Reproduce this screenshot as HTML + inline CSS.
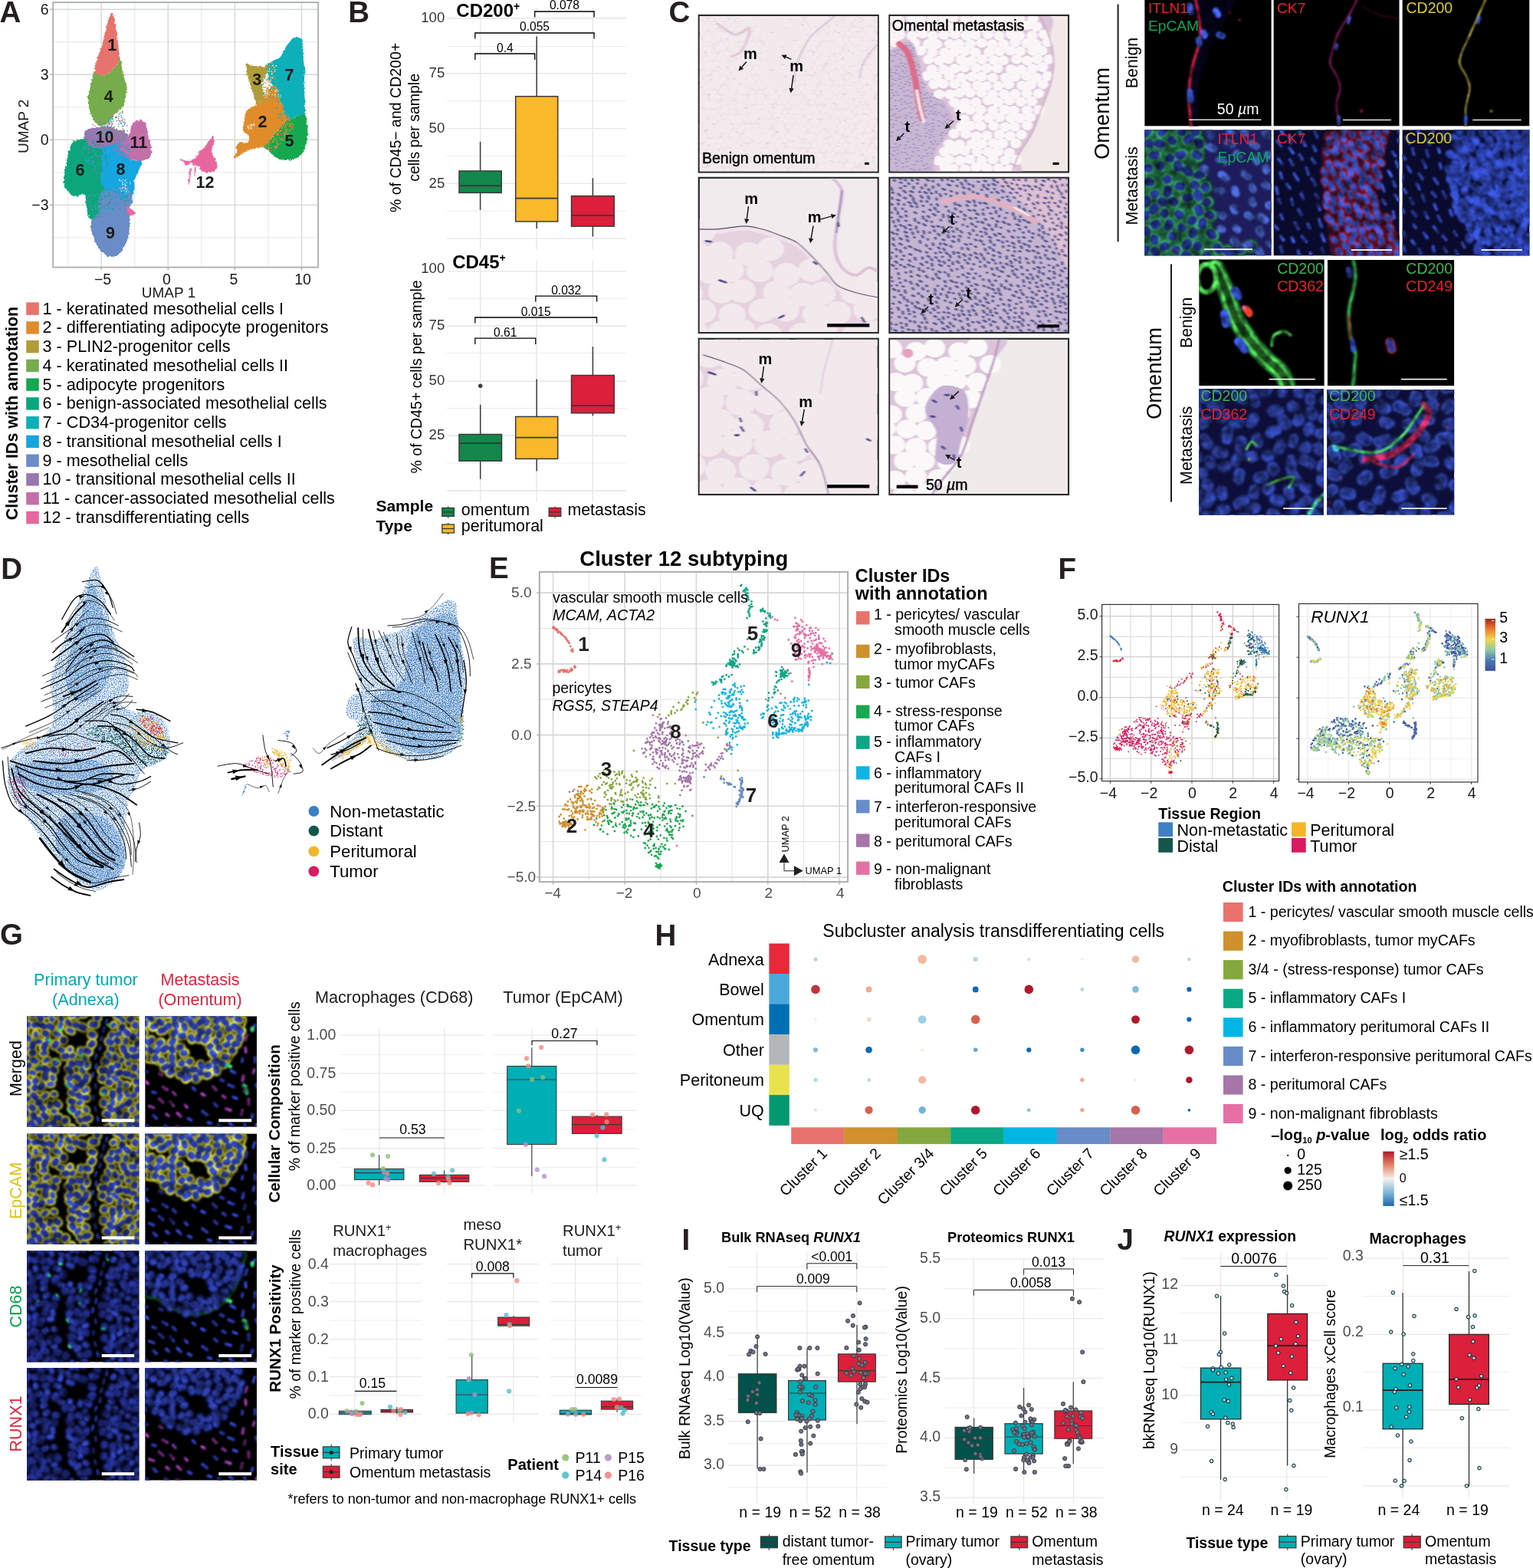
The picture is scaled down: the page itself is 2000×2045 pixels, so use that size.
<!DOCTYPE html>
<html lang="en"><head><meta charset="utf-8"><title>Figure</title>
<style>html,body{margin:0;padding:0;background:#fff}body{width:2000px;height:2045px;overflow:hidden}svg{display:block}text{font-family:'Liberation Sans', Arial, Helvetica, sans-serif;white-space:pre}</style></head>
<body><svg width="2000" height="2045" viewBox="0 0 2000 2045">
<defs>
<filter id="rough" x="-5%" y="-5%" width="110%" height="110%"><feTurbulence type="fractalNoise" baseFrequency="0.35" numOctaves="2" seed="4" result="n"/><feDisplacementMap in="SourceGraphic" in2="n" scale="4" xChannelSelector="R" yChannelSelector="G"/></filter>
<filter id="b3" filterUnits="userSpaceOnUse" x="0" y="0" width="100" height="100" color-interpolation-filters="sRGB"><feGaussianBlur stdDeviation="0.5" result="b"/><feTurbulence type="fractalNoise" baseFrequency="0.13" numOctaves="2" seed="8"/><feColorMatrix type="matrix" values="1.2 0 0 0 0.1 1.2 0 0 0 0.1 1.2 0 0 0 0.1 0 0 0 0 1" result="n"/><feComposite in="b" in2="n" operator="arithmetic" k1="1.2" k2="0.05"/></filter>
<filter id="b4" filterUnits="userSpaceOnUse" x="0" y="0" width="100" height="100"><feGaussianBlur stdDeviation="0.35"/></filter>
<filter id="spk" x="0" y="0" width="100%" height="100%"><feTurbulence type="fractalNoise" baseFrequency="0.75" numOctaves="1" seed="7" result="n"/><feColorMatrix in="n" type="matrix" values="0 0 0 0 0 0 0 0 0 0 0 0 0 0 0 0 0 0 7 -3.5" result="a"/><feComposite in="SourceGraphic" in2="a" operator="in"/></filter>
<filter id="spk2" x="0" y="0" width="100%" height="100%"><feTurbulence type="fractalNoise" baseFrequency="0.8" numOctaves="1" seed="19" result="n"/><feColorMatrix in="n" type="matrix" values="0 0 0 0 0 0 0 0 0 0 0 0 0 0 0 0 0 0 7 -3.45" result="a"/><feComposite in="SourceGraphic" in2="a" operator="in"/></filter>
<linearGradient id="spec" x1="0" y1="1" x2="0" y2="0"><stop offset="0" stop-color="#3f4da0"/><stop offset="0.2" stop-color="#4a7ab8"/><stop offset="0.4" stop-color="#8fc8a4"/><stop offset="0.6" stop-color="#f0d84a"/><stop offset="0.8" stop-color="#ee7a30"/><stop offset="1" stop-color="#a8241c"/></linearGradient>
<path id="g1a" d="M83 51l-1.9 0.5M-2.5 35.3l1.6 2.5M80.1 21.6l0.9 1.1M48.6 9.6l2.2 0.9M98.4 36.1l-2.8 0.5M13.6 82.4l1 1.2M10.6 93.4l0.7 2.2M44.2 54.7l1.8 1.4M0.9 7.4l-0.1 0.5M72.2 100.8l1.1 1M16.3 15.6l1 0.2M34.5 94.1l-0.6 0.7M4.2 82l1.3 1.3M69.2 67.9l-0.2 0.8M91.2 97.6l0.5 0.1M97.3 59.3l1.4 0.3M88.5 14.2l1.2 1.3M5.6 33.1l-0.8 0.1M75.7 46.5l-0.3 2.6M23.5 96.4l1.4 2.7M53.1 73.8l-1 0M0.5 19.7l0.9 0.7M85.7 28.6l1.2 2.8M-0.3 58.9l1.5 1.7M8.8 7.6l-1.9 0.4M1.6 44.4l-2 0.2M53 31.3l2 0.8M71.1 88.2l1.6 1.4M96.8 7.7l-0.4 1.1M53 55.1l-0.7 2.4M30.5 100.6l1.2 1.3M62.5 -1.1l0.3 2.4M37.3 47.4l1.7 2.5M96 45.8l-0.3 1.5M80.8 84.4l1.3 2.6M14 8.6l0.8 0.5M54.8 92l-2.6 1M79.9 -1.2l1.4 0.8M89.5 35.4l0.6 0.6M5.6 39.7l2 1M16.6 52.6l-0.2 3M10.9 -0.5l1.5 2.7M94.8 18.2l-0.5 0.9M69.8 40.7l1.3 0.7M73 59.7l0.7 0.2M20 9l2.1 1.3M39.3 76.8l1.6 0.6M91.3 77.2l-1.2 2M57.5 16.6l1.5 0.7M68.7 77.8l-0.1 1M99.4 65.7l-1.2 0.9M101.1 24.2l-2.6 1.2M26.2 78.9l1.6 1.2M93.3 29.9l2.5 0.3M72.8 23l2.1 0.8M5.9 71.5l1.8 1.7M3.8 96.7l1.4 0.5M32.4 21.3l-0.2 0.8M97.5 97.3l2.4 1.8M7.9 58.1l-0.4 0.9M23.7 48.2l0.8 0.6M88 51.6l1.6 0.4M49.6 60.1l-1.3 2.5M6.2 89.7l0 1.8M40.1 83.1l1.3 1.7M-0.7 86.8l-0.9 2.9M-2.4 -0.2l0.9 2.1M99.4 80.9l1.1 2.2M39.6 42.6l0.9 0.6M60.9 7.4l-2.8 0M26.3 91.3l2 0.4M89 89.1l-0.9 1.3M81 44.5l-0.8 0M85 9.8l-0.6 1.3M5.3 25l-0.7 2.6M26.1 24.6l-1.3 2M92.8 2.4l-0.8 0.4M8.2 100.9l2.1 2M44 8l-0.6 0M13.7 62.5l-1.3 1.8M76.4 69.3l0.1 2.3M14.8 89.2l2.4 1.9M45.5 42.3l2.6 0.5M58.4 24.3l-1 1.4M73.9 82.2l1.8 2.3M-1.9 12.9l-0.1 2M67.6 56l-0.3 0.5M11.4 77.6l-1.4 0.7M100.9 50.5l1.7 1.5M-1.8 49.7l0.3 1.5M69.6 48.9l-2.7 0.1M7.3 64.3l-0.3 0.7M38.8 55.5l-1.3 0.8M26.2 42l-1 0.2M46.3 71.5l1 1.3M82.4 66.6l0 0.9M16.8 -2.4l0.7 1M15.7 47.1l2.4 1.4M16.4 25.7l-1.2 2.9M44.4 63.4l-1.4 2.1M35.2 35.9l-1.6 0.2"/><path id="g1b" d="M20.8 79l-0.7 2.8M22 1.5l0.4 1.8M101.5 74.2l0.5 1.3M88.6 62l0.7 0.2M88.2 21.2l-0.2 2.5M100 90.4l-2.5 1.1M76.3 76l0.5 2.7M12 47.3l-2.6 0.4M41.1 35.4l-1 1.1M48.8 48.3l1.6 1.6M22.3 61.2l-2.4 0.3M30.4 7.3l-0.9 2.9M78.6 35.8l0.5 2.4M40.1 100.6l0.5 0.5M84.7 2.8l0.8 1.2M86.3 79.9l-2.3 1.6M17.2 71.2l-2 1.5M24 70.3l0.6 0.3M30.2 1.7l0.8 1.3M38.5 29.9l-0.1 0.5M51.9 38.2l-0.2 0.7M83.7 71.9l-1.4 2.7M37.1 61.1l2.2 1.7M83.8 97.7l-0.1 1M99.7 -2.1l2.4 1.6M29.3 29.9l2.5 1.1M37.3 12.5l2.8 1.2M23.8 85.9l1.2 0M25.7 15.6l2.9 1.2M18.9 97l-2.5 1.9M96.4 70.6l-2.3 1.4M18.5 39.2l-2.1 1.4M83 60.3l-0.4 1.6M4.1 51l1.9 0.4M93.4 54l2.8 0M39.4 69l2.2 1.6M81.3 91.9l1.2 0.6M0.5 66.7l0.4 1M11.6 22.9l-1.6 0.2M37.8 -2.4l2.3 1.7M18.4 20.8l0.2 1.6M53.3 66.5l-2.4 1.1M-0.5 29.2l-1.1 0.5M72.8 52.5l0.2 1.3M16.1 33.1l-2 0.7M101.2 31.1l0.9 1.9M82.9 15.7l-2.7 0.7M77.6 7.7l-0.9 0.8M48 77.9l-1.5 0.6M74.5 29.6l1.8 0.6M52 83.9l1.2 1.2M50.3 99.3l1.8 0.2M36.3 4.7l1.8 2.5M7.8 15.6l0.3 1.7M48.1 30.6l-0.5 2.3M4.3 -2.6l1.1 2M-1.5 80.1l0.2 2.6M1.5 74.5l-0.6 0.2M76.5 95.7l0.2 0.5M100.6 14.8l-0.8 2M46.9 93.3l0.8 0.7M52 -2.1l-1.7 0.8M93.9 83.8l-0.7 1.2M102.3 41.5l-0.9 0.8M88.5 68.7l1.1 2.6M72.3 34.3l1 2.2M75.8 16.5l-0.7 1.7M-0.2 98l-2.6 1.1M77.3 55.4l2.6 1.7M22.8 54.4l0.4 2.3M90.7 42.6l-0.8 0.1M84.6 39.4l-0.3 0.5M46.5 86.8l-2 2.1M53.6 43.4l-0.3 1.7M45.3 -0.4l-0.5 0.3"/><path id="g1c" d="M72.6 -3.7l-0.8 3.4M71.3 3.3l-0.4 3.5M68.9 10.5l-0.7 3.4M66.9 18.3l-1.1 3.3M65.7 26.6l-0.8 3.4M62 35l-1.1 3.3M62 43.3l-0.6 3.4M59 51.6l-0.6 3.4M61.1 61.6l0.3 3.5M59.4 72l0.1 3.5M60.4 82l1 3.4M62.9 91.1l0.7 3.4M62.3 100.3l0 3.5"/>
<path id="g1g" d="M30.9 11.9l-1.9 0.2M48.5 34.9l-1.1 2.1M35.5 62.2l1.1 1.6M37.5 85.3l1 1.4M19.5 21.4l1 1.1M47.3 46.8l-0.6 0.4M71.9 7.7l0.3 0.7M68.8 69.9l-1.6 0.1M26.7 39.2l0.7 1.7M10.2 44.9l-0.5 0.3"/>
<path id="g2a" d="M64.3 40.4l-2.1 0.7M84.4 18.6l-0.2 2.3M58.5 27.2l-0.5 0.6M66.7 15.8l-0.4 1.6M27.3 14.3l-1.8 1.8M78.4 31.1l-0.7 0.6M26.9 -0.5l-0.4 2.5M13 4.9l1.7 1.1M51.7 -1.2l0.5 3.2M79.5 9l2.8 1.7M40 40.8l-0.7 0.3M5.7 21.6l-2.2 2.4M0.2 6.1l0 1.1M31.8 28l-1.2 0.2M24.8 43.8l-0.4 0.8M-2.5 36.7l1.3 0.5M70 -0.2l-0.7 0.2M24.1 29.4l0.5 1.9M49.7 43.4l1.5 2.4M68.7 42.8l1.6 0.6M3.7 0l1.5 2.2M61.3 -0.9l-1.4 0.1M45.4 54.5l0.5 2.2M74 25.2l-1.8 0.9M9.4 37.2l-0.7 1.4M31.2 52.8l1.7 0.1M48.9 13.5l2.1 0.7M76.6 18.8l-1.5 0.9M36.5 47.6l0.4 1.8M82.4 2.6l2.1 0.4M44.2 -1.5l-0.9 1.2M34.2 17.4l-2.2 0.3M21.4 -1.9l-2.4 0.2M41 18.7l1.1 2.2M63.2 22.6l0.6 0.6M55.3 5.3l-0.4 0.9M56.9 52.6l-1.7 0.5M4.2 30l1 1.1M18.8 28.5l-2.4 1.9M14 23.5l-1.5 1.5M66.8 28.7l-0.9 0.2M71 36.7l1.5 0.3M63.7 46.4l0.2 3.4M35.5 33.3l-1.2 0.1M34.9 8.9l0.8 2.3M26.9 6.1l1.1 2.8M21.3 8.5l-1.6 1.4M44.8 48.2l-2.4 0.2M55.3 19.5l-1.7 2.8M13.9 -2l-3.2 0.6M64.7 10.2l-0.8 0.3M42 7.4l2.3 2.6M39 3.4l0.7 0.5M14.7 39.8l0.5 0.7M57.6 44.8l-1.2 0.7M56.9 13.4l-0.3 0.9M33.2 2.9l-0.6 0.6M74.6 11l0.6 0.8M60.1 33.2l1.8 1.8M76.3 -1.4l1 0.6M39.1 54.7l-2.9 1.7M-2.2 20.9l1.6 1.1M24.1 36.6l0.1 2.7M71 5l1.7 1.3M8.9 9l-1.7 0.7M25.4 22l-1.5 2M-1.3 29.6l-0.6 0.4M33.2 42l-0.9 1M19.5 45.2l-2.3 1.4M36.6 -2.6l0.1 1.3M-1.7 14.3l0.5 1M23.8 49.4l-1.4 1.8M11.7 30l-1.1 1.6M65.7 2.9l-1.8 1.6M16.5 12.6l-2.7 0.5M49.4 5.4l-0.9 0.8M82.4 24.8l-2.5 0.6M-2.4 -1.6l1.7 1.8M86.1 13.5l-0.8 0.5M47.9 18.8l-0.1 1.9M49.4 50.6l0.4 0.5"/><path id="g2b" d="M87 84.8l-1 4.3M89.8 28.3l0.3 4.5M50.8 70.1l2.6 1.6M96.2 89.1l-0.6 2.6M0.4 58.7l2.2 2.2M35.8 80.4l1.9 1.8M76.8 49.4l4 1.9M99.5 97.9l0.2 4.1M15.8 64.1l4 2.2M19.1 88.4l2.3 2M92.7 74.8l0.1 4.8M25.2 68.7l2 2.2M56.4 95.9l2.7 0.8M75.9 96.8l2.9 2.5M74.8 61.9l4.5 2M98.5 37.1l-0.2 4.3M98.4 8.2l-1.5 4.5M13 52.1l2.2 1.2M3.9 81.1l3.9 1.5M7.4 89.6l2.7 2.7M69.4 71.9l2.5 1.6M72.4 83.5l4.4 1.5M1.2 98.6l2.1 2.3M51.5 85.9l4 3M89.6 64.9l-0.8 2.8M28.8 87.5l3.1 3.1M38.5 92.3l2.9 1.6M99.6 61.6l0.4 2.6M79.1 72.9l2.8 1.2M61.9 78.8l2.5 2.4M89 97.5l1 2.7M88.1 53.8l-0.9 4.5M12.6 74.7l3.5 3.1M91.5 17.2l-1.5 4.5M42.9 64.7l1.8 2M87.3 38.3l-0.6 2.7M6.8 68.5l2.7 0.7M17.8 98.6l3.4 2.6M-1.1 48.8l2.6 1.6M60.7 63.5l2.9 3M22.5 77.4l3 3.5M28.3 99.4l2.8 1M67.6 57.3l2.6 1.1M97.7 48.1l-0.9 3.2M65.5 98.1l2.8 2.2"/><path id="g2r" d="M87 84.8l-1 4.3M89.8 28.3l0.3 4.5M50.8 70.1l2.6 1.6M0.4 58.7l2.2 2.2M35.8 80.4l1.9 1.8M99.5 97.9l0.2 4.1M15.8 64.1l4 2.2M19.1 88.4l2.3 2M92.7 74.8l0.1 4.8M25.2 68.7l2 2.2M13 52.1l2.2 1.2M3.9 81.1l3.9 1.5M69.4 71.9l2.5 1.6M72.4 83.5l4.4 1.5M89.6 64.9l-0.8 2.8M28.8 87.5l3.1 3.1M88.1 53.8l-0.9 4.5M12.6 74.7l3.5 3.1M91.5 17.2l-1.5 4.5M60.7 63.5l2.9 3M22.5 77.4l3 3.5M28.3 99.4l2.8 1M97.7 48.1l-0.9 3.2"/>
<path id="g2o" d="M-2.0 -2.0C12.2 -8.5 68.3 -4.8 83.0 -2.0C97.7 0.8 86.2 9.7 86.0 15.0C85.8 20.3 84.3 25.0 82.0 30.0C79.7 35.0 76.3 40.8 72.0 45.0C67.7 49.2 61.3 53.0 56.0 55.0C50.7 57.0 45.2 57.5 40.0 57.0C34.8 56.5 30.0 54.3 25.0 52.0C20.0 49.7 14.5 45.5 10.0 43.0C5.5 40.5 0.0 44.5 -2.0 37.0C-4.0 29.5 -16.2 4.5 -2.0 -2.0Z"/>
<path id="g2g" d="M73.6 44.5l2.8 1M90.7 66.5l0.5 3M96 11l0 2M88.1 62.5l1.7 1"/>
<filter id="b1" filterUnits="userSpaceOnUse" x="0" y="0" width="100" height="100" color-interpolation-filters="sRGB"><feGaussianBlur stdDeviation="0.6" result="b"/><feTurbulence type="fractalNoise" baseFrequency="0.11" numOctaves="2" seed="3"/><feColorMatrix type="matrix" values="1.2 0 0 0 0.1 1.2 0 0 0 0.1 1.2 0 0 0 0.1 0 0 0 0 1" result="n"/><feComposite in="b" in2="n" operator="arithmetic" k1="1.2" k2="0.05"/></filter>
<filter id="b2" x="0" y="0" width="100%" height="100%"><feGaussianBlur stdDeviation="0.8"/></filter>
<linearGradient id="rdbu" x1="0" y1="0" x2="0" y2="1"><stop offset="0" stop-color="#b2182b"/><stop offset="0.25" stop-color="#e58368"/><stop offset="0.5" stop-color="#f5f1ef"/><stop offset="0.75" stop-color="#7fb7d7"/><stop offset="1" stop-color="#1c68ad"/></linearGradient></defs>
<rect width="2000" height="2045" fill="#fff"/>
<line x1="88.7" y1="3.1" x2="88.7" y2="348.6" stroke="#e2e3e4" stroke-width="0.9"/>
<line x1="175.8" y1="3.1" x2="175.8" y2="348.6" stroke="#e2e3e4" stroke-width="0.9"/>
<line x1="262.9" y1="3.1" x2="262.9" y2="348.6" stroke="#e2e3e4" stroke-width="0.9"/>
<line x1="350.0" y1="3.1" x2="350.0" y2="348.6" stroke="#e2e3e4" stroke-width="0.9"/>
<line x1="69.2" y1="54.7" x2="415.0" y2="54.7" stroke="#e2e3e4" stroke-width="0.9"/>
<line x1="69.2" y1="139.8" x2="415.0" y2="139.8" stroke="#e2e3e4" stroke-width="0.9"/>
<line x1="69.2" y1="224.8" x2="415.0" y2="224.8" stroke="#e2e3e4" stroke-width="0.9"/>
<line x1="69.2" y1="309.9" x2="415.0" y2="309.9" stroke="#e2e3e4" stroke-width="0.9"/>
<line x1="132.2" y1="3.1" x2="132.2" y2="348.6" stroke="#d6d7d8" stroke-width="1.4"/>
<line x1="132.2" y1="348.6" x2="132.2" y2="352.1" stroke="#9a9ea2" stroke-width="1.2"/>
<text x="134.0" y="371.0" font-size="19.5" fill="#1a1a1a" text-anchor="middle">−5</text>
<line x1="219.3" y1="3.1" x2="219.3" y2="348.6" stroke="#d6d7d8" stroke-width="1.4"/>
<line x1="219.3" y1="348.6" x2="219.3" y2="352.1" stroke="#9a9ea2" stroke-width="1.2"/>
<text x="217.4" y="371.0" font-size="19.5" fill="#1a1a1a" text-anchor="middle">0</text>
<line x1="306.4" y1="3.1" x2="306.4" y2="348.6" stroke="#d6d7d8" stroke-width="1.4"/>
<line x1="306.4" y1="348.6" x2="306.4" y2="352.1" stroke="#9a9ea2" stroke-width="1.2"/>
<text x="305.0" y="371.0" font-size="19.5" fill="#1a1a1a" text-anchor="middle">5</text>
<line x1="393.5" y1="3.1" x2="393.5" y2="348.6" stroke="#d6d7d8" stroke-width="1.4"/>
<line x1="393.5" y1="348.6" x2="393.5" y2="352.1" stroke="#9a9ea2" stroke-width="1.2"/>
<text x="395.1" y="371.0" font-size="19.5" fill="#1a1a1a" text-anchor="middle">10</text>
<line x1="69.2" y1="12.2" x2="415.0" y2="12.2" stroke="#d6d7d8" stroke-width="1.4"/>
<line x1="65.2" y1="12.2" x2="69.2" y2="12.2" stroke="#9a9ea2" stroke-width="1.2"/>
<text x="63.5" y="19.2" font-size="19.5" fill="#1a1a1a" text-anchor="end">6</text>
<line x1="69.2" y1="97.2" x2="415.0" y2="97.2" stroke="#d6d7d8" stroke-width="1.4"/>
<line x1="65.2" y1="97.2" x2="69.2" y2="97.2" stroke="#9a9ea2" stroke-width="1.2"/>
<text x="63.5" y="104.2" font-size="19.5" fill="#1a1a1a" text-anchor="end">3</text>
<line x1="69.2" y1="182.3" x2="415.0" y2="182.3" stroke="#d6d7d8" stroke-width="1.4"/>
<line x1="65.2" y1="182.3" x2="69.2" y2="182.3" stroke="#9a9ea2" stroke-width="1.2"/>
<text x="63.5" y="189.3" font-size="19.5" fill="#1a1a1a" text-anchor="end">0</text>
<line x1="69.2" y1="267.4" x2="415.0" y2="267.4" stroke="#d6d7d8" stroke-width="1.4"/>
<line x1="65.2" y1="267.4" x2="69.2" y2="267.4" stroke="#9a9ea2" stroke-width="1.2"/>
<text x="63.5" y="274.4" font-size="19.5" fill="#1a1a1a" text-anchor="end">−3</text>
<g filter="url(#rough)">
<path d="M113.9 168.9C120.8 165.3 146.3 167.1 155.2 168.9C164.2 170.7 165.1 173.1 167.8 179.7C170.5 186.3 172.6 204.9 171.4 208.4C170.2 212.0 166.3 203.4 160.6 201.3C154.9 199.2 145.1 197.7 137.3 195.9C129.5 194.1 117.8 195.0 113.9 190.5C110.0 186.0 107.0 172.5 113.9 168.9Z" fill="#9678b0"/>
<path d="M128.3 190.5C133.7 184.5 152.8 190.5 160.6 197.7C168.4 204.9 173.8 222.8 175.0 233.6C176.2 244.4 175.0 256.4 167.8 262.4C160.6 268.3 138.5 274.3 131.9 269.5C125.3 264.7 128.9 246.8 128.3 233.6C127.7 220.4 122.9 196.5 128.3 190.5Z" fill="#12a6e0"/>
<path d="M112.1 248.0C114.8 240.5 131.0 240.5 135.5 242.6C140.0 244.7 139.7 253.7 139.1 260.6C138.5 267.4 135.2 279.4 131.9 283.9C128.6 288.4 122.6 293.5 119.3 287.5C116.0 281.5 109.4 255.5 112.1 248.0Z" fill="#08a67c"/>
<path d="M131.9 251.6C137.9 246.2 161.5 245.0 167.8 248.0C174.1 251.0 175.6 264.2 169.6 269.5C163.6 274.9 138.2 283.3 131.9 280.3C125.6 277.3 125.9 257.0 131.9 251.6Z" fill="#6a8cc8"/>
<path d="M95.9 185.1C100.3 181.3 101.9 182.0 106.7 181.5C111.5 181.0 110.1 181.9 113.9 183.3C117.7 184.7 116.3 184.0 121.1 186.9C125.9 189.8 127.6 188.8 131.9 194.1C136.2 199.3 136.3 198.5 137.3 206.6C138.2 214.8 136.9 216.5 135.5 224.6C134.0 232.8 133.3 230.0 131.9 237.2C130.4 244.4 131.0 243.9 130.1 251.6C129.1 259.2 129.5 258.3 128.3 265.9C127.1 273.6 127.5 274.6 125.6 280.3C123.7 286.1 123.7 287.0 121.1 287.5C118.5 288.0 117.9 286.9 115.7 282.1C113.5 277.3 114.0 275.8 113.0 269.5C112.1 263.3 113.3 263.1 112.1 258.8C110.9 254.4 112.4 254.1 108.5 253.4C104.7 252.7 103.0 257.0 97.7 256.1C92.5 255.1 92.6 254.3 88.8 249.8C84.9 245.2 84.6 245.7 83.4 239.0C82.2 232.3 83.3 232.3 84.3 224.6C85.2 217.0 85.3 217.9 87.0 210.2C88.6 202.6 88.2 202.6 90.5 195.9C92.9 189.2 91.6 188.9 95.9 185.1Z" fill="#08a67c"/>
<path d="M126.5 280.3C130.1 274.1 128.5 274.0 131.9 267.7C135.2 261.5 134.3 261.8 139.1 257.0C143.9 252.2 144.1 251.2 149.8 249.8C155.6 248.3 155.8 248.7 160.6 251.6C165.4 254.4 165.7 253.8 167.8 260.6C170.0 267.3 168.2 269.1 168.7 276.7C169.2 284.4 169.9 281.6 169.6 289.3C169.4 297.0 169.7 296.9 167.8 305.5C165.9 314.1 166.3 314.5 162.4 321.7C158.6 328.8 158.2 328.8 153.4 332.4C148.6 336.0 149.2 335.6 144.5 335.1C139.7 334.7 140.3 334.7 135.5 330.6C130.7 326.6 130.3 326.6 126.5 319.9C122.7 313.1 123.3 313.1 121.1 305.5C118.9 297.8 117.0 297.8 118.4 291.1C119.8 284.4 122.9 286.6 126.5 280.3Z" fill="#6a8cc8"/>
<path d="M133.7 195.9C136.8 188.2 139.2 188.3 144.5 186.9C149.7 185.4 149.1 187.1 153.4 190.5C157.8 193.8 155.8 194.7 160.6 199.5C165.4 204.3 165.2 205.6 171.4 208.4C177.6 211.3 181.1 207.4 184.0 210.2C186.9 213.1 184.1 213.5 182.2 219.2C180.3 225.0 180.2 225.6 176.8 231.8C173.4 238.0 172.5 236.4 169.6 242.6C166.7 248.8 168.4 250.9 166.0 255.2C163.6 259.5 164.9 259.7 160.6 258.8C156.3 257.8 155.6 254.4 149.8 251.6C144.1 248.7 143.9 252.3 139.1 248.0C134.3 243.7 133.6 244.0 131.9 235.4C130.2 226.8 132.3 226.2 132.8 215.6C133.3 205.1 130.6 203.5 133.7 195.9Z" fill="#12a6e0"/>
<path d="M121.1 170.7C125.9 166.9 125.2 166.5 131.9 165.3C138.6 164.1 140.5 164.3 146.3 166.2C152.0 168.1 151.3 168.4 153.4 172.5C155.6 176.6 155.8 177.4 154.3 181.5C152.9 185.6 152.6 185.1 148.1 187.8C143.5 190.4 143.5 189.9 137.3 191.4C131.0 192.8 130.7 194.1 124.7 193.2C118.7 192.2 117.7 191.4 114.8 187.8C111.9 184.2 112.2 184.2 113.9 179.7C115.6 175.1 116.3 174.5 121.1 170.7Z" fill="#9678b0"/>
<path d="M123.8 92.5C126.9 91.3 127.8 96.7 131.9 97.9C136.0 99.1 134.8 99.2 139.1 97.0C143.4 94.9 144.2 93.2 148.1 89.8C151.9 86.5 151.3 88.8 153.4 84.5C155.6 80.1 154.2 70.3 156.1 73.7C158.1 77.0 158.2 87.0 160.6 97.0C163.0 107.1 164.2 103.7 165.1 111.4C166.1 119.1 165.4 118.6 164.2 125.8C163.0 133.0 163.0 133.6 160.6 138.4C158.2 143.2 158.1 140.9 155.2 143.8C152.4 146.6 152.7 145.8 149.8 149.1C147.0 152.5 147.3 153.0 144.5 156.3C141.6 159.7 142.4 159.6 139.1 161.7C135.7 163.9 135.7 164.9 131.9 164.4C128.0 163.9 127.8 163.0 124.7 159.9C121.6 156.8 122.4 157.5 120.2 152.7C118.0 147.9 118.0 148.2 116.6 142.0C115.2 135.7 114.6 136.6 114.8 129.4C115.0 122.2 116.1 122.2 117.5 115.0C118.9 107.8 118.5 108.4 120.2 102.4C121.9 96.4 120.7 93.7 123.8 92.5Z" fill="#76ac4c"/>
<path d="M146.3 17.1C148.4 17.6 148.2 20.5 149.8 27.0C151.5 33.4 151.3 32.7 152.5 41.3C153.7 50.0 153.6 51.2 154.3 59.3C155.1 67.4 155.5 65.2 155.2 71.9C155.0 78.6 155.4 79.7 153.4 84.5C151.5 89.2 151.9 86.5 148.1 89.8C144.2 93.2 143.4 94.9 139.1 97.0C134.8 99.2 136.0 99.1 131.9 97.9C127.8 96.7 125.0 98.5 123.8 92.5C122.6 86.6 125.0 84.3 127.4 75.5C129.8 66.6 130.1 68.4 132.8 59.3C135.4 50.2 134.9 50.4 137.3 41.3C139.7 32.2 139.4 31.6 141.8 25.2C144.2 18.7 144.1 16.6 146.3 17.1Z" fill="#e8736c"/>
<path d="M175.0 159.0C178.8 156.9 181.5 155.6 185.8 157.2C190.1 158.9 189.2 159.8 191.2 165.3C193.2 170.8 191.9 171.7 193.3 177.9C194.8 184.1 195.7 182.0 196.6 188.7C197.4 195.4 198.5 197.8 196.6 203.1C194.7 208.3 194.7 206.8 189.4 208.4C184.1 210.1 182.6 210.3 176.8 209.3C171.1 208.4 172.1 208.0 167.8 204.9C163.5 201.7 163.5 201.5 160.6 197.7C157.8 193.8 156.6 194.3 157.0 190.5C157.5 186.6 159.6 187.1 162.4 183.3C165.3 179.5 165.4 180.9 167.8 176.1C170.2 171.3 169.5 169.9 171.4 165.3C173.3 160.8 171.2 161.2 175.0 159.0Z" fill="#c470a8"/>
<path d="M385.0 49.2C388.3 48.9 390.2 47.9 392.9 50.3C395.6 52.7 394.4 51.6 395.1 58.2C395.9 64.9 395.1 65.9 395.7 75.2C396.3 84.5 397.1 84.2 397.4 93.3C397.7 102.3 396.8 100.4 396.8 109.1C396.8 117.8 397.1 117.0 397.4 126.0C397.7 135.1 398.0 136.7 398.0 143.0C398.0 149.3 399.7 147.4 397.4 149.8C395.1 152.2 393.7 150.8 389.5 152.0C385.3 153.2 385.2 153.7 381.6 154.3C378.0 154.9 378.6 155.8 375.9 154.3C373.2 152.8 373.5 152.9 371.4 148.6C369.3 144.4 369.8 143.6 368.0 138.5C366.2 133.4 366.1 134.3 364.6 129.4C363.1 124.6 363.6 124.6 362.4 120.4C361.2 116.2 362.5 116.6 360.1 113.6C357.7 110.6 356.0 111.8 353.3 109.1C350.6 106.4 351.1 107.1 349.9 103.4C348.7 99.8 349.4 100.1 348.8 95.5C348.2 91.0 345.9 90.7 347.7 86.5C349.5 82.3 351.1 82.7 355.6 79.7C360.1 76.7 360.7 78.8 364.6 75.2C368.5 71.6 367.3 71.0 370.3 66.2C373.3 61.3 373.2 61.0 375.9 57.1C378.6 53.2 378.0 53.6 380.5 51.5C382.9 49.4 381.7 49.5 385.0 49.2Z" fill="#0cb0b8"/>
<path d="M321.1 83.1C322.9 81.9 324.7 84.5 328.5 85.4C332.2 86.3 331.0 86.2 335.3 86.5C339.5 86.8 341.0 86.8 344.3 86.5C347.6 86.2 346.6 83.6 347.7 85.4C348.7 87.2 348.9 88.8 348.2 93.3C347.6 97.8 347.1 98.1 345.4 102.3C343.8 106.5 342.6 104.9 342.0 109.1C341.4 113.3 342.6 113.3 343.2 118.1C343.8 123.0 345.2 123.6 344.3 127.2C343.4 130.8 342.2 129.3 339.8 131.7C337.4 134.1 337.1 136.8 335.3 136.2C333.4 135.6 334.5 133.7 333.0 129.4C331.5 125.2 331.4 125.8 329.6 120.4C327.8 115.0 328.2 115.1 326.2 109.1C324.3 103.1 323.5 102.9 322.3 97.8C321.1 92.7 322.0 93.8 321.7 89.9C321.4 86.0 319.3 84.3 321.1 83.1Z" fill="#b09c38"/>
<path d="M375.9 154.3C378.3 152.8 378.0 154.9 381.6 154.3C385.2 153.7 385.3 153.2 389.5 152.0C393.7 150.8 394.5 147.7 397.4 149.8C400.3 151.9 399.2 154.2 400.2 159.9C401.3 165.7 401.2 165.2 401.4 171.2C401.5 177.3 401.8 176.5 400.8 182.5C399.7 188.6 399.8 188.4 397.4 193.8C395.0 199.3 395.7 199.3 391.8 202.9C387.8 206.5 387.5 205.9 382.7 207.4C377.9 208.9 378.5 208.5 373.7 208.5C368.9 208.5 369.5 209.2 364.6 207.4C359.8 205.6 359.5 204.8 355.6 201.8C351.7 198.7 353.0 198.8 349.9 196.1C346.9 193.4 344.3 194.3 344.3 191.6C344.3 188.9 346.9 189.2 349.9 185.9C353.0 182.6 352.9 182.8 355.6 179.2C358.3 175.5 357.1 176.0 360.1 172.4C363.1 168.8 363.6 168.9 366.9 165.6C370.2 162.3 370.1 163.0 372.5 159.9C375.0 156.9 373.5 155.8 375.9 154.3Z" fill="#14a850"/>
<path d="M335.3 136.2C338.3 134.1 337.4 134.4 339.8 131.7C342.2 129.0 341.6 129.7 344.3 126.0C347.0 122.4 346.9 122.1 349.9 118.1C353.0 114.2 352.9 112.6 355.6 111.4C358.3 110.2 358.3 111.2 360.1 113.6C361.9 116.0 361.2 116.2 362.4 120.4C363.6 124.6 363.1 124.6 364.6 129.4C366.1 134.3 366.2 133.4 368.0 138.5C369.8 143.6 369.3 144.4 371.4 148.6C373.5 152.9 375.6 151.3 375.9 154.3C376.2 157.3 375.0 156.9 372.5 159.9C370.1 163.0 370.2 162.3 366.9 165.6C363.6 168.9 363.1 168.8 360.1 172.4C357.1 176.0 358.3 175.5 355.6 179.2C352.9 182.8 353.0 182.9 349.9 185.9C346.9 188.9 347.6 188.6 344.3 190.5C341.0 192.3 341.1 191.8 337.5 192.7C333.9 193.6 334.4 192.9 330.7 193.8C327.1 194.7 327.6 194.6 324.0 196.1C320.3 197.6 320.8 197.4 317.2 199.5C313.6 201.6 313.6 202.4 310.4 204.0C307.2 205.7 305.6 207.5 305.3 205.7C305.0 203.9 308.5 201.0 309.3 197.2C310.0 193.5 306.9 194.9 308.1 191.6C309.3 188.3 310.8 186.0 313.8 184.8C316.8 183.6 316.4 188.0 319.4 187.1C322.4 186.2 324.5 184.7 325.1 181.4C325.7 178.1 323.7 177.6 321.7 174.6C319.7 171.6 318.9 173.1 317.7 170.1C316.5 167.1 316.7 168.2 317.2 163.3C317.6 158.5 318.2 156.9 319.4 152.0C320.6 147.2 319.3 148.6 321.7 145.3C324.1 141.9 324.9 142.0 328.5 139.6C332.1 137.2 332.2 138.3 335.3 136.2Z" fill="#e08c2c"/>
<path d="M278.2 178.0C279.4 179.2 279.2 181.7 278.8 185.9C278.3 190.2 276.8 189.6 276.5 193.8C276.2 198.1 276.4 197.8 277.6 201.8C278.8 205.7 279.5 204.3 281.0 208.5C282.5 212.7 283.3 214.0 283.3 217.6C283.3 221.2 283.4 220.3 281.0 222.1C278.6 223.9 277.9 223.7 274.2 224.4C270.6 225.0 270.8 225.3 267.5 224.4C264.1 223.4 264.2 223.1 261.8 221.0C259.4 218.9 260.8 217.9 258.4 216.4C256.0 214.9 255.2 216.5 252.8 215.3C250.4 214.1 251.5 211.9 249.4 211.9C247.3 211.9 247.0 214.4 244.9 215.3C242.7 216.2 243.0 216.5 241.5 215.3C240.0 214.1 240.7 212.6 239.2 210.8C237.7 209.0 236.4 209.4 235.8 208.5C235.2 207.6 235.1 207.1 236.9 207.4C238.8 207.7 239.0 209.4 242.6 209.7C246.2 210.0 246.9 210.0 250.5 208.5C254.1 207.0 253.4 207.0 256.2 204.0C258.9 201.0 258.0 200.2 260.7 197.2C263.4 194.2 263.6 195.4 266.3 192.7C269.0 190.0 268.7 190.1 270.8 187.1C273.0 184.0 272.3 183.8 274.2 181.4C276.2 179.0 277.0 176.8 278.2 178.0Z" fill="#e8669e"/>
<line x1="248.8" y1="219.8" x2="246.2" y2="241.3" stroke="#e8669e" stroke-width="1.8"/>
<line x1="255.0" y1="216.4" x2="253.9" y2="228.9" stroke="#e8669e" stroke-width="1.5"/>
<path d="M166.0 269.5C167.4 268.9 174.7 274.9 175.9 276.7C177.1 278.5 174.6 279.7 173.2 280.3C171.9 280.9 169.0 282.1 167.8 280.3C166.6 278.5 164.7 270.1 166.0 269.5Z" fill="#e8669e"/>
</g>
<path d="M129.9 258.8h0m.6-5.1h0m1.4 5.1h0m.4 12h0m.4-8.9h0m5.7 4.7h0m.1-15h0m0 8.7h0m.6 2.6h0m0-12.6h0m.8 9.4h0m.2 5h0m.8-11.1h0m.1 14.8h0m0-3.3h0m.8-9.1h0m2.4 6.5h0m1.1 7.1h0m.2-21.9h0m.5-1.5h0m1.6 9.2h0m.6-5.8h0m.6-2.9h0m.1 22.2h0m.1-14.4h0m0 12.2h0m2.1-19.1h0m.4 26.6h0m1.1-3.6h0m1-16.8h0m.1-2.7h0m1 2h0m.4 .1h0m.2-1.6h0m.1 20.2h0m.4-25.6h0m.7 23.6h0m0-24.6h0m.4 14.5h0m1-8.1h0m.2 16.4h0m.3-23.5h0m.9 27.9h0m.9-5.2h0m.3-20.6h0m.4 8.6h0m.8-12.8h0m.2 24.5h0m.9-3.7h0m.4-20.8h0m.5 18.4h0m.7-2.9h0m1-1.4h0m1.6-2.1h0m1.1-.6h0m.8 .4h0m.6 .6h0m.7 .8h0" stroke="#9678b0" stroke-width="1.70" stroke-linecap="round" fill="none"/>
<path d="M129.1 262.9h0m4-12.4h0m0 22.2h0m.1-17.9h0m.3 16.3h0m.1-1.1h0m.5-21.4h0m1.1 10.1h0m1-7.9h0m.1-3.2h0m.1 18.5h0m.1-16h0m0 2.5h0m.4 9.2h0m.1-12h0m.3-2.9h0m0 14.9h0m2.2-12.6h0m.1 8.3h0m1.6-3.2h0m.2 3.2h0m0 5.1h0m.3-13.8h0m.1 26.4h0m.1-26.1h0m.3 19.5h0m0 3.5h0m.4-5.4h0m0-11.4h0m1.5-.3h0m.1 7.2h0m.2 .3h0m1.7 12h0m.1-12.9h0m.1 5.9h0m.1-1.8h0m.1-1.6h0m0-6.3h0m.6 .5h0m1.3-9.3h0m.1 21.8h0m.5-8.5h0m.6-8.9h0m1.2 14h0m.2-6.2h0m.3 8.9h0m.5-25h0m.3 16.6h0m.6-14.4h0m.1 19.9h0m.7 6.1h0m.5-24.5h0m0 11.9h0m1.7 11.3h0m.4-9.8h0m0 1.3h0m0-6.7h0m.1 .4h0m1-10.5h0m0-3.6h0m.1 27.7h0m.3-17.3h0m.6-7.9h0m.6 21.7h0m.3-22.7h0m.1 9.9h0m.1 10.7h0m0-12.5h0m0 1.3h0m.4-10.1h0m.2 17.2h0m.3-7.4h0m.2 17.2h0m.4-16h0m.6 4.3h0m.2 8.8h0m.4-13.5h0m.1-8.6h0m.4 17.3h0m0 1.6h0m.2-22.7h0m.7 21.3h0m.9-2.7h0m.8-11.2h0m.1-2.6h0m.2 11.3h0m.5-15.9h0m0 .1h0m.3 1.9h0m.2 12.7h0m.4-11.3h0m.2 .5h0m.1 1.8h0m.2 17.7h0m.2-21.4h0m.3 15.1h0m.5-10.6h0m.2-2.9h0m.2 8.3h0m.1 4.8h0m.6 2.6h0m.9-3.7h0" stroke="#6a8cc8" stroke-width="1.70" stroke-linecap="round" fill="none"/>
<path d="M130.6 264.3h0m.3-11.9h0m.5 3.7h0m4.3 13.1h0m.4 3.9h0m.3-16.7h0m2.3-9.1h0m.4 9.9h0m.1 14.6h0m.5-3.9h0m0-13.3h0m1.3 11.5h0m.8-19h0m.1 5h0m.3 .7h0m.5 12.4h0m.1-1h0m.4-8.4h0m.2 0h0m.9 4h0m1.8 11.7h0m.5 .9h0m3.1-6.3h0m.4-16.4h0m.8 7.6h0m.5-12.4h0m1 18.2h0m4.4-4.6h0m.5 .9h0m1.1 .7h0m1.3-9.4h0m1.3 11.3h0m1.3-4.5h0m.6-8.1h0m.2 14.5h0m.4 3.8h0m.6-6.3h0m.1-4.9h0m1.4 1.3h0m1.5 3.7h0m.2-.3h0m1.2-9.6h0" stroke="#08a67c" stroke-width="1.70" stroke-linecap="round" fill="none"/>
<path d="M131.2 266.5h0m.8-7.7h0m.1 10.8h0m.3-1.9h0m1.2-6.9h0m.3-9.5h0m1.6 7.1h0m.2-6.8h0m0 2.1h0m.3 19.1h0m.3-22.4h0m.3 9.4h0m.2-4.3h0m2.5 16.4h0m1.4-18.9h0m.2 18.3h0m2.5-9.5h0m0 2.2h0m.1-16.1h0m0 23.3h0m.5-19.2h0m1.7 3h0m0-8.2h0m.7 8.7h0m.5 11.2h0m0-12.5h0m.5 12.4h0m.1 7.8h0m.6-26.6h0m0 11.7h0m1 4.4h0m1.1-9.2h0m1.2 11.1h0m.2 2.7h0m1.7-3.4h0m.2-14.7h0m.3-4.3h0m0 6.2h0m.4 14.6h0m.4-20.5h0m.7 11.1h0m1.5 15.2h0m.1-13.3h0m2.2-11h0m1.1 4.7h0m.6 7.2h0m.1-2.1h0m.5-4.7h0m1.1-3h0m.6 2.7h0m2.1 2h0m.1 7.2h0m1-15.2h0m1.7-.8h0m.3 .7h0m.9 7.5h0m.7 1.9h0m.6 3h0" stroke="#12a6e0" stroke-width="1.70" stroke-linecap="round" fill="none"/>
<path d="M107.5 198.3h0m1.6-3.7h0m1.6-3h0m1.4 17.4h0m.4-21.9h0m.8 7.4h0m2.3 4.3h0m.1-4.9h0m.3 15.1h0m3.1-16.9h0m.2 13.4h0m.8 9.3h0m.6 8.3h0m.7-12.3h0m.3-25.9h0m.4 11.4h0m.5 20.2h0m0-6.4h0m.5 12.9h0m.8-19.9h0m.2 16.4h0m1.1-18.4h0m.5 24.5h0m.4-22.1h0m1.1 1.2h0m1.1 10.7h0m.8-12.1h0m.9-15.9h0m.4 15.8h0m1.3-5.2h0m.1-9.1h0m1 .1h0m.7 40.3h0m.5-22.4h0m2.3-16.3h0m.1 7h0m.4 22.4h0m3.2-8.9h0m.3-3.2h0m.6-2.1h0" stroke="#9678b0" stroke-width="1.70" stroke-linecap="round" fill="none"/>
<path d="M107.7 198.6h0m1.1 2.7h0m1.8-.6h0m.7-2h0m.1-11.2h0m.6 4h0m.3 5.2h0m.5 2.7h0m.4 1h0m.2 10.1h0m0-28.8h0m.6 14.1h0m0-7.6h0m.8 16.1h0m.3 .7h0m1.2-14.4h0m.5 27.3h0m1.1-27.8h0m.3 8.9h0m0-4.1h0m.3-3.1h0m.4 27.4h0m.6 1.9h0m.2-25.2h0m.9-10.3h0m.1 21.7h0m.1-22.8h0m1.2 40.9h0m.1-2.3h0m.2-9.5h0m.3-26h0m0 32.7h0m.1-4.6h0m1.2-6.9h0m0-.5h0m.2-17.7h0m.3 20.5h0m.3-5.5h0m.2-16.9h0m0 11.1h0m.1 0h0m.1-9.4h0m.1 37.6h0m.3-26.1h0m.1 19.1h0m.3 3.6h0m0-24.3h0m.2 11.6h0m.2 0h0m.2-5.9h0m.1-10h0m0 .9h0m.5-3.7h0m.4 1h0m.3 6.4h0m.8-11.4h0m.6 38.2h0m.1-23.9h0m.1 20.3h0m.5-28.9h0m.6 13.3h0m.3-8.5h0m.3 19.6h0m.7-9.3h0m.2-13.4h0m0 23.6h0m.9-20.4h0m.1-1.7h0m.2 26.3h0m0-33.7h0m.2 34.2h0m.2-3.1h0m.1-20.9h0m2.8-4.2h0m.2-1.5h0m.9 10.9h0m.1-2.3h0m.8-.9h0m.5 13.8h0m.8-8.2h0m.4 4.2h0m1 1.7h0" stroke="#08a67c" stroke-width="1.70" stroke-linecap="round" fill="none"/>
<path d="M107.7 198h0m3.4 8.7h0m.3-13.5h0m1.7-3.3h0m.7 20.5h0m.1 1.3h0m.5-2.4h0m.6-18.8h0m1.2 27h0m.1-11.8h0m0 3.4h0m1.8 1.5h0m2 2.2h0m.2-7.5h0m.4-16h0m.1 15h0m0-9.4h0m.1-4.6h0m.1 .8h0m.8 20h0m1.2 11.7h0m1.6-22.4h0m.1-15.3h0m.1 31.6h0m.1-15.5h0m.8 2.3h0m.1 9.6h0m2.5-16h0m1.4-6h0m1 3.1h0m.1 18h0m2.4-4.4h0m1.9 11.4h0m2.3-18.8h0m.1 8.4h0m.4 9.2h0m.1 1.8h0m.2-8.6h0" stroke="#12a6e0" stroke-width="1.70" stroke-linecap="round" fill="none"/>
<path d="M126.7 173.9h0m.5-15.1h0m1 2.2h0m1.5 12h0m1 1.8h0m.5-4h0m1.1-4.8h0m.8 1.5h0m0-9.6h0m.7 2.5h0m.2 16.3h0m0-1.3h0m.6-19.9h0m.1 12.7h0m.7-8.3h0m1.1 18.6h0m.5-1.9h0m2.7-8.6h0m0-6.4h0m.7 17.3h0m1.6-2.5h0m.1-9.7h0m0-5.5h0m1 21.8h0m2-10h0m.3-14.7h0m1.8 8.6h0m.2 15.3h0m.2-23.8h0m0 24.2h0m.3 1.1h0m1-17.3h0m0 12.5h0m0-7.7h0m0-6h0m.3 6.3h0m.3 .4h0m1.5-18.2h0m.5 16.1h0m.2-17.8h0m.6 1.2h0m1.4 17.9h0m.3 13.7h0m.6-19.9h0m.3 10.9h0m.3 4.2h0m.9 4.8h0m.5-5.7h0m0-6.2h0m2.1-16h0m0-4.2h0m.1 .3h0m.7-7.3h0m0 39h0m.2-37.5h0m.2-2h0m.5 36.8h0m.7-12.6h0m.5 1.8h0m.3 9.9h0m.8-6.4h0m0-18.5h0" stroke="#76ac4c" stroke-width="1.70" stroke-linecap="round" fill="none"/>
<path d="M117.9 171.4h0m3.1-1.7h0m.3-7.1h0m1 6.7h0m.9 3.7h0m.4-8.5h0m.8 5.9h0m7.5-13.1h0m.9 14.5h0m1.5-1.9h0m1.6 2h0m1.5 1.9h0m.1 5.8h0m.9-9.4h0m1 7h0m1.6-14.9h0m1.1-1.5h0m.7-.8h0m.6 13.1h0m1.5 9.2h0m.2-31.6h0m1.8 10.6h0m.4-11.7h0m0 30h0m.5-6.6h0m2.9-20.1h0m.2 17.9h0m.7 1.8h0m.3 5.9h0m.4-6.5h0m1.5 13.5h0m.6-31.1h0m.8-2.8h0m1.1 6.1h0m.2 .2h0m1.2 17.2h0m.5 2h0m0-2.8h0m1.6-3.4h0m.3 13h0m0-1h0m.1-14.9h0m.7-8.2h0m.1 4.6h0" stroke="#c470a8" stroke-width="1.70" stroke-linecap="round" fill="none"/>
<path d="M131.1 159.5h0m.2 3.3h0m2.8-2.2h0m4.8 14h0m1.2-10.2h0m0 15.7h0m1.7-9.2h0m.5 8h0m.6-25h0m.3 8.9h0m.5-2.1h0m1.7 6.2h0m.3-6.9h0m.1 2.3h0m.1 .4h0m1.7 5.4h0m4.6-10.4h0m1.8 23.2h0m.8 1.4h0m0-25.5h0m2.1-9.4h0m.1 36.5h0m1.2-22.7h0m1.5-3.3h0m.7-2.8h0m.9 23.2h0m1-8.2h0m0-7.6h0m.2-3.2h0m1.4 18.5h0m1.7-13.9h0" stroke="#9678b0" stroke-width="1.70" stroke-linecap="round" fill="none"/>
<path d="M124.2 168.8h0m.8 5.5h0m4.5 .3h0m1.1-.9h0m0-14.9h0m2.3 15.5h0m1.5-7.4h0m2.7 8.2h0m.4-13.1h0m.1 8h0m.4-.5h0m1.3 6.9h0m.1 2.6h0m.5-8.8h0m.7-5.3h0m.8 10.4h0m.4-18.2h0m.2 17.9h0m.2-19.2h0m1.1 10.3h0m.9-8.2h0m0 12.8h0m.6-15h0m.9 9h0m1.1-8.8h0m.2-1.5h0m2.3 16.4h0m2.5 2.3h0m.2-20.2h0m.2 31.3h0m2.1-2.4h0m.6-19.7h0m.2 17.2h0m.4-30.2h0m.9 38.1h0m.1-28.5h0m1.2-8.2h0m.1 9.9h0m.2 27.9h0m1.6-23.7h0m3.5-3.7h0m.9 15.4h0m2.2-5.6h0" stroke="#12a6e0" stroke-width="1.70" stroke-linecap="round" fill="none"/>
<path d="M149 193.8h0m.3 2.2h0m2.1-.7h0m.3-2.8h0m3.6 7.3h0m.3 2.4h0m.5-6.1h0m.5 5.5h0m.9-6.3h0m.5-8.4h0m.1 9.8h0m.2 4.5h0m.1-1.3h0m.2-9h0m1.4-8.5h0m.3 20.6h0m.9-1.4h0m.1-12.1h0m1.7 14.6h0m.8 .1h0m.3-1.1h0m.6-8.3h0m2-8.4h0m.3 17.4h0m1.4-11.7h0m.9 7.4h0m.7-1.7h0" stroke="#c470a8" stroke-width="1.70" stroke-linecap="round" fill="none"/>
<path d="M149.1 193.1h0m0 .4h0m2.4 6h0m2.9-10.1h0m1.1 7.2h0m0-.5h0m.2-9.5h0m.8-1.6h0m.3 4.4h0m0 .5h0m1.2-3.8h0m.6 .5h0m.3 14.4h0m1.5-15h0m.1 3.4h0m1.2 9.6h0m.4-9.7h0m.2 3.8h0m.5-9.8h0m.6 19.4h0m.7-21.6h0m.9 9.2h0m.3-.6h0m.6-.8h0m.5 1.5h0m1 3.5h0m.3 0h0m.6-1.4h0" stroke="#9678b0" stroke-width="1.70" stroke-linecap="round" fill="none"/>
<path d="M153.4 191.9h0m.6-3.5h0m.2-.9h0m.4 8.3h0m.7 5.7h0m.3-16.5h0m1.8 17h0m1.1 1.7h0m.1-.7h0m1.1-11.4h0m.5-1.8h0m.2-7.5h0m.9 1.1h0m1.9 8.5h0m.5 2.8h0m1 8.1h0m0-10.8h0m.8 1.9h0m.2-9.1h0m1.3-2.8h0m.3 14.1h0m0 6.8h0m.8-14.7h0m.6 6.9h0m1.1 2.9h0" stroke="#12a6e0" stroke-width="1.70" stroke-linecap="round" fill="none"/>
<path d="M117.1 262.5h0m.6 2.8h0m.1-5.3h0m.5 8.1h0m.3-5.4h0m.1-3.2h0m.3-.1h0m.6 15.8h0m.1-6.2h0m.1 4.7h0m.1 4.4h0m.1 3.5h0m0-26.8h0m.1 14.2h0m.4 .4h0m.5-4.6h0m.7 13.1h0m.2-19.6h0m.1 16.7h0m0 3.5h0m1-8.6h0m.2-18h0m.2 25.6h0m.2 .8h0m.1-12.4h0m.1 11h0m.9-.8h0m.1-26.5h0m.2 20.1h0m.8 .8h0m.2-.1h0m.2-10.1h0m.4 19.2h0m0-16.2h0m.1 7.1h0m.2-15.1h0m.2 .2h0m.3-2.3h0m.8 8.3h0m.1 11.8h0m.1-.2h0m.5-15.5h0m0 24.3h0m.1-21.4h0m.2 5.8h0m.2 11.4h0m.3-1.1h0m.5-5.1h0m0 9.9h0m.1-7.5h0m.3-11.8h0m.2-8.5h0m.1 6.4h0m.1 6.6h0m.6-7h0m.6 12.1h0m.2-14.7h0m.8 3.4h0" stroke="#08a67c" stroke-width="1.70" stroke-linecap="round" fill="none"/>
<path d="M116.2 255h0m1.3 7.9h0m1.2 6.3h0m.8-14.4h0m.3 17.9h0m.1-12.7h0m1.6 14.3h0m1-18.7h0m1.1 13.8h0m.5-13.6h0m.3 28.3h0m.4-12.5h0m.3 1.2h0m.3-7h0m2.5-4.6h0m.4-8.6h0m1.6 22.7h0m1.4-13.1h0m.2-.3h0m.5-.1h0m1.2 16.1h0m.3-11.3h0" stroke="#6a8cc8" stroke-width="1.70" stroke-linecap="round" fill="none"/>
<path d="M342.3 110.6h0m1.4-1.3h0m.4 12.6h0m.3-1h0m0 6.5h0m.1 3.5h0m1.3-29.2h0m1-.1h0m.1 26.7h0m.1-32.7h0m.2 25h0m.6-3.6h0m.1-26.4h0m1.6 12.4h0m0 .3h0m.1-9.5h0m.6 33.8h0m.2-39.2h0m.2 35h0m0-31.8h0m.3-8.4h0m.1 5.7h0m.1-3.3h0m0 39.8h0m1-41.9h0m0 33.8h0m1.3 5h0m.2-6.6h0m1-33.9h0m1.2 11.8h0m.4 13.9h0m.3 7.5h0m.1-18.6h0m.5 4.7h0m.1-1.8h0m.1 27.5h0m.1-28.6h0m.9 17.7h0m1.2-4.5h0" stroke="#0cb0b8" stroke-width="1.70" stroke-linecap="round" fill="none"/>
<path d="M342.2 123.6h0m.3-4.2h0m1.7-2h0m.8-23h0m.1 36.6h0m1.2-17.1h0m.4 15.5h0m.1-40.7h0m.2 5.8h0m0-4.6h0m.2 18.1h0m1.3-14.9h0m0 22h0m.1 14.2h0m0-25.1h0m.7 5.3h0m.3 5.4h0m1.1-14.7h0m.2 21.9h0m0 5.7h0m.5-42.7h0m.2 31.5h0m0 8.1h0m.4-18.2h0m1.1-2h0m.3 24.6h0m.4-16.6h0m.1 9.7h0m.4-39.7h0m0 10.1h0m.5 23h0m.2 15.2h0m.6-3.7h0m.9-40.3h0m0 7.1h0m.2-6.5h0m1.2 27.1h0m1-2.9h0m.1 4.7h0m1.1-9.6h0" stroke="#b09c38" stroke-width="1.70" stroke-linecap="round" fill="none"/>
<path d="M342.4 128.2h0m.2-2.1h0m0-5.8h0m1.6-6.2h0m.2-13.3h0m.1 24.9h0m.2-35.1h0m0 36.6h0m.4-19.7h0m.7-14.6h0m.5 29.7h0m.1-8.6h0m.4-19.3h0m.1 24.1h0m.5-33.9h0m.1 8.6h0m0 10.8h0m.1 14h0m.1 2h0m.9-2.3h0m.2-19.5h0m.2 4.6h0m.1-15.3h0m.2 26.6h0m.2-8.9h0m.1 11.1h0m.1-29.3h0m.1 12.4h0m.2 20h0m.5 5.1h0m0-18.5h0m.1 14.1h0m.1-.5h0m.2-2.5h0m.1-6.2h0m.1 12.4h0m0 .8h0m.1 6.7h0m.2-24.3h0m.3 4.6h0m.1-5.4h0m.5-19.3h0m.1 18.8h0m.4-12.1h0m.3-10.9h0m.3 18.6h0m.1-8.3h0m0-6.4h0m.5 27.4h0m1.2-24.1h0m.1-7.6h0m.2 18.7h0m.7 22.2h0m.3-37.1h0m.2 16.2h0m0 27.2h0m.3-35.2h0m.6-1.7h0m.6 6.5h0m.5 3.4h0m.5 22.5h0" stroke="#e08c2c" stroke-width="1.70" stroke-linecap="round" fill="none"/>
<path d="M357.5 118.9h0m2.3 7.4h0m1 3.6h0m.2 10.7h0m.1-17.8h0m.1 1.1h0m.1 17.5h0m.2-.6h0m1.2 .1h0m.5 8.7h0m.1-23.6h0m.3 23.7h0m.2-17h0m.3-4.9h0m.2 25.5h0m.4 .5h0m1.3-6h0m.4 5.9h0m.2-4.5h0m.1 2.9h0m.6 3.1h0m.7 1.6h0m.1-13.9h0m.2 19.7h0m.2-20.5h0m.1 7.6h0m0 6.1h0m.3-12.6h0m.8-.8h0m1.5 3.1h0m.7-3.3h0m1 12.8h0m.3-4.9h0m1.1 3.3h0m.4-2.6h0m.9 0h0" stroke="#0cb0b8" stroke-width="1.70" stroke-linecap="round" fill="none"/>
<path d="M358.2 123.9h0m.7-1.7h0m.1 5.5h0m.7 1.5h0m.4 1.8h0m0 2.6h0m.1-12h0m.1 11.4h0m.4 6.4h0m0-14.5h0m1 12.6h0m.4 3.6h0m.1-17.4h0m.1 7.5h0m.1 4h0m.2 10.1h0m.2-10.8h0m.1-4.6h0m.1 .1h0m.1 17.8h0m.1-7.1h0m.3-4h0m.1-8.4h0m.5 20.7h0m.2-21.7h0m.1 20h0m.1-1.6h0m.2-15h0m.1 10.4h0m0 3.3h0m0 1.7h0m.1-12.1h0m.4 3.3h0m.5 5.9h0m.3 10.3h0m.3-8.4h0m0-6.8h0m.1-1.8h0m0 8.6h0m.3 11.4h0m.1-6.2h0m.1 13.4h0m.1-.8h0m.1-17.7h0m0-9h0m.1 8.2h0m.1-2h0m.1 19.2h0m.1-26.5h0m.1 19.6h0m0-3.8h0m.1 .9h0m.2 3h0m0 .5h0m.6-16.6h0m.1-1.4h0m.3 5.5h0m.6-2.8h0m.4 21.4h0m.2-4.4h0m0 5.1h0m0-7.1h0m.3-10.5h0m.2 13.1h0m0-.2h0m.4 .8h0m.2-2.7h0m.1-7.3h0m0 5.6h0m.1 .2h0m.1-8.8h0m.2 2.6h0m.1 6.9h0m0 .7h0m.2-3.7h0m1.2-.8h0m.4 7.2h0m0-3.6h0m1.2 1h0m.9-5.3h0m.3 5.1h0m0-1.6h0m.2-.3h0m0-.2h0" stroke="#e08c2c" stroke-width="1.70" stroke-linecap="round" fill="none"/>
<path d="M347.8 192.8h0m.8-2.7h0m.6 .5h0m.6-.3h0m1.6-2h0m2.2 5.6h0m.5-3.5h0m.3 5.1h0m.1-10.2h0m.3 7.3h0m.4-12.3h0m0 0h0m.4 16.2h0m.1-15.8h0m.3 9.4h0m1.9-6.5h0m.2 2.5h0m.6 1.3h0m.2 6.3h0m1.2-12h0m.2-4.7h0m1.6 2.4h0m1-4.5h0m1.4-1.2h0m.8 4.6h0m.1 9.5h0m.4-3.3h0m2.5-12.6h0m.4-2h0m.5 0h0m.3 3.1h0m0-7.7h0m.5 9.3h0m0-3.3h0m1.2 .9h0m.4-3.9h0m.6-1.9h0m.2 .2h0m.4-1h0m.4 4.4h0m.2-5.9h0m.1 .6h0m.3 9.5h0m.7-4.1h0m.2 6.6h0m.2-10.7h0m1.1-4.5h0m.4-2.2h0m.1 4.7h0m.9 8.2h0m.1-1.6h0m1.1-9.1h0m.1-3.8h0m0 6.6h0m0 7.6h0m.5-10.6h0m.9 8.7h0m.2-6.7h0m1.9 3.1h0m.5-.5h0" stroke="#14a850" stroke-width="1.70" stroke-linecap="round" fill="none"/>
<path d="M346.4 190.8h0m1.1-.3h0m2.3 1.7h0m.1-3.6h0m.3 5.7h0m.5-1.2h0m.1-7.4h0m.3 7.8h0m.3-3.7h0m.6 3.4h0m.6-6.2h0m.2 9.6h0m1.5-3.5h0m1-8.2h0m1-.7h0m.6 .9h0m.3-3.6h0m.2-2.5h0m.1 .1h0m.1 12h0m.4-7.9h0m.4 12.2h0m.8-2.8h0m.4-1.5h0m.1 1.1h0m.2-11.8h0m0 10.7h0m0-.4h0m.6 2.3h0m.1-6.2h0m.1-4.9h0m0 8.4h0m.1-14.7h0m.4 8.8h0m.1-10.4h0m.2 17.6h0m.7-15.5h0m.2 11.4h0m.1-14h0m.5 15.4h0m0-13.9h0m.4 1h0m.4-5.7h0m.1 2.2h0m.2 7.1h0m1.2-8.9h0m.2 16.4h0m.1-5.4h0m.1 .4h0m.6-10.8h0m.6-1.3h0m.3 4.9h0m.1 6.8h0m.4-14.1h0m.5-1.7h0m.1 14.1h0m.6 3.1h0m.6-1h0m1.3-8.3h0m.1 1.6h0m.1-2h0m.1 3.4h0m.1 2.6h0m.3-4.5h0m0-8.7h0m.1 2.3h0m.4-2.6h0m.4 6.9h0m0-1.7h0m.2-6.5h0m.1-1.2h0m.7 5.7h0m.2-.6h0m.3 .2h0m0 2.5h0m.1 3h0m.4 1.4h0m.1-4.5h0m.2-10.2h0m0 1h0m1.2 12.8h0m1.2-17.7h0m.3 3.6h0m.1 2.2h0m.2-7.3h0m.1 15.4h0m0-6.3h0m.2-7.2h0m.3 11.7h0m0-6.7h0m.2-7h0m.6 13.6h0m.5-4.4h0m.3-3.8h0m.5 .8h0m.2 3.7h0m1.3-3.2h0m0 5.6h0m.2-.4h0m.7-2.4h0" stroke="#e08c2c" stroke-width="1.70" stroke-linecap="round" fill="none"/>
<path d="M344 101.9h0m.2 1.2h0m.6 1.2h0m1.5-4.3h0m.1-2.4h0m.1 7.6h0m.3-3.8h0m.2-3.6h0m.4 9.8h0m.2-1.5h0m0-5.4h0m0-2.2h0m.1-1.2h0m.3 13.2h0m.2-2.7h0m.6-9.5h0m0 10h0m0-8.5h0m.3-6.8h0m.1 8.6h0m.1-.2h0m.1 2.9h0m.1 5.4h0m.3-12h0m.1 11.2h0m.2-10.6h0m0 6.4h0m.1 .2h0m0-5.5h0m.1-6.7h0m.1 16.1h0m.8-.7h0m0 6.8h0m.1-25.2h0m.1 0h0m.3 16h0m.1-12.2h0m0-2.5h0m.4 15.8h0m1 1.2h0m.1-.1h0m0-4.6h0m.2-2.2h0m.2 4.1h0m.6-12.3h0m.1 3.5h0m.6-1.2h0m0 2h0m.3 3.6h0m.3-15.7h0m.1 16.4h0m0-16.1h0m.7 .1h0m1.6 5.2h0m.3-3h0m.1 5.6h0m.3-.2h0m1-2.1h0m.2-5.6h0m1.1 .8h0" stroke="#fff" stroke-width="1.20" stroke-linecap="round" fill="none"/>
<path d="M322.7 164.6h0m.5 .2h0m.4 2h0m0-1.1h0m.4 .8h0m.4 2h0m0-3.4h0m.1 3.4h0m.2-.5h0m.5-4.8h0m1.5 3.5h0m.4-2.9h0m.2-1.7h0m0 5.8h0m.4-2.2h0m.1-2.8h0m.6 1.1h0m.2-.2h0m.1 3.8h0m.4-4.8h0m1.4-.9h0m.7 2.4h0m0-1.9h0m.4-1.3h0m0 1.8h0" stroke="#fff" stroke-width="1.20" stroke-linecap="round" fill="none"/>
<path d="M345.2 127.8h0m.4-10.2h0m.5 1.3h0m.2 3.9h0m.2-4h0m.7 7.9h0m.7-5.6h0m.4 3.6h0m0-2.3h0m.5 5.2h0m.3-6.4h0m.4-1.1h0m.5 2.2h0m1.6 1.4h0m.3-3.2h0m2.8-3.5h0m.5 6.4h0m3.4 .2h0m.1-5.6h0m.2 1.8h0m.1 6.7h0m.2-7.1h0m.4 4.6h0m1-5.5h0m.2-.9h0m2.5 1.3h0m.3 6.6h0m.3-2.4h0m2.2 1.1h0m.2 2.3h0" stroke="#fff" stroke-width="1.20" stroke-linecap="round" fill="none"/>
<path d="M155.3 234.2h0m.4 .7h0m.5 10.7h0m.5-9.4h0m1 9.8h0m.4-10.9h0m0 13.8h0m.8 .7h0m.7-9.8h0m0 6h0m.1-8h0m0 7.9h0m.3-1.6h0m0-3.7h0m.3-5.9h0m.2 6.5h0m.2-3.6h0m.7 7.4h0m.5 4h0m.9-6.8h0m0-2.3h0m.1-4.1h0m.5 8.6h0m0 2h0m0-10.3h0m0 16.7h0m.1-11.7h0m.6 8.2h0m.1-7h0m0 4.9h0m.1-12.7h0m.6 15.5h0m.2 .7h0m0-4.9h0m.3-7.7h0m1.1 9.7h0m1.6 2.9h0m1.5-12.8h0m.3 2.2h0m.3-.3h0" stroke="#fff" stroke-width="1.20" stroke-linecap="round" fill="none"/>
<text x="146.3" y="65.5" font-size="21.5" fill="#1a1a1a" text-anchor="middle" font-weight="bold">1</text>
<text x="141.8" y="133.4" font-size="21.5" fill="#1a1a1a" text-anchor="middle" font-weight="bold">4</text>
<text x="136.4" y="185.5" font-size="21.5" fill="#1a1a1a" text-anchor="middle" font-weight="bold">10</text>
<text x="180.8" y="192.7" font-size="21.5" fill="#1a1a1a" text-anchor="middle" font-weight="bold">11</text>
<text x="104.6" y="229.0" font-size="21.5" fill="#1a1a1a" text-anchor="middle" font-weight="bold">6</text>
<text x="157.6" y="227.7" font-size="21.5" fill="#1a1a1a" text-anchor="middle" font-weight="bold">8</text>
<text x="144.1" y="311.3" font-size="21.5" fill="#1a1a1a" text-anchor="middle" font-weight="bold">9</text>
<text x="335.3" y="111.0" font-size="21.5" fill="#1a1a1a" text-anchor="middle" font-weight="bold">3</text>
<text x="377.6" y="105.4" font-size="21.5" fill="#1a1a1a" text-anchor="middle" font-weight="bold">7</text>
<text x="342.6" y="166.4" font-size="21.5" fill="#1a1a1a" text-anchor="middle" font-weight="bold">2</text>
<text x="377.6" y="191.3" font-size="21.5" fill="#1a1a1a" text-anchor="middle" font-weight="bold">5</text>
<text x="267.5" y="244.9" font-size="21.5" fill="#1a1a1a" text-anchor="middle" font-weight="bold">12</text>
<rect x="69.2" y="3.1" width="345.8" height="345.5" fill="none" stroke="#a9aeb2" stroke-width="1.8"/>
<text x="220.0" y="388.3" font-size="19" fill="#1a1a1a" text-anchor="middle">UMAP 1</text>
<text x="37.5" y="164.8" font-size="19" fill="#1a1a1a" text-anchor="middle" transform="rotate(-90 37.5 164.8)">UMAP 2</text>
<text x="-0.5" y="28.6" font-size="38.5" fill="#231f20" font-weight="bold">A</text>
<rect x="34.2" y="394.4" width="16.6" height="16.4" fill="#e8736c"/>
<text x="55.6" y="409.6" font-size="21.6" fill="#000">1 - keratinated mesothelial cells I</text>
<rect x="34.2" y="419.2" width="16.6" height="16.4" fill="#e08c2c"/>
<text x="55.6" y="434.4" font-size="21.6" fill="#000">2 - differentiating adipocyte progenitors</text>
<rect x="34.2" y="443.9" width="16.6" height="16.4" fill="#b09c38"/>
<text x="55.6" y="459.1" font-size="21.6" fill="#000">3 - PLIN2-progenitor cells</text>
<rect x="34.2" y="468.7" width="16.6" height="16.4" fill="#76ac4c"/>
<text x="55.6" y="483.9" font-size="21.6" fill="#000">4 - keratinated mesothelial cells II</text>
<rect x="34.2" y="493.4" width="16.6" height="16.4" fill="#14a850"/>
<text x="55.6" y="508.6" font-size="21.6" fill="#000">5 - adipocyte progenitors</text>
<rect x="34.2" y="518.2" width="16.6" height="16.4" fill="#08a67c"/>
<text x="55.6" y="533.4" font-size="21.6" fill="#000">6 - benign-associated mesothelial cells</text>
<rect x="34.2" y="543.0" width="16.6" height="16.4" fill="#0cb0b8"/>
<text x="55.6" y="558.2" font-size="21.6" fill="#000">7 - CD34-progenitor cells</text>
<rect x="34.2" y="567.7" width="16.6" height="16.4" fill="#12a6e0"/>
<text x="55.6" y="582.9" font-size="21.6" fill="#000">8 - transitional mesothelial cells I</text>
<rect x="34.2" y="592.5" width="16.6" height="16.4" fill="#6a8cc8"/>
<text x="55.6" y="607.7" font-size="21.6" fill="#000">9 - mesothelial cells</text>
<rect x="34.2" y="617.2" width="16.6" height="16.4" fill="#9678b0"/>
<text x="55.6" y="632.4" font-size="21.6" fill="#000">10 - transitional mesothelial cells II</text>
<rect x="34.2" y="642.0" width="16.6" height="16.4" fill="#c470a8"/>
<text x="55.6" y="657.2" font-size="21.6" fill="#000">11 - cancer-associated mesothelial cells</text>
<rect x="34.2" y="666.8" width="16.6" height="16.4" fill="#e8669e"/>
<text x="55.6" y="682.0" font-size="21.6" fill="#000">12 - transdifferentiating cells</text>
<text x="23.3" y="539.0" font-size="21.5" fill="#000" text-anchor="middle" font-weight="bold" transform="rotate(-90 23.3 539.0)">Cluster IDs with annotation</text>
<line x1="582.8" y1="23.8" x2="817.2" y2="23.8" stroke="#e6e6e6" stroke-width="1.4"/>
<line x1="582.8" y1="60.6" x2="817.2" y2="60.6" stroke="#e6e6e6" stroke-width="0.8"/>
<line x1="582.8" y1="95.7" x2="817.2" y2="95.7" stroke="#e6e6e6" stroke-width="1.4"/>
<line x1="582.8" y1="131.7" x2="817.2" y2="131.7" stroke="#e6e6e6" stroke-width="0.8"/>
<line x1="582.8" y1="167.6" x2="817.2" y2="167.6" stroke="#e6e6e6" stroke-width="1.4"/>
<line x1="582.8" y1="203.6" x2="817.2" y2="203.6" stroke="#e6e6e6" stroke-width="0.8"/>
<line x1="582.8" y1="239.4" x2="817.2" y2="239.4" stroke="#e6e6e6" stroke-width="1.4"/>
<line x1="582.8" y1="275.0" x2="817.2" y2="275.0" stroke="#e6e6e6" stroke-width="0.8"/>
<line x1="582.8" y1="311.1" x2="817.2" y2="311.1" stroke="#e6e6e6" stroke-width="1.4"/>
<line x1="626.7" y1="10.0" x2="626.7" y2="325.4" stroke="#e6e6e6" stroke-width="1.3"/>
<line x1="700.0" y1="10.0" x2="700.0" y2="325.4" stroke="#e6e6e6" stroke-width="1.3"/>
<line x1="773.3" y1="10.0" x2="773.3" y2="325.4" stroke="#e6e6e6" stroke-width="1.3"/>
<text x="580.3" y="29.0" font-size="18.6" fill="#333" text-anchor="end">100</text>
<text x="580.3" y="100.9" font-size="18.6" fill="#333" text-anchor="end">75</text>
<text x="580.3" y="172.8" font-size="18.6" fill="#333" text-anchor="end">50</text>
<text x="580.3" y="244.6" font-size="18.6" fill="#333" text-anchor="end">25</text>
<line x1="626.6" y1="184.9" x2="626.6" y2="223.0" stroke="#3a3a3a" stroke-width="1.5"/>
<line x1="626.6" y1="251.4" x2="626.6" y2="273.9" stroke="#3a3a3a" stroke-width="1.5"/>
<rect x="599.0" y="223.0" width="55.2" height="28.4" fill="#13874b" stroke="#3a3a3a" stroke-width="1.5"/>
<line x1="599.0" y1="242.2" x2="654.2" y2="242.2" stroke="#3a3a3a" stroke-width="1.9500000000000002"/>
<line x1="700.2" y1="47.4" x2="700.2" y2="125.7" stroke="#3a3a3a" stroke-width="1.5"/>
<line x1="700.2" y1="288.9" x2="700.2" y2="298.1" stroke="#3a3a3a" stroke-width="1.5"/>
<rect x="672.7" y="125.7" width="55.0" height="163.2" fill="#f9b92a" stroke="#3a3a3a" stroke-width="1.5"/>
<line x1="672.7" y1="258.6" x2="727.7" y2="258.6" stroke="#3a3a3a" stroke-width="1.9500000000000002"/>
<line x1="773.4" y1="232.3" x2="773.4" y2="255.6" stroke="#3a3a3a" stroke-width="1.5"/>
<line x1="773.4" y1="295.1" x2="773.4" y2="308.5" stroke="#3a3a3a" stroke-width="1.5"/>
<rect x="745.5" y="255.6" width="55.7" height="39.5" fill="#dc1f3a" stroke="#3a3a3a" stroke-width="1.5"/>
<line x1="745.5" y1="281.0" x2="801.2" y2="281.0" stroke="#3a3a3a" stroke-width="1.9500000000000002"/>
<path d="M697.7 22.6V15.0H775.1V22.6" fill="none" stroke="#000" stroke-width="1.3"/>
<text x="736.4" y="12.3" font-size="15.6" fill="#000" text-anchor="middle">0.078</text>
<path d="M619.8 50.4V43.0H775.1V50.4" fill="none" stroke="#000" stroke-width="1.3"/>
<text x="697.5" y="40.3" font-size="15.6" fill="#000" text-anchor="middle">0.055</text>
<path d="M619.8 78.0V70.0H697.7V78.0" fill="none" stroke="#000" stroke-width="1.3"/>
<text x="658.8" y="67.5" font-size="15.6" fill="#000" text-anchor="middle">0.4</text>
<text x="595.3" y="22.0" font-size="24" fill="#000" font-weight="bold">CD200<tspan font-size="14" dy="-9">+</tspan></text>
<text x="523.5" y="166.4" font-size="19.5" fill="#000" text-anchor="middle" transform="rotate(-90 523.5 166.4)">% of CD45− and CD200+</text>
<text x="547.5" y="166.4" font-size="19.5" fill="#000" text-anchor="middle" transform="rotate(-90 547.5 166.4)">cells per sample</text>
<text x="454.3" y="28.6" font-size="38.5" fill="#231f20" font-weight="bold">B</text>
<line x1="582.8" y1="353.9" x2="817.2" y2="353.9" stroke="#e6e6e6" stroke-width="1.4"/>
<line x1="582.8" y1="389.2" x2="817.2" y2="389.2" stroke="#e6e6e6" stroke-width="0.8"/>
<line x1="582.8" y1="425.0" x2="817.2" y2="425.0" stroke="#e6e6e6" stroke-width="1.4"/>
<line x1="582.8" y1="460.6" x2="817.2" y2="460.6" stroke="#e6e6e6" stroke-width="0.8"/>
<line x1="582.8" y1="497.2" x2="817.2" y2="497.2" stroke="#e6e6e6" stroke-width="1.4"/>
<line x1="582.8" y1="532.5" x2="817.2" y2="532.5" stroke="#e6e6e6" stroke-width="0.8"/>
<line x1="582.8" y1="568.3" x2="817.2" y2="568.3" stroke="#e6e6e6" stroke-width="1.4"/>
<line x1="582.8" y1="603.9" x2="817.2" y2="603.9" stroke="#e6e6e6" stroke-width="0.8"/>
<line x1="582.8" y1="640.0" x2="817.2" y2="640.0" stroke="#e6e6e6" stroke-width="1.4"/>
<line x1="626.7" y1="340.0" x2="626.7" y2="654.3" stroke="#e6e6e6" stroke-width="1.3"/>
<line x1="700.0" y1="340.0" x2="700.0" y2="654.3" stroke="#e6e6e6" stroke-width="1.3"/>
<line x1="773.3" y1="340.0" x2="773.3" y2="654.3" stroke="#e6e6e6" stroke-width="1.3"/>
<text x="580.3" y="356.3" font-size="18.6" fill="#333" text-anchor="end">100</text>
<text x="580.3" y="429.8" font-size="18.6" fill="#333" text-anchor="end">75</text>
<text x="580.3" y="501.9" font-size="18.6" fill="#333" text-anchor="end">50</text>
<text x="580.3" y="573.1" font-size="18.6" fill="#333" text-anchor="end">25</text>
<line x1="626.7" y1="527.7" x2="626.7" y2="566.5" stroke="#3a3a3a" stroke-width="1.5"/>
<line x1="626.7" y1="601.2" x2="626.7" y2="624.7" stroke="#3a3a3a" stroke-width="1.5"/>
<rect x="599.0" y="566.5" width="55.5" height="34.7" fill="#13874b" stroke="#3a3a3a" stroke-width="1.5"/>
<line x1="599.0" y1="578.0" x2="654.5" y2="578.0" stroke="#3a3a3a" stroke-width="1.9500000000000002"/>
<line x1="700.2" y1="494.4" x2="700.2" y2="543.4" stroke="#3a3a3a" stroke-width="1.5"/>
<line x1="700.2" y1="598.4" x2="700.2" y2="614.6" stroke="#3a3a3a" stroke-width="1.5"/>
<rect x="672.7" y="543.4" width="55.0" height="55.0" fill="#f9b92a" stroke="#3a3a3a" stroke-width="1.5"/>
<line x1="672.7" y1="570.6" x2="727.7" y2="570.6" stroke="#3a3a3a" stroke-width="1.9500000000000002"/>
<line x1="773.4" y1="452.1" x2="773.4" y2="489.5" stroke="#3a3a3a" stroke-width="1.5"/>
<line x1="773.4" y1="538.8" x2="773.4" y2="542.4" stroke="#3a3a3a" stroke-width="1.5"/>
<rect x="745.5" y="489.5" width="55.7" height="49.2" fill="#dc1f3a" stroke="#3a3a3a" stroke-width="1.5"/>
<line x1="745.5" y1="529.0" x2="801.2" y2="529.0" stroke="#3a3a3a" stroke-width="1.9500000000000002"/>
<circle cx="626.7" cy="503.2" r="2.7" fill="#3a3a3a"/>
<path d="M698.8 393.6V386.2H778.6V393.6" fill="none" stroke="#000" stroke-width="1.3"/>
<text x="738.7" y="383.5" font-size="15.6" fill="#000" text-anchor="middle">0.032</text>
<path d="M619.8 421.4V414.0H778.6V421.4" fill="none" stroke="#000" stroke-width="1.3"/>
<text x="699.2" y="411.5" font-size="15.6" fill="#000" text-anchor="middle">0.015</text>
<path d="M619.8 449.0V441.2H698.8V449.0" fill="none" stroke="#000" stroke-width="1.3"/>
<text x="659.3" y="439.0" font-size="15.6" fill="#000" text-anchor="middle">0.61</text>
<text x="590.2" y="350.4" font-size="24" fill="#000" font-weight="bold">CD45<tspan font-size="14" dy="-9">+</tspan></text>
<text x="550.0" y="491.4" font-size="19.5" fill="#000" text-anchor="middle" transform="rotate(-90 550.0 491.4)">% of CD45+ cells per sample</text>
<text x="490.4" y="667.0" font-size="21" fill="#000" font-weight="bold">Sample</text>
<text x="490.4" y="693.3" font-size="21" fill="#000" font-weight="bold">Type</text>
<line x1="584.6" y1="660.4" x2="584.6" y2="675.4" stroke="#3a3a3a" stroke-width="1.2"/>
<rect x="576.8" y="662.4" width="15.6" height="11.0" fill="#13874b" stroke="#3a3a3a" stroke-width="1.3"/>
<line x1="576.8" y1="667.9" x2="592.4" y2="667.9" stroke="#3a3a3a" stroke-width="1.3"/>
<text x="601.8" y="671.8" font-size="21.4" fill="#000">omentum</text>
<line x1="724.0" y1="660.4" x2="724.0" y2="675.4" stroke="#3a3a3a" stroke-width="1.2"/>
<rect x="716.2" y="662.4" width="15.6" height="11.0" fill="#dc1f3a" stroke="#3a3a3a" stroke-width="1.3"/>
<line x1="716.2" y1="667.9" x2="731.8" y2="667.9" stroke="#3a3a3a" stroke-width="1.3"/>
<text x="740.4" y="671.8" font-size="21.4" fill="#000">metastasis</text>
<line x1="584.6" y1="682.0" x2="584.6" y2="697.0" stroke="#3a3a3a" stroke-width="1.2"/>
<rect x="576.8" y="684.0" width="15.6" height="11.0" fill="#f9b92a" stroke="#3a3a3a" stroke-width="1.3"/>
<line x1="576.8" y1="689.5" x2="592.4" y2="689.5" stroke="#3a3a3a" stroke-width="1.3"/>
<text x="601.8" y="692.6" font-size="21.4" fill="#000">peritumoral</text>
<text x="872.5" y="28.6" font-size="38.5" fill="#231f20" font-weight="bold">C</text>
<rect x="910.7" y="18.9" width="236.1" height="206.7" fill="#2a2a2c"/>
<svg x="912.7" y="20.9" width="232.1" height="202.7" viewBox="0 0 100 100" preserveAspectRatio="none" overflow="hidden"><rect width="100" height="100" fill="#f0e7e9"/><g filter="url(#b4)">
<rect width="100" height="100" fill="#ebdde4"/>
<path d="M-4 -3.6h0M-0.9 -4.2h0M3.7 -3.8h0M6.4 -4.2h0M10.8 -4.1h0M13.5 -3.6h0M17.2 -3.8h0M21.3 -4h0M25.3 -4.3h0M28.5 -4.4h0M32.5 -4.4h0M35.6 -3.6h0M39.6 -4.4h0M43.2 -3.6h0M46.2 -3.7h0M49.7 -4.4h0M53.2 -4.2h0M57.6 -4h0M61.3 -3.6h0M64.1 -4.1h0M67.5 -3.9h0M71.7 -3.9h0M74.8 -3.9h0M78.4 -3.6h0M82.4 -4.4h0M86.5 -3.5h0M89.4 -3.5h0M93 -4h0M96.9 -3.7h0M99.9 -4.5h0M103.6 -4.1h0M-1.9 -0.6h0M1 -0.6h0M4.7 -1.4h0M8.6 -0.4h0M12.6 -0.9h0M16.1 -1.2h0M19 -0.4h0M23.2 -1.2h0M26.4 -0.6h0M29.7 -1.2h0M34.1 -1.2h0M37.3 -1h0M41 -1.1h0M44.3 -0.6h0M48.5 -0.4h0M51.3 -1.3h0M55.8 -1.1h0M59.3 -1.1h0M62.5 -0.7h0M66.1 -0.9h0M69.3 -0.5h0M73.5 -1.1h0M77 -0.7h0M81.1 -1.4h0M84.7 -0.8h0M87.3 -1h0M91.6 -1.3h0M95.1 -0.8h0M98.7 -1.4h0M101.7 -0.4h0M-4.4 1.9h0M-0.3 1.7h0M3.5 2.5h0M6.6 2.3h0M10.4 2.4h0M13.6 1.7h0M17.2 2.7h0M21.7 2h0M25 1.9h0M28.5 2.1h0M32.1 2.7h0M36 2.7h0M39.6 2.2h0M42.5 2.6h0M46.6 1.9h0M49.9 1.8h0M53.9 2.7h0M56.7 2.4h0M61.2 2.7h0M64.6 1.8h0M68.1 2.1h0M71.7 2.1h0M74.9 2.3h0M78.4 1.8h0M82.5 2.5h0M85.6 1.8h0M89.5 1.8h0M93.7 2h0M96.3 2.2h0M100.4 2.2h0M104.1 1.8h0M-2.6 5.5h0M0.9 5.3h0M4.7 5.6h0M8.6 5.5h0M12 5.3h0M15.8 5.3h0M19.5 5.3h0M23.3 5.3h0M26.3 4.9h0M29.7 4.8h0M33.4 5.6h0M37.6 5.1h0M41.4 5.1h0M44.5 5.6h0M47.9 5.3h0M51.6 5.6h0M55 5.3h0M59.2 5.6h0M63.1 5.3h0M66.3 5h0M69.6 5.6h0M73.9 5.2h0M76.6 5.5h0M80.2 5.1h0M83.7 5.5h0M88.1 4.9h0M91.6 5.2h0M94.9 5.4h0M98.6 5.4h0M102 5.3h0M-3.6 8.2h0M-0.4 8.2h0M3 8.1h0M7.1 8.4h0M9.9 8.8h0M13.9 8.1h0M17.7 8.1h0M21.2 8.7h0M24.7 8.3h0M28.3 8.1h0M32.2 8.3h0M35.3 8.9h0M39.6 8.1h0M43 8.1h0M46.2 8.4h0M49.5 7.9h0M53.9 8.3h0M57 8.1h0M61.2 8.8h0M64 8.9h0M67.7 8h0M71.5 8.6h0M74.7 8.2h0M78.5 8.4h0M82.1 8.7h0M86.3 8.8h0M89.1 8.5h0M93.6 8.5h0M96.8 8.8h0M100.7 8.1h0M103.6 8.9h0M-2.4 11.6h0M1.6 11.4h0M5.1 12h0M8.7 11.5h0M11.9 11.8h0M15.5 12h0M19.7 12h0M23.1 12h0M26.3 12.1h0M30.6 11.8h0M33.3 11.3h0M37.1 11.7h0M41 11.9h0M44.7 11.5h0M47.9 11.8h0M51.8 11.6h0M55.4 11.1h0M58.6 11.3h0M63.1 11.7h0M66 11.5h0M69.6 11.2h0M73.9 11.7h0M77.5 11.8h0M80.1 11.5h0M84.1 11.7h0M88.2 11.5h0M91.3 12h0M95.1 11.5h0M98.1 12.1h0M102.2 11.8h0M-3.7 14.3h0M-0.8 14.8h0M3.6 14.7h0M6.4 14.5h0M10 14.4h0M13.9 14.6h0M17.5 15h0M21.2 14.6h0M24.5 14.3h0M28.2 14.8h0M31.9 14.7h0M36 14.3h0M39.4 15.1h0M42.5 14.7h0M46.3 14.6h0M50.3 14.8h0M53.3 14.3h0M57.3 14.5h0M61 14.5h0M64.5 14.7h0M68 14.4h0M71.7 14.4h0M75.4 14.6h0M78.5 14.8h0M82.2 15h0M86 15.1h0M89.4 15.1h0M93.5 14.6h0M96.7 14.9h0M100.6 14.3h0M103.9 14.3h0M-1.8 18h0M1.5 17.7h0M4.8 18.1h0M8.1 17.5h0M12.1 18.3h0M15.4 18.2h0M18.9 17.9h0M22.6 18.2h0M26.1 18h0M29.8 18.2h0M33.3 18.2h0M37.7 18.2h0M41.1 17.6h0M44.7 17.4h0M48.5 17.7h0M51.8 18.2h0M55.7 17.9h0M58.5 17.4h0M62.2 17.6h0M65.8 17.4h0M70.1 18.4h0M73.3 18.1h0M77.1 17.7h0M80.2 18h0M84.2 18.2h0M88 17.5h0M91.7 17.8h0M94.9 18h0M98.3 18h0M101.8 17.3h0M-4.4 21h0M-0.2 21h0M3.3 20.6h0M6.3 21.4h0M10.3 21h0M13.5 20.7h0M18.1 21.1h0M20.7 21.5h0M25.3 20.5h0M28.6 20.6h0M32 21.4h0M35.8 20.9h0M39.2 20.5h0M43.3 20.7h0M46.6 21.2h0M49.6 21.2h0M53.7 20.5h0M57.7 20.8h0M60.4 20.5h0M64.2 20.8h0M68.1 21.4h0M71.3 21.1h0M75.1 20.9h0M78.4 21.2h0M82.8 21.1h0M86.3 21.1h0M89.6 21h0M92.8 20.7h0M96.9 21.5h0M100.9 21.2h0M103.9 21.5h0M-2.1 24.3h0M1.6 24.3h0M5 23.5h0M8.7 24.2h0M12.4 24.4h0M15.8 24.2h0M19.3 24.6h0M22.6 24.5h0M26.6 24h0M30.7 24.4h0M34.1 24.2h0M37.7 24.4h0M41.1 23.6h0M44.1 24.4h0M48.7 23.7h0M51.7 24.1h0M55.4 24.4h0M59.1 24.3h0M62.1 24.5h0M66.4 24.2h0M70.2 24h0M73.2 23.9h0M76.8 23.6h0M80.9 24.2h0M84 23.9h0M88.2 24h0M91.7 24.5h0M94.8 24.4h0M99 24.5h0M101.8 23.8h0M-3.8 26.7h0M-0.8 27.3h0M3.1 27.6h0M6.4 26.8h0M10.5 27.6h0M13.7 27.4h0M17.5 26.7h0M20.8 27.4h0M24.6 27.7h0M28.7 27.7h0M31.6 27.3h0M35.9 27.2h0M39.7 27.5h0M43.2 26.9h0M46.6 26.8h0M49.7 27.3h0M54 27.2h0M57.2 27.3h0M61.1 27.2h0M64.3 27.3h0M68.2 27.5h0M71.1 27.1h0M75 27.4h0M78.4 26.8h0M82.6 27.2h0M86 26.9h0M89.3 27.2h0M92.7 27.1h0M97.3 27.3h0M100.5 27.3h0M104.1 26.8h0M-2.1 30.6h0M1.7 30.1h0M5.3 30.4h0M8.7 30.8h0M12.4 30.6h0M15.8 30.6h0M19.4 30.6h0M22.5 30.3h0M27 29.8h0M30.3 30h0M33.3 30.2h0M36.9 30.5h0M41.5 30.5h0M44.6 29.9h0M48 30.5h0M51.6 30.7h0M55.6 30h0M59.4 29.9h0M62.3 30.7h0M66.4 29.9h0M69.3 29.8h0M73.7 30.4h0M77.4 30.7h0M80.4 30h0M84.1 30.4h0M87.3 29.9h0M91 30.3h0M95.4 29.8h0M98.8 30.4h0M102.7 29.8h0M-4.4 33.5h0M0.1 32.9h0M3.5 32.9h0M6.7 33.1h0M10.1 33.3h0M13.9 33.2h0M17.9 33.5h0M21.3 33.2h0M24.3 33.3h0M27.9 33.2h0M32 33.8h0M35.2 33.1h0M38.7 33.7h0M43.1 33.3h0M46.9 33.1h0M50 33.5h0M53.4 33.4h0M57.5 33.2h0M60.3 33.4h0M64.9 33.3h0M67.5 33.5h0M72 33.7h0M74.8 33.1h0M78.7 33h0M82.6 33h0M86.5 33.9h0M89.3 33.2h0M93.6 33.3h0M97 33.3h0M100.7 33.5h0M104.3 33.5h0M-2.5 36.8h0M1.4 36.8h0M4.6 36h0M8.8 37h0M12.3 36.6h0M15.4 36.4h0M19.6 36.3h0M23.2 36.7h0M26.4 36.3h0M30.1 36.7h0M34 36.5h0M37.2 36.2h0M40.6 36.6h0M44.9 36.5h0M48.4 36.4h0M51.8 37h0M55.1 36.1h0M58.5 36.4h0M62.4 36.1h0M66 36.5h0M69.9 37h0M73.2 36.9h0M76.7 36.6h0M80.1 36h0M84.2 36h0M87.8 37h0M91.4 36.8h0M94.6 36.5h0M98.5 36h0M102.7 36.1h0M-4.1 39.2h0M-0.5 39.9h0M3.7 40.1h0M7.2 40.1h0M10.3 39.7h0M13.5 40.2h0M17.8 39.2h0M21.5 39.4h0M24.6 39.2h0M28.6 39.4h0M32 40h0M35.7 39.5h0M39.2 39.4h0M42.3 39.9h0M45.9 39.9h0M50.5 39.5h0M54.1 39.6h0M57.5 39.6h0M60.9 39.9h0M64.2 40.1h0M68.1 39.5h0M71.2 39.8h0M75.3 39.3h0M78.4 39.6h0M82.7 39.2h0M86.5 40.1h0M89.6 39.9h0M93.4 40h0M96.3 39.3h0M100.7 39.9h0M104 39.3h0M-2.3 42.5h0M1.8 42.5h0M5.5 43.2h0M9.1 43h0M12 42.4h0M15.9 42.5h0M19.3 42.4h0M22.9 42.6h0M26.2 42.5h0M29.7 42.4h0M33.8 43.1h0M37.7 42.6h0M41.2 42.6h0M44.8 42.2h0M48.2 42.4h0M51.6 42.6h0M55.7 42.4h0M59.3 43.2h0M62.8 42.8h0M65.7 42.4h0M70.1 42.6h0M73.1 43.1h0M77.1 42.6h0M80.2 42.8h0M84.1 42.7h0M87.3 42.7h0M91.5 42.7h0M95.2 42.6h0M98.6 42.9h0M102.6 42.8h0M-4.1 45.5h0M0 45.7h0M2.8 45.9h0M6.5 45.4h0M10.1 45.4h0M14.1 46.3h0M17.8 45.8h0M20.7 45.5h0M24.5 45.8h0M28.3 45.5h0M31.8 45.6h0M35.5 45.4h0M39.3 45.8h0M43.1 45.4h0M46 46h0M49.7 45.4h0M53.7 45.4h0M57.4 46.2h0M61.2 46.2h0M64.2 45.7h0M68.5 45.8h0M72 46.1h0M75.5 46.1h0M79.2 46.3h0M82.9 45.7h0M85.9 46.2h0M89.6 45.4h0M93.7 46.4h0M97 45.5h0M100.3 46.1h0M104.4 45.9h0M-2.7 48.6h0M0.9 48.7h0M4.8 48.7h0M8.1 49.1h0M12.7 48.5h0M16.2 49.3h0M19.1 49h0M23.1 48.5h0M26.1 48.5h0M29.7 49.1h0M33.9 48.7h0M37.9 49h0M40.7 48.6h0M45.1 49.1h0M48.6 49.5h0M51.4 48.6h0M55.1 48.9h0M59.1 49.2h0M62.4 49.4h0M66.7 48.8h0M70.3 49.1h0M73.7 49.4h0M76.8 48.6h0M80.6 48.6h0M84.2 49.4h0M87.5 48.7h0M90.9 48.9h0M95 49.3h0M98.6 48.9h0M102.4 49.5h0M-3.7 52.4h0M-0.1 51.8h0M3 52.4h0M7.3 52.1h0M10.3 52.2h0M14.1 52.3h0M17.6 51.9h0M21.6 51.9h0M24.7 52.6h0M28.9 52.5h0M32.4 52.1h0M35.1 52.2h0M39.7 52.2h0M42.6 51.8h0M46.8 52.1h0M49.6 52.2h0M53.3 52.5h0M57 52.4h0M61.2 52.2h0M64.1 52.3h0M68.4 52.6h0M71.8 51.8h0M75.3 52.4h0M78.7 51.8h0M82.4 52.6h0M85.6 51.6h0M89.2 51.8h0M93.4 52.1h0M96.7 51.8h0M100.7 52.5h0M103.8 51.9h0M-2.7 55.2h0M1.2 55.1h0M4.5 55.6h0M8.2 55.2h0M12.7 55.7h0M15.6 55.1h0M19.2 55.2h0M23 55.1h0M27.1 55.7h0M29.9 55.1h0M33.5 55h0M37.4 55.2h0M40.9 54.7h0M45 55h0M47.9 55h0M51.9 55.3h0M54.9 55.2h0M58.8 55.5h0M62.9 54.9h0M66.7 54.9h0M70.1 55.3h0M73.3 55.6h0M76.8 54.9h0M80.2 55.2h0M84.4 55h0M88.3 55.4h0M91.2 55.1h0M95.5 54.8h0M98.6 55.6h0M102.5 55.4h0M-3.6 58.5h0M-0.3 58.1h0M3.4 58h0M6.6 57.9h0M10 57.9h0M14.4 58.4h0M18 58.2h0M21.6 58.2h0M24.4 58.5h0M28.6 58.9h0M32.3 58.7h0M35.8 58h0M38.8 58.5h0M42.8 58.6h0M46.1 58.7h0M49.7 57.9h0M53.6 58.8h0M57.4 58h0M60.3 58.8h0M64.3 58.5h0M67.9 58.9h0M71.8 58.7h0M75.1 58.4h0M79.1 58.2h0M82.2 58.1h0M85.9 58.3h0M90.1 58.7h0M93.1 58.5h0M97 58.3h0M100.7 58.6h0M103.8 57.9h0M-2.3 61.6h0M1.1 61.3h0M4.6 61.6h0M8.2 62h0M11.9 61.2h0M15.4 61h0M18.9 61.6h0M23.1 61.3h0M26.2 61.2h0M30.2 62h0M33.8 62h0M37 61.5h0M40.9 61.1h0M44.6 61.3h0M48.6 62h0M52 61.4h0M55.6 61.5h0M58.8 61.6h0M62.2 61.3h0M65.8 61.5h0M70.1 61h0M73.5 61.7h0M77.2 61.9h0M80.5 61.9h0M84 61.5h0M88.2 61.1h0M91.5 61.9h0M94.5 61.3h0M98.4 61.7h0M101.9 61.3h0M-4.3 64.1h0M0 64.6h0M2.8 64.4h0M6.5 64.7h0M10.5 64.9h0M13.8 64.6h0M17.3 65h0M21.3 65h0M24.5 64.7h0M28.3 64.6h0M31.5 64.6h0M35.7 64.6h0M38.7 64.4h0M43 64.5h0M46.1 64.9h0M50.5 64.4h0M54.1 65h0M56.7 64.7h0M61 64.9h0M64.7 64.7h0M67.9 64.1h0M71.1 64.7h0M75.5 64.8h0M79.2 64.7h0M82.8 64.3h0M85.6 64.3h0M89.8 65.1h0M92.9 65.1h0M96.4 64.5h0M99.9 64.1h0M103.8 64.5h0M-2.4 67.4h0M1.8 67.3h0M5.4 67.9h0M8.2 67.5h0M12.1 68.2h0M15.5 68.2h0M19.3 67.2h0M22.7 67.5h0M26.7 67.2h0M30.5 67.3h0M34.2 67.3h0M37.7 68.1h0M40.9 68.1h0M44.7 67.7h0M48.4 67.4h0M51.9 67.9h0M55.8 67.4h0M58.8 67.6h0M63 67.5h0M65.9 68.2h0M70 68.2h0M73.2 67.9h0M76.6 67.8h0M81 67.8h0M84.5 68h0M87.7 67.3h0M91.8 68.1h0M95.2 67.3h0M98.4 68h0M102.1 68.1h0M-4.4 70.7h0M-0.2 70.8h0M3.5 70.8h0M6.5 71.3h0M10.5 71.1h0M13.6 70.8h0M17.1 71.3h0M20.9 70.5h0M24.6 71.1h0M28.1 71.2h0M31.6 71.1h0M35.4 70.5h0M38.8 70.4h0M43.2 71.2h0M45.9 70.7h0M50.3 70.9h0M54.1 71h0M56.9 70.9h0M60.9 70.8h0M64.6 70.6h0M68.4 71.2h0M71.5 70.9h0M75.2 70.8h0M79.2 70.8h0M82.3 70.4h0M85.6 70.9h0M89.7 71.1h0M92.8 70.5h0M96.5 70.7h0M99.9 71h0M103.8 70.9h0M-1.7 74.2h0M1 74.2h0M5.5 74.3h0M9.1 73.7h0M12 73.5h0M15.6 74h0M19.8 74.2h0M23 73.6h0M26.9 74.4h0M30.1 74.2h0M33.6 74.2h0M37.3 73.7h0M40.6 74.4h0M45.1 73.4h0M47.9 73.5h0M52.3 74.1h0M55.1 74.5h0M58.5 73.5h0M63.1 73.7h0M65.9 74h0M69.6 74.4h0M73.9 73.8h0M77.1 73.9h0M80.5 74h0M83.8 73.7h0M88.3 74.2h0M91 73.4h0M94.8 73.6h0M99 73.5h0M102.1 73.6h0M-4 76.6h0M-0.5 77.4h0M3 77.5h0M6.7 76.6h0M10.1 76.9h0M14.1 77.3h0M18.1 76.5h0M21.2 77.4h0M25.3 77.5h0M28.4 77.2h0M31.9 77h0M35.8 77.5h0M38.8 76.9h0M43.3 77.5h0M46.2 76.6h0M50.2 77h0M53.4 77.2h0M57.3 76.8h0M61.1 77.2h0M64 77.4h0M67.9 77.5h0M71.1 76.6h0M75.4 77.2h0M78.4 77.4h0M82.9 76.9h0M86.2 77.1h0M89.7 76.9h0M93.5 77.2h0M96.9 76.6h0M100.7 77h0M103.9 77.6h0M-1.8 80.6h0M1 79.7h0M5.2 80.7h0M8.3 80.3h0M11.8 80.1h0M15.7 80.1h0M19.4 80.1h0M23 80.3h0M26.8 79.8h0M30.6 80.5h0M33.6 79.8h0M37.3 80.2h0M41 79.8h0M44.6 80.4h0M48 79.7h0M52.3 80.1h0M55.2 80.2h0M59.3 79.7h0M62.5 79.7h0M66.4 80.2h0M69.4 80.5h0M73.1 80.2h0M76.7 80.4h0M80.4 80.3h0M84.6 79.7h0M87.7 80.6h0M91.4 79.8h0M94.7 80h0M98.9 80.4h0M102 80.5h0M-3.7 83.8h0M-0.8 83.5h0M2.8 83.5h0M7.2 83.8h0M10.5 83.2h0M13.9 83.3h0M17.6 82.9h0M21.4 83.4h0M24.7 83.6h0M28.7 83.7h0M32.1 83.6h0M35.3 83.2h0M39.6 83.4h0M42.9 83h0M46 83.8h0M50.5 82.8h0M53.4 83.1h0M56.7 83.3h0M60.4 83.2h0M64.4 82.8h0M68 82.9h0M71.1 83.8h0M75.2 82.8h0M78.7 83.8h0M82.4 83.4h0M85.9 83.4h0M90.1 83.2h0M93.3 83h0M97.3 83.7h0M100.9 83h0M104 83.3h0M-2.4 86.2h0M1.6 86.3h0M5.4 86.3h0M9.1 86.6h0M12.1 86.8h0M16 86.6h0M19.3 86.2h0M23 86.7h0M26.9 86.4h0M30.5 85.9h0M34.2 86.5h0M37.4 86.8h0M40.8 86.2h0M44.8 86.4h0M48.7 86.6h0M51.8 86.5h0M54.9 86.9h0M58.8 86.9h0M62.9 86.8h0M65.8 86h0M69.6 86.1h0M73.2 85.9h0M77.3 86h0M80.2 86.1h0M84.6 86.3h0M88 86.3h0M91.8 86.2h0M95.5 86.4h0M98.5 86.9h0M102.7 86.3h0M-3.7 89.7h0M0.1 89.3h0M2.8 89.8h0M6.5 89.5h0M10.4 89.1h0M14.2 89.8h0M17.2 89.6h0M21.1 89.8h0M25.2 89.1h0M28.6 89.1h0M32 89.2h0M35.8 89.1h0M38.9 89.2h0M42.4 89.5h0M46.3 89.5h0M50.4 89.8h0M53.1 89.8h0M57.4 89.4h0M60.5 89.4h0M64.9 89.3h0M67.8 90h0M72 89.5h0M74.9 89.1h0M78.7 90h0M82.4 90h0M86.2 90h0M89.4 89.1h0M93.3 89.1h0M96.8 89.9h0M100.2 89.8h0M104.5 89.7h0M-2.4 92.8h0M1.4 92.4h0M4.6 92.5h0M9 92.4h0M12 92.8h0M15.4 92.8h0M19.4 92.3h0M22.5 92.2h0M27.1 93.1h0M30.7 92.6h0M34.1 92.4h0M37.2 92.4h0M41.3 92.4h0M44.6 92.6h0M48.3 93.1h0M51.4 93.1h0M55.9 92.5h0M59.2 92.4h0M62.8 92.8h0M66.5 92.9h0M69.6 92.6h0M73.3 92.6h0M76.7 92.4h0M80.4 92.6h0M84.7 92.6h0M88.3 92.5h0M91.2 92.3h0M95.4 92.3h0M99.1 93.1h0M102.5 92.8h0M-3.9 95.9h0M0 95.8h0M3.1 95.2h0M7.3 96.1h0M10.7 95.5h0M14.5 95.4h0M18 95.3h0M21.5 96.2h0M25 95.3h0M28.7 95.6h0M32.4 95.9h0M36.1 96h0M38.8 95.5h0M43.2 95.3h0M46.9 95.9h0M50.3 95.6h0M53.6 96.1h0M56.8 95.8h0M61.1 95.5h0M64 96.1h0M68.4 96.2h0M72.1 96h0M75.6 96h0M78.7 96.1h0M82.8 96.1h0M85.6 95.8h0M89.5 95.3h0M93.7 96h0M96.9 96.2h0M100.4 95.3h0M104.4 95.9h0M-1.8 99.1h0M1.9 99.2h0M5.5 99h0M8.5 98.8h0M12 99h0M15.8 99h0M19.8 98.7h0M23.2 98.4h0M27 98.6h0M30.5 98.5h0M33.6 98.5h0M37.7 99.2h0M40.6 98.6h0M44.7 98.8h0M47.7 99.4h0M51.9 99.3h0M55.1 98.5h0M59.1 98.7h0M62.6 98.8h0M66.5 99.1h0M70.2 98.7h0M73.6 98.8h0M77.1 98.7h0M80.7 99h0M83.7 98.7h0M87.7 99.4h0M91.4 99.3h0M94.8 98.9h0M99 99.2h0M102 98.4h0M-4.4 102.5h0M-0.6 101.9h0M3.5 102.2h0M6.3 101.9h0M10.2 101.7h0M13.7 101.9h0M17.8 101.8h0M21.2 101.8h0M25.3 101.5h0M28.6 101.6h0M32.2 101.5h0M35.7 102.5h0M39.6 102.4h0M42.5 101.8h0M46.9 102.2h0M50.1 102.1h0M53.6 102.3h0M57.5 101.5h0M60.9 101.8h0M64.1 102.5h0M68.1 101.7h0M71.3 102.2h0M75.5 102.1h0M78.5 102.5h0M82.6 102.1h0M85.5 102.4h0M89.2 101.5h0M93.7 102.2h0M96.4 101.7h0M100.3 102.2h0M104.1 101.6h0" stroke="#f2eaec" stroke-width="3.6" stroke-linecap="round" stroke-linejoin="round" fill="none"/>
<path d="M30.0 -3.0C32.8 -6.8 50.0 -6.8 55.0 -3.0C60.0 0.8 60.8 12.0 60.0 20.0C59.2 28.0 53.3 41.7 50.0 45.0C46.7 48.3 42.0 44.2 40.0 40.0C38.0 35.8 39.7 27.2 38.0 20.0C36.3 12.8 27.2 0.8 30.0 -3.0Z" fill="#f1e8eb" opacity="0.8"/>
<path d="M10.0 5.0C11.7 6.2 17.0 11.5 20.0 12.0C23.0 12.5 27.3 6.3 28.0 8.0C28.7 9.7 25.7 19.0 24.0 22.0C22.3 25.0 19.0 25.3 18.0 26.0" stroke="#dcbcd0" stroke-width="1.6" stroke-linecap="round" stroke-linejoin="round" fill="none" opacity="0.7"/>
<path d="M76.0 0.0C73.7 2.3 65.5 9.0 62.0 14.0C58.5 19.0 56.5 25.3 55.0 30.0C53.5 34.7 53.3 40.0 53.0 42.0" stroke="#d4b0cc" stroke-width="0.7" stroke-linecap="round" stroke-linejoin="round" fill="none"/>
<path d="M100.0 18.0C98.7 20.0 93.7 26.3 92.0 30.0C90.3 33.7 90.3 38.3 90.0 40.0" stroke="#d4b0cc" stroke-width="0.6" stroke-linecap="round" stroke-linejoin="round" fill="none"/>
<path d="M78.4 10.6h0M34 47.6h0M53.4 15.6h0M34 87.6h0M77.5 83.7h0M44.2 65.6h0M97.5 15.6h0M3.6 73.7h0M92 31.5h0M29.3 38.3h0M90 1.2h0M73.7 93.2h0M77.2 74.1h0M50.4 2.2h0M7.5 69.1h0M5.4 50.7h0M19.2 40.1h0M71 30.6h0M86.7 42.8h0M40.2 34.8h0M47.1 20.3h0M41.7 58.6h0M72.4 36.7h0M24 92.6h0M58 5.7h0M64.3 91.9h0M15.3 14.7h0M4.6 96.1h0M20.6 74.5h0M59.4 43.9h0M92 81.9h0M83.1 77.4h0M44 86.6h0M59.2 79.3h0M74.5 45.2h0M47.8 94.8h0M90.4 55.3h0M68.3 48.5h0M8.2 17.9h0M0.9 45.8h0M97.8 73.7h0M25.9 59.2h0M77.1 5.6h0M51.8 47.7h0M80.2 27.7h0M6.3 41h0M89.3 48.6h0M3.5 23.6h0M21.5 1.4h0M48.3 38.9h0M75.7 56h0M70.2 57.6h0M33.5 66.4h0M4.8 1.5h0M60.2 87.4h0M41 10.5h0M12.5 64.4h0M52.1 80.6h0M92.3 62.8h0M49.8 62.8h0M48.7 72.7h0M62 66.7h0M59.7 35.3h0M66.7 11.7h0M10.2 7.9h0M81.1 50.1h0M65 36.3h0M23.8 83.3h0M94.7 24.1h0M70.1 72.8h0M30.3 80.5h0M24.1 10.6h0M52.8 32h0M64 23.1h0M97.6 90.7h0M48.5 7.9h0M10.8 86.3h0M16.4 2h0M20.7 27.1h0M47.2 31.1h0M43.7 74.4h0M19.1 54.5h0M38.2 81.9h0M1 82.3h0M1.7 58.7h0M88.9 10.2h0M95.2 6.7h0M73.6 0.8h0M23.3 43.5h0M94.3 44.1h0M53.3 89.7h0M33.9 23.9h0M59.8 98.3h0M91.5 89.5h0M76.3 24.4h0M81.6 67.3h0M61.7 54h0M11.5 77.9h0M83.9 36.4h0M20.2 98.8h0M89.5 95.7h0M15.7 33.1h0M83.9 22.6h0M10.4 32.7h0M45 26.4h0M28.7 46.4h0M0.9 88.2h0M98.7 52.3h0M9.9 23.7h0M12.3 91.7h0" stroke="#7a7098" stroke-width="0.5" stroke-linecap="round" stroke-linejoin="round" fill="none"/>
</g></svg>
<rect x="1159.3" y="18.9" width="235.8" height="206.7" fill="#2a2a2c"/>
<svg x="1161.3" y="20.9" width="231.8" height="202.7" viewBox="0 0 100 100" preserveAspectRatio="none" overflow="hidden"><rect width="100" height="100" fill="#f1e9e8"/><g filter="url(#b4)">
<path d="M-3.0 -3.0C11.3 -20.7 67.5 -6.0 83.0 -3.0C98.5 0.0 88.5 9.5 90.0 15.0C91.5 20.5 92.0 25.0 92.0 30.0C92.0 35.0 91.2 40.0 90.0 45.0C88.8 50.0 86.7 55.0 85.0 60.0C83.3 65.0 82.2 70.0 80.0 75.0C77.8 80.0 74.0 85.3 72.0 90.0C70.0 94.7 80.5 100.8 68.0 103.0C55.5 105.2 8.8 120.7 -3.0 103.0C-14.8 85.3 -17.3 14.7 -3.0 -3.0Z" fill="#dcc4d8"/>
<path d="M-0.7 1.5h0M4.8 2h0M12.1 1h0M17.1 1.6h0M23.8 1.6h0M30.1 1.2h0M35.5 0.8h0M42.4 1.7h0M48.6 1.8h0M55 2h0M61.4 1.1h0M66.7 0.7h0M72.8 2h0M80.3 1.8h0M2.8 7.5h0M8 6.6h0M15 7h0M20.7 6.7h0M27.8 6.4h0M32.7 7h0M39 7.4h0M45.3 7.4h0M51.6 7.4h0M58.4 7.1h0M63.7 6.2h0M69.6 6.2h0M76.9 6h0M82.4 6.8h0M-0.7 12.5h0M5.4 12.1h0M12.3 12.7h0M18.2 11.3h0M24 12.8h0M30.3 12.1h0M36.5 11.6h0M42.9 12.6h0M48 12.1h0M55.1 11.9h0M61.4 12.8h0M68 11.8h0M72.9 12.7h0M79.9 12.6h0M86.5 11.8h0M2.4 17h0M13.9 17.5h0M21.5 18h0M26.3 18h0M33.5 17.8h0M38.6 17.9h0M45.1 18h0M51.5 17.3h0M57.5 18.1h0M63.8 18.1h0M70.4 16.9h0M76.9 17.5h0M82 18h0M88.6 16.7h0M-0.9 23h0M17.2 22.3h0M23.9 23.3h0M30.6 23.4h0M36.2 23.2h0M41.9 22.7h0M48 23.4h0M55.7 23.1h0M61.5 22.6h0M67.8 22.2h0M73.3 22.6h0M80.3 22.3h0M85.4 22.2h0M21.5 27.9h0M27.6 28.7h0M33 27.7h0M40 28.2h0M45.6 28.8h0M51.8 27.8h0M58.3 28.3h0M63.8 28.5h0M71.1 27.8h0M77.1 28.6h0M82.8 27.7h0M89.3 27.9h0M23.5 34.3h0M30 34.3h0M36.2 33.8h0M41.8 33.1h0M48.4 33.4h0M54.4 33.5h0M60.4 33.7h0M68 34.2h0M73.7 34.4h0M80.1 33.8h0M85.8 32.9h0M20.7 38.6h0M26.2 39.1h0M33.4 38.3h0M40.1 39.6h0M46.2 39h0M51.6 38.9h0M57.8 39.7h0M64.9 39.6h0M70.4 39h0M76.9 38.6h0M82.3 39.7h0M88.6 38.6h0M24.7 43.8h0M29.9 43.5h0M36.3 43.6h0M42.6 45h0M49.2 44.6h0M54.2 45.1h0M60.9 45h0M66.7 44h0M74.2 44.7h0M79.2 44.3h0M86 43.9h0M27.6 50.4h0M33.7 50.4h0M39 49.4h0M45 49.4h0M51.4 49.3h0M57.7 50.4h0M64.2 50.3h0M70.4 50.1h0M76.9 49.8h0M83.5 49.8h0M36.2 55.6h0M42.2 55.7h0M48.2 55.4h0M55.1 54.3h0M60.8 55.6h0M67.1 54.3h0M73.5 55.1h0M79.7 54.9h0M39.2 60h0M44.9 60.5h0M51 60.3h0M57.8 60.9h0M64.5 60.4h0M69.6 60.8h0M77 60.7h0M83.6 60.4h0M41.8 66.5h0M49.4 65.4h0M55.5 65.6h0M61.6 65.2h0M68 65.7h0M73.1 65.7h0M78.9 65.1h0M40.1 71.2h0M45.6 70.5h0M51.1 70.8h0M58.3 70.7h0M64.6 71.4h0M70.1 71.2h0M77.1 70.4h0M35.9 75.7h0M42.6 75.8h0M48.5 77.3h0M54.5 76.8h0M61.5 76.3h0M67.5 77.2h0M73.9 76.3h0M33.2 82.4h0M39 82.6h0M46 82.4h0M51.8 82.2h0M58.2 81.8h0M63.4 82h0M70.7 82h0M30.7 87.3h0M36.4 86.7h0M41.9 86.6h0M49 87.4h0M55.3 87.4h0M60.7 87.1h0M67.1 88h0M27.3 93h0M33.1 92.3h0M39.3 93h0M44.8 92.2h0M51.6 93h0M58 92.2h0M64.8 92.8h0M71 92.5h0M30.9 97.4h0M35.5 98.1h0M42.1 98.6h0M48.4 97.2h0M54.6 97.9h0M61 97.9h0M67 98.8h0M27.4 102.6h0M45.1 102.8h0" stroke="#faf6f7" stroke-width="6.25" stroke-linecap="round" stroke-linejoin="round" fill="none"/>
<path d="M-5.0 32.0C-3.5 17.8 1.0 22.3 4.0 20.0C7.0 17.7 10.2 13.3 13.0 18.0C15.8 22.7 18.0 41.7 21.0 48.0C24.0 54.3 28.7 52.3 31.0 56.0C33.3 59.7 35.8 65.0 35.0 70.0C34.2 75.0 28.3 80.2 26.0 86.0C23.7 91.8 26.2 101.8 21.0 105.0C15.8 108.2 -0.7 117.2 -5.0 105.0C-9.3 92.8 -6.5 46.2 -5.0 32.0Z" fill="#c8b6d4"/>
<path d="M12.1 90.1h0M18 63.8h0M10.3 78.6h0M6.5 87.6h0M8.7 65.8h0M5.3 54.5h0M22.9 80.9h0M2.1 51.2h0M29.4 69.2h0M20.4 68.8h0M11.6 55.9h0M9.7 38.9h0M23 61.2h0M6.2 42.9h0M17.7 93.3h0M21.9 63h0M4.7 77.6h0M7.4 75.4h0M26.6 56.8h0M22.8 76.3h0M7 94.6h0M10.9 44.5h0M7.9 26.1h0M15.5 35h0M6.9 72.6h0M0.5 25.3h0M29.5 75h0M4.5 50.9h0M12.1 51.9h0M0.3 53h0M20.6 95.2h0M17 77.3h0M0.5 38.6h0M8.4 51.4h0M15.1 65.4h0M18.4 45.9h0M3 92h0M12.7 34.1h0M14.8 48.5h0M12.1 22.2h0M30.6 64.6h0M19.6 98.3h0M2.5 25.5h0M27.1 82.4h0M23.9 69h0M18.9 96.2h0M14.8 42.3h0M3 54.4h0M32.4 66.7h0M8.3 85.2h0M2.2 86.8h0M24.1 62.9h0M16.4 32.9h0M11.4 37.4h0M24.7 85.5h0M9.7 89h0M21.4 97.7h0M21.7 58.2h0M1.6 71.5h0M11 29.9h0M2.9 41.4h0M8.1 36.8h0M6.2 30.2h0M23.3 58.1h0M10.9 91.6h0M6.4 25.1h0M1.2 49.4h0M28.5 76.7h0M11 28.3h0M9.6 96.8h0M31.8 63.3h0M24.2 82.4h0M16.6 98.7h0M12.1 32.5h0M15.7 70.3h0M13 87.4h0M9.4 93.7h0M12.8 69.1h0M22.8 54.9h0M20.1 86.3h0M27.3 67.6h0M0.1 69.6h0M34.1 67.4h0M10.6 72.2h0M7.6 45.7h0M13 41.7h0M14.8 45.8h0M6 68.4h0M28.9 80.6h0M5.1 32.5h0M24.4 66.7h0M0.8 88.9h0M22.9 52.5h0M12.1 98.4h0M2.4 22.7h0M4.3 73.6h0M11.6 75.2h0M30 58.4h0M24.2 71.1h0M13.7 84.8h0M11.2 62.4h0M1.5 40.4h0M3.7 59.7h0M0.6 36.3h0M7.2 35.4h0M7.3 97.1h0M9.9 47.7h0M5.6 38.7h0M5.2 61.1h0M6.3 56.8h0M16.4 90h0M0.5 45h0M19.2 81.9h0M7.5 69.6h0M12.2 48.9h0M22.2 84.8h0M12 65.3h0M5.6 27.9h0M14.5 78.3h0M4.3 86h0M15.9 86.6h0M14.9 53h0M31.3 71.4h0M3.5 94.6h0M32.5 72.6h0M0.7 60.2h0M6.5 53.3h0M18.3 55.1h0M13.6 95.7h0M15 73.3h0M24.6 77.5h0M7.7 19.7h0M11.1 40.5h0M3.7 99.7h0M27.7 62.1h0M8 55.1h0M20.6 75.3h0M12.7 79.4h0M13.6 99.2h0M24.7 59.1h0M7.3 32.2h0M19.8 72.3h0M16.7 51.7h0M6.1 46.8h0M9.1 64h0M11.3 25.3h0M4.8 92.8h0M1.5 28.9h0M18 66.3h0M3.6 49.1h0M26.6 53.4h0M13.1 20.7h0M22.1 73.5h0M8.7 73h0M18.9 90.2h0M25.1 52.5h0M15 40.6h0M19.9 44h0M16.5 55.7h0M0.6 66.8h0M15.2 93.5h0M18.1 83.3h0M0.3 34.5h0M5.4 79.3h0M31.8 75.5h0M20 77.4h0M7.3 77.7h0M6.2 21.2h0M27.6 70.8h0M3.5 65.3h0M2.6 36.5h0M1.1 74.8h0M7.9 48.6h0M3 57.8h0M18.9 52.9h0M5.3 40.5h0M21.1 88.4h0M14 30h0M16.4 79.7h0M15 62.7h0M8.6 43.9h0M2.9 82.3h0M1.9 43.7h0M25 57.1h0M19.9 60.8h0M2.2 84.7h0M13.2 82.5h0M32.4 69.3h0M13.7 59h0M11.1 84.4h0M0.5 77.2h0M1.6 64.1h0M21.4 56.5h0M14.3 54.8h0M11 58.4h0M22 69.6h0M23.6 74.4h0M5.4 65h0M10.9 42.9h0M2.1 69.8h0M29.2 63.8h0M3.5 34.8h0M4.1 88.6h0M20.2 70.5h0M23.5 50.2h0M4.2 84.2h0M4.9 44.8h0M4.5 22h0M12.6 28.2h0M0.4 84.4h0M4.4 37.2h0M3.2 32.5h0M13.1 40h0M8.4 30.9h0M5.7 82.9h0M9.3 35.3h0M6.9 60h0M12.2 70.9h0M29.1 79h0M8.6 87.8h0M20.7 90.1h0M23.7 88.5h0M8.8 33.3h0M25.9 63.4h0M17.5 49.4h0M20.3 65.2h0M25.5 80.5h0M17.9 42.8h0M20.7 52.8h0M9.5 19.2h0M20.9 49.6h0M22.5 78.3h0M17.7 91.5h0M9.5 22.4h0M9.1 91.9h0M19.7 58.4h0M3 63h0M14.3 38.5h0M1.1 47.5h0M12.5 60h0M16.4 38h0M3.9 96.6h0M2.1 89.8h0M15.5 84.8h0M10.1 51.4h0M8.6 59.4h0M11.5 18.9h0M3.4 67.1h0M25.5 61.7h0M19.4 50.7h0M9.6 56.4h0M12.8 24.4h0M24.1 91.6h0M15.1 76.2h0M28.6 57.4h0M9.1 42.2h0M13.6 25.9h0M0.2 92.1h0M14.2 68.1h0M0.8 99.8h0M8.8 83.1h0M14.2 32h0M30.9 67.9h0M7.5 39.3h0M24.2 72.8h0M4.2 24.2h0M15.9 31.3h0M10.1 80.8h0" stroke="#6a5c98" stroke-width="0.8" stroke-linecap="round" stroke-linejoin="round" fill="none"/>
<path d="M5.0 18.0C5.8 19.0 8.5 20.3 10.0 24.0C11.5 27.7 13.0 34.8 14.0 40.0C15.0 45.2 15.3 50.7 16.0 55.0C16.7 59.3 17.7 64.2 18.0 66.0" stroke="#dc6c88" stroke-width="3.6" stroke-linecap="round" stroke-linejoin="round" fill="none"/>
<path d="M15.0 48.0C15.3 50.0 16.3 56.7 17.0 60.0C17.7 63.3 18.7 66.7 19.0 68.0" stroke="#f6eef0" stroke-width="1.6" stroke-linecap="round" stroke-linejoin="round" fill="none"/>
<path d="M83.0 -3.0C84.2 0.0 88.5 9.5 90.0 15.0C91.5 20.5 92.0 25.0 92.0 30.0C92.0 35.0 91.2 40.0 90.0 45.0C88.8 50.0 86.7 55.0 85.0 60.0C83.3 65.0 82.2 70.0 80.0 75.0C77.8 80.0 74.0 85.3 72.0 90.0C70.0 94.7 68.7 100.8 68.0 103.0" stroke="#cfa8c6" stroke-width="0.8" stroke-linecap="round" stroke-linejoin="round" fill="none"/>
</g></svg>
<rect x="910.7" y="230.7" width="236.1" height="204.4" fill="#2a2a2c"/>
<svg x="912.7" y="232.7" width="232.1" height="200.4" viewBox="0 0 100 100" preserveAspectRatio="none" overflow="hidden"><rect width="100" height="100" fill="#f2ebed"/><g filter="url(#b4)">
<path d="M-3.0 33.0C-0.8 21.3 5.3 33.3 10.0 33.0C14.7 32.7 20.8 31.0 25.0 31.0C29.2 31.0 31.7 32.0 35.0 33.0C38.3 34.0 41.7 35.5 45.0 37.0C48.3 38.5 51.7 39.3 55.0 42.0C58.3 44.7 62.2 49.7 65.0 53.0C67.8 56.3 69.8 59.2 72.0 62.0C74.2 64.8 75.0 67.8 78.0 70.0C81.0 72.2 85.8 73.7 90.0 75.0C94.2 76.3 100.8 73.3 103.0 78.0C105.2 82.7 120.7 98.8 103.0 103.0C85.3 107.2 14.7 114.7 -3.0 103.0C-20.7 91.3 -5.2 44.7 -3.0 33.0Z" fill="#f0e3e9"/>
<path d="M-3.0 36.0C-0.8 24.8 5.3 36.3 10.0 36.0C14.7 35.7 20.8 34.0 25.0 34.0C29.2 34.0 31.7 35.0 35.0 36.0C38.3 37.0 41.7 38.5 45.0 40.0C48.3 41.5 51.7 42.3 55.0 45.0C58.3 47.7 62.2 52.7 65.0 56.0C67.8 59.3 69.8 62.2 72.0 65.0C74.2 67.8 75.0 70.8 78.0 73.0C81.0 75.2 85.8 76.7 90.0 78.0C94.2 79.3 100.8 76.8 103.0 81.0C105.2 85.2 120.7 99.3 103.0 103.0C85.3 106.7 14.7 114.2 -3.0 103.0C-20.7 91.8 -5.2 47.2 -3.0 36.0Z" fill="#e6d2de"/>
<path d="M1.7 34h0M-1.8 48.6h0M11.3 48.8h0M27.5 49.2h0M39.8 45.9h0M5.4 60.8h0M17.4 59.8h0M33.8 59.9h0M48.9 62.7h0M63 59.7h0M80.7 61h0M-5.8 74.5h0M12.3 73.6h0M24 73.4h0M43.2 74.1h0M58.1 75.6h0M68.8 74.9h0M86.8 74.1h0M100 74.6h0M1.8 86.6h0M18.3 89h0M35.2 85.9h0M48.5 85.5h0M65.4 88.6h0M77.6 87.6h0M94 85.4h0M-2.8 100.1h0M12.3 100.1h0M23.8 99.1h0M38.8 101.9h0M57.7 101.4h0M70.1 97.9h0M87.7 101.9h0M99.1 99.9h0" stroke="#f2e9ed" stroke-width="15.2" stroke-linecap="round" stroke-linejoin="round" fill="none"/>
<path d="M73.0 -2.0C74.2 -0.3 79.2 3.5 80.0 8.0C80.8 12.5 78.7 18.8 78.0 25.0C77.3 31.2 75.7 39.5 76.0 45.0C76.3 50.5 78.0 55.0 80.0 58.0C82.0 61.0 85.5 63.0 88.0 63.0C90.5 63.0 92.7 58.2 95.0 58.0C97.3 57.8 100.8 61.3 102.0 62.0" stroke="#dcc0d8" stroke-width="1.8" stroke-linecap="round" stroke-linejoin="round" fill="none"/>
<path d="M80.0 8.0C79.7 10.8 78.5 20.5 78.0 25.0C77.5 29.5 77.2 33.3 77.0 35.0" stroke="#9a80b8" stroke-width="1.0" stroke-linecap="round" stroke-linejoin="round" fill="none"/>
<path d="M-3.0 33.0C-0.8 33.0 5.3 33.3 10.0 33.0C14.7 32.7 20.8 31.0 25.0 31.0C29.2 31.0 31.7 32.0 35.0 33.0C38.3 34.0 41.7 35.5 45.0 37.0C48.3 38.5 51.7 39.3 55.0 42.0C58.3 44.7 62.2 49.7 65.0 53.0C67.8 56.3 69.8 59.2 72.0 62.0C74.2 64.8 75.0 67.8 78.0 70.0C81.0 72.2 85.8 73.7 90.0 75.0C94.2 76.3 100.8 77.5 103.0 78.0" stroke="#55486c" stroke-width="0.55" stroke-linecap="round" stroke-linejoin="round" fill="none"/>
<path d="M11.1 66.3l3.8 1.4M44.7 90.8l2.6 -1.5M64.2 54.4l1.5 1.3M91.2 90.7l1.5 2.6M3.5 40.7l3 0.5M77.8 29l0.3 2" stroke="#4a4488" stroke-width="1.3" stroke-linecap="round" stroke-linejoin="round" fill="none"/>
</g></svg>
<rect x="1159.3" y="230.7" width="235.8" height="204.4" fill="#2a2a2c"/>
<svg x="1161.3" y="232.7" width="231.8" height="200.4" viewBox="0 0 100 100" preserveAspectRatio="none" overflow="hidden"><rect width="100" height="100" fill="#c6b6d2"/><g filter="url(#b4)">
<path d="M60.0 -3.0C63.8 -7.2 95.8 -13.5 103.0 -3.0C110.2 7.5 104.8 52.8 103.0 60.0C101.2 67.2 95.8 46.3 92.0 40.0C88.2 33.7 85.3 29.2 80.0 22.0C74.7 14.8 56.2 1.2 60.0 -3.0Z" fill="#dcc0d4"/>
<path d="M30.0 15.0C33.3 14.5 43.3 11.2 50.0 12.0C56.7 12.8 64.7 17.3 70.0 20.0C75.3 22.7 80.0 26.7 82.0 28.0" stroke="#e4b0c0" stroke-width="3.2" stroke-linecap="round" stroke-linejoin="round" fill="none"/>
<path d="M70.0 19.0 L78.0 24.0" stroke="#f4ecee" stroke-width="1.2" stroke-linecap="round" stroke-linejoin="round" fill="none"/>
<path d="M3.7 69.5l0.2 0.2M13.8 45.8l1.2 0.9M66.7 79l1 0.6M45 49.6l0.6 0.5M1.5 42.6l0.9 1.2M36.8 85l0.8 0.5M54.5 74.9l0.5 1.2M43 17.2l0.7 0.8M84.7 81.7l0.7 0.6M37.5 9.2l0.1 0.7M50.9 49l0.7 1.2M77.1 59.5l0.2 0.5M50.6 57.4l0.2 0.2M37.6 4.6l0.2 0.5M6 94l0.3 0.3M83.8 29.5l0.1 0.3M88.4 51.9l1 0.7M10 84.9l0.5 1.4M57.8 93l1.4 0.6M67.6 9.1l0.6 0.6M62.1 78.2l0.3 0.9M89.8 32.6l0.1 1.1M52.6 69.9l0.6 0.3M16 84.4l1.3 0.8M77.5 4.6l1.2 0.8M58.6 36.2l1 1.2M18.3 60.1l0.7 0.7M96.8 54.6l0.1 1.2M10.9 49.2l0.9 0.5M77.8 95.3l0.3 0.4M71.3 4l0.4 0.3M96.1 59.7l1.1 1M7.9 12.4l0.9 0.6M8.4 66.2l0.4 0.6M15 80.3l0.9 0.9M10.7 53.1l0.5 0.8M43.9 3.5l0.8 0.5M0.2 90.2l0.1 0.4M97 12.1l1.3 0.7M73 98.5l0.9 0.9M90.2 88.4l0.3 0.2M33.7 71.3l0.1 0.9M49.3 93.3l1 0.8M70.1 84.3l0.3 0.2M85.6 37.9l0.2 1.2M70.9 9.1l0.7 0.4M20.5 93.3l0.3 0.7M40.3 68.2l0.3 0.7M57.3 25.8l0.5 0.4M32.5 34l0.4 1.3M18.4 17.6l0.3 0.4M82.3 70.3l0.9 0.5M96.5 66.6l0.1 0.7M95.8 22.1l0.1 0.3M18.5 21.4l0.5 0.5M38.3 98.7l0.1 0.4M22.3 45.6l0.5 0.5M5.8 2.6l0.6 0.3M54.5 61.2l0.2 0.2M85.9 94.7l0.4 0.8M12.5 76.1l1 0.6M15 0.1l0.8 1M69.7 12.2l0.5 0.5M62 19.6l0.4 0.9M42.3 0.8l0.4 1.3M37.4 32.4l0.5 1M26 12.9l0.2 0.9M57.2 68.9l0.7 0.8M19.9 3.9l0.1 0.9M26.7 69.8l0.2 0.2M26.8 64.4l1.1 0.8M7.1 70.2l0.4 0.2M13.8 22l0.8 0.7M72.7 47.3l0.6 0.3M63.4 28.1l1.2 1M66.4 29.6l0.9 0.6M47.9 44.2l0.5 0.4M91.1 74.8l0.3 0.8M54.8 84.4l0.1 0.3M60.8 71.7l0.5 1.4M63.6 81.6l0.6 0.7M60.4 2.3l0.4 0.4M10.7 88.1l0.3 0.2M69.9 90.3l0.2 0.3M89.2 22.6l0.4 1.1M72.9 51.3l0.2 0.7M25.4 48.5l0.4 0.2M45.7 29.3l0.9 0.8M34 43.9l0.5 0.7M80.2 35.7l0.5 0.3M36.3 78.2l0.4 0.3M69.5 44.4l0.6 0.7M30.8 79.4l0.3 0.3M24 59.1l0.1 0.4M52.5 4.2l0.3 1.3M17.6 88.2l1.1 0.7M78.6 21.2l0.4 0.3M17.7 93.7l0.3 0.3M90.6 25.9l0.2 0.4M18.4 24.8l0.4 1.4M88 84l0.4 0.4M15 68.7l0.8 1.2M39.1 37.3l0.5 0.6M43.6 45.4l0.6 1M46.9 64.5l0.3 0.7M48.1 81.4l1.2 0.9M20.3 69.7l0.5 0.4M67.7 53.8l0.7 1.3M32.4 3.9l1.4 0.7M20.1 84.9l0.9 1.2M41 5.5l0.8 0.9M63 7.8l0.9 1M89.2 92.5l0.4 0.6M61.3 24.1l0.1 0.8M10.7 30.2l0.8 0.4M7.1 86.7l0.2 1.4M65.6 22.4l0.3 0.1M27.3 60.4l0.9 0.8M78.9 62.2l0.4 0.6M40.8 62.4l0.6 0.7M84.8 66.1l0.3 0.6M45.7 58.8l0.5 0.6M20.2 43.3l0.4 0.8M83 48.2l0.6 0.7M1.5 81.3l0.4 0.3M15.3 3.1l0.2 0.3M57.6 76.7l0.5 0.3M10.6 44l1.2 0.8M68.8 50l0.7 0.5M52.2 22.7l0.4 0.9M76.3 0.6l0.1 0.9M31.2 10.1l0.2 0.2M8.4 0.9l0.4 0.4M65.2 55.4l0.9 0.8M92.2 80.4l0.4 1.2M98.8 35.1l0.7 1.2M28.2 42.1l0.1 0.9M1.7 71.9l1.1 0.8M8.7 61.1l0.3 0.2M5.2 42.3l1.3 0.8M24.7 94.2l1.2 0.7M29.7 35.5l0.4 0.2M26.6 31l1 0.5M21.4 11.7l0.5 1.5M32.9 56.9l0.3 0.2M28 10.3l0.5 1.2M35.5 95.8l0.4 0.6M89.4 44.1l0.4 0.8M66.7 71.9l0.8 0.5M25.7 62l0.3 1.1M61.8 50.8l0.1 0.6M43.4 54.8l0.6 0.7M48 25.7l0.4 0.2M83 79.5l0.2 0.4M38.5 39.6l0.3 1.3M92.1 1.5l1 1.1M76.4 16.8l0.3 0.2M18.8 34.2l0.4 1.5M62.2 31.9l0.3 0.2M91.9 57.5l0.2 1M55.2 29.9l0.8 0.9M72.2 0.8l0.5 0.3M98.5 87.3l0.3 0.2M12.8 98.7l0.5 0.7M44.7 74.2l1.1 0.8M26.4 16.7l0.4 1M4.5 16.2l0.2 0.9M37.7 53.9l1 1.1M44.4 35.4l0.7 1.1M28.4 26.9l0.2 0.5M45.6 69.7l0.3 0.3M82.3 44.2l1 0.6M63.5 38l0.6 0.3M91.5 52l1.3 0.9M24 42.2l0.3 1.2M32.7 62.2l0.3 1.5M31.4 48.3l1 0.9M8 31.2l0.8 1.3M32.5 37l0.5 1.5M2.5 98.6l1 0.7M20.5 0.5l1.2 1M5.6 46.8l0.5 1.3M83.3 23.6l0.4 0.3M13 5.3l0.3 1.1M69 75.9l1.1 0.8M98 24.4l0.7 0.9M79.6 80.2l0.8 1.3M44.9 78.3l0.8 0.4M32.6 90l0.1 0.4M74.3 62.1l0.6 0.5M86.4 34.8l0.4 1M43.5 31l0.1 0.4M42.5 79.9l1 0.5M79.8 73.7l0.5 0.7M8.2 34.7l1.1 0.6M24 1.5l0.2 0.4M47.6 17.3l0.5 0.6M78.8 83.3l0.2 0.4M40.8 88.2l1 0.7M63.6 44.1l0.1 0.7M13.8 89.7l0.1 0.4M22.7 87.2l0.1 0.4M61.1 35.8l1.1 0.5M99.1 84.5l0.1 0.5M53.4 45.8l0.3 1M0.7 56.2l1.4 0.7M91.6 67.7l0.3 1.4M51.5 37.5l0.2 0.4M95.6 14.6l0.6 1M8.8 24l0.5 0.7M25.8 8.4l0.2 1M9.1 82.6l0.5 0.3M30.6 66.7l0.6 0.9M48.3 51.1l1 1M60.4 96.7l0.5 1.1M33.3 27.4l0.6 1.1M49.4 2l0.4 0.3M80.5 99.3l0.5 1M21.2 39.4l0.1 0.5M37.1 70.1l0.9 0.8M94.7 26l0.2 0.7M11.6 60.3l0.2 0.8M19.4 82.4l0.3 0.5M40.2 83l0.5 0.9M59 74.4l0.4 0.3M73.4 80.4l0.2 0.3M38.3 17.1l1.3 0.9M22.8 81.4l0.8 0.4M73.3 72.6l0.2 0.4M5.7 30.2l0.7 0.7M96.9 77.5l0.5 0.6M4.4 26.7l0.5 1.2M11.3 33l0.4 0.3M85.7 30.8l0.1 1.5M58 50l0.7 0.4M1.8 27.7l0.2 1M71.1 29.9l1.3 0.6M97.9 91.6l0.7 0.4M22.2 35l0.1 0.5M0.9 12.5l0.3 0.8M74.1 74.6l1 1.2M38.2 64l0.3 0.2M29.3 51l0.3 0.1M83.8 73l0.1 0.5M57.3 89l0.5 0.4M5.1 -0.3l1 0.8M29.5 97.5l1.3 0.7M21.1 50.5l0.9 0.6M76.2 31.4l0.3 0.6M15.6 34.4l0.1 0.7M15.9 95.8l0.9 1.1M2.1 1l0.5 0.6M92.9 83.7l0.2 0.4M95.3 93.5l0.9 1.2M62.5 68.9l0.2 1.3M83.7 86.4l0.2 0.6M53.2 56.4l0.5 1.1M96.3 28.5l0.4 1.1M33.9 99.2l0.3 0.7M37.9 0.2l0.1 0.9M57.7 79.4l0.2 0.7M8.1 4.8l0.5 0.3M85.8 61.6l0.7 0.9M15.8 28.6l0.5 0.5M18.1 51.3l0.2 1.1M54.6 88.4l0.2 0.5M52.8 15.9l1.4 0.7M80.5 53.9l0.5 1.2M69.8 92.8l0.3 0.4M55.9 44.6l0.4 0.7M2.9 54l1.1 0.9M33.7 80.6l0.7 0.4M52.9 32.2l1.2 1M68.5 96.4l0.4 1M2.8 19.2l0.3 1.2M12.7 57.3l0.6 0.3M83.8 33.1l0.3 0.9M81.9 0.8l0.3 1.4M8.8 21.2l0.2 0.5M83.8 60.1l0.1 1.3M48.3 87.8l0.3 1.1M76.1 7.5l0.1 0.5M51.5 28.2l0.9 0.9M7.6 8l1.1 1.1M72.7 89.7l0.4 1M30.4 42.5l1.3 0.9M23.5 55.5l0.2 1.4M9.6 79.1l0.5 1.1M4.6 10l0.9 1.1M73.5 44.1l0.7 1.2M80.6 24.4l0.2 0.3M21.4 78.1l0.3 1.4M60.9 47.9l1 0.9M7.6 50.1l0.3 0.4M53.1 1.5l0.8 0.4M0.1 97.1l0.3 1M49.2 74.3l0.6 0.5M88.9 36.3l0.4 0.3M59.6 29.9l0.1 1.5M35 22.4l1.1 0.7M0.5 6l0.6 1.5M7 99.5l0.1 0.5M52.6 92.4l1.2 0.9M59.9 8.6l1 0.9M88.2 76.1l0.1 0.5M19.8 96.6l0.3 1.3M5 64.9l0.1 0.3M19.4 8.8l1.1 0.9M30.7 60.9l0.3 0.4M46.9 55.7l0.3 0.3M67.7 68.9l0.7 1M74.7 91.7l0.4 1M42 53l0.2 0.3M94.7 72.1l0.1 0.7M85 3.9l1.2 0.8M17.7 76.4l0.8 0.9M27.7 56.1l1.3 0.8M25.4 38.6l0.2 0.6M99 7.9l0.3 0.9M33.6 50.1l0.4 1.2M39.5 21.4l0.6 0.5M38.8 74.8l0.4 1.2M73.7 57.3l0.5 1M25.7 80.1l0.6 0.9M36.8 28.3l0.3 0.3M37.6 58.9l0.2 0.3M32.9 20.9l0.2 0.8M63.3 57.3l0.8 0.9M72.5 17.9l0.3 0.9M28.5 74.9l0.1 0.8M58.1 18.7l0.5 0.6M5.6 24.7l0.9 0.6M41.3 9l0.5 1M68.5 37.7l0.8 0.9M80.8 58.6l0.4 0.4M88.9 18l0.4 0.9M45.2 42.5l0.4 0.4M52.4 65.6l0.1 0.5M65.2 66.4l0.3 0.8M86.9 12.5l1 0.5M55.6 37.9l1.1 0.7M16.4 98.5l0.4 1M71.5 64.3l0.3 0.2M41.7 26.3l0.2 0.5M70.8 58.9l0.7 0.6M68.8 59.8l0.1 0.7M66.7 90l0.4 1.2M63.1 41.2l0.3 0.6M96.6 46.6l0.5 1.1M58.3 42.9l0.4 0.7M59.3 55.1l0.1 0.4M76.9 87.5l0.9 1.1M94.5 39.6l0.5 0.3M18.8 29.7l1.1 0.9M60.6 82.7l0.3 0.2M15.4 62.8l1.2 0.8M77.7 12.8l0.3 1.1M27 44.8l0.7 0.8M20.3 54.2l0.6 0.6M83.1 10.9l0.1 1.3M76.4 51.9l0.7 0.8M54.3 80.4l1.2 0.7M86.8 27.1l0.8 1M86.4 15.8l0.8 0.4M14.6 31.4l0.1 1.3M46.5 85.4l1 0.9M35.5 37.7l0.7 0.4M19.3 90.3l0.5 1.3M12.2 80.8l0.3 0.8M11.6 63.6l0.5 0.3M39.2 92.5l0.7 0.6M29.5 6.7l1.3 0.7M97.6 74.9l0.3 0.4M44.2 20.4l0.9 0.5M63.1 12.2l0.3 0.2M91.4 99l0.1 0.3M54 99.5l0.6 0.7M94.1 56.3l0.4 0.7M79.5 92.4l1.1 0.6M27.3 91.6l0.3 0.3M32.6 87.4l0.7 0.3M36.1 91.3l0.8 0.6M50.4 79.3l0.4 1M66.2 63.3l0.9 0.5M91.6 39.9l0.1 0.5M13.7 15.5l1.1 1.1M64.5 2.1l1.2 0.9M47.9 72l0.3 0.6M21.2 24.5l0.7 0.7M97.9 49.8l1.2 0.7M84.8 54.7l0.2 0.4M46.1 82.7l0.3 0.8M87 40.4l1.2 0.7M24.2 23.1l1.2 0.9M32.6 74l0.8 0.4M57.3 52.5l1.1 1M16.6 66.6l1.1 0.7M50.5 40.3l1.1 0.8M79.8 6.9l0.2 0.4M58.1 0.5l0.7 1.2M16.1 58.3l0.4 1.4M17.2 55.4l1.1 1M7.7 77.2l0.3 1.4M74.8 66.2l0.5 1.3M90 20.4l1.2 0.8M57.1 58.4l0.4 0.9M7.9 57.4l0.6 0.5M60.5 40.1l0.8 0.4M50.6 53.9l0.2 0.6M46.6 8.6l0.2 0.4M84.4 92.9l0.1 0.4M56.5 94.8l0.3 1M41.5 75.7l1.2 0.7M23 16.9l0.1 0.3M57.9 3.5l1.2 0.9M25.9 99.2l0.4 0.5M81 83.1l1.1 0.7M74 84.1l0.2 0.7M97.9 43.5l0.3 0.7M17.3 11.4l0.9 1.2M5.9 75.7l0.5 0.3M77.2 28.3l1.2 0.6M34.2 31.7l0.4 0.2M66.3 13.8l1.1 1M12.6 71.3l0.6 0.8M48 68.7l1.1 0.7M66.4 33.9l0.6 0.8M84.3 20.5l0.2 0.4M5 80.2l0.7 0.8M95.3 36.4l1.3 0.8M16.5 46.8l0.6 0.9M36.4 15.9l0.2 1.3M25.1 74.8l0.3 0.8M32.2 83.9l0.6 1M7.8 16.8l0.1 0.4M90.8 4.7l0.3 1.1M40.5 73l0.4 0.5M18.2 71.3l0.5 1M69.1 22.5l0.3 1.4M94.4 69.1l0.5 0.6M51.4 7.2l0.3 0.3M92.2 64.3l0.1 0.5M70 47.2l0.1 0.6M54.1 10.6l0.5 1.3M4.3 84.1l0.6 1.4M80.3 16.1l0.6 0.8M8.6 90.6l0.5 0.5M93.1 86.3l0.7 0.5M13 12.8l0.2 1.5M65.2 96.9l0.2 0.7M74.2 87.1l0.2 1.1M1 66.8l0.3 0.2M90.4 95.8l0.5 1.4M41.7 23.5l0.8 0.9M5 89.9l0.4 0.5M93 95.4l0.4 0.2M64.3 99.5l0.3 0.5M57.8 62.2l1.1 1M29.8 23.5l0.2 1.6M43.7 94.7l0.8 1.2M34.4 59.3l0.5 0.9M92.1 60.7l0.6 1.4M20.2 63.3l0.8 1.3M5.6 67.7l0.2 0.3M99.6 94.2l0.1 0.5M0.8 48.2l0.4 0.2M16.7 40.6l0.4 1.4M33.6 93.8l0.4 0.9M38.7 50.6l0.4 0.9M40.4 45.1l0.1 0.8M20.2 27.1l0.6 0.7M78 98.4l0.5 0.3M81.8 50.8l0.2 1M40.6 96.7l0.5 1.4M13.9 82.9l0.7 1.3M43.4 91l0.3 1M3.2 95l0.3 0.2M24.9 19.1l0.7 1.1M36.5 19.4l0.6 0.9M51.8 96.2l1 1M9.5 40l0.7 0.9M95.9 79.4l0.1 1.3M63.8 92.5l0.8 1M9 94.6l0.2 1.3M93.9 4.7l0.3 1.1M82.7 15.5l0.7 0.8M88.9 64.7l1.1 0.9M94.5 7.2l0.7 1.1M4.6 61.6l0.2 0.9M54.9 48.5l0.4 0.4M81.9 94.2l0.2 0.5M93.6 45.4l0.1 0.3M70.2 25.3l0.1 1.1M30.2 86.9l0.3 0.4M86.5 57.7l0.1 0.4M76.9 64.2l0.8 1M57.2 32.7l0.5 0.9M85.5 69.4l0.5 0.9M34.1 8.1l0.5 0.4M13.9 51.6l0.4 1.3M87.4 88.4l0.4 1.2M23.2 97.9l0.6 1M66.1 4.6l0.9 0.8M66.2 46.7l0.4 0.3M57 9l0.3 0.3M98.4 19.2l0.2 0.6M61.4 74.6l1 1.2M29.6 39.7l0.8 0.5M69.5 0.6l0.3 0.5M46.3 93.4l0.5 0.3M0.5 22l0.4 0.4M5.8 6.1l0.3 0.3M11.4 8.3l1.3 0.6M52.3 20.2l0 0.4M77.4 54.7l0.6 0.5M13.7 93.1l0.3 0.7M78.1 10.2l1 1M8.3 72.9l0.4 1.5M44.6 52l0.2 0.8M96.9 70.8l0.3 0.2M69.8 33.8l0.2 0.4M13.8 26.3l0.3 1.4M71.7 69.6l0.7 0.9M44.9 25.6l0.9 0.8M23.6 31l1 0.6M27.3 53.2l0.7 1M13.6 38.2l0.1 0.3M95.2 -0.3l0.6 1M90.7 12.2l0.5 0.9M43.2 64.2l0.2 0.3M95.5 62.7l0.2 0.7M28.8 93.2l0.9 1.2M66 87.7l0.1 0.3M52.4 90l0.2 0.3M78.5 67.4l0.3 0.8M53.5 35l0.7 1.4M42.2 42.6l0.9 0.6M61.9 90.3l0.6 0.9M3.8 36.1l0.2 0.4M11.3 67.2l0.7 1.3M47.6 48.3l1 0.9M58.6 6.7l0.1 0.3M90.4 71.1l0.3 0.2M91.5 9.3l0.1 0.5M47 20.6l0.8 0.5M23.7 64.9l0.7 1M97.9 80.7l0.9 1.3M53 77.5l0.9 1.2M26.6 83.2l0.5 1.1M87.8 46.7l0.4 0.5M93.4 90.3l0.6 0.8M21.2 73.2l0.1 0.4M88.1 8.2l1 0.7M4.1 33.1l0.3 0.8M94.5 76.3l0.4 0.9M62.1 60.2l1.4 0.7M48.1 31.2l0.3 0.3M27.1 87.3l0.2 0.2M35.6 47.8l0.3 1.4M43.4 14.8l1.3 0.7M44.2 38.5l0.2 0.2M61.2 63.7l0.3 0.3M65.5 50.7l0.2 1.5M78.3 71.2l0.2 0.6M82.1 75.2l0.3 0.8M56.4 22.6l0.4 0.4M73.3 11.2l0.2 0.2M74.1 94.7l0.7 1.3M29.6 31.7l0.3 0.6M66.1 94.4l0.3 0.8M-0.4 63.8l1.2 0.7M35.3 34.2l0.4 0.6M85.5 77.6l0.7 0.3M5.5 38.8l0.9 0.9M67.6 85.5l0.3 0.4M10.3 3.1l0.4 0.6M37.8 48.2l0.9 0.4M59.9 27.5l0.9 0.8M71.8 96.4l0.2 0.7M31.3 18.3l0.3 0.2M76.9 77.1l0.1 0.4M11.6 17.7l0.8 0.7M72 38.2l0.2 0.3M78 43.5l0.4 1M41.2 49.3l1.1 1.2M26.9 36l0.9 1.1M44.1 86l0.4 0.9M28 47.9l0.6 0.3M42.8 70.7l0.4 0.8M75.2 4.5l0.5 0.4M70.3 87.3l0.5 0.5M48 98.2l0.2 0.6M64 85.3l0.7 1.2M60.7 13.8l0.6 0.6M10.2 56l0.9 0.7M68.1 56.7l0.9 0.7M63.1 4.8l0.7 0.6M80.2 64.3l0.2 1.4M74.9 38.1l0.8 0.5M78.4 40.5l0.7 0.6M80.3 46.8l0.8 0.7M86.4 97.6l0.2 1.3M55.7 91.5l0.1 0.6M66.7 43.8l0.4 0.2M94.3 17.8l0.8 0.8M32.9 53.1l0.5 0.2M13.3 86.7l0.4 0.6M25.5 51.2l0.6 0.5M8.6 27.4l0.5 0.3M88.8 0.2l0.6 0.7M53.4 26.3l0.6 0.7M5.6 56.2l0.5 0.3M91.5 48l1 0.8M34 66.3l1.3 1M39.8 77.5l0.4 0.9M64.7 25.6l0.1 0.3M50.8 34.6l0.5 0.2M93.8 30.6l0.4 0.2M59.1 66.3l0.5 0.4M84.2 6.3l0.4 1.2M0.2 16.4l1 0.7M51.8 82.5l1.3 0.6M85.8 1.3l1.1 0.6M99.3 64.6l0.9 0.9M39.9 2.8l0.7 1.3M62 54.8l0.2 0.5M47.1 14.3l0.4 1.3M16.6 8.5l0.2 0.5M56.4 85.8l0.2 1.6M0.5 25.3l0.3 0.3M98.4 98.9l0.8 0.5M27 3.8l0.4 0.9M25 89.6l0.8 0.5M99 31.5l0.7 0.8M82.7 63.3l0.7 1.1M3.3 58.7l0.3 0.1M30.1 54.1l0.6 1.1M8.9 37.3l0.9 0.9M57.8 46.2l0.6 1M0.5 87.2l0.7 0.5M99 16.5l0.4 0.4M75.3 69.8l0.3 0.3M29.7 90.2l0.4 1.3M50.4 15.7l0.5 0.6M82.9 96.7l0.6 1M47.7 76.8l0.5 1.5M48 61.7l0.3 0.3M6.3 52.6l0.6 0.3M92.5 15.9l0.5 0.3M26.5 77.3l0.9 0.8M91.6 28.6l0.1 0.6M3.5 50.3l0.1 0.7M24.1 5.2l0.1 1M66.9 82.1l0.2 1.1M20.3 47.9l0.4 0.5M24.8 33.6l0.3 0.9M15.1 18.2l0.1 0.5M11.2 10.9l0.8 0.8M63.2 -0.5l0.7 1.2M65.9 11.6l0.1 0.4M77.4 79.6l0.2 0.8M0.2 84.7l0.3 0.2M72.6 32.7l0.5 0.5M56.9 99.2l0.2 0.3M70.9 81.6l0.3 0.2M73.3 24.5l0.1 0.6M72.3 77.5l0.7 0.5M43.7 61.5l1 0.8M35 40.7l1 0.6M15.8 74.7l0.4 0.5M54.6 18.9l0.6 0.5M84.2 51.2l0.6 0.8M22.1 20.2l0.7 0.6M75.1 19.7l0.8 1.2M88 68.6l0.9 0.8M74.8 35l0.3 0.4M72.4 40.5l0.5 1.2M52.2 86l0.9 1.3M72.5 26.9l0.5 1.2M29 0.7l0.4 0.6M12.5 35.1l0.4 1.1M72.3 15.1l0.5 0.3M0 51l0.4 1.1M96.9 4l0.1 0.7M35.2 54.6l0.2 1.3M79.5 77.5l1.3 0.9M4.2 21.8l0.3 1.4M56.2 40.3l0.5 1.4M99.4 0l0 0.3M35.5 74.5l0.2 0.3M98.8 39.7l0.4 0.5M48.8 36.7l0.1 0.3M17.3 14.6l0.3 0.5M98.3 58.2l0.6 0.4M34.6 1.4l0.7 0.6M55.1 70.8l0.6 0.5M23 9.3l0.4 0.6M38.5 88.4l0.4 1.2M75 27l0.8 0.4M68.6 41.8l1.3 0.8M70.6 73.5l0.6 0.6M32.2 -0.6l0.2 1.4M40.9 30l0.1 0.4M82.9 57.6l1.4 0.8M10.3 15.4l1.1 0.7M86.1 24.3l0.6 0.5M2.2 76.9l0.4 0.5M93.3 23.2l0.4 0.7M94.7 98.1l0.2 0.6M58.9 84.6l0.2 0.3M55.5 66l0.6 1.3M25.1 71.9l0.5 1.3M17.6 5.7l0.5 0.8M68.4 3.1l0.2 0.3M2.9 30.8l0.1 0.6M57.3 71.9l1.1 0.7M3.9 13.8l1.2 0.6M21.5 6.9l0.5 0.9M48.6 22.8l1.1 0.8M92.1 32.8l1 0.7M86.8 73.1l0.8 1M31.6 75.9l0.6 1.4M44.6 88.7l0.6 0.5M81.5 5.1l0.9 0.6M50.4 63.5l0.3 0.1M24.1 84.7l0.9 1.1M0.5 69.7l0.1 0.4M31.1 69.9l0.4 0.3M11 92.5l0.5 0.6M47.8 39.7l0.7 0.6M99 69.1l0.7 1.2M72.9 53.9l0.2 1.1M49.2 28l0.3 0.4M92.7 37.4l0.3 0.7M59.3 87.2l0.9 0.7M34.1 11.2l0.1 0.4M30 45.6l0.6 1.1M32 96.1l1 1M44.2 6.6l0.5 0.8M76.9 46.7l1.4 0.8M40.2 85.8l0.3 0.7M95 48.8l0.2 0.7M96.3 9.3l0.2 1.1M99.2 21.7l1.3 0.7M85.7 43.9l1.1 0.7M92.8 42.3l0.3 1M26.8 21.4l0.3 0.4M40.2 57l0.7 1.4M23.1 52.4l0.6 0.9M89.6 60.1l0.2 0.4M82.9 89.3l1 0.6M89.3 15.4l0.2 0.5M64.4 70.7l0.5 1.1M10.1 98.2l0.6 0.3M0.3 93.9l0.4 1.1M6.9 19.5l0.1 0.4M81.3 19.1l0.3 0.4M49.2 9.6l0.3 0.5M96.2 31.1l0.4 1.3M35.4 88.8l0.6 0.4M68.3 6.6l1.1 0.6M43.8 98.6l0.6 0.8M39.6 34.2l0.8 1M3.4 45.8l0.2 0.7M32.7 24.3l0.6 1.3M72.2 93.2l0.8 0.4M29.4 71.7l0.2 0.7M54.9 54.4l0.9 0.6M8.3 44.9l0.4 0.6M43.7 66.6l0.8 0.9M60 58.1l0.5 1.2M82.2 67.7l0.2 0.5M79.9 38.1l0.4 0.6M52.4 42.7l0.4 0.4M0.8 34.9l1.2 1M65.9 40.7l0.1 0.4M37 67.6l0.4 0.2M4.8 72.8l0.1 0.7M91 78l0.8 1.1M52.5 51.5l0.7 1.4M89.3 56.4l0.2 0.3M78 34.1l0.3 0.8M23.3 28l0.1 0.4M54.3 6.3l0.8 0.9M20.6 14.7l0.3 0.6M87.4 79.4l0.9 0.7M87.2 49.6l0.2 0.8M69.5 61.9l1 1.1M83.6 36.5l0.2 0.7M18 37.3l0.6 1.2M1.1 9.1l0.6 0.3M72.6 6.4l1.1 0.7M70.2 52.6l0.6 0.7M95.6 82.9l0.3 0.3M86.1 86.2l0.7 0.4M75.1 42.4l1.2 0.8M21.2 58.3l0.3 0.2M37.9 24.8l0.3 0.2M59.5 21.2l0.2 1.4M95.4 86.7l1.1 0.8M6.5 96.7l0.6 0.7M99.7 3.9l0.2 0.9M46.5 33.4l0.5 0.9M1.6 38.9l0.5 1.1M99.5 76.7l0.6 0.4M55.4 3.9l0.1 0.7M12.2 0.6l0.3 0.9M46.6 4.4l0.3 1" stroke="#54568f" stroke-width="1.35" stroke-linecap="round" stroke-linejoin="round" fill="none"/>
</g></svg>
<rect x="910.7" y="440.7" width="236.1" height="205.4" fill="#2a2a2c"/>
<svg x="912.7" y="442.7" width="232.1" height="201.4" viewBox="0 0 100 100" preserveAspectRatio="none" overflow="hidden"><rect width="100" height="100" fill="#f1e9ec"/><g filter="url(#b4)">
<path d="M-3.0 8.0C0.0 -6.7 10.3 13.0 15.0 15.0C19.7 17.0 21.7 17.5 25.0 20.0C28.3 22.5 31.7 26.7 35.0 30.0C38.3 33.3 42.0 36.3 45.0 40.0C48.0 43.7 50.5 47.3 53.0 52.0C55.5 56.7 57.5 63.0 60.0 68.0C62.5 73.0 65.8 76.2 68.0 82.0C70.2 87.8 84.8 99.5 73.0 103.0C61.2 106.5 9.7 118.8 -3.0 103.0C-15.7 87.2 -6.0 22.7 -3.0 8.0Z" fill="#eddfe8"/>
<path d="M-3.0 12.0C0.0 -2.0 10.3 17.0 15.0 19.0C19.7 21.0 21.7 21.5 25.0 24.0C28.3 26.5 31.7 30.7 35.0 34.0C38.3 37.3 42.0 40.3 45.0 44.0C48.0 47.7 50.5 51.3 53.0 56.0C55.5 60.7 57.8 67.0 60.0 72.0C62.2 77.0 64.3 80.8 66.0 86.0C67.7 91.2 81.5 100.2 70.0 103.0C58.5 105.8 9.2 118.2 -3.0 103.0C-15.2 87.8 -6.0 26.0 -3.0 12.0Z" fill="#e6d2de"/>
<path d="M-4.5 -3.8h0M14.8 -5.6h0M28.6 -6.4h0M45 -6.5h0M62.2 -3.9h0M83.5 -3h0M97.4 -4.5h0M5.5 9.8h0M19.3 12.5h0M39.1 8.7h0M53.3 8.7h0M74.8 8.7h0M90.1 13.1h0M-6.4 24.9h0M12.9 27.6h0M28.4 24.2h0M45.7 23.1h0M64.9 27.1h0M80.7 23.1h0M99.1 26.7h0M5.3 39.3h0M23.2 40.8h0M39 40.4h0M54.1 39.9h0M74 41.1h0M88.7 41.8h0M-2.3 52.6h0M11.3 53.5h0M27.5 56.2h0M47.7 55.1h0M66.5 54.2h0M79.5 52.9h0M97.2 56.6h0M5 67.4h0M21.2 67.3h0M39.1 67.7h0M53.9 70.3h0M74.2 70.2h0M88.4 70.4h0M-5.2 81.8h0M11.8 85.3h0M30.6 82.8h0M48.7 86h0M62.9 86.7h0M79.8 82.1h0M98.1 86.2h0M5 99.3h0M21.4 98h0M37.5 98.6h0M55.7 101.3h0M70.3 97.8h0M91.8 99.9h0" stroke="#f2e9ed" stroke-width="17.2" stroke-linecap="round" stroke-linejoin="round" fill="none"/>
<path d="M2.0 10.0C4.2 10.8 11.2 13.3 15.0 15.0C18.8 16.7 21.7 17.5 25.0 20.0C28.3 22.5 31.7 26.7 35.0 30.0C38.3 33.3 42.0 36.3 45.0 40.0C48.0 43.7 50.5 47.3 53.0 52.0C55.5 56.7 57.5 63.0 60.0 68.0C62.5 73.0 65.8 76.2 68.0 82.0C70.2 87.8 72.2 99.5 73.0 103.0" stroke="#5a4c70" stroke-width="0.55" stroke-linecap="round" stroke-linejoin="round" fill="none"/>
<path d="M75.0 0.0C74.2 3.3 71.2 14.2 70.0 20.0C68.8 25.8 68.3 32.5 68.0 35.0" stroke="#e0c8dc" stroke-width="0.8" stroke-linecap="round" stroke-linejoin="round" fill="none"/>
<path d="M5.1 21.3l3.8 1.4M31.8 34l0.3 2M22.7 51.1l0.7 1.9M23.2 56.7l1.5 2.6M20 62l2 0M59.5 71.1l1 1.7M57 88.1l1.9 -2.3M28.9 96l2.3 1.9M94.1 64.5l1.7 1" stroke="#4a4488" stroke-width="1.3" stroke-linecap="round" stroke-linejoin="round" fill="none"/>
</g></svg>
<rect x="1159.3" y="440.7" width="235.8" height="205.4" fill="#2a2a2c"/>
<svg x="1161.3" y="442.7" width="231.8" height="201.4" viewBox="0 0 100 100" preserveAspectRatio="none" overflow="hidden"><rect width="100" height="100" fill="#f1eaea"/><g filter="url(#b4)">
<path d="M-3.0 -3.0C7.8 -20.7 51.8 -6.0 62.0 -3.0C72.2 0.0 59.7 8.7 58.0 15.0C56.3 21.3 54.0 28.3 52.0 35.0C50.0 41.7 48.0 48.3 46.0 55.0C44.0 61.7 42.7 69.2 40.0 75.0C37.3 80.8 33.0 85.3 30.0 90.0C27.0 94.7 27.5 100.8 22.0 103.0C16.5 105.2 1.2 120.7 -3.0 103.0C-7.2 85.3 -13.8 14.7 -3.0 -3.0Z" fill="#dcc4d8"/>
<path d="M0.7 6.1h0M14.6 7.7h0M25 5.6h0M38.9 7.8h0M48.7 5.1h0M8.3 15.4h0M21.3 18.1h0M31.5 17.2h0M42.5 16.8h0M56.4 16.1h0M3.2 27.5h0M12.5 28.3h0M26.5 27.2h0M37.3 26.6h0M49 27.6h0M8.5 37.6h0M20.5 37.5h0M30.9 36.1h0M45.5 38.6h0M0.7 48.6h0M14.8 47.8h0M27.1 47.6h0M39 47.6h0M-2.8 57.5h0M9.4 58h0M20.1 59h0M32.6 58.6h0M2.4 68.3h0M14.5 69.7h0M27.4 69.7h0M39.1 68.4h0M8.2 78.8h0M19.1 78.8h0M32.8 79.7h0M2.7 91h0M14.5 88.8h0M27.1 90.1h0M7.8 100.3h0M20 99.2h0" stroke="#fbf8f9" stroke-width="12.1" stroke-linecap="round" stroke-linejoin="round" fill="none"/>
<path d="M22.0 38.0C23.7 35.0 26.7 30.7 30.0 30.0C33.3 29.3 39.7 30.7 42.0 34.0C44.3 37.3 44.3 44.7 44.0 50.0C43.7 55.3 41.3 61.0 40.0 66.0C38.7 71.0 38.3 78.0 36.0 80.0C33.7 82.0 27.7 81.3 26.0 78.0C24.3 74.7 27.0 65.0 26.0 60.0C25.0 55.0 20.7 51.7 20.0 48.0C19.3 44.3 20.3 41.0 22.0 38.0Z" fill="#c4b0d2"/>
<path d="M24.1 39.5l1.7 1M31 36l2 0M37.5 43.1l1 1.7M29.2 69.4l1.5 1.3M35.8 75l0.3 2M23 49.8l2 0.3M39.7 57.1l0.7 1.9" stroke="#4a4890" stroke-width="1.4" stroke-linecap="round" stroke-linejoin="round" fill="none"/>
<path d="M62.0 -3.0C61.3 0.0 59.7 8.7 58.0 15.0C56.3 21.3 54.0 28.3 52.0 35.0C50.0 41.7 48.0 48.3 46.0 55.0C44.0 61.7 42.7 69.2 40.0 75.0C37.3 80.8 33.0 85.3 30.0 90.0C27.0 94.7 23.3 100.8 22.0 103.0" stroke="#b894c0" stroke-width="1.2" stroke-linecap="round" stroke-linejoin="round" fill="none"/>
<circle cx="10" cy="9" r="3" fill="#e8a0c0"/>
</g></svg>
<text x="915.9" y="213.1" font-size="19.55" fill="#000" stroke="#000" stroke-width="0.45">Benign omentum</text>
<text x="1163.7" y="39.7" font-size="19.55" fill="#000" stroke="#000" stroke-width="0.45">Omental metastasis</text>
<text x="970.0" y="77.4" font-size="20" fill="#000" font-weight="bold">m</text>
<text x="1030.3" y="92.5" font-size="20" fill="#000" font-weight="bold">m</text>
<text x="1180.6" y="172.3" font-size="20" fill="#000" font-weight="bold">t</text>
<text x="1246.9" y="156.7" font-size="20" fill="#000" font-weight="bold">t</text>
<line x1="973.9" y1="80.5" x2="967.8" y2="87.6" stroke="#1a1a1a" stroke-width="1.5"/>
<polygon points="963.5,92.5 965.4,85.5 970.2,89.7" fill="#1a1a1a"/>
<line x1="1032.4" y1="77.4" x2="1025.4" y2="74.3" stroke="#1a1a1a" stroke-width="1.5"/>
<polygon points="1019.4,71.7 1026.6,71.4 1024.1,77.2" fill="#1a1a1a"/>
<line x1="1035.0" y1="98.2" x2="1032.6" y2="115.2" stroke="#1a1a1a" stroke-width="1.5"/>
<polygon points="1031.6,121.6 1029.4,114.7 1035.7,115.6" fill="#1a1a1a"/>
<line x1="1179.3" y1="174.1" x2="1173.6" y2="179.5" stroke="#1a1a1a" stroke-width="1.5"/>
<polygon points="1168.9,184.0 1171.4,177.2 1175.8,181.8" fill="#1a1a1a"/>
<line x1="1244.3" y1="157.5" x2="1237.5" y2="163.6" stroke="#1a1a1a" stroke-width="1.5"/>
<polygon points="1232.6,167.9 1235.3,161.2 1239.6,166.0" fill="#1a1a1a"/>
<rect x="1128.1" y="211.8" width="5.7" height="3.0" fill="#000"/>
<rect x="1373.5" y="211.8" width="8.1" height="3.1" fill="#000"/>
<text x="971.3" y="266.1" font-size="20" fill="#000" font-weight="bold">m</text>
<text x="1053.7" y="289.5" font-size="20" fill="#000" font-weight="bold">m</text>
<text x="1239.1" y="293.1" font-size="20" fill="#000" font-weight="bold">t</text>
<text x="1211.3" y="397.1" font-size="20" fill="#000" font-weight="bold">t</text>
<text x="1260.2" y="389.3" font-size="20" fill="#000" font-weight="bold">t</text>
<line x1="976.5" y1="269.2" x2="974.3" y2="285.6" stroke="#1a1a1a" stroke-width="1.5"/>
<polygon points="973.4,292.1 971.1,285.2 977.4,286.1" fill="#1a1a1a"/>
<line x1="1070.1" y1="286.1" x2="1084.6" y2="282.1" stroke="#1a1a1a" stroke-width="1.5"/>
<polygon points="1090.9,280.4 1085.5,285.2 1083.8,279.0" fill="#1a1a1a"/>
<line x1="1061.0" y1="294.7" x2="1058.2" y2="310.9" stroke="#1a1a1a" stroke-width="1.5"/>
<polygon points="1057.1,317.3 1055.1,310.4 1061.4,311.4" fill="#1a1a1a"/>
<line x1="1238.6" y1="295.2" x2="1233.5" y2="299.9" stroke="#1a1a1a" stroke-width="1.5"/>
<polygon points="1228.7,304.3 1231.3,297.5 1235.7,302.3" fill="#1a1a1a"/>
<line x1="1211.3" y1="399.7" x2="1206.1" y2="404.6" stroke="#1a1a1a" stroke-width="1.5"/>
<polygon points="1201.4,409.1 1203.9,402.3 1208.3,406.9" fill="#1a1a1a"/>
<line x1="1256.0" y1="390.6" x2="1250.3" y2="396.0" stroke="#1a1a1a" stroke-width="1.5"/>
<polygon points="1245.6,400.5 1248.1,393.7 1252.5,398.4" fill="#1a1a1a"/>
<rect x="1079.2" y="422.1" width="55.1" height="4.4" fill="#000"/>
<rect x="1353.5" y="423.4" width="28.6" height="3.9" fill="#000"/>
<text x="989.5" y="475.3" font-size="20" fill="#000" font-weight="bold">m</text>
<text x="1042.3" y="530.7" font-size="20" fill="#000" font-weight="bold">m</text>
<text x="1247.7" y="609.7" font-size="20" fill="#000" font-weight="bold">t</text>
<line x1="996.5" y1="477.9" x2="994.3" y2="493.6" stroke="#1a1a1a" stroke-width="1.5"/>
<polygon points="993.4,500.0 991.1,493.1 997.5,494.0" fill="#1a1a1a"/>
<line x1="1049.3" y1="533.8" x2="1046.5" y2="549.5" stroke="#1a1a1a" stroke-width="1.5"/>
<polygon points="1045.4,555.9 1043.4,548.9 1049.7,550.1" fill="#1a1a1a"/>
<line x1="1250.8" y1="510.4" x2="1243.9" y2="516.9" stroke="#1a1a1a" stroke-width="1.5"/>
<polygon points="1239.1,521.3 1241.7,514.5 1246.0,519.2" fill="#1a1a1a"/>
<line x1="1245.6" y1="600.1" x2="1238.7" y2="596.1" stroke="#1a1a1a" stroke-width="1.5"/>
<polygon points="1233.1,592.8 1240.4,593.3 1237.1,598.9" fill="#1a1a1a"/>
<rect x="1079.2" y="632.1" width="55.1" height="4.4" fill="#000"/>
<rect x="1169.7" y="632.6" width="27.8" height="4.4" fill="#000"/>
<text x="1207.9" y="639.1" font-size="19.5" fill="#000" stroke="#000" stroke-width="0.45">50 <tspan font-style="italic">µ</tspan>m</text>
<svg x="1493.2" y="0.0" width="165.6" height="164.6" viewBox="0 0 100 100" preserveAspectRatio="none" overflow="hidden"><rect width="100" height="100" fill="#000"/><g filter="url(#b3)">
<path d="M38.0 -3.0C42.8 -8.5 67.7 -6.0 72.0 -3.0C76.3 0.0 66.8 9.5 64.0 15.0C61.2 20.5 57.8 24.2 55.0 30.0C52.2 35.8 49.2 43.3 47.0 50.0C44.8 56.7 42.8 61.2 42.0 70.0C41.2 78.8 43.0 97.5 42.0 103.0C41.0 108.5 37.2 107.7 36.0 103.0C34.8 98.3 34.8 83.0 35.0 75.0C35.2 67.0 35.7 62.5 37.0 55.0C38.3 47.5 42.8 39.7 43.0 30.0C43.2 20.3 33.2 2.5 38.0 -3.0Z" fill="#040418"/>
<path d="M40.0 -2.0C40.7 3.0 44.5 18.5 44.0 28.0C43.5 37.5 38.5 46.7 37.0 55.0C35.5 63.3 35.0 70.2 35.0 78.0C35.0 85.8 36.7 98.0 37.0 102.0" stroke="#5c1028" stroke-width="3.2" stroke-linecap="round" stroke-linejoin="round" fill="none"/><path d="M40.0 -2.0C40.7 3.0 44.5 18.5 44.0 28.0C43.5 37.5 38.5 46.7 37.0 55.0C35.5 63.3 35.0 70.2 35.0 78.0C35.0 85.8 36.7 98.0 37.0 102.0" stroke="#e01c48" stroke-width="1.3" stroke-linecap="round" stroke-linejoin="round" fill="none"/>
<path d="M35.6 4.5l0.9 4.9M56 8.3l2 3.5M46.5 25.6l1 2.8M58.6 27.5l2.8 1M42.7 31.5l0.5 3M35.7 72.5l0.6 7" stroke="#3a58d8" stroke-width="5" stroke-linecap="round" stroke-linejoin="round" fill="none"/>
<path d="M67 10h0M75 16h0" stroke="#c01830" stroke-width="2" stroke-linecap="round" stroke-linejoin="round" fill="none"/>
</g></svg>
<svg x="1661.4" y="0.0" width="164.3" height="164.6" viewBox="0 0 100 100" preserveAspectRatio="none" overflow="hidden"><rect width="100" height="100" fill="#000"/><g filter="url(#b3)">
<path d="M67.0 -2.0C65.8 0.3 62.5 7.5 60.0 12.0C57.5 16.5 54.2 20.3 52.0 25.0C49.8 29.7 48.2 35.8 47.0 40.0C45.8 44.2 44.5 46.7 45.0 50.0C45.5 53.3 48.7 56.7 50.0 60.0C51.3 63.3 53.0 66.3 53.0 70.0C53.0 73.7 50.2 76.7 50.0 82.0C49.8 87.3 51.7 98.7 52.0 102.0" stroke="#08082a" stroke-width="3" stroke-linecap="round" stroke-linejoin="round" fill="none"/>
<path d="M67.0 -2.0C65.8 0.3 62.5 7.5 60.0 12.0C57.5 16.5 54.2 20.3 52.0 25.0C49.8 29.7 48.2 35.8 47.0 40.0C45.8 44.2 44.5 46.7 45.0 50.0C45.5 53.3 48.7 56.7 50.0 60.0C51.3 63.3 53.0 66.3 53.0 70.0C53.0 73.7 50.2 76.7 50.0 82.0C49.8 87.3 51.7 98.7 52.0 102.0" stroke="#d81c48" stroke-width="0.9" stroke-linecap="round" stroke-linejoin="round" fill="none"/>
<path d="M70.0 5.0C72.5 6.2 80.0 10.3 85.0 12.0C90.0 13.7 97.5 14.5 100.0 15.0" stroke="#80102c" stroke-width="0.5" stroke-linecap="round" stroke-linejoin="round" fill="none"/>
<path d="M60.7 14.1l-1.4 3.8M50.3 35.5l-0.5 3M52 92.5l0 5" stroke="#3a58d8" stroke-width="2.6" stroke-linecap="round" stroke-linejoin="round" fill="none"/>
<path d="M70 88h0" stroke="#e02030" stroke-width="2.4" stroke-linecap="round" stroke-linejoin="round" fill="none"/>
</g></svg>
<svg x="1829.4" y="0.0" width="166.1" height="164.6" viewBox="0 0 100 100" preserveAspectRatio="none" overflow="hidden"><rect width="100" height="100" fill="#000"/><g filter="url(#b3)">
<path d="M66.0 -2.0C65.0 0.3 62.3 6.7 60.0 12.0C57.7 17.3 54.5 24.0 52.0 30.0C49.5 36.0 45.3 43.0 45.0 48.0C44.7 53.0 48.7 56.3 50.0 60.0C51.3 63.7 53.0 65.8 53.0 70.0C53.0 74.2 50.5 79.7 50.0 85.0C49.5 90.3 50.0 99.2 50.0 102.0" stroke="#08082a" stroke-width="3" stroke-linecap="round" stroke-linejoin="round" fill="none"/>
<path d="M66.0 -2.0C65.0 0.3 62.3 6.7 60.0 12.0C57.7 17.3 54.5 24.0 52.0 30.0C49.5 36.0 45.3 43.0 45.0 48.0C44.7 53.0 48.7 56.3 50.0 60.0C51.3 63.7 53.0 65.8 53.0 70.0C53.0 74.2 50.5 79.7 50.0 85.0C49.5 90.3 50.0 99.2 50.0 102.0" stroke="#f0e820" stroke-width="1.0" stroke-linecap="round" stroke-linejoin="round" fill="none"/>
<path d="M60.7 14.1l-1.4 3.8M50 92.5l0 5" stroke="#3a58d8" stroke-width="2.6" stroke-linecap="round" stroke-linejoin="round" fill="none"/>
<path d="M70 88h0" stroke="#e6e020" stroke-width="2" stroke-linecap="round" stroke-linejoin="round" fill="none"/>
</g></svg>
<svg x="1493.2" y="169.2" width="165.6" height="164.4" viewBox="0 0 100 100" preserveAspectRatio="none" overflow="hidden"><rect width="100" height="100" fill="#1e1c5c"/><g filter="url(#b3)">
<path d="M-3.0 -3.0C4.2 -20.7 32.0 -6.8 40.0 -3.0C48.0 0.8 44.7 14.5 45.0 20.0C45.3 25.5 41.5 25.8 42.0 30.0C42.5 34.2 46.7 40.0 48.0 45.0C49.3 50.0 48.8 54.2 50.0 60.0C51.2 65.8 53.0 74.7 55.0 80.0C57.0 85.3 57.0 90.0 62.0 92.0C67.0 94.0 85.3 90.2 85.0 92.0C84.7 93.8 74.7 101.2 60.0 103.0C45.3 104.8 7.5 120.7 -3.0 103.0C-13.5 85.3 -10.2 14.7 -3.0 -3.0Z" fill="#1c5c3c"/>
<path d="M9.5 74.6l-1.6 0.8M8.7 20.1l-2.2 0.3M8 61.8l-1.3 2.1M22.3 84.1l-0.1 0.8M26.8 66.9l1.2 0.9M42.3 62.6l1 2.5M33 32l2.2 1.9M57 93.3l1.6 2M38.9 43.7l1.1 0.1M35.6 6.6l-1.7 1.6M20 22.3l0.1 0.5M45.8 73.3l-0.5 2M35.1 53.8l-2 0.3M2.9 41l1.5 0.8M18.2 39.5l-0.7 0.1M29.1 77.7l0.4 0.3M8.1 96.4l1 1.5M15.8 66.1l-0.2 0.6M41.7 91.8l0.2 1.3M14.8 0.4l-1.4 1.9M27.4 44.7l1.5 0.2M21.2 8.2l0.7 0.7M40.4 19.6l2 1M51.7 81.8l1.9 2M75.6 94.8l-2.5 0.6M29.5 19.6l-2.2 0.7M3 11l1.3 0.3M8.3 50.9l-0.5 0.3M26.2 28l0.4 2.1M16.6 92.3l-1.5 0.5M34.1 89.8l-1.6 2.2M44.8 34.9l-2.6 1.3M13.6 56.8l1.3 0.8M12.7 28.3l-0.3 0.7M38.6 80.8l-0.7 1.9M22.1 56.7l1.4 0.7M7.8 86.6l-0.1 1.1M48.7 99.5l-0.3 0.4M1.6 30.5l1.7 0M1.5 55.6l-0.7 2.6M24.5 95.4l0.6 0.1M41.9 50.8l0.9 2.6M65.1 96.5l2.2 1.6M11.2 10.9l1.8 0.8M33.9 99.8l-2.1 0M30.1 -0.4l-1 2.2M39.5 -0.9l0.5 2.8M19.5 74.4l-0.9 2.4M50.5 67.5l1.4 0.6M0.8 94.7l-1.1 2.2M47.8 45.2l0.4 1M2.3 1l-2 1.6M1 79.5l0.6 1.5M0.5 67.4l0.3 1.6M37.9 71.8l-0.9 0.5M42.4 9.7l1 2.1M18.5 47.5l-0.6 2.7M84 92l-0.6 0.3M49.2 57.3l-0.3 0.4" stroke="#1e6c3c" stroke-width="11.5" stroke-linecap="round" stroke-linejoin="round" fill="none"/><path d="M9.5 74.6l-1.6 0.8M8.7 20.1l-2.2 0.3M8 61.8l-1.3 2.1M22.3 84.1l-0.1 0.8M26.8 66.9l1.2 0.9M42.3 62.6l1 2.5M33 32l2.2 1.9M57 93.3l1.6 2M38.9 43.7l1.1 0.1M35.6 6.6l-1.7 1.6M20 22.3l0.1 0.5M45.8 73.3l-0.5 2M35.1 53.8l-2 0.3M2.9 41l1.5 0.8M18.2 39.5l-0.7 0.1M29.1 77.7l0.4 0.3M8.1 96.4l1 1.5M15.8 66.1l-0.2 0.6M41.7 91.8l0.2 1.3M14.8 0.4l-1.4 1.9M27.4 44.7l1.5 0.2M21.2 8.2l0.7 0.7M40.4 19.6l2 1M51.7 81.8l1.9 2M75.6 94.8l-2.5 0.6M29.5 19.6l-2.2 0.7M3 11l1.3 0.3M8.3 50.9l-0.5 0.3M26.2 28l0.4 2.1M16.6 92.3l-1.5 0.5M34.1 89.8l-1.6 2.2M44.8 34.9l-2.6 1.3M13.6 56.8l1.3 0.8M12.7 28.3l-0.3 0.7M38.6 80.8l-0.7 1.9M22.1 56.7l1.4 0.7M7.8 86.6l-0.1 1.1M48.7 99.5l-0.3 0.4M1.6 30.5l1.7 0M1.5 55.6l-0.7 2.6M24.5 95.4l0.6 0.1M41.9 50.8l0.9 2.6M65.1 96.5l2.2 1.6M11.2 10.9l1.8 0.8M33.9 99.8l-2.1 0M30.1 -0.4l-1 2.2M39.5 -0.9l0.5 2.8M19.5 74.4l-0.9 2.4M50.5 67.5l1.4 0.6M0.8 94.7l-1.1 2.2M47.8 45.2l0.4 1M2.3 1l-2 1.6M1 79.5l0.6 1.5M0.5 67.4l0.3 1.6M37.9 71.8l-0.9 0.5M42.4 9.7l1 2.1M18.5 47.5l-0.6 2.7M84 92l-0.6 0.3M49.2 57.3l-0.3 0.4" stroke="#44cc5c" stroke-width="8.3" stroke-linecap="round" stroke-linejoin="round" fill="none"/><path d="M9.5 74.6l-1.6 0.8M8.7 20.1l-2.2 0.3M8 61.8l-1.3 2.1M22.3 84.1l-0.1 0.8M26.8 66.9l1.2 0.9M42.3 62.6l1 2.5M33 32l2.2 1.9M57 93.3l1.6 2M38.9 43.7l1.1 0.1M35.6 6.6l-1.7 1.6M20 22.3l0.1 0.5M45.8 73.3l-0.5 2M35.1 53.8l-2 0.3M2.9 41l1.5 0.8M18.2 39.5l-0.7 0.1M29.1 77.7l0.4 0.3M8.1 96.4l1 1.5M15.8 66.1l-0.2 0.6M41.7 91.8l0.2 1.3M14.8 0.4l-1.4 1.9M27.4 44.7l1.5 0.2M21.2 8.2l0.7 0.7M40.4 19.6l2 1M51.7 81.8l1.9 2M75.6 94.8l-2.5 0.6M29.5 19.6l-2.2 0.7M3 11l1.3 0.3M8.3 50.9l-0.5 0.3M26.2 28l0.4 2.1M16.6 92.3l-1.5 0.5M34.1 89.8l-1.6 2.2M44.8 34.9l-2.6 1.3M13.6 56.8l1.3 0.8M12.7 28.3l-0.3 0.7M38.6 80.8l-0.7 1.9M22.1 56.7l1.4 0.7M7.8 86.6l-0.1 1.1M48.7 99.5l-0.3 0.4M1.6 30.5l1.7 0M1.5 55.6l-0.7 2.6M24.5 95.4l0.6 0.1M41.9 50.8l0.9 2.6M65.1 96.5l2.2 1.6M11.2 10.9l1.8 0.8M33.9 99.8l-2.1 0M30.1 -0.4l-1 2.2M39.5 -0.9l0.5 2.8M19.5 74.4l-0.9 2.4M50.5 67.5l1.4 0.6M0.8 94.7l-1.1 2.2M47.8 45.2l0.4 1M2.3 1l-2 1.6M1 79.5l0.6 1.5M0.5 67.4l0.3 1.6M37.9 71.8l-0.9 0.5M42.4 9.7l1 2.1M18.5 47.5l-0.6 2.7M84 92l-0.6 0.3M49.2 57.3l-0.3 0.4" stroke="#22348c" stroke-width="7.2" stroke-linecap="round" stroke-linejoin="round" fill="none"/>
<path d="M78.1 34.4l3.4 2.9M72.1 77.7l1.4 1.9M94.8 43.5l2.6 1.4M46.4 30.7l2.2 1M84.8 10.9l3.3 2.3M96.5 19.5l3.7 1.9M97.5 59.6l2.7 2.5M70.6 47.1l1.6 3.5M65.7 10.2l3.1 1.4M58.8 23.7l3.7 2.2M50.6 1.5l1.6 3M95.2 30.1l1.1 2.4M72.8 18.8l1.6 1.9M81.1 67.6l3.4 3M77.3 -1.1l2.1 4M89.8 95.3l1.9 3.7M90.3 79l1.5 3.5M60.6 35.5l3.8 3.3M57.9 47.5l3 1.5M59.9 66.5l2.3 2.2M59.5 78.4l1.8 0.9M70 87.8l2 2.4M84.5 56.4l1.3 2.4M86.6 21.2l2.2 4M84.3 45.4l1.3 1.9M94.9 2.3l1.4 2.5M70 61.5l1.2 3.1M51.3 13.5l2.9 1.8M98.6 89.6l1.9 1.3M91.6 69.1l3.6 2.4M80.3 90.5l2.7 1.1M65.5 -0.4l3.8 1.6" stroke="#4058b8" stroke-width="6.5" stroke-linecap="round" stroke-linejoin="round" fill="none"/>
<path d="M28 54h0M50 70h0M26 96h0" stroke="#e02848" stroke-width="1.6" stroke-linecap="round" stroke-linejoin="round" fill="none"/>
</g></svg>
<svg x="1661.4" y="169.2" width="164.3" height="164.4" viewBox="0 0 100 100" preserveAspectRatio="none" overflow="hidden"><rect width="100" height="100" fill="#0a0a2c"/><g filter="url(#b3)">
<path d="M45.0 -3.0C53.7 -8.5 83.3 -8.5 90.0 -3.0C96.7 2.5 86.7 20.3 85.0 30.0C83.3 39.7 78.3 47.5 80.0 55.0C81.7 62.5 91.2 67.0 95.0 75.0C98.8 83.0 110.5 98.3 103.0 103.0C95.5 107.7 60.2 110.2 50.0 103.0C39.8 95.8 44.0 72.2 42.0 60.0C40.0 47.8 37.5 40.5 38.0 30.0C38.5 19.5 36.3 2.5 45.0 -3.0Z" fill="#3c1030"/>
<path d="M47.3 62l0.7 2.1M70.2 79.2l0.3 2.4M80.2 19.2l0.1 2M81.5 63.6l0.9 3.3M57.6 20.7l2.5 2.4M76.1 38.9l1.6 1.7M54.5 34.4l0.9 3M47.6 16.9l2.1 2M82.7 2l0.4 2M80.5 29.4l0.2 1.8M85.5 87.4l0.3 2.6M82.5 96.3l1.6 1.5M53.3 65.4l0.4 3.5M84.2 81l0.2 2.5M61.5 11.1l1.6 3.5M67.2 91.9l1.4 2.2M65.7 59.8l0.6 3.2M75.7 68.3l2 1.8M47.6 54.5l0.1 3.8M74.7 45.3l1.3 3.5M97.7 97.3l0.4 1.7M48.2 3.7l1.2 1.8M60.4 96.9l0.2 1.6M59.7 39.7l0.3 2.2M50.2 26.2l2.4 2.9M65.8 74l-0.4 2.7M97.6 89.4l1.3 2.2M46.1 42.8l0.6 3.6M91.6 76.8l1.6 2M89.6 69.3l2.1 1.8M62.5 86.5l0 2.9M59.2 71.3l2 2M48.5 75.8l1.2 2.1M42.3 16.5l0.4 1.6M64.1 24.1l0.3 4M51.8 95.9l0.7 2M93 84l0.9 1.9M44.2 7.7l-0.4 2.6M81.7 10.1l0.1 3.7M72.4 53.6l2.2 3.1M47.6 86.9l1.7 1.5M72.9 62.7l1 1.9M40 32.4l1.3 2.8M64.5 17.5l1.1 1.8M50.6 39.6l1.3 2.3M69.2 98l-0.1 2.2M71.4 35.7l-0.2 3.9M62 2.8l0.7 1.7M43.1 69.6l2.6 2.4M72 13.5l2 2.3M60.8 50.2l1.2 1.9M80.8 57.5l0.2 2.9M53.3 51.8l1 2M58.8 60.5l1.2 3.6M75.7 91.6l1.1 3.1M71 3.3l1.5 3.5M70.7 20.5l2 1.7M54.1 84.1l1.6 1.9M73.6 74.4l2.2 2.8M77.7 84.3l1.3 1.6M68.3 65.6l-0.2 3M45.8 32l2.1 2.5M83.6 70.3l1.4 1.6M56.1 13.3l-0.1 2.2M40.6 40.1l0.8 2.2M78.6 51.3l1.1 2.6M43.6 26.7l1.3 1.8M73.7 27.8l0 2.8M91.6 93.9l0.2 2.3M61.4 32.4l0 3.1M69.8 41.8l0.2 3.3M66.8 52.3l1.4 2M42.8 51.7l-0.3 2.5M59.1 77.7l0.6 1.7M85.6 14.9l0 3.7M81.4 42.1l1.9 2.3M50 10.2l0.3 3.5M53.9 44.4l2.1 3.4M86.5 7.5l0.6 1.9M64.2 80.5l0.3 2.9M55.9 0l0.2 1.5M84.2 24.8l1.6 1.9M55 6.4l0.8 1.4M65.9 30.6l2.5 2.7M57.3 27l0.3 1.6M83 34.9l0.6 2.2M88.7 -0.8l0.7 1.9M77.3 98.6l1.2 2.2M53.4 58.2l1 1.4M75 -1l0.9 2.1M80.2 75.9l2.1 2.1M70.6 86.4l2.2 2.4M62.7 44.1l1.7 2.7M41.3 58.2l1.5 2.5M56.2 91l2.1 2M67.7 9.5l1.1 2.8M53.5 72.5l1.5 1.6M76.9 6.2l1.7 1.8" stroke="#601428" stroke-width="7.4" stroke-linecap="round" stroke-linejoin="round" fill="none"/><path d="M47.3 62l0.7 2.1M70.2 79.2l0.3 2.4M80.2 19.2l0.1 2M81.5 63.6l0.9 3.3M57.6 20.7l2.5 2.4M76.1 38.9l1.6 1.7M54.5 34.4l0.9 3M47.6 16.9l2.1 2M82.7 2l0.4 2M80.5 29.4l0.2 1.8M85.5 87.4l0.3 2.6M82.5 96.3l1.6 1.5M53.3 65.4l0.4 3.5M84.2 81l0.2 2.5M61.5 11.1l1.6 3.5M67.2 91.9l1.4 2.2M65.7 59.8l0.6 3.2M75.7 68.3l2 1.8M47.6 54.5l0.1 3.8M74.7 45.3l1.3 3.5M97.7 97.3l0.4 1.7M48.2 3.7l1.2 1.8M60.4 96.9l0.2 1.6M59.7 39.7l0.3 2.2M50.2 26.2l2.4 2.9M65.8 74l-0.4 2.7M97.6 89.4l1.3 2.2M46.1 42.8l0.6 3.6M91.6 76.8l1.6 2M89.6 69.3l2.1 1.8M62.5 86.5l0 2.9M59.2 71.3l2 2M48.5 75.8l1.2 2.1M42.3 16.5l0.4 1.6M64.1 24.1l0.3 4M51.8 95.9l0.7 2M93 84l0.9 1.9M44.2 7.7l-0.4 2.6M81.7 10.1l0.1 3.7M72.4 53.6l2.2 3.1M47.6 86.9l1.7 1.5M72.9 62.7l1 1.9M40 32.4l1.3 2.8M64.5 17.5l1.1 1.8M50.6 39.6l1.3 2.3M69.2 98l-0.1 2.2M71.4 35.7l-0.2 3.9M62 2.8l0.7 1.7M43.1 69.6l2.6 2.4M72 13.5l2 2.3M60.8 50.2l1.2 1.9M80.8 57.5l0.2 2.9M53.3 51.8l1 2M58.8 60.5l1.2 3.6M75.7 91.6l1.1 3.1M71 3.3l1.5 3.5M70.7 20.5l2 1.7M54.1 84.1l1.6 1.9M73.6 74.4l2.2 2.8M77.7 84.3l1.3 1.6M68.3 65.6l-0.2 3M45.8 32l2.1 2.5M83.6 70.3l1.4 1.6M56.1 13.3l-0.1 2.2M40.6 40.1l0.8 2.2M78.6 51.3l1.1 2.6M43.6 26.7l1.3 1.8M73.7 27.8l0 2.8M91.6 93.9l0.2 2.3M61.4 32.4l0 3.1M69.8 41.8l0.2 3.3M66.8 52.3l1.4 2M42.8 51.7l-0.3 2.5M59.1 77.7l0.6 1.7M85.6 14.9l0 3.7M81.4 42.1l1.9 2.3M50 10.2l0.3 3.5M53.9 44.4l2.1 3.4M86.5 7.5l0.6 1.9M64.2 80.5l0.3 2.9M55.9 0l0.2 1.5M84.2 24.8l1.6 1.9M55 6.4l0.8 1.4M65.9 30.6l2.5 2.7M57.3 27l0.3 1.6M83 34.9l0.6 2.2M88.7 -0.8l0.7 1.9M77.3 98.6l1.2 2.2M53.4 58.2l1 1.4M75 -1l0.9 2.1M80.2 75.9l2.1 2.1M70.6 86.4l2.2 2.4M62.7 44.1l1.7 2.7M41.3 58.2l1.5 2.5M56.2 91l2.1 2M67.7 9.5l1.1 2.8M53.5 72.5l1.5 1.6M76.9 6.2l1.7 1.8" stroke="#d82040" stroke-width="5.3" stroke-linecap="round" stroke-linejoin="round" fill="none"/><path d="M47.3 62l0.7 2.1M70.2 79.2l0.3 2.4M80.2 19.2l0.1 2M81.5 63.6l0.9 3.3M57.6 20.7l2.5 2.4M76.1 38.9l1.6 1.7M54.5 34.4l0.9 3M47.6 16.9l2.1 2M82.7 2l0.4 2M80.5 29.4l0.2 1.8M85.5 87.4l0.3 2.6M82.5 96.3l1.6 1.5M53.3 65.4l0.4 3.5M84.2 81l0.2 2.5M61.5 11.1l1.6 3.5M67.2 91.9l1.4 2.2M65.7 59.8l0.6 3.2M75.7 68.3l2 1.8M47.6 54.5l0.1 3.8M74.7 45.3l1.3 3.5M97.7 97.3l0.4 1.7M48.2 3.7l1.2 1.8M60.4 96.9l0.2 1.6M59.7 39.7l0.3 2.2M50.2 26.2l2.4 2.9M65.8 74l-0.4 2.7M97.6 89.4l1.3 2.2M46.1 42.8l0.6 3.6M91.6 76.8l1.6 2M89.6 69.3l2.1 1.8M62.5 86.5l0 2.9M59.2 71.3l2 2M48.5 75.8l1.2 2.1M42.3 16.5l0.4 1.6M64.1 24.1l0.3 4M51.8 95.9l0.7 2M93 84l0.9 1.9M44.2 7.7l-0.4 2.6M81.7 10.1l0.1 3.7M72.4 53.6l2.2 3.1M47.6 86.9l1.7 1.5M72.9 62.7l1 1.9M40 32.4l1.3 2.8M64.5 17.5l1.1 1.8M50.6 39.6l1.3 2.3M69.2 98l-0.1 2.2M71.4 35.7l-0.2 3.9M62 2.8l0.7 1.7M43.1 69.6l2.6 2.4M72 13.5l2 2.3M60.8 50.2l1.2 1.9M80.8 57.5l0.2 2.9M53.3 51.8l1 2M58.8 60.5l1.2 3.6M75.7 91.6l1.1 3.1M71 3.3l1.5 3.5M70.7 20.5l2 1.7M54.1 84.1l1.6 1.9M73.6 74.4l2.2 2.8M77.7 84.3l1.3 1.6M68.3 65.6l-0.2 3M45.8 32l2.1 2.5M83.6 70.3l1.4 1.6M56.1 13.3l-0.1 2.2M40.6 40.1l0.8 2.2M78.6 51.3l1.1 2.6M43.6 26.7l1.3 1.8M73.7 27.8l0 2.8M91.6 93.9l0.2 2.3M61.4 32.4l0 3.1M69.8 41.8l0.2 3.3M66.8 52.3l1.4 2M42.8 51.7l-0.3 2.5M59.1 77.7l0.6 1.7M85.6 14.9l0 3.7M81.4 42.1l1.9 2.3M50 10.2l0.3 3.5M53.9 44.4l2.1 3.4M86.5 7.5l0.6 1.9M64.2 80.5l0.3 2.9M55.9 0l0.2 1.5M84.2 24.8l1.6 1.9M55 6.4l0.8 1.4M65.9 30.6l2.5 2.7M57.3 27l0.3 1.6M83 34.9l0.6 2.2M88.7 -0.8l0.7 1.9M77.3 98.6l1.2 2.2M53.4 58.2l1 1.4M75 -1l0.9 2.1M80.2 75.9l2.1 2.1M70.6 86.4l2.2 2.4M62.7 44.1l1.7 2.7M41.3 58.2l1.5 2.5M56.2 91l2.1 2M67.7 9.5l1.1 2.8M53.5 72.5l1.5 1.6M76.9 6.2l1.7 1.8" stroke="#3450c4" stroke-width="4.5" stroke-linecap="round" stroke-linejoin="round" fill="none"/>
<path d="M22 50.5l1.8 4.3M1 76.1l2.4 2.9M91.3 32.8l2.6 4.2M3 8.8l3 4.3M38.5 94.2l1.2 3.1M10.6 43.3l2.5 3.1M30.4 38.9l3.1 5.1M4 23.1l2.9 3.9M5.4 34.2l1.4 4.6M94.4 17.7l2.4 2.9M17 73.7l2.6 4.9M5.8 67.3l1.5 3.4M22.9 84.6l3.2 4M27.3 74.8l1.4 3.2M95 40.9l1.7 4.1M96.6 51.9l2.6 3.8M95.1 65.2l0.9 4.5M98.7 7.7l1.9 2.7M16.4 34.9l3.1 5M6 -0.1l1.4 3.4M20.5 19.6l2.3 3.8M12.6 5l1.2 5.7M4.2 55.2l1.3 2.8M19.7 63.5l2.3 3.7M32.6 0.9l2 4.8M31.6 13.1l2.1 3.5M38 82.9l2.5 5.4M34.9 59l1.9 4.5M5.6 92.7l1.4 4.2M86 43.6l1.8 5M23.6 9.4l1.7 3.2M36.2 71.2l1.7 5.7M19.6 96.1l1.1 3.1M2.2 45.7l1.2 5M5.5 84.6l2.5 3M33.4 51.1l2.2 3.3M30.3 22.9l2.8 3.7M14.7 85.8l1.4 3.1M20.1 -0.1l1.8 4.3M25.9 30.2l1.8 5.2M86.8 55.8l2.3 3.2M12.7 14.5l3.1 4.1M14.4 54.9l1 4.5M98.2 -2.4l2 5.4M29.3 97.7l1 4.1M13 23.8l2.5 4.1M97.5 25.3l1.7 4.6" stroke="#3450c8" stroke-width="2.6" stroke-linecap="round" stroke-linejoin="round" fill="none"/>
</g></svg>
<svg x="1829.4" y="169.2" width="166.1" height="164.4" viewBox="0 0 100 100" preserveAspectRatio="none" overflow="hidden"><rect width="100" height="100" fill="#0a0a2c"/><g filter="url(#b3)">
<path d="M41.1 26.9l0.7 3.8M83.9 43.4l1.1 1.9M51.9 54.5l1.9 1.3M90.3 5.9l-0.5 2.7M55.9 25l0.3 2.8M64.8 61.3l1.6 2M52.9 84.6l-0.2 2.6M80.1 80.9l-0.6 3.1M57 35.1l1.4 3.1M62.3 38.5l2.4 2.5M46.7 69l1.8 2M75.7 76l0.4 4M76.5 25.5l-0.3 3.1M42.6 11.5l1.4 3.3M98.8 40.3l-0.5 3.2M97.4 30.5l0.9 3.6M69.4 63.2l2.7 1.7M85.7 85.1l0.1 3.1M75.1 41.4l0.5 3.6M98.9 85.2l0 1.6M49.1 47.6l0.2 2M50.8 63.2l-0.8 2.2M59.6 92.5l-0.3 3.9M53.8 1.6l0 3.2M82 12.3l-0.4 1.8M67.9 87.9l0.8 1.6M80 87.1l-0.6 3M68.7 49l2.6 2.4M64.8 55.9l1.6 1M47.9 25.8l-0.9 2.5M70.9 -0.6l2.3 3M71.7 72.9l1.3 1.8M68.2 7.7l0.9 3.8M90.3 92.4l1.2 2.7M77.6 56l0.5 2.8M41.9 57.9l0 1.9M75.3 35.6l2.7 1.7M64.3 73.8l2.5 2.3M91.7 57l1.1 1.6M95.9 74.4l-0.7 3.7M82.7 4.4l0.7 1.5M76.1 62.6l0.5 3.7M64 96.5l2.9 2.5M58.9 80.8l-0.8 3.2M94.4 10.7l0.3 1.9M87.3 60.2l-0.4 2.3M66 33.4l2.4 1.7M43.6 39l2.7 2.8M88.6 39.2l0.9 3M56.9 45.1l1.1 1.1M60.9 18.7l0.7 2.3M74.3 94l0 3M62.9 24l0 2.7M84.5 36l0.9 1.4M54.2 12.8l0.5 2M53.8 68.7l1.7 1.2M96.4 18.6l0.6 2.1M39.7 44.5l1.6 2.8M60.7 67l1.8 2.6M37.6 38.4l-0.2 1.5M88.1 47l2 1.5M97.5 64.7l-0.3 1.6M81.7 52.3l-0.4 1.5M85 66.5l0.4 2.5M90.2 69l0.9 2M81.9 17l0.7 3.7M73.7 16.9l-0.2 2.4M82.6 23.4l-0.3 3.2M94.8 98.5l1.9 1.3M63 1.6l0.6 1.6M84.9 75l0.9 2.9M49.2 41.1l2 2.1M81 98.5l1.3 1.2M57.1 7.7l1 1.8M63.3 13.9l1.4 0.9M78.2 46.5l3 2.2M88.8 13.9l1.5 2.4M87.1 0.1l0.9 1.4M66.2 44.4l1.7 2.2M93.9 51.4l3.1 2M85.3 91.9l-0.7 2.4M71.1 23.3l1.3 1.3M73.7 86.8l1.3 1M52.6 74.7l0.4 3.5M48.2 7.2l0.7 1.7M61.4 47.8l1.8 2M44.5 -0.1l1.2 1.5M45.7 19.6l0 1.6M90.3 19.8l-0.2 2.4M88 25.6l-0.6 2.1M79.7 31.3l0.8 1.6M67 81l1.7 3M76.8 6.6l0.4 1.6M96.2 5.3l0.8 2.1M92.5 62.7l-0.6 1.7M96.8 0l1.5 2.1M55 30.9l-0.2 1.8M49.7 19.9l2.7 2.8M98.2 90.8l0.2 2.1M98.2 59.6l1 1.5M61.9 87.2l0.5 1.9M94.3 24.5l-0.6 2.1M78.4 69.4l1.6 2.9M97.8 70.6l1.1 1.7M37.3 18.9l3.2 2M90 32.5l-0.2 1.8M59.3 75.6l0.4 1.5M49.9 35l0.8 3.3M86.8 52.9l2.2 3.1M72.6 30.5l-0.9 3M69.3 38.1l0.2 3.2M86 97.7l2.4 2.3M72 54.8l-0.8 3.6M67.5 67.1l-1 3.5M91.8 84.7l1.4 3.6M59 58.1l1.5 2.9M40.6 50.8l1.4 1.7M98.4 13.9l1.6 1.4M47.5 56.8l1.1 2.4M43.8 62.9l0.2 2.6M50 14.2l-1 3.1M57.6 51.9l0.7 2M40.2 6.4l2.7 2.5M45.2 31.4l2.3 2.8M74.4 50.6l1.5 3.2M36.3 30.6l1.6 3.6M78.7 -0.1l0.8 1.6M94.8 36.7l-1 3.1M67.3 17.8l1 2M92.7 43.9l2.4 2.6M100.1 24.3l-0.9 2.5M92.8 80.2l-0.2 1.8M55.6 63.4l2.7 1.9M59.6 29.7l2.7 2.6M66.8 26.7l2.7 2.9M80.9 61.7l2.1 3.4M97.9 47.2l2.6 2M41.3 34.6l0.4 1.7M76.1 11.8l0.5 2.4" stroke="#1c2c80" stroke-width="7.5" stroke-linecap="round" stroke-linejoin="round" fill="none"/><path d="M41.1 26.9l0.7 3.8M83.9 43.4l1.1 1.9M51.9 54.5l1.9 1.3M90.3 5.9l-0.5 2.7M55.9 25l0.3 2.8M64.8 61.3l1.6 2M52.9 84.6l-0.2 2.6M80.1 80.9l-0.6 3.1M57 35.1l1.4 3.1M62.3 38.5l2.4 2.5M46.7 69l1.8 2M75.7 76l0.4 4M76.5 25.5l-0.3 3.1M42.6 11.5l1.4 3.3M98.8 40.3l-0.5 3.2M97.4 30.5l0.9 3.6M69.4 63.2l2.7 1.7M85.7 85.1l0.1 3.1M75.1 41.4l0.5 3.6M98.9 85.2l0 1.6M49.1 47.6l0.2 2M50.8 63.2l-0.8 2.2M59.6 92.5l-0.3 3.9M53.8 1.6l0 3.2M82 12.3l-0.4 1.8M67.9 87.9l0.8 1.6M80 87.1l-0.6 3M68.7 49l2.6 2.4M64.8 55.9l1.6 1M47.9 25.8l-0.9 2.5M70.9 -0.6l2.3 3M71.7 72.9l1.3 1.8M68.2 7.7l0.9 3.8M90.3 92.4l1.2 2.7M77.6 56l0.5 2.8M41.9 57.9l0 1.9M75.3 35.6l2.7 1.7M64.3 73.8l2.5 2.3M91.7 57l1.1 1.6M95.9 74.4l-0.7 3.7M82.7 4.4l0.7 1.5M76.1 62.6l0.5 3.7M64 96.5l2.9 2.5M58.9 80.8l-0.8 3.2M94.4 10.7l0.3 1.9M87.3 60.2l-0.4 2.3M66 33.4l2.4 1.7M43.6 39l2.7 2.8M88.6 39.2l0.9 3M56.9 45.1l1.1 1.1M60.9 18.7l0.7 2.3M74.3 94l0 3M62.9 24l0 2.7M84.5 36l0.9 1.4M54.2 12.8l0.5 2M53.8 68.7l1.7 1.2M96.4 18.6l0.6 2.1M39.7 44.5l1.6 2.8M60.7 67l1.8 2.6M37.6 38.4l-0.2 1.5M88.1 47l2 1.5M97.5 64.7l-0.3 1.6M81.7 52.3l-0.4 1.5M85 66.5l0.4 2.5M90.2 69l0.9 2M81.9 17l0.7 3.7M73.7 16.9l-0.2 2.4M82.6 23.4l-0.3 3.2M94.8 98.5l1.9 1.3M63 1.6l0.6 1.6M84.9 75l0.9 2.9M49.2 41.1l2 2.1M81 98.5l1.3 1.2M57.1 7.7l1 1.8M63.3 13.9l1.4 0.9M78.2 46.5l3 2.2M88.8 13.9l1.5 2.4M87.1 0.1l0.9 1.4M66.2 44.4l1.7 2.2M93.9 51.4l3.1 2M85.3 91.9l-0.7 2.4M71.1 23.3l1.3 1.3M73.7 86.8l1.3 1M52.6 74.7l0.4 3.5M48.2 7.2l0.7 1.7M61.4 47.8l1.8 2M44.5 -0.1l1.2 1.5M45.7 19.6l0 1.6M90.3 19.8l-0.2 2.4M88 25.6l-0.6 2.1M79.7 31.3l0.8 1.6M67 81l1.7 3M76.8 6.6l0.4 1.6M96.2 5.3l0.8 2.1M92.5 62.7l-0.6 1.7M96.8 0l1.5 2.1M55 30.9l-0.2 1.8M49.7 19.9l2.7 2.8M98.2 90.8l0.2 2.1M98.2 59.6l1 1.5M61.9 87.2l0.5 1.9M94.3 24.5l-0.6 2.1M78.4 69.4l1.6 2.9M97.8 70.6l1.1 1.7M37.3 18.9l3.2 2M90 32.5l-0.2 1.8M59.3 75.6l0.4 1.5M49.9 35l0.8 3.3M86.8 52.9l2.2 3.1M72.6 30.5l-0.9 3M69.3 38.1l0.2 3.2M86 97.7l2.4 2.3M72 54.8l-0.8 3.6M67.5 67.1l-1 3.5M91.8 84.7l1.4 3.6M59 58.1l1.5 2.9M40.6 50.8l1.4 1.7M98.4 13.9l1.6 1.4M47.5 56.8l1.1 2.4M43.8 62.9l0.2 2.6M50 14.2l-1 3.1M57.6 51.9l0.7 2M40.2 6.4l2.7 2.5M45.2 31.4l2.3 2.8M74.4 50.6l1.5 3.2M36.3 30.6l1.6 3.6M78.7 -0.1l0.8 1.6M94.8 36.7l-1 3.1M67.3 17.8l1 2M92.7 43.9l2.4 2.6M100.1 24.3l-0.9 2.5M92.8 80.2l-0.2 1.8M55.6 63.4l2.7 1.9M59.6 29.7l2.7 2.6M66.8 26.7l2.7 2.9M80.9 61.7l2.1 3.4M97.9 47.2l2.6 2M41.3 34.6l0.4 1.7M76.1 11.8l0.5 2.4" stroke="#3048bc" stroke-width="5.6" stroke-linecap="round" stroke-linejoin="round" fill="none"/>
<path d="M16.8 81.8l2.7 4M4.1 29.1l2.5 4.3M23.5 49.8l2.6 3.2M41.6 96.2l3 5M25.1 38.6l2.9 4.1M28.5 15l0.8 3M19.7 7.9l2 3.4M29.6 26.6l0.9 4.2M3 6l2.6 5M-0.9 61.7l2.2 3.7M31.9 84.2l2.5 3.1M40.9 81l1.8 2.6M28.1 68.7l2.4 3.8M11.5 43.1l2.2 4.1M37.4 63.9l1.5 4.3M17.7 65.6l2.4 4.5M24.2 92.5l0.8 4.1M0.8 46.8l2.3 3.2M16.2 24.5l2.2 5.5M25.1 59l1.8 4M7.6 88l2.1 2.9M15.8 51.6l1.9 5.3M8.7 75.1l2 2.8M47.1 89.8l1.8 3.3M11.5 -0.8l1.5 2.8M1 92.5l1.1 3.7M31.7 2.5l1.5 5.1M8 15l1 4.5M0.9 81.3l1.7 3.8M13.3 34.9l2.5 4M8.1 65.1l2.7 3.2M33.2 93.9l1.5 2.9M23.2 -1.2l1.2 3.1M24.9 77l3.1 4.5M19.1 16.4l1.3 4.7M6.4 54.6l2 3.9M0.6 20.8l1.8 2.7M13 94.7l1.5 3.6M32 49.1l2.6 5.4M-0.4 36.1l1 4.9" stroke="#3048c0" stroke-width="2.6" stroke-linecap="round" stroke-linejoin="round" fill="none"/>
</g></svg>
<text x="1498.0" y="16.8" font-size="19" fill="#e8202e">ITLN1</text>
<text x="1498.0" y="40.4" font-size="19.2" fill="#0aa85a">EpCAM</text>
<text x="1666.0" y="16.8" font-size="19.2" fill="#e8202e">CK7</text>
<text x="1834.5" y="16.8" font-size="19.5" fill="#d8cc28">CD200</text>
<text x="1588.5" y="187.8" font-size="19.4" fill="#e8202e">ITLN1</text>
<text x="1588.5" y="212.1" font-size="19.4" fill="#0aa85a">EpCAM</text>
<text x="1666.0" y="186.8" font-size="19.2" fill="#e8202e">CK7</text>
<text x="1833.5" y="186.8" font-size="19.5" fill="#d8cc28">CD200</text>
<text x="1587.8" y="148.7" font-size="19.5" fill="#fff">50 <tspan font-style="italic">µ</tspan>m</text>
<rect x="1551.1" y="155.5" width="94.3" height="1.3" fill="#fff"/>
<rect x="1752.0" y="155.8" width="63.0" height="1.3" fill="#fff"/>
<rect x="1921.3" y="155.8" width="63.5" height="1.3" fill="#fff"/>
<rect x="1570.8" y="324.3" width="63.2" height="1.8" fill="#fff"/>
<rect x="1763.0" y="325.1" width="53.0" height="1.8" fill="#fff"/>
<rect x="1932.5" y="325.1" width="53.3" height="1.8" fill="#fff"/>
<text x="1447.3" y="148.0" font-size="27.3" fill="#000" text-anchor="middle" transform="rotate(-90 1447.3 148.0)">Omentum</text>
<rect x="1457.6" y="5.7" width="2.0" height="309.5" fill="#1a1a1a"/>
<text x="1484.2" y="82.0" font-size="21.3" fill="#000" text-anchor="middle" transform="rotate(-90 1484.2 82.0)">Benign</text>
<text x="1484.2" y="242.5" font-size="21.4" fill="#000" text-anchor="middle" transform="rotate(-90 1484.2 242.5)">Metastasis</text>
<svg x="1564.2" y="338.3" width="163.6" height="164.9" viewBox="0 0 100 100" preserveAspectRatio="none" overflow="hidden"><rect width="100" height="100" fill="#000"/><g filter="url(#b3)">
<path d="M13.0 6.0C14.5 9.3 19.3 19.3 22.0 26.0C24.7 32.7 26.0 39.8 29.0 46.0C32.0 52.2 36.0 57.7 40.0 63.0C44.0 68.3 48.7 73.5 53.0 78.0C57.3 82.5 63.0 86.0 66.0 90.0C69.0 94.0 70.2 100.0 71.0 102.0" stroke="#1c6c30" stroke-width="14" stroke-linecap="round" stroke-linejoin="round" fill="none"/><path d="M13.0 6.0C14.5 9.3 19.3 19.3 22.0 26.0C24.7 32.7 26.0 39.8 29.0 46.0C32.0 52.2 36.0 57.7 40.0 63.0C44.0 68.3 48.7 73.5 53.0 78.0C57.3 82.5 63.0 86.0 66.0 90.0C69.0 94.0 70.2 100.0 71.0 102.0" stroke="#4cd050" stroke-width="10.5" stroke-linecap="round" stroke-linejoin="round" fill="none"/><path d="M13.0 6.0C14.5 9.3 19.3 19.3 22.0 26.0C24.7 32.7 26.0 39.8 29.0 46.0C32.0 52.2 36.0 57.7 40.0 63.0C44.0 68.3 48.7 73.5 53.0 78.0C57.3 82.5 63.0 86.0 66.0 90.0C69.0 94.0 70.2 100.0 71.0 102.0" stroke="#000" stroke-width="5" stroke-linecap="round" stroke-linejoin="round" fill="none" opacity="0.6"/>
<ellipse cx="6" cy="15" rx="7.5" ry="11" fill="#000" stroke="#4cd050" stroke-width="4"/>
<path d="M28.8 24.8l2.5 4.3M20.3 43.1l1.4 7.9M31.5 64.8l4.9 6.3" stroke="#3450d0" stroke-width="7" stroke-linecap="round" stroke-linejoin="round" fill="none"/>
<path d="M37.9 39.4l2.3 3.3" stroke="#f04028" stroke-width="6" stroke-linecap="round" stroke-linejoin="round" fill="none"/><path d="M36 38h0" stroke="#f060a0" stroke-width="3.5" stroke-linecap="round" stroke-linejoin="round" fill="none"/>
<path d="M58.0 68.0C58.3 66.7 58.3 61.8 60.0 60.0C61.7 58.2 65.8 57.0 68.0 57.0C70.2 57.0 72.2 59.5 73.0 60.0" stroke="#4cd050" stroke-width="2.4" stroke-linecap="round" stroke-linejoin="round" fill="none"/>
</g></svg>
<svg x="1731.8" y="339.0" width="165.5" height="164.2" viewBox="0 0 100 100" preserveAspectRatio="none" overflow="hidden"><rect width="100" height="100" fill="#000"/><g filter="url(#b3)">
<path d="M20.0 -2.0C20.3 0.8 22.5 8.0 22.0 15.0C21.5 22.0 17.7 32.5 17.0 40.0C16.3 47.5 17.2 54.2 18.0 60.0C18.8 65.8 21.7 68.0 22.0 75.0C22.3 82.0 20.3 97.5 20.0 102.0" stroke="#1e6a34" stroke-width="3.5" stroke-linecap="round" stroke-linejoin="round" fill="none"/><path d="M20.0 -2.0C20.3 0.8 22.5 8.0 22.0 15.0C21.5 22.0 17.7 32.5 17.0 40.0C16.3 47.5 17.2 54.2 18.0 60.0C18.8 65.8 21.7 68.0 22.0 75.0C22.3 82.0 20.3 97.5 20.0 102.0" stroke="#3cb450" stroke-width="1.3" stroke-linecap="round" stroke-linejoin="round" fill="none"/>
<path d="M17.0 45.0C17.2 46.7 17.7 51.7 18.0 55.0C18.3 58.3 18.8 63.3 19.0 65.0" stroke="#e06030" stroke-width="1.6" stroke-linecap="round" stroke-linejoin="round" fill="none"/>
<path d="M19.7 64.5l0.6 7M16.6 7.5l0.9 4.9" stroke="#3448c8" stroke-width="4" stroke-linecap="round" stroke-linejoin="round" fill="none"/>
<path d="M49.2 65.1l1.6 5.8" stroke="#e02838" stroke-width="7.2" stroke-linecap="round" stroke-linejoin="round" fill="none"/><path d="M49.2 65.1l1.6 5.8" stroke="#3a50d0" stroke-width="5.4" stroke-linecap="round" stroke-linejoin="round" fill="none"/>
</g></svg>
<svg x="1564.2" y="506.9" width="162.7" height="164.9" viewBox="0 0 100 100" preserveAspectRatio="none" overflow="hidden"><rect width="100" height="100" fill="#0e0e3a"/><g filter="url(#b3)">
<path d="M77 94.2l-2.8 5.1M7.9 57.6l1.7 1.8M44.2 23.3l-2.7 3.7M88.8 30.7l-1.2 2.5M103.1 34.7l-5.8 1.1M56.6 77.9l-1.9 2.3M79.6 -0.5l0.6 4M30.9 5.4l4.7 2.9M63.5 17.5l-4.6 0.4M40.3 53.7l3.4 0.2M90.6 98.2l3.3 3.2M58.9 62.3l1.2 2.2M62.1 32.3l-4.7 2.8M95.7 46.2l1.6 2.8M74.8 68.1l3.6 4.8M3.7 40.1l3.6 3.5M75.7 40.1l-0.4 2.2M67.9 0.2l-1.7 2.4M84.1 76.6l2.6 2.5M5.9 75.7l1.5 1.4M71.9 80.4l0.9 3.6M80.2 23.1l-0.8 2.9M58.2 99.2l2.7 0.9M22.9 33.9l-0.4 5.8M9.2 85.4l-3.1 5.1M36.2 88.4l-4.4 2.7M6.4 25.6l-4 1.9M89.1 7l0.4 2.2M18.2 80.5l1.1 3.5M32.5 67.2l-0.6 4.3M104.1 7l-3.4 2.1M45.2 94.2l-3.6 2.6M15.5 13l-5.3 0.5M98 71.9l3.6 3M20.7 21.3l-2.2 1.4M54.8 1l-3.7 1.3M44.5 80.6l-0.8 2.9M51.3 69.1l-3.4 1.4M99.6 59.7l-1.1 2.4M20.8 95.8l-3.6 1.1M46.4 39.2l0.5 3.2M15.2 49.9l4.2 1.8M-2.1 94.7l-0.7 2.1M65.1 44.5l-1.7 3.5M-1.6 54.1l-1.3 1.7M102.9 20l-2.7 3.4M73.8 56.9l0.4 5.4M3.8 5.1l-0.1 2.3M32.4 27l-4.6 0.9M40.6 -3.6l0.4 2.7M21.2 61.1l-1.6 1.2M16.9 -2.2l-1.9 1.3M33.8 41.3l-0.4 5.5M74.6 13.8l1.8 1.1M84.3 56.5l5 2.4M37.9 102.2l-5.4 1.4M90.5 -4.8l3.5 4.3M96.9 89l2.3 0.2M-1.7 66l4.7 1.2M44.3 7.4l0.3 3.3M32.6 54.1l-3.3 3.1M86.7 88.4l-3.5 2.4M89.4 18.1l1.8 2.7M56.2 52.9l-2.1 0.3M5.7 101.2l5.1 0.5M-3.2 12.8l1.1 4.8M60.8 87.7l3.9 1.2M103.3 101.5l-0.8 2.4M25.1 -4.6l4.5 3.3M86.5 46.3l-2.3 1M-4.6 81.1l4.3 3.6M67.2 24.8l2.5 3.7M-5.7 -3.1l5.9 0.5" stroke="#1a2468" stroke-width="11" stroke-linecap="round" stroke-linejoin="round" fill="none"/><path d="M77 94.2l-2.8 5.1M7.9 57.6l1.7 1.8M44.2 23.3l-2.7 3.7M88.8 30.7l-1.2 2.5M103.1 34.7l-5.8 1.1M56.6 77.9l-1.9 2.3M79.6 -0.5l0.6 4M30.9 5.4l4.7 2.9M63.5 17.5l-4.6 0.4M40.3 53.7l3.4 0.2M90.6 98.2l3.3 3.2M58.9 62.3l1.2 2.2M62.1 32.3l-4.7 2.8M95.7 46.2l1.6 2.8M74.8 68.1l3.6 4.8M3.7 40.1l3.6 3.5M75.7 40.1l-0.4 2.2M67.9 0.2l-1.7 2.4M84.1 76.6l2.6 2.5M5.9 75.7l1.5 1.4M71.9 80.4l0.9 3.6M80.2 23.1l-0.8 2.9M58.2 99.2l2.7 0.9M22.9 33.9l-0.4 5.8M9.2 85.4l-3.1 5.1M36.2 88.4l-4.4 2.7M6.4 25.6l-4 1.9M89.1 7l0.4 2.2M18.2 80.5l1.1 3.5M32.5 67.2l-0.6 4.3M104.1 7l-3.4 2.1M45.2 94.2l-3.6 2.6M15.5 13l-5.3 0.5M98 71.9l3.6 3M20.7 21.3l-2.2 1.4M54.8 1l-3.7 1.3M44.5 80.6l-0.8 2.9M51.3 69.1l-3.4 1.4M99.6 59.7l-1.1 2.4M20.8 95.8l-3.6 1.1M46.4 39.2l0.5 3.2M15.2 49.9l4.2 1.8M-2.1 94.7l-0.7 2.1M65.1 44.5l-1.7 3.5M-1.6 54.1l-1.3 1.7M102.9 20l-2.7 3.4M73.8 56.9l0.4 5.4M3.8 5.1l-0.1 2.3M32.4 27l-4.6 0.9M40.6 -3.6l0.4 2.7M21.2 61.1l-1.6 1.2M16.9 -2.2l-1.9 1.3M33.8 41.3l-0.4 5.5M74.6 13.8l1.8 1.1M84.3 56.5l5 2.4M37.9 102.2l-5.4 1.4M90.5 -4.8l3.5 4.3M96.9 89l2.3 0.2M-1.7 66l4.7 1.2M44.3 7.4l0.3 3.3M32.6 54.1l-3.3 3.1M86.7 88.4l-3.5 2.4M89.4 18.1l1.8 2.7M56.2 52.9l-2.1 0.3M5.7 101.2l5.1 0.5M-3.2 12.8l1.1 4.8M60.8 87.7l3.9 1.2M103.3 101.5l-0.8 2.4M25.1 -4.6l4.5 3.3M86.5 46.3l-2.3 1M-4.6 81.1l4.3 3.6M67.2 24.8l2.5 3.7M-5.7 -3.1l5.9 0.5" stroke="#2c3e9c" stroke-width="8.2" stroke-linecap="round" stroke-linejoin="round" fill="none"/>
<path d="M38.0 48.0C38.7 47.0 40.7 42.5 42.0 42.0C43.3 41.5 45.3 44.5 46.0 45.0" stroke="#50d050" stroke-width="1.8" stroke-linecap="round" stroke-linejoin="round" fill="none"/><path d="M55.0 76.0C56.7 75.3 61.5 73.0 65.0 72.0C68.5 71.0 74.8 69.0 76.0 70.0C77.2 71.0 72.7 76.7 72.0 78.0" stroke="#50d050" stroke-width="1.8" stroke-linecap="round" stroke-linejoin="round" fill="none"/>
<path d="M88.0 100.0C89.0 98.3 92.0 92.7 94.0 90.0C96.0 87.3 99.0 85.0 100.0 84.0" stroke="#40c8a0" stroke-width="3" stroke-linecap="round" stroke-linejoin="round" fill="none"/><path d="M40 56h0M97 88h0" stroke="#f0e040" stroke-width="2" stroke-linecap="round" stroke-linejoin="round" fill="none"/>
<path d="M30 95h0M45 92h0M60 97h0M12 50h0M90 60h0" stroke="#c02040" stroke-width="1.2" stroke-linecap="round" stroke-linejoin="round" fill="none"/>
</g></svg>
<svg x="1731.1" y="508.2" width="166.2" height="163.2" viewBox="0 0 100 100" preserveAspectRatio="none" overflow="hidden"><rect width="100" height="100" fill="#0e0e3a"/><g filter="url(#b3)">
<path d="M69.9 5l-0.8 4.2M15.9 59.7l-2.3 3M29.3 93l4.9 2M78.8 87l3.5 3.3M41.9 81.5l-1.8 6.6M59 84.2l-3.9 1.7M32.9 55l-3.7 0.2M46.6 39.9l-5.8 1.6M9.8 11.1l5.6 2.1M31.5 69l-3.2 3M65.9 74.5l2.4 5.1M9.5 37.6l-3.1 0.9M89.6 71.7l-0.2 4M34.6 0.5l3.7 1.7M5 0.2l3.9 0.1M24.2 21.4l-1.6 3M61.2 94.9l5.9 1.5M53 -1.7l-2 4.4M96.3 11.6l-1.8 3.5M51.5 64.1l-5.5 2.5M45.3 25.8l3.1 1.2M14.5 82.6l4.4 0.7M79.8 57.3l4 0.5M4.5 79.7l-3.2 2.4M69.6 47l1 4.6M9.2 92.7l2 5.6M76.9 98.3l0.9 5.7M2.2 66.7l5.3 2.6M26 6.1l0.6 5.4M96.4 57.9l3.4 2.4M27.2 38.3l4.4 2.3M100.2 76.3l5.1 0.3M80.2 23.8l-6.4 0.3M50.9 101.1l3.3 0.7M42 12.7l3.8 2.7M63.7 27.6l2.4 2.1M99.2 -2.3l-5.8 1.3M4.2 48.7l2.8 5.7M95.9 38l-6.6 1.1M59.7 55.3l-2.6 3.6M103.4 88.3l-3 5.9M55.5 42.8l-1.2 5.5M-2.2 14l3.5 2.2M100.8 42.9l3 6.2M99.2 27.2l-3.7 0.1M72.8 34.4l4 2.9M83.3 -1.3l-1.5 4.7M94.3 101.6l-4.2 0.7M42.3 50.2l2.6 5.6M56.1 13.2l5.7 3M71.2 61l-0.8 4.2M7.5 22.9l2.1 3.1M-2.8 26.9l0.2 6.7M22.8 47.2l-6 3.3M0.1 98.4l-4.7 0M15.5 -2.4l6.9 0.5M18.3 101.2l3.6 3.6M84.7 44.1l-4.2 2.6M82.9 10.9l-0.1 4.4" stroke="#1a2468" stroke-width="11.5" stroke-linecap="round" stroke-linejoin="round" fill="none"/><path d="M69.9 5l-0.8 4.2M15.9 59.7l-2.3 3M29.3 93l4.9 2M78.8 87l3.5 3.3M41.9 81.5l-1.8 6.6M59 84.2l-3.9 1.7M32.9 55l-3.7 0.2M46.6 39.9l-5.8 1.6M9.8 11.1l5.6 2.1M31.5 69l-3.2 3M65.9 74.5l2.4 5.1M9.5 37.6l-3.1 0.9M89.6 71.7l-0.2 4M34.6 0.5l3.7 1.7M5 0.2l3.9 0.1M24.2 21.4l-1.6 3M61.2 94.9l5.9 1.5M53 -1.7l-2 4.4M96.3 11.6l-1.8 3.5M51.5 64.1l-5.5 2.5M45.3 25.8l3.1 1.2M14.5 82.6l4.4 0.7M79.8 57.3l4 0.5M4.5 79.7l-3.2 2.4M69.6 47l1 4.6M9.2 92.7l2 5.6M76.9 98.3l0.9 5.7M2.2 66.7l5.3 2.6M26 6.1l0.6 5.4M96.4 57.9l3.4 2.4M27.2 38.3l4.4 2.3M100.2 76.3l5.1 0.3M80.2 23.8l-6.4 0.3M50.9 101.1l3.3 0.7M42 12.7l3.8 2.7M63.7 27.6l2.4 2.1M99.2 -2.3l-5.8 1.3M4.2 48.7l2.8 5.7M95.9 38l-6.6 1.1M59.7 55.3l-2.6 3.6M103.4 88.3l-3 5.9M55.5 42.8l-1.2 5.5M-2.2 14l3.5 2.2M100.8 42.9l3 6.2M99.2 27.2l-3.7 0.1M72.8 34.4l4 2.9M83.3 -1.3l-1.5 4.7M94.3 101.6l-4.2 0.7M42.3 50.2l2.6 5.6M56.1 13.2l5.7 3M71.2 61l-0.8 4.2M7.5 22.9l2.1 3.1M-2.8 26.9l0.2 6.7M22.8 47.2l-6 3.3M0.1 98.4l-4.7 0M15.5 -2.4l6.9 0.5M18.3 101.2l3.6 3.6M84.7 44.1l-4.2 2.6M82.9 10.9l-0.1 4.4" stroke="#3248a8" stroke-width="8.6" stroke-linecap="round" stroke-linejoin="round" fill="none"/><path d="M69.9 5l-0.8 4.2M15.9 59.7l-2.3 3M29.3 93l4.9 2M78.8 87l3.5 3.3M41.9 81.5l-1.8 6.6M59 84.2l-3.9 1.7M32.9 55l-3.7 0.2M46.6 39.9l-5.8 1.6M9.8 11.1l5.6 2.1M31.5 69l-3.2 3M65.9 74.5l2.4 5.1M9.5 37.6l-3.1 0.9M89.6 71.7l-0.2 4M34.6 0.5l3.7 1.7M5 0.2l3.9 0.1M24.2 21.4l-1.6 3M61.2 94.9l5.9 1.5M53 -1.7l-2 4.4M96.3 11.6l-1.8 3.5M51.5 64.1l-5.5 2.5M45.3 25.8l3.1 1.2M14.5 82.6l4.4 0.7M79.8 57.3l4 0.5M4.5 79.7l-3.2 2.4M69.6 47l1 4.6M9.2 92.7l2 5.6M76.9 98.3l0.9 5.7M2.2 66.7l5.3 2.6M26 6.1l0.6 5.4M96.4 57.9l3.4 2.4M27.2 38.3l4.4 2.3M100.2 76.3l5.1 0.3M80.2 23.8l-6.4 0.3M50.9 101.1l3.3 0.7M42 12.7l3.8 2.7M63.7 27.6l2.4 2.1M99.2 -2.3l-5.8 1.3M4.2 48.7l2.8 5.7M95.9 38l-6.6 1.1M59.7 55.3l-2.6 3.6M103.4 88.3l-3 5.9M55.5 42.8l-1.2 5.5M-2.2 14l3.5 2.2M100.8 42.9l3 6.2M99.2 27.2l-3.7 0.1M72.8 34.4l4 2.9M83.3 -1.3l-1.5 4.7M94.3 101.6l-4.2 0.7M42.3 50.2l2.6 5.6M56.1 13.2l5.7 3M71.2 61l-0.8 4.2M7.5 22.9l2.1 3.1M-2.8 26.9l0.2 6.7M22.8 47.2l-6 3.3M0.1 98.4l-4.7 0M15.5 -2.4l6.9 0.5M18.3 101.2l3.6 3.6M84.7 44.1l-4.2 2.6M82.9 10.9l-0.1 4.4" stroke="#283a98" stroke-width="5.8" stroke-linecap="round" stroke-linejoin="round" fill="none"/>
<path d="M30.0 56.0C33.3 55.3 44.7 54.0 50.0 52.0C55.3 50.0 58.3 47.0 62.0 44.0C65.7 41.0 69.0 38.0 72.0 34.0C75.0 30.0 79.3 23.7 80.0 20.0C80.7 16.3 76.7 13.3 76.0 12.0" stroke="#e0285c" stroke-width="5" stroke-linecap="round" stroke-linejoin="round" fill="none" opacity="0.85"/>
<path d="M5.0 45.0C9.2 45.8 23.3 49.5 30.0 50.0C36.7 50.5 40.0 50.3 45.0 48.0C50.0 45.7 55.8 40.3 60.0 36.0C64.2 31.7 67.3 25.8 70.0 22.0C72.7 18.2 75.0 14.5 76.0 13.0" stroke="#48c860" stroke-width="2.2" stroke-linecap="round" stroke-linejoin="round" fill="none"/>
<path d="M36.0 58.0C39.2 58.7 49.7 63.0 55.0 62.0C60.3 61.0 65.8 53.7 68.0 52.0" stroke="#e0285c" stroke-width="2" stroke-linecap="round" stroke-linejoin="round" fill="none" opacity="0.8"/>
<path d="M7 47h0" stroke="#40d0e0" stroke-width="5" stroke-linecap="round" stroke-linejoin="round" fill="none"/>
<path d="M2 90h0M10 70h0M95 30h0M88 12h0M20 20h0" stroke="#d02048" stroke-width="1.6" stroke-linecap="round" stroke-linejoin="round" fill="none"/>
</g></svg>
<text x="1726.9" y="357.0" font-size="19.5" fill="#3cb44a" text-anchor="end">CD200</text>
<text x="1726.9" y="380.0" font-size="19.5" fill="#e8202a" text-anchor="end">CD362</text>
<text x="1895.0" y="357.0" font-size="19.5" fill="#3cb44a" text-anchor="end">CD200</text>
<text x="1895.0" y="380.0" font-size="19.5" fill="#e8202a" text-anchor="end">CD249</text>
<text x="1566.4" y="523.4" font-size="19.5" fill="#3cb44a">CD200</text>
<text x="1566.4" y="547.3" font-size="19.5" fill="#e8202a">CD362</text>
<text x="1734.0" y="523.4" font-size="19.5" fill="#3cb44a">CD200</text>
<text x="1734.0" y="547.3" font-size="19.5" fill="#e8202a">CD249</text>
<rect x="1655.7" y="493.8" width="60.1" height="1.6" fill="#fff"/>
<rect x="1828.0" y="493.8" width="59.7" height="1.6" fill="#fff"/>
<rect x="1674.1" y="662.3" width="38.6" height="1.6" fill="#fff"/>
<rect x="1828.3" y="662.3" width="59.4" height="1.6" fill="#fff"/>
<text x="1515.0" y="487.0" font-size="27.3" fill="#000" text-anchor="middle" transform="rotate(-90 1515.0 487.0)">Omentum</text>
<rect x="1527.0" y="344.6" width="2.0" height="310.0" fill="#1a1a1a"/>
<text x="1555.0" y="420.9" font-size="21.3" fill="#000" text-anchor="middle" transform="rotate(-90 1555.0 420.9)">Benign</text>
<text x="1555.0" y="580.8" font-size="21.4" fill="#000" text-anchor="middle" transform="rotate(-90 1555.0 580.8)">Metastasis</text>
<g filter="url(#rough)">
<path d="M125.4 738.7C128.6 738.1 129.7 749.6 131.8 757.1C133.8 764.7 135.8 775.1 137.8 784.0C139.8 793.0 141.5 802.5 143.9 810.9C146.2 819.3 149.0 827.2 151.9 834.5C154.8 841.7 158.8 847.3 161.3 854.6C163.9 861.9 166.6 870.3 167.4 878.2C168.2 886.0 168.5 895.5 166.4 901.7C164.3 907.8 153.2 910.6 154.6 915.1C156.0 919.6 168.1 926.3 174.8 928.6C181.5 930.8 188.2 926.3 195.0 928.6C201.7 930.8 210.6 935.9 215.1 942.0C219.6 948.2 221.3 958.3 221.8 965.5C222.4 972.8 221.3 980.7 218.5 985.7C215.7 990.8 210.1 993.0 205.0 995.8C200.0 998.6 192.2 999.7 188.2 1002.5C184.3 1005.3 183.8 1008.1 181.5 1012.6C179.3 1017.1 177.0 1024.4 174.8 1029.4C172.5 1034.5 169.7 1037.3 168.1 1042.9C166.4 1048.5 165.8 1055.7 164.7 1063.0C163.6 1070.3 161.3 1078.7 161.3 1086.6C161.3 1094.4 164.7 1102.2 164.7 1110.1C164.7 1117.9 164.1 1126.9 161.3 1133.6C158.5 1140.3 153.5 1145.9 147.9 1150.4C142.3 1154.9 134.5 1159.9 127.7 1160.5C121.0 1161.1 114.3 1158.3 107.6 1153.8C100.8 1149.3 94.1 1140.9 87.4 1133.6C80.7 1126.3 73.9 1118.5 67.2 1110.1C60.5 1101.7 53.8 1092.2 47.1 1083.2C40.3 1074.2 32.5 1064.1 26.9 1056.3C21.3 1048.5 16.2 1043.4 13.4 1036.1C10.6 1028.9 10.1 1019.9 10.1 1012.6C10.1 1005.3 10.1 998.6 13.4 992.4C16.8 986.3 23.5 980.7 30.3 975.6C37.0 970.6 47.3 967.8 53.8 962.2C60.2 956.6 66.4 949.9 68.9 942.0C71.4 934.2 69.5 924.1 68.9 915.1C68.3 906.2 64.6 897.8 65.5 888.2C66.5 878.7 71.1 868.1 74.6 858.0C78.2 847.9 82.5 838.9 86.7 827.7C91.0 816.5 95.9 802.0 100.2 790.8C104.5 779.6 108.4 769.2 112.6 760.5C116.8 751.8 122.2 739.2 125.4 738.7Z" fill="#4480c2" opacity="0.14"/>
<path d="M586.6 782.4C589.4 782.6 593.3 782.6 595.0 787.4C596.6 792.2 595.5 802.0 596.6 810.9C597.8 819.9 599.7 830.5 601.7 841.2C603.6 851.8 607.8 863.6 608.4 874.8C609.0 886.0 605.6 898.3 605.0 908.4C604.5 918.5 605.6 926.3 605.0 935.3C604.5 944.3 603.9 954.9 601.7 962.2C599.4 969.5 596.6 974.5 591.6 979.0C586.6 983.5 579.3 986.8 571.4 989.1C563.6 991.3 552.4 992.4 544.5 992.4C536.7 992.4 531.1 991.3 524.4 989.1C517.6 986.8 509.8 982.9 504.2 979.0C498.6 975.1 494.1 969.5 490.8 965.5C487.4 961.6 486.3 955.5 484.0 955.5C481.8 955.5 480.7 962.2 477.3 965.5C473.9 968.9 468.9 972.3 463.9 975.6C458.8 979.0 452.1 982.9 447.1 985.7C442.0 988.5 435.9 992.4 433.6 992.4C431.4 992.4 431.4 989.1 433.6 985.7C435.9 982.4 442.0 976.8 447.1 972.3C452.1 967.8 459.9 963.9 463.9 958.8C467.8 953.8 472.3 945.9 470.6 942.0C468.9 938.1 456.9 938.7 453.8 935.3C450.7 931.9 451.5 926.3 452.1 921.8C452.7 917.4 454.1 911.8 457.1 908.4C460.2 905.0 468.9 906.2 470.6 901.7C472.3 897.2 468.3 888.8 467.2 881.5C466.1 874.2 465.0 865.8 463.9 858.0C462.7 850.1 459.4 838.9 460.5 834.5C461.6 830.0 466.1 831.1 470.6 831.1C475.1 831.1 481.8 835.0 487.4 834.5C493.0 833.9 498.0 830.0 504.2 827.7C510.4 825.5 517.6 824.4 524.4 821.0C531.1 817.6 537.8 812.0 544.5 807.6C551.3 803.1 559.1 797.8 564.7 794.1C570.3 790.5 574.5 787.7 578.2 785.7C581.8 783.8 583.8 782.1 586.6 782.4Z" fill="#4480c2" opacity="0.14"/>
</g>
<g filter="url(#spk)">
<path d="M125.4 738.7C128.6 738.1 129.7 749.6 131.8 757.1C133.8 764.7 135.8 775.1 137.8 784.0C139.8 793.0 141.5 802.5 143.9 810.9C146.2 819.3 149.0 827.2 151.9 834.5C154.8 841.7 158.8 847.3 161.3 854.6C163.9 861.9 166.6 870.3 167.4 878.2C168.2 886.0 168.5 895.5 166.4 901.7C164.3 907.8 153.2 910.6 154.6 915.1C156.0 919.6 168.1 926.3 174.8 928.6C181.5 930.8 188.2 926.3 195.0 928.6C201.7 930.8 210.6 935.9 215.1 942.0C219.6 948.2 221.3 958.3 221.8 965.5C222.4 972.8 221.3 980.7 218.5 985.7C215.7 990.8 210.1 993.0 205.0 995.8C200.0 998.6 192.2 999.7 188.2 1002.5C184.3 1005.3 183.8 1008.1 181.5 1012.6C179.3 1017.1 177.0 1024.4 174.8 1029.4C172.5 1034.5 169.7 1037.3 168.1 1042.9C166.4 1048.5 165.8 1055.7 164.7 1063.0C163.6 1070.3 161.3 1078.7 161.3 1086.6C161.3 1094.4 164.7 1102.2 164.7 1110.1C164.7 1117.9 164.1 1126.9 161.3 1133.6C158.5 1140.3 153.5 1145.9 147.9 1150.4C142.3 1154.9 134.5 1159.9 127.7 1160.5C121.0 1161.1 114.3 1158.3 107.6 1153.8C100.8 1149.3 94.1 1140.9 87.4 1133.6C80.7 1126.3 73.9 1118.5 67.2 1110.1C60.5 1101.7 53.8 1092.2 47.1 1083.2C40.3 1074.2 32.5 1064.1 26.9 1056.3C21.3 1048.5 16.2 1043.4 13.4 1036.1C10.6 1028.9 10.1 1019.9 10.1 1012.6C10.1 1005.3 10.1 998.6 13.4 992.4C16.8 986.3 23.5 980.7 30.3 975.6C37.0 970.6 47.3 967.8 53.8 962.2C60.2 956.6 66.4 949.9 68.9 942.0C71.4 934.2 69.5 924.1 68.9 915.1C68.3 906.2 64.6 897.8 65.5 888.2C66.5 878.7 71.1 868.1 74.6 858.0C78.2 847.9 82.5 838.9 86.7 827.7C91.0 816.5 95.9 802.0 100.2 790.8C104.5 779.6 108.4 769.2 112.6 760.5C116.8 751.8 122.2 739.2 125.4 738.7Z" fill="#4480c2" opacity="0.9"/>
<path d="M586.6 782.4C589.4 782.6 593.3 782.6 595.0 787.4C596.6 792.2 595.5 802.0 596.6 810.9C597.8 819.9 599.7 830.5 601.7 841.2C603.6 851.8 607.8 863.6 608.4 874.8C609.0 886.0 605.6 898.3 605.0 908.4C604.5 918.5 605.6 926.3 605.0 935.3C604.5 944.3 603.9 954.9 601.7 962.2C599.4 969.5 596.6 974.5 591.6 979.0C586.6 983.5 579.3 986.8 571.4 989.1C563.6 991.3 552.4 992.4 544.5 992.4C536.7 992.4 531.1 991.3 524.4 989.1C517.6 986.8 509.8 982.9 504.2 979.0C498.6 975.1 494.1 969.5 490.8 965.5C487.4 961.6 486.3 955.5 484.0 955.5C481.8 955.5 480.7 962.2 477.3 965.5C473.9 968.9 468.9 972.3 463.9 975.6C458.8 979.0 452.1 982.9 447.1 985.7C442.0 988.5 435.9 992.4 433.6 992.4C431.4 992.4 431.4 989.1 433.6 985.7C435.9 982.4 442.0 976.8 447.1 972.3C452.1 967.8 459.9 963.9 463.9 958.8C467.8 953.8 472.3 945.9 470.6 942.0C468.9 938.1 456.9 938.7 453.8 935.3C450.7 931.9 451.5 926.3 452.1 921.8C452.7 917.4 454.1 911.8 457.1 908.4C460.2 905.0 468.9 906.2 470.6 901.7C472.3 897.2 468.3 888.8 467.2 881.5C466.1 874.2 465.0 865.8 463.9 858.0C462.7 850.1 459.4 838.9 460.5 834.5C461.6 830.0 466.1 831.1 470.6 831.1C475.1 831.1 481.8 835.0 487.4 834.5C493.0 833.9 498.0 830.0 504.2 827.7C510.4 825.5 517.6 824.4 524.4 821.0C531.1 817.6 537.8 812.0 544.5 807.6C551.3 803.1 559.1 797.8 564.7 794.1C570.3 790.5 574.5 787.7 578.2 785.7C581.8 783.8 583.8 782.1 586.6 782.4Z" fill="#4480c2" opacity="0.9"/>
</g>
<g filter="url(#spk2)">
<path d="M84.0 1063.0C94.1 1056.9 121.6 1059.7 134.5 1066.4C147.3 1073.1 157.4 1091.6 161.3 1103.4C165.3 1115.1 162.5 1128.6 158.0 1137.0C153.5 1145.4 144.0 1152.7 134.5 1153.8C124.9 1154.9 110.9 1152.1 100.8 1143.7C90.8 1135.3 76.8 1116.8 73.9 1103.4C71.1 1089.9 73.9 1069.2 84.0 1063.0Z" fill="#4480c2" opacity="0.85"/>
<path d="M119.3 760.5C123.2 762.7 130.0 787.4 134.5 800.8C138.9 814.3 145.1 826.6 146.2 841.2C147.3 855.7 147.6 875.9 141.2 888.2C134.7 900.6 116.8 915.1 107.6 915.1C98.3 915.1 87.7 901.7 85.7 888.2C83.8 874.8 91.6 851.3 95.8 834.5C100.0 817.6 107.0 799.7 110.9 787.4C114.8 775.1 115.4 758.3 119.3 760.5Z" fill="#4480c2" opacity="0.85"/>
<path d="M20.2 999.2C32.5 993.6 80.1 988.5 100.8 989.1C121.6 989.6 138.9 995.8 144.5 1002.5C150.1 1009.2 147.3 1023.8 134.5 1029.4C121.6 1035.0 85.2 1037.3 67.2 1036.1C49.3 1035.0 34.7 1028.9 26.9 1022.7C19.0 1016.5 7.8 1004.8 20.2 999.2Z" fill="#4480c2" opacity="0.85"/>
<path d="M537.8 827.7C549.0 813.2 581.0 794.1 591.6 800.8C602.2 807.6 600.6 842.3 601.7 868.1C602.8 893.8 606.2 936.4 598.3 955.5C590.5 974.5 570.3 981.2 554.6 982.4C538.9 983.5 516.0 973.4 504.2 962.2C492.4 951.0 480.7 927.5 484.0 915.1C487.4 902.8 515.4 902.8 524.4 888.2C533.3 873.7 526.6 842.3 537.8 827.7Z" fill="#4480c2" opacity="0.85"/>
</g>
<g filter="url(#rough)" opacity="0.16">
<path d="M84.0 1063.0C94.1 1056.9 121.6 1059.7 134.5 1066.4C147.3 1073.1 157.4 1091.6 161.3 1103.4C165.3 1115.1 162.5 1128.6 158.0 1137.0C153.5 1145.4 144.0 1152.7 134.5 1153.8C124.9 1154.9 110.9 1152.1 100.8 1143.7C90.8 1135.3 76.8 1116.8 73.9 1103.4C71.1 1089.9 73.9 1069.2 84.0 1063.0Z" fill="#4480c2"/>
<path d="M119.3 760.5C123.2 762.7 130.0 787.4 134.5 800.8C138.9 814.3 145.1 826.6 146.2 841.2C147.3 855.7 147.6 875.9 141.2 888.2C134.7 900.6 116.8 915.1 107.6 915.1C98.3 915.1 87.7 901.7 85.7 888.2C83.8 874.8 91.6 851.3 95.8 834.5C100.0 817.6 107.0 799.7 110.9 787.4C114.8 775.1 115.4 758.3 119.3 760.5Z" fill="#4480c2"/>
<path d="M20.2 999.2C32.5 993.6 80.1 988.5 100.8 989.1C121.6 989.6 138.9 995.8 144.5 1002.5C150.1 1009.2 147.3 1023.8 134.5 1029.4C121.6 1035.0 85.2 1037.3 67.2 1036.1C49.3 1035.0 34.7 1028.9 26.9 1022.7C19.0 1016.5 7.8 1004.8 20.2 999.2Z" fill="#4480c2"/>
<path d="M537.8 827.7C549.0 813.2 581.0 794.1 591.6 800.8C602.2 807.6 600.6 842.3 601.7 868.1C602.8 893.8 606.2 936.4 598.3 955.5C590.5 974.5 570.3 981.2 554.6 982.4C538.9 983.5 516.0 973.4 504.2 962.2C492.4 951.0 480.7 927.5 484.0 915.1C487.4 902.8 515.4 902.8 524.4 888.2C533.3 873.7 526.6 842.3 537.8 827.7Z" fill="#4480c2"/>
</g>
<path d="M112.8 952.5h0m.9-1.1h0m.3 .3h0m.3 6.8h0m.2-1.4h0m1.2-1h0m.2 2.6h0m.4-7.7h0m.3 5.5h0m1.9-.1h0m.5-7.2h0m0 5.4h0m1.2 3.3h0m.1-2.7h0m.2 .4h0m.2 1.6h0m.5-8.2h0m.1 .7h0m.7 1.2h0m.5 4.2h0m.3-7.2h0m.4 9.5h0m.3 1.5h0m0-.4h0m.6 3.1h0m.3-11.4h0m0 4.5h0m.1-7.1h0m.1 9.7h0m.1 1.2h0m.3-6.3h0m.1 .8h0m.2 6.2h0m.1 2.7h0m.3-2.4h0m.3-5.4h0m.5-5.5h0m.2 3.8h0m0-2.4h0m.3 9.9h0m0-8h0m.1 .8h0m0 6.2h0m.1 4.2h0m.4-16.1h0m.2 11.2h0m.1-5.2h0m.1 4.4h0m.3 3.3h0m.1-2.5h0m.1 2.5h0m.1-3.2h0m.3-9.3h0m0 10.6h0m.8 .3h0m.5-3.5h0m0 3.3h0m0 .7h0m.5-9.1h0m.2 2.9h0m.1-6.5h0m.2 4.8h0m.8-5.2h0m.5 6.4h0m.2-6.1h0m.2 17.7h0m0-6.5h0m.2-10.1h0m.3 6.4h0m.2 3.2h0m0 4.9h0m.7-13.7h0m.6 11.2h0m.1-2.2h0m0 6.7h0m.2-.9h0m0-3.3h0m.1-13.2h0m.1 13.3h0m.2-5h0m.1 8.2h0m0-2.5h0m.2 3.7h0m.2-7.3h0m.1 7.1h0m0-2.8h0m0 4.4h0m.2-17.6h0m.2 9.4h0m.1 5.9h0m1.3-14.1h0m.3 3.6h0m1.3 9.5h0m.1-4.7h0m0 7.3h0m.3 2.4h0m.1-1.1h0m.2 .3h0m.2-.5h0m.3-3.9h0m.1-2.5h0m.3-9.6h0m.2 16.3h0m.2-9.9h0m.4-8.3h0m.1 5.2h0m.1-.1h0m.6 6.3h0m.1-5.5h0m.1-4.7h0m.1 13.2h0m.1-10.5h0m.4 .2h0m.1-1.4h0m0 5.2h0m.2 10h0m.2-18.1h0m0 3.9h0m.5-1.3h0m.2 9.3h0m.1-12.8h0m.2 18.5h0m0 3.9h0m.1-3.4h0m.3-7.9h0m.1 3.5h0m.2-1.8h0m.1-13h0m0 12.7h0m.5 9.6h0m.1-2.3h0m0-6.3h0m.1 5.5h0m.1-4.2h0m.1-12.9h0m0 5.2h0m.8 10.2h0m.1 5.8h0m.1-19.9h0m.2 12.6h0m.4 6.2h0m0-19.6h0m.4 14.2h0m.2-12.7h0m.1 20.5h0m.1-17.3h0m.7 17.5h0m.1-10.2h0m.1-2.2h0m0-10.2h0m.2 14.4h0m.2 3h0m.2 4.3h0m0-4h0m.3-17h0m.1 7.5h0m0 4.2h0m.5-3.3h0m.1 5.6h0m.1-6.9h0m.5-6.2h0m.1 20.6h0m.1-18.2h0m.3 19.4h0m0-15.6h0m.3 17h0m.1-12.9h0m.3 5.7h0m.2-8.5h0m0-3.8h0m.1 9.7h0m.1-.9h0m.2 7.8h0m.1-17.6h0m.5 16.2h0m0-16.4h0m.2 6.8h0m.4 14.7h0m.2-21.2h0m0 2.4h0m.2-3.9h0m.1 17.9h0m.1-6.7h0m.1-9.3h0m0 6.4h0m.2 2.6h0m0-2.2h0m.1-8.9h0m0 10.5h0m.3-11h0m.1 3.4h0m.1 4.7h0m0-1h0m.1 15.5h0m.1-3.1h0m.4-9.5h0m0 1.7h0m.3-5.4h0m.2 12.1h0m0-13.3h0m.2 11.5h0m.4 2.4h0m.5-10.8h0m.1 17h0m0-16.9h0m.2-7.1h0m.1 6.4h0m.3 7.2h0m0 9.1h0m0-18.4h0m.1 .2h0m.1 4.8h0m0 7.1h0m.4-2.1h0m0-5.9h0m.1 9h0m0-10h0m.2-6.1h0m0 10.1h0m.1 12.2h0m.1-1h0m0-6.4h0m.7 5.3h0m.2-5.8h0m0 7.7h0m.3-4.3h0m.1-15.5h0m.2 15.8h0m0 7.2h0m0-4.7h0m.6-11.4h0m.1-9.5h0m.1 15.1h0m.1-6.2h0m.2 9.1h0m.1 1.7h0m.3 1.1h0m0-8.5h0m.1 7.8h0m.2 0h0m0-17.5h0m.1 16.5h0m.1-3h0m.1-6.1h0m0 8.1h0m.3-.5h0m0-7.8h0m.2 17.8h0m.3-19.3h0m.1 15.9h0m0-13.7h0m.3-.2h0m.1 14.6h0m.4 2.3h0m0-7.4h0m.3 7h0m0-15.1h0m.2-10.7h0m0 11.6h0m.1 14h0m.6-14.5h0m0 8.2h0m.4 6h0m.1-14.6h0m0-5.1h0m.4 13.7h0m.2-7h0m.1 15.2h0m.2-11.3h0m.1-3.4h0m.1 17h0m.1-.4h0m.4-9.8h0m.3-14.5h0m0 5.1h0m0-7h0m.2-1.4h0m.1 22.3h0m.4-18.7h0m.1 2.7h0m.3 15.2h0m.4 3.2h0m.1-22.8h0m0 8.5h0m.3 15.4h0m.5-5.8h0m0 8.5h0m.1-6.2h0m0-17.7h0m0 21.5h0m0-2.5h0m.1-19.7h0m0 4.4h0m0 15.6h0m.2-2.8h0m.1-10.5h0m.1 13h0m.1-18.5h0m.1 12.4h0m.1-8.3h0m.3 4.3h0m.2 3.7h0m.3 3.8h0m.1 .3h0m.2 4.5h0m.1-.4h0m.1-22.1h0m.2 29.1h0m.1-21.4h0m.1 12.1h0m.5 4.6h0m.1-17.8h0m.2 6.7h0m.2-3.8h0m.1-8h0m.1 23.5h0m.3-6.5h0m0-7.6h0m.3-6.4h0m.1 14h0m.2-12.6h0m0-1.3h0m.1 1.6h0m.2 4.2h0m0 20.4h0m0-16.4h0m.2 4.4h0m.1-7.6h0m.2 0h0m.1-5.8h0m.1 .3h0m.1 8.8h0m0 3.5h0m.1-11.7h0m0 8.5h0m.1-7.5h0m.2 4.5h0m.1 4.7h0m.2-12.2h0m.1 23.6h0m.1-20.1h0m.2 20.9h0m0-2.9h0m.1-17.9h0m.1 25.7h0m.2-20.7h0m.1 3.9h0m.2-6.2h0m0 11.3h0m.9 8.3h0m0-8h0m.4-13.7h0m.2 20.1h0m.3-16.8h0m.1 13.2h0m.3-18.2h0m.1 17.6h0m.2-14.5h0m0 10.2h0m.1 14.1h0m.4-19.6h0m.1-7.5h0m.2 3.6h0m.4 23.8h0m.3-26.5h0m0 17.9h0m.1 7.6h0m1.2-17.5h0m.2-9h0m.3 14.6h0m.1 9.6h0m.4-17.4h0m.1 19.7h0m.1-16.4h0m0 15.2h0m.2-21h0m.1 23.7h0m.1-25.4h0m.1 25.2h0m.2-8.2h0m.1-2.1h0m.2-.2h0m.2-12.2h0m0 8.7h0m.2 6.6h0m0 5.9h0m.1-24.6h0m0 18.2h0m.3-10h0m0 13.4h0m.4 3h0m.7-24.2h0m.1 8.5h0m0 10h0m0 7.3h0m.5-11.1h0m.1 1.6h0m0 5.3h0m.2-11.6h0m0 8.2h0m.1-11.7h0m0 20h0m0-14.5h0m.1-9.8h0m.2 1.3h0m.5 21.4h0m.3-24.3h0m.1 12.9h0m0-13.1h0m.5 17.3h0m.4-8.8h0m.3 16.6h0m.4-.6h0m.4-5.8h0m.2-17.5h0m0 15h0m.1 4.2h0m0 1.2h0m.4-20.9h0m.2 19.5h0m.5-2.7h0m.3-3.2h0m.5-6.7h0m.7 18.3h0m0-10h0m.3-2.6h0m.1 8.1h0m.2 4.2h0m.1-22.2h0m.1 22.5h0m.3-.3h0m.2-4.5h0m.1-17.8h0m.1 9.5h0m.1-5.2h0m.1-.9h0m.2 12.5h0m.2-.1h0m0-7.6h0m.1-2.2h0m.1-6.7h0m.1 7.5h0m.2-8.8h0m.3 7.6h0m.7-2.9h0m.5 14.7h0m.3-14.3h0m.1-2.9h0m.3 17h0m0-17.8h0m.1 1.4h0m.3-1.1h0m0 14h0m.1-14.5h0m.1 6.5h0m0 7.4h0m0 7.7h0m.6 1.6h0m.3-3.8h0m.2 .5h0m.3-12h0m.1-9.1h0m0 1.2h0m.3 .3h0m.3 1.4h0m0 6.6h0m.1-8.9h0m.1 11.2h0m.6 .1h0m0-3.8h0m.1 14h0m.5-19.6h0m.3 5h0m.2 6.4h0m.3-6.7h0m.6 8.4h0m.2-9h0m.1-1.8h0m0 1.8h0m.4 8.5h0m0 2h0m.2-5.5h0m.3-8.2h0m.1 1.5h0m.1-.8h0m.1 4.5h0m0-3.8h0m0-4h0m1.4 3.1h0m.8 8.2h0m.1-.4h0m.2-9.5h0m.2 14.7h0m.3-5.2h0m0-7.3h0m.3 2.3h0m0 7.2h0m.1 4h0m.1-3.7h0m.6-11.2h0m.1 5.8h0m.7 10h0m.3-7.5h0m0-7.6h0m.3 14.2h0m.4-9.9h0m.2-2.8h0m.1 2.1h0m.2 .1h0m.2 5.2h0m.1-9.7h0m.1 6.6h0m.8 3.5h0m0-.9h0m.3-.5h0m.2-5.4h0m.1 2.9h0m.2 3.8h0m0 1.5h0m1.5-4.7h0" stroke="#14574a" stroke-width="1.40" stroke-linecap="round" fill="none"/>
<path d="M183 932.8h0m.7 1.8h0m1.1 1.3h0m.4-.7h0m0-1.9h0m.5 8.7h0m.2-1.3h0m0 1.3h0m.3-2.5h0m.3 3.3h0m0-6h0m.3 8.4h0m.1-3.1h0m.5-6.5h0m.1 7.1h0m.1 4h0m.1-5h0m.1 4.3h0m0-5.2h0m0-3.1h0m.2 2.1h0m.3-4.5h0m.3 8h0m.1-6.6h0m.1-1.9h0m0 2.5h0m.1-.8h0m0 12.1h0m.1-5.2h0m.3 3.5h0m.1-2h0m.4 2h0m.1-9.3h0m.6-.7h0m.4 11.5h0m.1 .8h0m.1-9h0m0-2.2h0m.7 11.1h0m.4-6.4h0m0-2.1h0m.2 6.6h0m.2 4.3h0m.6-5.1h0m.5 .9h0m.3-2.1h0m.9 2.1h0m.1-9.4h0m0 2.3h0m0 6.4h0m.1 3.6h0m.1 .9h0m.2-10.9h0m.1 8.7h0m.1-6.1h0m.4 6.7h0m.5-4.6h0m.2 .5h0m.1 2.5h0m.4 5.4h0m.2-13.2h0m.2 17.3h0m0-14.2h0m.1 10.7h0m.1 3.5h0m.4-.8h0m.1-15.2h0m.1 1h0m.2 14.9h0m.2-16h0m0 12.8h0m.1-1.8h0m.1-10.3h0m.1 13.6h0m.1-1.5h0m0-10.5h0m.2 8.4h0m.5-7.3h0m.1 8.2h0m.1-5.5h0m.6 10.4h0m.1 1.1h0m.2-10.8h0m.1 11.7h0m.1-19.4h0m.1 6.5h0m.2 .9h0m.1-5.5h0m0 8.7h0m.9-8.2h0m.2 11.7h0m.1-3.4h0m.2 0h0m.1-3.3h0m.3 14h0m.3 0h0m0-18h0m.2 9.7h0m0-10.6h0m0 6.1h0m.2 10.3h0m.2-.2h0m0 .2h0m.1-14.2h0m0 6.2h0m.2 9.3h0m0-16.8h0m0 6h0m.3 5.2h0m.5 7.3h0m.4-18.2h0m.4 4h0m0 11.2h0m.2 1h0m.1 .7h0m.1-9.3h0m.1 11h0m0-17.1h0m.8 14.1h0m.1-10.4h0m.2 11.7h0m.1-3.3h0m.5 4.9h0m.2 .9h0m.4-13.1h0m.1 3.3h0m.3-4.7h0m0 7.6h0m.2 1.2h0m.1 5.4h0m.2-10.1h0m.2-2.9h0m0-.6h0m.1 10.4h0m.2-11.6h0m.1 3.7h0m0 10.9h0m.2-6.4h0m.2-4.4h0m.4 8h0m.1-2.6h0m.1 6.3h0m0-3.3h0m.2-9.4h0m.3 11.3h0m.1-1.8h0m.1-6.6h0m1.3 8.1h0m.4-6.2h0m.2 5.4h0m.3 1.2h0m.2 1.1h0m.1-1.7h0m.1-.1h0m.3 2.8h0m.8-5.2h0m.2 4.3h0m.4-.1h0m.8 0h0m.1 1.2h0" stroke="#f5b529" stroke-width="1.40" stroke-linecap="round" fill="none"/>
<path d="M182.6 939.8h0m1.1-2.2h0m.4 3.2h0m1.4 2.5h0m0-9.3h0m.6 7.6h0m.1-8.3h0m.9 7.3h0m.7-.9h0m.3 6.7h0m.2-4.4h0m.5 3.7h0m.1 2.6h0m.2-2.2h0m.7-6.7h0m.1-2.5h0m.5 9.5h0m.9 2.9h0m.4-10.9h0m.3-2.4h0m1.2 3.9h0m.2 5.8h0m0-8.2h0m.2 2.5h0m.4 11.7h0m.5-13.5h0m.2 6.5h0m1-4.7h0m.4-4.4h0m.4 18.9h0m.1-17.4h0m.5 12.1h0m.1 1.6h0m.2-1h0m.3-7.8h0m0 10.7h0m.4-14.9h0m0 11.8h0m.1-3.7h0m0 5.5h0m.4 2.6h0m0-18h0m.1 5.4h0m0 6.1h0m.3 2h0m.1-.9h0m0 7.5h0m.3-18.4h0m.1 9.3h0m.6-3.1h0m0 12h0m.1-12.2h0m.2 7.5h0m.2-4.9h0m.1 6h0m.1 1.3h0m.6 3.4h0m.1-10.4h0m.2 11.8h0m.2-10.4h0m.4 6.2h0m.5 4h0m.2-7.3h0m.8-1.5h0m.4-4.9h0m.1 12.2h0m.1-12.5h0m0 4.8h0m.6 5.1h0m.3 1.2h0m.6-1.9h0m0 .4h0m.1-9h0m.1 4.9h0m1.1 .8h0m.1 5.2h0m.3-8.4h0m.2 4.3h0m.4-2.5h0m.2 6.3h0m0 .3h0m.1-5.7h0m.5-1.3h0m0 .9h0m.4 1.3h0m.2 .1h0m1.1 4h0m.3-.7h0m0-3.6h0m.5 4.1h0" stroke="#d81b60" stroke-width="1.40" stroke-linecap="round" fill="none"/>
<path d="M163.8 947.5h0m.2-1.5h0m.3 1h0m2.6 2.9h0m.3-.7h0m.6 .4h0m.2-2.9h0m.6 1.8h0m.6 .4h0m.2-.9h0m0 0h0m.4 6h0m1.4-4.5h0m.1 2.1h0m1.1-.2h0m.1-2.5h0m1.4-2.1h0m.2 11.9h0m1.3-7.3h0m.3 6.6h0m.4-5.6h0m.1-1.7h0m.3 2.6h0m1 2.9h0m.3 4.1h0m.1 1.2h0m.2-13.8h0m.5 5.2h0m.3-5h0m0 15.2h0m.2-13h0m.1 1.1h0m.4-4.7h0m0 5.6h0m.2-3.6h0m0 7.8h0m.2-9.1h0m.5 17.3h0m.4-16.3h0m.1 15.2h0m0 3.9h0m0-.2h0m.3-.6h0m.3-4.6h0m0 4.1h0m.1-5.1h0m.1-13.1h0m.5 6.8h0m.4-2.3h0m.1 5.5h0m.1-8.1h0m.4-.8h0m.3 10h0m.3 7.6h0m.1-1.1h0m.3 .5h0m0-13.9h0m.3 4.3h0m.4 12.2h0m.6 3.2h0m0-5.1h0m.1-9.4h0m.1 2.5h0m.2-7.1h0m.2 10.4h0m.2 6.7h0m.2-3.6h0m.1 3.1h0m.5-2.5h0m.5-13.2h0m.5 3.8h0m.2 11.5h0m.1 6.9h0m.1-4.5h0m.4-11h0m.6-2.4h0m.3 9h0m.3 3.3h0m.5 .9h0m.2 2.1h0m.3-5.5h0m0-6.9h0m.1 4.5h0m0 1.3h0m.5-8.2h0m.6 2.1h0m.5 4.4h0m.1 10h0m.2-14.1h0m0 10.8h0m0-4h0m.2-7.5h0m.6 4h0m.1 5.1h0m.1-4.2h0m.9-2.6h0m.7 5.6h0m.1-.8h0m1.1 3.5h0m.4-4.3h0m.1-2h0m.1 1.1h0m.2 9.6h0m.7-.2h0m1.1-8.2h0m.2 4.6h0m.5 .6h0m.1-4.4h0m.5 .6h0m1.2 7.5h0m.6-3.3h0m.6 3.9h0m.7 1.2h0m3.4-.2h0m1.3-1.4h0m0-.4h0m.5 1.5h0m.6 .4h0m1.7-.6h0m.2-.1h0" stroke="#f5b529" stroke-width="1.40" stroke-linecap="round" fill="none"/>
<path d="M11.7 1016.9h0m1.2 3.6h0m.2-.8h0m.2 4.5h0m.3-4.5h0m0-5.2h0m.2 1h0m1.5 14.9h0m.5-4.6h0m.7-7.9h0m.3 1.5h0m.1 .6h0m.4 7.9h0m.7-9h0m.2 18.3h0m0 2.6h0m.1-10.2h0m0-8.4h0m.5 9.5h0m.1-8h0m.2-7.7h0m.2 23.7h0m0-24h0m.1 22.1h0m0 9.2h0m.1-17.7h0m.1 14.7h0m.1-1.7h0m.1 1h0m.2-9.6h0m0 4.9h0m.6-.5h0m.1-24.3h0m.5 8.4h0m.2 24.9h0m0-23h0m.1 10.3h0m.2 8.2h0m.4-14.1h0m0 11.8h0m.3-9.2h0m.1 13.9h0m.1-28.7h0m.1-2.2h0m.3 19h0m.2-14.2h0m.2 15.8h0m.1-8.4h0m.2 17.4h0m.1-23.7h0m.5-3.2h0m0 24.7h0m.1-22.5h0m.1 27.3h0m.1-7.2h0m.3 7.7h0m.2 1.7h0m.4-21.2h0m.1-6.8h0m.1-.4h0m0-4.6h0m.1 7h0m0 8.2h0m.1 17.3h0m.3-20.1h0m0 10.6h0m.3 11.6h0m0-35.3h0m.1 27.2h0m.1 9.7h0m.2-30.1h0m0 18.9h0m.2-2.3h0m.6 1.4h0m.4-4.1h0m0-1.3h0m.3-8.1h0m.3-2.9h0m.4-1.3h0m.1 13.3h0m0-.1h0m.3 10.8h0m.4-13.5h0m.1 1.3h0m.6-16.2h0m.1 2.9h0m.2 4.7h0m0-5.6h0m0 5.8h0m0 8.5h0m.2 19h0m.3-13.4h0m.1-21.4h0m0 3.6h0m.2 30.2h0m.2-15.1h0m.5 4.9h0m0 11.6h0m0-1.5h0m.2-15.2h0m.4-21.2h0m.2 25.5h0m.2-16.7h0m.5 17.7h0m.1-16.3h0m.3 8.2h0m.2 19.5h0m.2-6.5h0m.6 1.9h0m1.1 7.2h0" stroke="#d81b60" stroke-width="1.20" stroke-linecap="round" fill="none"/>
<path d="M28.8 966.7h0m1.1 1.3h0m.1 2.3h0m.9-3.4h0m.6 10.9h0m.1-8.5h0m.1 5.8h0m0-5h0m.3-3.1h0m0 8.1h0m.6 1.8h0m.6-11.6h0m.1 3.2h0m.1 4.5h0m.3-1.1h0m.1-5.2h0m.8 2.7h0m.4-.3h0m.4-2.4h0m0 2.7h0m.4 2.3h0m.2-3h0m.3 8.1h0m.1-1.7h0m.6-5h0m.6 1.9h0m.3 6.2h0m.3-12.1h0m.3 3.5h0m.2 1.2h0m.3 4.8h0m.4-8.8h0m.7 6.5h0m.3-6.5h0m.2 2.8h0m.3 9.3h0m0-6.1h0m.1-8.1h0m.1 .6h0m.2 1.8h0m.8 4.6h0m.5-2.7h0m.4-2.5h0m.1 6.1h0m.2-5.7h0m.3 1.8h0m.1 4.5h0m2.2-10.5h0m.3 8.2h0m.5-7.1h0" stroke="#f5b529" stroke-width="1.20" stroke-linecap="round" fill="none"/>
<path d="M63.4 969.2h0m2.6 10.8h0m.6-6h0m.6-2.6h0m.5 6.7h0m1.9 2.8h0m1.4 1.9h0m3.7 2.8h0m2.4-7.7h0m1.8-4.3h0m.6 .4h0m.2-4.7h0m.1 13.8h0m2.4 1.1h0m.3 .9h0m1.1-7.1h0m1.9 7.4h0m.2-1.5h0m.7-1.1h0m.4-2.3h0m.6 6h0m.1-8.8h0m1.4-5.3h0m.2 8.9h0m2.3-6.7h0m.1-3.8h0m3.8 8.2h0m.3-9.2h0m3.4 13h0m.6-3.7h0m1.4 4.9h0m.6-14.1h0m1.3 7h0m0 .5h0m4.3-3.9h0m.5 10.4h0m.3-3.9h0m0-4.5h0m.4-3.9h0m.2 6.3h0m2.2-5.5h0m.3-1.1h0m1.5 11.2h0m.9-4.2h0m.7-7.5h0m1.1 17.5h0m2.7-7.7h0m3.4-5.2h0m.1 9.6h0m.3-10.6h0m1.5 10.9h0m.3-9.6h0m.9 2.3h0m.4 8.4h0m.8-1.6h0m1.3 3.2h0m.4-18.8h0m.8 7.2h0m.5 7.5h0m5-14.8h0" stroke="#d81b60" stroke-width="1.20" stroke-linecap="round" fill="none"/>
<path d="M320.6 997.3h0m.4-1.2h0m.7 4.8h0m2 .6h0m.2-6.1h0m.7 2.7h0m.2 6.4h0m.1-7.4h0m.2 7.4h0m.2-.1h0m.2-7.6h0m.2-3.8h0m.9 8.7h0m.7 1.2h0m.6-10.6h0m.4 9.4h0m.9-3.8h0m0 4.7h0m0-10.5h0m.1 11.4h0m.4-5.1h0m.3 3.8h0m1.2 3.6h0m.8 .3h0m.1-10.9h0m.1 7.1h0m.6 4.3h0m.2-14.1h0m.3 6.7h0m.4 1.2h0m.4-7.5h0m.1 .7h0m.3-3.7h0m.1 17h0m.1-17.5h0m.3 17.8h0m.6-12.1h0m.2-6.3h0m.2 2.9h0m0 6h0m.8 3.8h0m0 5.6h0m.2-12.1h0m.1-7.9h0m.3 7.9h0m.7-6.1h0m.1 5h0m.2 1.3h0m.4-.2h0m.1-3.1h0m.1 8h0m.4-10.5h0m0 18.3h0m.1-16.2h0m.2 11.5h0m.2-2h0m.2 2.1h0m.1-12.8h0m.1-.3h0m0 12h0m.4-6.7h0m0 4h0m.2-1.3h0m1.5 7.4h0m.1 3.6h0m.2-17.2h0m0 17.7h0m0-6.1h0m.2 .7h0m.9-12.4h0m.2 7.1h0m0 10.9h0m.6-13.5h0m.6-8.8h0m.5 13.5h0m.8 7.3h0m0-10.1h0m.1 10.6h0m.2-18.2h0m.3 17h0m.1 3.3h0m.1-17.3h0m.3 14.6h0m.1-6.7h0m.5-5.4h0m.3-4.7h0m.2 1.3h0m.7-2.5h0m0 1.6h0m0 19.7h0m0-17.3h0m.1 14.1h0m.8 1h0m.6 1.7h0m.2-3.5h0m.1-10.7h0m.9 12.8h0m.3-20.6h0m.2 6.6h0m0 13.8h0m.7 2.2h0m.2-19.7h0m.1-.5h0m1.1 .4h0m.3 3.2h0m.2 15.6h0m.3-3.8h0m.1-5.8h0m.1 6h0m0 2.1h0m.3-13.4h0m.4 4.7h0m.4-9.4h0m.4 13h0m.7-11.9h0m.1 10.6h0m.4 9.2h0m0-8.8h0m.3-10.5h0m0 20.9h0m.2-10.9h0m.4 3.3h0m.4 1.7h0m0-3.1h0m0 3.4h0m.3-5.6h0m.1-9.5h0m1 18.9h0m.1-.5h0m.1-9.8h0m.2 6.1h0m.2 2.5h0m.1-1.1h0m.3-12h0m.3 9.4h0m.1 7.3h0m0-14.1h0m.4 9.7h0m.2-10.4h0m1.7 6.3h0m.3 7.1h0m.2-8.7h0m.8 5.6h0m0-12.2h0m.5 16.1h0m.2 .2h0m.5-4.2h0m.4-10.7h0m.3 1.6h0m.2 12.2h0m.1-11.9h0m.9 8.2h0m.9-4.8h0m.8 6.8h0m.2-3.2h0m.3 2.5h0m.1-4h0m.1-4.3h0m0 4.2h0m.3-4.5h0m.6 8.8h0m.5-6.6h0m.1 5.3h0m1.9-5.2h0m.4 1.7h0m.2 .3h0m0-2.3h0m1 .7h0m1.1 2.9h0m1-.5h0" stroke="#d81b60" stroke-width="1.40" stroke-linecap="round" fill="none"/>
<path d="M354.9 977.1h0m.7 3.4h0m.1-4.2h0m.6 4.1h0m.3 1.3h0m.1 .2h0m.8-.4h0m.7-.9h0m.1 4.3h0m0-5.8h0m0 4h0m.2-.7h0m.1-5.1h0m.2-.1h0m.6 1.3h0m.4 2.5h0m.2 .2h0m.7-1h0m.3-1.3h0m0 4.4h0m.3-3.9h0m.2 2.9h0m0 2.5h0m0-5.9h0m0 4.1h0m.2 .4h0m0-5.2h0m.6 2h0m.1 11.7h0m.1-6.8h0m.1 3.7h0m.4-4.9h0m.3 2.4h0m.1-3.6h0m.1 2.6h0m.5-4.2h0m0 6.7h0m0 5.5h0m.2-9.7h0m.2 1.6h0m.2 1.8h0m.2-2.3h0m0-2.3h0m0 12h0m0-15.8h0m.1 15.7h0m.3-3.3h0m.1-5.9h0m.4 6.4h0m0-1.7h0m.1 .1h0m.1-6.8h0m.6 14.4h0m.2-11.6h0m.3-4.2h0m0 9.8h0m.1-9.8h0m0-2.5h0m.3 17.6h0m.2-11.4h0m.1 10.9h0m0-8.3h0m.1-2.6h0m0 4.4h0m.1-3h0m0 4.1h0m0 2.7h0m.5-12.8h0m0 16.5h0m.6 0h0m.1-.6h0m.3-.4h0m.2-7.9h0m.1 8.4h0m0-11.8h0m.6 .2h0m.1 11.3h0m.3-6.3h0m0 9.8h0m.2-18.5h0m.4 9.9h0m.1 8.5h0m.3-17.8h0m.2 1.6h0m.1 6.5h0m.5 11h0m0-9.6h0m.2 4.8h0m.2-2.5h0m.1 3.5h0m.1-12.7h0m.2-.6h0m.1 .8h0m.1 15.3h0m.3-1.9h0m0-3.3h0m.4 7.1h0m0-8.1h0m.1-5.1h0m.2 14.5h0m0-15.8h0m.7 4.6h0m.5 6.2h0m.1-6.4h0m0 11.2h0m.1-1.8h0m.2-1.3h0m.3-3.9h0m.2-.7h0m.1 6.4h0m.1-1h0m.1 3.4h0m.1-3.7h0m.3-1.1h0m.8-9.4h0m0 8.3h0m.1-5h0m.1 0h0m.2-1.5h0m.4-.4h0" stroke="#f5b529" stroke-width="1.40" stroke-linecap="round" fill="none"/>
<path d="M339.3 988.3h0m2 1.8h0m.9-3.3h0m.2 2h0m0-1.1h0m1.2 2.2h0m0 4.7h0m1.2-2.7h0m.7 3.9h0m.2-4.8h0m.2 6.2h0m2.1-5.2h0m.3 5.3h0m.4-3.3h0m.2-5.9h0m.4 2.7h0m0 9.5h0m.2-.6h0m0-7.6h0m.7 3.5h0m.3 2h0m.3-5.6h0m.4 7.1h0m.1-9.5h0m.5 5.9h0m.4-5.1h0m.9 4.3h0m.6-6h0m.4 .6h0m0-.5h0" stroke="#f5b529" stroke-width="1.40" stroke-linecap="round" fill="none"/>
<path d="M370.1 957h0m1.9-.8h0m1-2.2h0m.2 5.8h0m.4-3.2h0m.7 3.5h0m.1-5.9h0m.2 5.3h0m0-1.9h0m0 5.9h0m.3 .8h0m.2-2.4h0m.4-8.8h0m.2 7.2h0m.1-6.4h0m0 5.3h0m.7-3.9h0m.4 1.3h0m0-3h0m.5 .9h0" stroke="#4480c2" stroke-width="1.40" stroke-linecap="round" fill="none"/>
<path d="M316.1 1037h0m.9-2.6h0m.4-1.1h0m.1 .8h0m.1-2.3h0m.8 .2h0m.6-2.8h0m.2 3.3h0m.1-3.9h0m.2-3h0m.7 .2h0m.6 1.5h0m.1-.5h0m.1-3.4h0" stroke="#4480c2" stroke-width="1.40" stroke-linecap="round" fill="none"/>
<path d="M434.3 985.8h0m.9-.3h0m2.6 .5h0m2.5-.1h0m1-.1h0m.9-.3h0m.4 1.7h0m.7-1.9h0m.3 .5h0m1.2-5.2h0m.2 2.2h0m0 4.9h0m0-2.4h0m.4-4.9h0m1.2 .4h0m.3 3.5h0m.2 4.1h0m.1-6.6h0m0 4h0m.3-.5h0m.4-2.6h0m.3 5.6h0m.1-6.2h0m.1-5.9h0m.3 5.7h0m.4-.8h0m.6-2.3h0m.1 6h0m.5-3.8h0m.2-1.2h0m.1-1.7h0m1.1 6.2h0m.2-7.5h0m0 1h0m.1 3.9h0m.2 2h0m.1-7h0m0 2.9h0m.1 2.1h0m.1-.8h0m.1 3.3h0m.1-4.9h0m0-.1h0m.3-4.1h0m.1 6.5h0m0-4.3h0m.6 6.2h0m.7-3h0m0 2.7h0m.5-7.6h0m.2 7.1h0m0-9.7h0m.4 0h0m.2 8.1h0m.2 .7h0m.2-3h0m.3 2.3h0m.5-5.6h0m.1-3.4h0m.1 3.6h0m1.1 4h0m.6-2.8h0m.8-1.7h0m.7-6.3h0m.6 6h0m.2 2.4h0m0 .8h0m0-8h0m.2 .8h0m0-.4h0m.1-.2h0m.4 .4h0m.5 .7h0m.2-4.7h0m.2 .6h0m.1 6.5h0m.5-5.8h0m.4 9.9h0m.2-4h0m.1-3h0m.3 3.2h0m.3-1.4h0m.3 3.3h0m.1-.8h0m0-9.3h0m.3 6.9h0m.2 2.9h0m.3-7.4h0m0-3.6h0m.3 7.4h0m.3 1.2h0m.3 1h0m0-4.2h0m.1-3.7h0m.6-1h0m.4-.4h0m0 2.6h0m.4 7.2h0m.1-6.7h0m0 4.4h0m0-1.2h0m.3-1.7h0m0-.5h0m.2-4.8h0m.6 4.9h0m1-6.3h0m.1 8.3h0m.6 1.5h0m.7-1.5h0m.3-7.4h0m.7 3.3h0m.2-1.6h0m.3-4h0m0 8.6h0m0-9.2h0m.6 8.2h0m.1-1.8h0m.2 1h0m.5-4.9h0m1.3 3.4h0m.1-6.6h0m0 0h0m.3 7.2h0m.5-.1h0m.2-2.7h0m.1-3.9h0m.2 4.9h0m.1-3h0m.1 .4h0m.5-3.2h0m.6 1.8h0m.2-.7h0m.8 2.6h0m.1 5.9h0m.1-.6h0m.5-5.2h0m.1 .5h0m.2 2.6h0m.1 0h0m0-6.7h0m.2 8.3h0m.1-4.4h0m.1-2.8h0m.1 5h0m.1 0h0m.2-7.7h0m0 3.4h0m0 3.6h0m.3-.4h0m.1 1.5h0m.2 2h0m0-2.2h0m.1-3.7h0m.2 5.8h0m.4-3.2h0m0-8.4h0m.3 10.5h0m.1 2h0m0-6.9h0m0 4.1h0m0-9.5h0m.1 2.4h0m.2 9.9h0m.1-13.3h0m.4 2.3h0m.1 1.1h0m.2 8.7h0m0-8.3h0m.2 .4h0m.1 7.9h0m0-4h0m.2-4.7h0m0-1.2h0m.8 .4h0m.4 .4h0m.3 12.5h0m.2 .8h0m.2-6.2h0m0-2.5h0m1.2-2.7h0m.2 9.1h0m0 .6h0m.2-8.9h0m.1 9.5h0m.2-8.6h0m0 3.5h0m0 1.7h0m2.2 4.1h0m.1 .2h0m.3-1.4h0m.3 .8h0m0 2.3h0m.3-6.5h0m0 1.5h0m.1-1h0m1.2 2.1h0m.2 1.9h0m.4 0h0m0 5h0m.1-10.8h0m.7 3.1h0m0 4.1h0m.1-.3h0m.3-4.7h0m.6-.1h0m.6 9.6h0m.2-5.3h0m.6-3.7h0m1.4 10.1h0m.2-4h0m0-2.1h0m.2 .4h0m1.1-2.4h0m.5 9h0m.2-2.5h0m.7-5.5h0m.4 5h0m.6 2.9h0m.4-6.9h0m.4 6.5h0m.1-3.1h0m.4 4.2h0m.1-1.8h0m0 2.6h0m.1-7.4h0m1.2 5.8h0m.1-.5h0m.8 1.6h0m.5-3.4h0m.6 1.2h0m.1 2.9h0m.6-3.5h0m.6 4.5h0m.1-2.1h0m.3-3.3h0m0 6.3h0m.2-1.2h0m.6-3.2h0m.4 .3h0m.3 .7h0m.2 1.7h0m0 .6h0m2.6 .8h0m2.1 .6h0m.1 .1h0m.1-2.1h0m.8-.2h0m.2 4.6h0m2.1-2.6h0m.3-1.1h0m.6 3h0m.2-.4h0m1.9 2h0m5.4 1.5h0m.8 .8h0m.3-.6h0m1 1.2h0m.8-.3h0m.7 .2h0m4.2 1.7h0" stroke="#f5b529" stroke-width="1.40" stroke-linecap="round" fill="none"/>
<path d="M465.8 941.6h0m1.2 5h0m0 .7h0m.6 .3h0m.1-4.7h0m.6 8.4h0m.4-6.5h0m0 .7h0m.6 .8h0m.2 4.8h0m0 5.2h0m.1-10h0m.1-5.2h0m.1 4.3h0m0 12.4h0m.6-9h0m.1 12.1h0m.3-.4h0m.3-3.4h0m0-10.9h0m.3 9.7h0m.3-16.4h0m0-3.3h0m.1 9.4h0m.1-9.1h0m.2 2.3h0m.9 18.6h0m.7-12.6h0m.1 3.9h0m.6 9.7h0m.1-12.3h0m.4-10h0m.2 7.8h0m.3 2.1h0m.5-10.1h0m.2 1.3h0m.1-2.9h0m.3-.1h0m.3 3.2h0m0 9.6h0m.1 1.9h0m.2-3.7h0m.3-2.2h0m.2-7h0m.3 17.8h0m.9 2.6h0m0-12.2h0m.1 4.6h0m.9 8.7h0m0-14h0m.4-.6h0m.8 11.3h0m.3 3.5h0m.2-11.7h0m0-12.3h0m.1 18.2h0m.1-16.8h0m.3 19.5h0m.1-11.4h0m.1 6.8h0m.1 7h0m0-23.1h0m.1 12.2h0m.3-7.7h0m0 11.3h0m.3 7h0m0-11.1h0m.2-8.7h0m.2 1.2h0m0 13.9h0m0 3.7h0m.3-9.7h0m.5-8.7h0m.4 2.5h0m0 7.4h0m.1-1.3h0m.8 7.9h0m.5 .8h0m.1-5.2h0m.2 6.8h0" stroke="#14574a" stroke-width="1.40" stroke-linecap="round" fill="none"/>
<path d="M479.9 903.4h0m1.6 2.1h0m1.9-.5h0m5.2 2.9h0m.6 2.1h0m1.5 4.1h0m1.2 3.9h0m1.2-3.4h0m1.5-2.1h0m0 11.5h0m1.9 5.5h0m2.2 3.1h0m.1-2.3h0m1.4-15.9h0m1.3 18.6h0m.7-.1h0m2.7-4.9h0m.3-4h0m.3 13.7h0m0-15.4h0m.3 10.1h0m1-13.4h0m.7 17.5h0m.9-15.4h0m.4 18.6h0m.5-9h0m.1-4.7h0m.1 5.9h0m.4-4.8h0m.1-1.5h0m.2 1.6h0m0 11.4h0m1.3-11.7h0m6.8-.5h0m.1 8.3h0m3-6h0m1.5 9.1h0m.1-6.6h0m4.3-1.2h0m7.2 3.3h0" stroke="#14574a" stroke-width="1.20" stroke-linecap="round" fill="none"/>
<path d="M596.2 936h0m.4 2.1h0m.5 4.8h0m.1 5.1h0m.7 15.6h0m.2-17.4h0m.3 8.5h0m0 5h0m.2-7.1h0m.1-15.2h0m.1 14.8h0m.2-9.7h0m.2 13.8h0m0-7.4h0m.1 14.5h0m.1-10.5h0m.4 10h0m.1-7.5h0m0 12.4h0m0-13.6h0m0 10.9h0m.4-17.3h0m.3 6.1h0m.1 12.4h0m.1-9.2h0m.2-14.5h0m.1 6.8h0m.2 13.1h0m.4-.3h0m.4-22.9h0m0 17.9h0m.4-10.3h0m0 15.1h0m.1-1.2h0m.3-10.2h0m.1-12.7h0m.1 8.1h0m.1-6.4h0m.3 24.1h0m.1-12h0m.2 4.8h0m.1-5h0m.1-10.6h0m.1 10h0m.1 6.4h0m.3 7.4h0m.4-13.8h0m0-9.8h0m0 10.1h0m.1-4.1h0" stroke="#2a8a9a" stroke-width="1.40" stroke-linecap="round" fill="none"/>
<path d="M599.3 936.6h0m.1 1h0m.4 4.7h0m.3-7.9h0m.8 2.7h0m.1 4h0m.2 13.5h0m.2-18.7h0m0 9.8h0m.1-1.7h0m0-2.3h0m.3 18.8h0m0-26.6h0m.2-1.1h0m0 11.4h0m.5-2.8h0m.3-3.1h0m.2-2.5h0m0 .3h0m.1-.5h0m.1 5.3h0m.1-1.1h0m.1-.9h0m.3 2.1h0m.6-7.1h0" stroke="#f5b529" stroke-width="1.40" stroke-linecap="round" fill="none"/>
<path d="M107.6 758.8C110.9 758.5 122.1 754.6 127.7 757.1C133.3 759.7 137.9 768.1 141.2 773.9C144.4 779.8 146.2 789.4 147.2 792.4" fill="none" stroke="#000" stroke-width="1.24" stroke-linecap="round"/>
<polygon points="137.0,768.7 131.2,765.1 134.8,762.2" fill="#000"/>
<path d="M80.7 807.6C83.5 803.1 91.9 786.0 97.5 780.7C103.1 775.4 108.7 775.1 114.3 775.6C119.9 776.2 126.1 779.8 131.1 784.0C136.1 788.2 142.3 798.0 144.5 800.8" fill="none" stroke="#000" stroke-width="1.24" stroke-linecap="round"/>
<polygon points="109.7,777.0 104.2,781.0 102.9,776.6" fill="#000"/>
<path d="M80.7 824.4C83.5 820.4 92.4 807.0 97.5 800.8C102.5 794.7 108.7 789.6 110.9 787.4" fill="none" stroke="#000" stroke-width="1.8599999999999999" stroke-linecap="round"/>
<polygon points="91.9,808.6 89.7,816.7 85.0,813.3" fill="#000"/>
<path d="M67.2 837.8C71.1 835.0 83.5 826.1 90.8 821.0C98.0 816.0 103.6 809.8 110.9 807.6C118.2 805.3 127.2 806.2 134.5 807.6C141.7 809.0 151.3 814.6 154.6 816.0" fill="none" stroke="#000" stroke-width="0.9299999999999999" stroke-linecap="round"/>
<polygon points="103.8,812.3 100.2,817.2 97.9,813.8" fill="#000"/>
<path d="M67.2 861.3C71.1 858.5 83.5 849.6 90.8 844.5C98.0 839.5 103.6 833.9 110.9 831.1C118.2 828.3 128.3 826.6 134.5 827.7C140.6 828.9 145.7 836.1 147.9 837.8" fill="none" stroke="#000" stroke-width="1.55" stroke-linecap="round"/>
<polygon points="104.5,835.3 100.0,841.4 97.2,837.2" fill="#000"/>
<path d="M85.7 874.8C89.4 870.3 100.0 854.6 107.6 847.9C115.1 841.2 123.8 835.6 131.1 834.5C138.4 833.3 144.0 837.5 151.3 841.2C158.5 844.8 170.9 853.8 174.8 856.3" fill="none" stroke="#000" stroke-width="1.24" stroke-linecap="round"/>
<polygon points="122.8,839.2 118.4,844.4 116.1,840.4" fill="#000"/>
<path d="M55.5 881.5C59.1 879.8 69.7 875.9 77.3 871.4C84.9 866.9 92.4 859.1 100.8 854.6C109.2 850.1 119.3 845.7 127.7 844.5C136.1 843.4 144.5 845.7 151.3 847.9C158.0 850.1 165.3 856.3 168.1 858.0" fill="none" stroke="#000" stroke-width="0.9299999999999999" stroke-linecap="round"/>
<polygon points="117.6,848.3 113.0,852.2 111.6,848.4" fill="#000"/>
<path d="M53.8 898.3C58.8 896.1 74.5 889.9 84.0 884.9C93.6 879.8 101.4 872.0 110.9 868.1C120.4 864.1 131.7 861.3 141.2 861.3C150.7 861.3 162.5 865.8 168.1 868.1C173.7 870.3 173.7 873.7 174.8 874.8" fill="none" stroke="#000" stroke-width="1.24" stroke-linecap="round"/>
<polygon points="130.0,863.8 124.2,867.5 123.2,863.0" fill="#000"/>
<path d="M53.8 915.1C58.8 912.9 73.4 907.3 84.0 901.7C94.7 896.1 106.4 886.6 117.6 881.5C128.9 876.5 141.7 872.0 151.3 871.4C160.8 870.9 170.9 877.0 174.8 878.2" fill="none" stroke="#000" stroke-width="0.9299999999999999" stroke-linecap="round"/>
<polygon points="103.9,889.8 100.1,894.4 98.0,891.0" fill="#000"/>
<path d="M82.4 908.4C86.6 906.7 100.6 901.7 107.6 898.3C114.6 895.0 121.6 889.9 124.4 888.2" fill="none" stroke="#000" stroke-width="1.8599999999999999" stroke-linecap="round"/>
<polygon points="99.5,901.5 93.3,907.1 91.2,901.8" fill="#000"/>
<path d="M33.6 947.1C39.2 944.5 56.0 938.4 67.2 931.9C78.4 925.5 90.8 915.1 100.8 908.4C110.9 901.7 123.2 894.4 127.7 891.6" fill="none" stroke="#000" stroke-width="1.24" stroke-linecap="round"/>
<polygon points="87.3,917.9 83.4,923.4 80.7,919.7" fill="#000"/>
<path d="M55.5 960.5C60.8 958.5 77.6 954.1 87.4 948.7C97.2 943.4 106.4 934.2 114.3 928.6C122.1 923.0 131.1 917.4 134.5 915.1" fill="none" stroke="#000" stroke-width="1.8599999999999999" stroke-linecap="round"/>
<polygon points="104.8,935.7 100.2,942.7 96.8,938.1" fill="#000"/>
<path d="M110.9 935.3C114.8 932.5 127.2 923.0 134.5 918.5C141.7 914.0 148.2 910.1 154.6 908.4C161.1 906.7 170.0 908.4 173.1 908.4" fill="none" stroke="#000" stroke-width="0.9299999999999999" stroke-linecap="round"/>
<polygon points="147.7,911.9 143.5,916.2 141.7,912.6" fill="#000"/>
<path d="M127.7 931.9C130.0 929.7 136.1 921.3 141.2 918.5C146.2 915.7 153.5 917.4 158.0 915.1C162.5 912.9 166.4 906.7 168.1 905.0" fill="none" stroke="#000" stroke-width="0.9299999999999999" stroke-linecap="round"/>
<polygon points="153.1,916.1 147.9,919.2 147.1,915.2" fill="#000"/>
<path d="M68.9 851.3C71.4 849.0 78.7 841.5 84.0 837.8C89.4 834.2 96.4 832.8 100.8 829.4C105.3 826.1 109.2 819.6 110.9 817.6" fill="none" stroke="#000" stroke-width="1.24" stroke-linecap="round"/>
<polygon points="96.0,831.8 91.3,836.7 89.3,832.6" fill="#000"/>
<path d="M3.4 977.3C8.4 974.8 23.5 966.9 33.6 962.2C43.7 957.4 58.8 951.0 63.9 948.7" fill="none" stroke="#000" stroke-width="0.62" stroke-linecap="round"/>
<polygon points="21.3,968.4 17.6,972.1 16.0,969.0" fill="#000"/>
<path d="M178.2 925.2C181.5 925.8 191.0 926.1 198.3 928.6C205.6 931.1 217.9 938.4 221.8 940.3" fill="none" stroke="#000" stroke-width="1.55" stroke-linecap="round"/>
<polygon points="192.6,927.6 185.2,929.0 186.0,923.9" fill="#000"/>
<path d="M144.5 931.9C147.3 932.5 155.2 932.5 161.3 935.3C167.5 938.1 174.8 944.3 181.5 948.7C188.2 953.2 193.3 958.8 201.7 962.2C210.1 965.5 226.9 967.8 231.9 968.9" fill="none" stroke="#000" stroke-width="1.24" stroke-linecap="round"/>
<polygon points="174.8,944.2 168.2,942.6 170.7,938.8" fill="#000"/>
<path d="M127.7 947.1C131.7 947.3 143.4 945.7 151.3 948.7C159.1 951.8 167.5 959.4 174.8 965.5C182.1 971.7 188.2 981.8 195.0 985.7C201.7 989.6 211.8 988.5 215.1 989.1" fill="none" stroke="#000" stroke-width="1.55" stroke-linecap="round"/>
<polygon points="166.6,959.7 159.4,957.7 162.3,953.5" fill="#000"/>
<path d="M147.9 942.0C151.8 943.1 164.1 944.8 171.4 948.7C178.7 952.7 184.3 961.1 191.6 965.5C198.9 970.0 207.3 975.1 215.1 975.6C223.0 976.2 234.7 970.0 238.7 968.9" fill="none" stroke="#000" stroke-width="0.9299999999999999" stroke-linecap="round"/>
<polygon points="184.2,959.4 178.6,957.3 181.2,954.2" fill="#000"/>
<path d="M110.9 940.3C116.0 940.6 132.8 938.4 141.2 942.0C149.6 945.7 155.2 954.9 161.3 962.2C167.5 969.5 173.1 979.6 178.2 985.7C183.2 991.9 189.4 996.9 191.6 999.2" fill="none" stroke="#000" stroke-width="1.24" stroke-linecap="round"/>
<polygon points="154.1,954.9 147.9,952.0 151.2,948.8" fill="#000"/>
<path d="M63.9 960.5C68.9 959.9 84.6 956.3 94.1 957.1C103.6 958.0 112.0 963.6 121.0 965.5C130.0 967.5 140.1 965.5 147.9 968.9C155.7 972.3 161.3 979.0 168.1 985.7C174.8 992.4 184.9 1005.3 188.2 1009.2" fill="none" stroke="#000" stroke-width="0.9299999999999999" stroke-linecap="round"/>
<polygon points="138.0,967.7 132.1,969.0 132.6,965.0" fill="#000"/>
<path d="M188.2 952.1C191.0 954.3 199.4 961.1 205.0 965.5C210.6 970.0 217.4 975.9 221.8 979.0C226.3 982.1 230.3 983.2 231.9 984.0" fill="none" stroke="#000" stroke-width="0.9299999999999999" stroke-linecap="round"/>
<polygon points="216.2,974.5 210.5,972.5 213.0,969.4" fill="#000"/>
<path d="M1.7 975.6C7.0 973.9 22.7 968.3 33.6 965.5C44.5 962.7 56.0 960.2 67.2 958.8C78.4 957.4 95.2 957.4 100.8 957.1" fill="none" stroke="#000" stroke-width="0.9299999999999999" stroke-linecap="round"/>
<polygon points="53.9,961.5 48.7,964.6 47.9,960.6" fill="#000"/>
<path d="M33.6 982.4C39.2 981.2 56.0 976.2 67.2 975.6C78.4 975.1 91.3 979.0 100.8 979.0C110.4 979.0 120.4 976.2 124.4 975.6" fill="none" stroke="#000" stroke-width="1.8599999999999999" stroke-linecap="round"/>
<polygon points="88.9,977.8 80.8,979.9 81.4,974.2" fill="#000"/>
<path d="M43.7 992.4C50.4 993.0 71.7 996.4 84.0 995.8C96.4 995.2 106.4 991.9 117.6 989.1C128.9 986.3 142.3 978.4 151.3 979.0C160.2 979.6 168.1 990.2 171.4 992.4" fill="none" stroke="#000" stroke-width="1.8599999999999999" stroke-linecap="round"/>
<polygon points="105.6,991.5 98.5,995.8 97.4,990.2" fill="#000"/>
<path d="M13.4 992.4C19.6 994.1 35.9 1000.3 50.4 1002.5C65.0 1004.8 85.7 1006.4 100.8 1005.9C116.0 1005.3 128.9 1000.8 141.2 999.2C153.5 997.5 169.2 996.4 174.8 995.8" fill="none" stroke="#000" stroke-width="1.8599999999999999" stroke-linecap="round"/>
<polygon points="80.5,1004.5 72.5,1006.8 72.9,1001.2" fill="#000"/>
<path d="M20.2 999.2C25.8 1001.4 40.3 1009.2 53.8 1012.6C67.2 1016.0 87.4 1019.9 100.8 1019.3C114.3 1018.8 122.1 1010.6 134.5 1009.2C146.8 1007.8 168.1 1010.6 174.8 1010.9" fill="none" stroke="#000" stroke-width="1.55" stroke-linecap="round"/>
<polygon points="81.7,1016.6 74.3,1018.1 75.0,1013.0" fill="#000"/>
<path d="M23.5 1009.2C28.0 1011.5 39.8 1019.3 50.4 1022.7C61.1 1026.1 76.8 1029.4 87.4 1029.4C98.0 1029.4 103.6 1022.1 114.3 1022.7C124.9 1023.2 140.6 1028.3 151.3 1032.8C161.9 1037.3 173.7 1046.8 178.2 1049.6" fill="none" stroke="#000" stroke-width="1.8599999999999999" stroke-linecap="round"/>
<polygon points="105.6,1024.9 98.7,1029.5 97.3,1024.0" fill="#000"/>
<path d="M84.0 1019.3C89.6 1019.9 107.6 1023.2 117.6 1022.7C127.7 1022.1 137.3 1017.9 144.5 1016.0C151.8 1014.0 158.5 1011.8 161.3 1010.9" fill="none" stroke="#000" stroke-width="1.8599999999999999" stroke-linecap="round"/>
<polygon points="135.8,1018.1 128.9,1022.8 127.5,1017.3" fill="#000"/>
<path d="M114.3 1016.0C117.6 1016.0 127.7 1014.8 134.5 1016.0C141.2 1017.1 146.8 1022.1 154.6 1022.7C162.5 1023.2 174.5 1021.0 181.5 1019.3C188.5 1017.6 194.1 1013.7 196.6 1012.6" fill="none" stroke="#000" stroke-width="1.24" stroke-linecap="round"/>
<polygon points="148.3,1020.6 141.5,1020.8 143.0,1016.4" fill="#000"/>
<path d="M168.1 1031.1C170.3 1030.5 176.8 1029.7 181.5 1027.7C186.3 1025.8 194.1 1020.7 196.6 1019.3" fill="none" stroke="#000" stroke-width="0.9299999999999999" stroke-linecap="round"/>
<polygon points="178.2,1028.6 173.2,1031.9 172.2,1028.0" fill="#000"/>
<path d="M3.4 992.4C3.9 997.5 4.5 1013.2 6.7 1022.7C9.0 1032.2 11.8 1042.3 16.8 1049.6C21.8 1056.9 30.3 1060.2 37.0 1066.4C43.7 1072.5 50.4 1078.7 57.1 1086.6C63.9 1094.4 73.9 1109.0 77.3 1113.4" fill="none" stroke="#000" stroke-width="1.24" stroke-linecap="round"/>
<polygon points="30.0,1060.5 23.6,1058.2 26.5,1054.7" fill="#000"/>
<path d="M15.1 1002.5C16.5 1007.0 18.8 1021.6 23.5 1029.4C28.3 1037.3 36.4 1042.9 43.7 1049.6C51.0 1056.3 58.8 1061.9 67.2 1069.7C75.6 1077.6 85.7 1088.8 94.1 1096.6C102.5 1104.5 108.7 1110.6 117.6 1116.8C126.6 1123.0 142.9 1130.8 147.9 1133.6" fill="none" stroke="#000" stroke-width="1.8599999999999999" stroke-linecap="round"/>
<polygon points="59.2,1062.9 51.4,1059.9 55.1,1055.6" fill="#000"/>
<path d="M48.7 1036.1C52.9 1038.4 66.4 1044.5 73.9 1049.6C81.5 1054.6 87.4 1059.7 94.1 1066.4C100.8 1073.1 107.6 1082.1 114.3 1089.9C121.0 1097.8 128.6 1108.1 134.5 1113.4C140.3 1118.8 147.1 1120.4 149.6 1121.8" fill="none" stroke="#000" stroke-width="2.48" stroke-linecap="round"/>
<polygon points="108.0,1082.6 99.4,1077.7 104.5,1073.3" fill="#000"/>
<path d="M75.6 1042.9C79.3 1044.5 91.0 1048.5 97.5 1052.9C103.9 1057.4 108.7 1063.0 114.3 1069.7C119.9 1076.5 125.5 1086.3 131.1 1093.3C136.7 1100.3 145.1 1108.7 147.9 1111.8" fill="none" stroke="#000" stroke-width="1.8599999999999999" stroke-linecap="round"/>
<polygon points="109.3,1064.8 101.8,1061.3 105.8,1057.3" fill="#000"/>
<path d="M23.5 1034.5C25.2 1037.0 29.1 1044.8 33.6 1049.6C38.1 1054.3 44.8 1058.0 50.4 1063.0C56.0 1068.1 61.6 1073.1 67.2 1079.8C72.8 1086.6 77.9 1096.1 84.0 1103.4C90.2 1110.6 95.8 1118.8 104.2 1123.5C112.6 1128.3 129.4 1130.5 134.5 1131.9" fill="none" stroke="#000" stroke-width="1.24" stroke-linecap="round"/>
<polygon points="61.7,1074.3 55.5,1071.4 58.8,1068.1" fill="#000"/>
<path d="M77.3 1073.1C80.1 1076.5 88.0 1086.0 94.1 1093.3C100.3 1100.6 107.6 1110.6 114.3 1116.8C121.0 1123.0 131.1 1128.0 134.5 1130.3" fill="none" stroke="#000" stroke-width="2.48" stroke-linecap="round"/>
<polygon points="108.0,1109.4 99.4,1104.6 104.5,1100.2" fill="#000"/>
<path d="M52.1 1093.3C55.2 1097.2 64.1 1109.5 70.6 1116.8C77.0 1124.1 82.9 1131.4 90.8 1137.0C98.6 1142.6 113.2 1148.2 117.6 1150.4" fill="none" stroke="#000" stroke-width="2.79" stroke-linecap="round"/>
<polygon points="85.1,1131.3 75.4,1126.8 80.6,1121.6" fill="#000"/>
<path d="M70.6 1133.6C73.9 1135.9 83.5 1143.1 90.8 1147.1C98.0 1151.0 105.9 1156.6 114.3 1157.1C122.7 1157.7 133.3 1152.1 141.2 1150.4C149.0 1148.7 158.0 1147.6 161.3 1147.1" fill="none" stroke="#000" stroke-width="1.8599999999999999" stroke-linecap="round"/>
<polygon points="107.0,1154.0 98.7,1153.6 100.9,1148.3" fill="#000"/>
<path d="M67.2 1143.7C70.0 1145.7 78.4 1152.1 84.0 1155.5C89.6 1158.8 95.2 1161.8 100.8 1163.9C106.4 1165.9 114.8 1167.2 117.6 1167.9" fill="none" stroke="#000" stroke-width="1.8599999999999999" stroke-linecap="round"/>
<polygon points="96.8,1161.9 88.5,1160.9 91.1,1155.8" fill="#000"/>
<path d="M90.8 1036.1C95.2 1037.3 109.2 1039.5 117.6 1042.9C126.1 1046.2 134.5 1050.1 141.2 1056.3C147.9 1062.5 153.5 1072.0 158.0 1079.8C162.5 1087.7 165.8 1095.0 168.1 1103.4C170.3 1111.8 170.9 1125.8 171.4 1130.3" fill="none" stroke="#000" stroke-width="0.9299999999999999" stroke-linecap="round"/>
<polygon points="151.6,1071.0 146.7,1067.5 150.0,1065.2" fill="#000"/>
<path d="M100.8 1039.5C105.3 1041.2 119.9 1044.5 127.7 1049.6C135.6 1054.6 142.3 1061.9 147.9 1069.7C153.5 1077.6 158.5 1088.2 161.3 1096.6C164.1 1105.0 164.1 1116.2 164.7 1120.2" fill="none" stroke="#000" stroke-width="0.9299999999999999" stroke-linecap="round"/>
<polygon points="140.3,1062.2 134.9,1059.6 137.7,1056.7" fill="#000"/>
<path d="M181.5 1073.1C181.8 1075.9 183.8 1084.3 183.2 1089.9C182.6 1095.5 179.3 1101.1 178.2 1106.7C177.0 1112.3 176.8 1120.7 176.5 1123.5" fill="none" stroke="#000" stroke-width="0.9299999999999999" stroke-linecap="round"/>
<polygon points="179.7,1101.7 179.3,1095.7 183.2,1096.9" fill="#000"/>
<path d="M151.3 1039.5C153.5 1041.7 161.3 1047.9 164.7 1052.9C168.1 1058.0 169.7 1061.3 171.4 1069.7C173.1 1078.2 174.5 1091.6 174.8 1103.4C175.1 1115.1 173.4 1134.2 173.1 1140.3" fill="none" stroke="#000" stroke-width="0.62" stroke-linecap="round"/>
<polygon points="169.2,1064.2 165.8,1060.3 169.0,1059.0" fill="#000"/>
<path d="M284.0 999.2C288.2 998.6 301.7 995.2 309.2 995.8C316.8 996.4 322.7 1000.3 329.4 1002.5C336.1 1004.8 346.2 1008.1 349.6 1009.2" fill="none" stroke="#000" stroke-width="0.9299999999999999" stroke-linecap="round"/>
<polygon points="322.7,1000.3 316.7,1000.4 317.9,996.6" fill="#000"/>
<path d="M297.5 1007.6C300.6 1007.0 309.5 1004.8 316.0 1004.2C322.4 1003.6 332.8 1004.2 336.1 1004.2" fill="none" stroke="#000" stroke-width="1.8599999999999999" stroke-linecap="round"/>
<polygon points="311.5,1005.0 304.3,1009.2 303.3,1003.6" fill="#000"/>
<path d="M302.5 1016.0 L319.3 1012.6" fill="none" stroke="#000" stroke-width="2.48" stroke-linecap="round"/>
<polygon points="316.6,1013.1 308.2,1018.3 306.8,1011.6" fill="#000"/>
<path d="M342.9 958.8C343.4 962.2 344.5 972.8 346.2 979.0C347.9 985.2 351.3 988.0 352.9 995.8C354.6 1003.6 355.7 1021.0 356.3 1026.1" fill="none" stroke="#000" stroke-width="0.9299999999999999" stroke-linecap="round"/>
<polygon points="350.9,990.7 346.9,986.2 350.7,984.7" fill="#000"/>
<path d="M363.0 965.5C365.8 966.1 375.9 966.7 379.8 968.9C383.8 971.1 386.6 976.2 386.6 979.0C386.6 981.8 381.0 984.6 379.8 985.7" fill="none" stroke="#000" stroke-width="0.9299999999999999" stroke-linecap="round"/>
<polygon points="385.2,976.9 380.3,973.3 383.7,971.1" fill="#000"/>
<path d="M359.7 992.4C361.3 991.9 367.5 988.0 369.7 989.1C372.0 990.2 372.5 997.5 373.1 999.2" fill="none" stroke="#000" stroke-width="1.55" stroke-linecap="round"/>
<polygon points="368.9,989.3 363.0,994.0 361.4,989.2" fill="#000"/>
<path d="M379.8 982.4C381.5 984.0 387.4 988.5 389.9 992.4C392.4 996.4 396.1 1003.1 395.0 1005.9C393.8 1008.7 385.2 1008.7 383.2 1009.2" fill="none" stroke="#000" stroke-width="0.9299999999999999" stroke-linecap="round"/>
<polygon points="393.7,1002.5 389.8,997.9 393.6,996.5" fill="#000"/>
<path d="M322.7 1022.7C324.9 1023.5 332.2 1027.5 336.1 1027.7C340.1 1028.0 343.7 1023.5 346.2 1024.4C348.7 1025.2 350.4 1031.4 351.3 1032.8" fill="none" stroke="#000" stroke-width="0.62" stroke-linecap="round"/>
<polygon points="344.1,1025.1 340.0,1028.3 338.9,1025.0" fill="#000"/>
<path d="M363.0 1034.5C364.1 1031.4 367.5 1020.7 369.7 1016.0C372.0 1011.2 375.4 1007.6 376.5 1005.9" fill="none" stroke="#000" stroke-width="0.62" stroke-linecap="round"/>
<polygon points="367.4,1022.3 367.4,1027.6 364.1,1026.4" fill="#000"/>
<path d="M458.8 817.6C458.0 821.0 453.5 831.7 453.8 837.8C454.1 844.0 457.7 847.9 460.5 854.6C463.3 861.3 466.1 871.4 470.6 878.2C475.1 884.9 484.6 892.2 487.4 895.0" fill="none" stroke="#000" stroke-width="1.24" stroke-linecap="round"/>
<polygon points="458.6,849.9 454.1,844.8 458.4,843.1" fill="#000"/>
<path d="M467.2 819.3C467.5 823.5 467.2 836.4 468.9 844.5C470.6 852.7 473.1 860.8 477.3 868.1C481.5 875.4 487.4 882.6 494.1 888.2C500.8 893.8 513.7 899.4 517.6 901.7" fill="none" stroke="#000" stroke-width="1.8599999999999999" stroke-linecap="round"/>
<polygon points="474.8,860.9 469.4,854.5 474.8,852.6" fill="#000"/>
<path d="M480.7 821.0C481.8 825.5 484.6 838.9 487.4 847.9C490.2 856.9 493.0 866.9 497.5 874.8C502.0 882.6 511.5 891.6 514.3 895.0" fill="none" stroke="#000" stroke-width="1.8599999999999999" stroke-linecap="round"/>
<polygon points="494.2,865.9 488.7,859.6 494.1,857.6" fill="#000"/>
<path d="M494.1 822.7C495.8 826.3 500.8 837.0 504.2 844.5C507.6 852.1 510.4 860.8 514.3 868.1C518.2 875.4 525.5 884.9 527.7 888.2" fill="none" stroke="#000" stroke-width="0.9299999999999999" stroke-linecap="round"/>
<polygon points="510.6,859.6 506.5,855.1 510.3,853.5" fill="#000"/>
<path d="M517.6 827.7C518.2 831.7 518.8 843.4 521.0 851.3C523.2 859.1 528.3 868.1 531.1 874.8C533.9 881.5 536.7 888.8 537.8 891.6" fill="none" stroke="#000" stroke-width="0.9299999999999999" stroke-linecap="round"/>
<polygon points="527.4,866.3 523.4,861.9 527.1,860.3" fill="#000"/>
<path d="M537.8 824.4C538.9 828.3 542.3 840.1 544.5 847.9C546.8 855.7 549.6 864.1 551.3 871.4C552.9 878.7 554.1 888.2 554.6 891.6" fill="none" stroke="#000" stroke-width="0.9299999999999999" stroke-linecap="round"/>
<polygon points="548.9,863.1 545.4,858.2 549.3,857.1" fill="#000"/>
<path d="M551.3 837.8C552.4 841.7 555.2 853.5 558.0 861.3C560.8 869.2 565.8 878.2 568.1 884.9C570.3 891.6 570.9 898.9 571.4 901.7" fill="none" stroke="#000" stroke-width="1.55" stroke-linecap="round"/>
<polygon points="564.8,877.2 559.6,871.7 564.3,869.6" fill="#000"/>
<path d="M568.1 827.7C569.7 831.7 575.4 843.4 578.2 851.3C581.0 859.1 583.2 866.4 584.9 874.8C586.6 883.2 587.7 897.2 588.2 901.7" fill="none" stroke="#000" stroke-width="1.55" stroke-linecap="round"/>
<polygon points="582.7,867.3 578.3,861.2 583.3,859.8" fill="#000"/>
<path d="M584.9 831.1C586.6 834.5 592.7 844.0 595.0 851.3C597.2 858.5 597.2 867.5 598.3 874.8C599.4 882.1 601.1 891.6 601.7 895.0" fill="none" stroke="#000" stroke-width="1.55" stroke-linecap="round"/>
<polygon points="597.3,867.4 593.7,860.7 598.8,860.0" fill="#000"/>
<path d="M505.9 816.0C509.0 815.7 516.8 815.7 524.4 814.3C531.9 812.9 542.3 808.1 551.3 807.6C560.2 807.0 570.9 809.2 578.2 810.9C585.4 812.6 590.5 813.7 595.0 817.6C599.4 821.6 602.2 827.7 605.0 834.5C607.8 841.2 610.4 850.1 611.8 858.0C613.2 865.8 613.2 877.6 613.4 881.5" fill="none" stroke="#000" stroke-width="0.9299999999999999" stroke-linecap="round"/>
<polygon points="589.9,815.6 583.8,815.4 585.3,811.6" fill="#000"/>
<path d="M524.4 807.6C528.3 807.0 541.2 807.0 547.9 804.2C554.6 801.4 559.7 795.8 564.7 790.8C569.7 785.7 575.9 776.8 578.2 773.9" fill="none" stroke="#000" stroke-width="0.62" stroke-linecap="round"/>
<polygon points="558.7,795.5 555.9,800.0 553.8,797.3" fill="#000"/>
<path d="M605.0 861.3C605.6 865.8 608.4 879.3 608.4 888.2C608.4 897.2 606.2 907.3 605.0 915.1C603.9 923.0 602.2 931.9 601.7 935.3" fill="none" stroke="#000" stroke-width="1.24" stroke-linecap="round"/>
<polygon points="606.2,905.6 604.7,899.0 609.3,899.6" fill="#000"/>
<path d="M453.8 851.3C455.5 855.2 459.9 866.9 463.9 874.8C467.8 882.6 471.7 891.6 477.3 898.3C482.9 905.0 489.6 910.1 497.5 915.1C505.3 920.2 519.9 926.3 524.4 928.6" fill="none" stroke="#000" stroke-width="0.9299999999999999" stroke-linecap="round"/>
<polygon points="472.3,889.6 467.8,885.7 471.3,883.7" fill="#000"/>
<path d="M477.3 901.7C481.8 901.4 494.1 899.4 504.2 900.0C514.3 900.6 526.6 901.4 537.8 905.0C549.0 908.7 561.9 915.7 571.4 921.8C581.0 928.0 591.0 938.7 595.0 942.0" fill="none" stroke="#000" stroke-width="0.9299999999999999" stroke-linecap="round"/>
<polygon points="524.5,903.0 518.6,904.2 519.2,900.2" fill="#000"/>
<path d="M484.0 915.1C488.5 915.1 500.8 913.4 510.9 915.1C521.0 916.8 533.3 920.7 544.5 925.2C555.7 929.7 569.7 938.1 578.2 942.0C586.6 945.9 592.2 947.6 595.0 948.7" fill="none" stroke="#000" stroke-width="0.9299999999999999" stroke-linecap="round"/>
<polygon points="531.1,921.2 525.1,921.5 526.3,917.6" fill="#000"/>
<path d="M480.7 928.6C485.7 929.1 500.3 929.7 510.9 931.9C521.6 934.2 533.3 939.2 544.5 942.0C555.7 944.8 572.5 947.6 578.2 948.7" fill="none" stroke="#000" stroke-width="1.55" stroke-linecap="round"/>
<polygon points="532.0,938.3 524.4,938.7 525.9,933.7" fill="#000"/>
<path d="M487.4 942.0C492.4 943.1 507.0 946.8 517.6 948.7C528.3 950.7 539.5 952.7 551.3 953.8C563.0 954.9 582.1 955.2 588.2 955.5" fill="none" stroke="#000" stroke-width="1.55" stroke-linecap="round"/>
<polygon points="538.9,951.9 531.4,953.4 532.2,948.3" fill="#000"/>
<path d="M497.5 955.5C502.0 956.3 514.3 958.8 524.4 960.5C534.5 962.2 545.7 964.7 558.0 965.5C570.3 966.4 591.6 965.5 598.3 965.5" fill="none" stroke="#000" stroke-width="1.24" stroke-linecap="round"/>
<polygon points="545.1,963.6 538.5,964.9 539.1,960.4" fill="#000"/>
<path d="M504.2 965.5C508.7 966.7 521.0 970.9 531.1 972.3C541.2 973.7 554.1 974.5 564.7 973.9C575.4 973.4 589.9 969.7 595.0 968.9" fill="none" stroke="#000" stroke-width="1.24" stroke-linecap="round"/>
<polygon points="551.9,973.3 545.4,975.3 545.6,970.7" fill="#000"/>
<path d="M490.8 975.6C494.1 976.8 503.1 980.7 510.9 982.4C518.8 984.0 527.7 985.7 537.8 985.7C547.9 985.7 560.8 984.6 571.4 982.4C582.1 980.1 596.6 973.9 601.7 972.3" fill="none" stroke="#000" stroke-width="0.9299999999999999" stroke-linecap="round"/>
<polygon points="527.9,984.5 522.0,985.8 522.5,981.8" fill="#000"/>
<path d="M531.1 991.8C535.0 991.6 546.8 991.8 554.6 990.8C562.5 989.7 574.2 986.6 578.2 985.7" fill="none" stroke="#000" stroke-width="0.9299999999999999" stroke-linecap="round"/>
<polygon points="546.4,991.1 540.8,993.4 540.6,989.3" fill="#000"/>
<path d="M473.9 921.8C475.1 925.8 478.4 938.7 480.7 945.4C482.9 952.1 485.2 956.6 487.4 962.2C489.6 967.8 493.0 976.2 494.1 979.0" fill="none" stroke="#000" stroke-width="0.9299999999999999" stroke-linecap="round"/>
<polygon points="485.4,957.1 481.4,952.6 485.1,951.1" fill="#000"/>
<path d="M463.9 891.6C465.0 894.4 468.9 902.2 470.6 908.4C472.3 914.6 473.4 925.2 473.9 928.6" fill="none" stroke="#000" stroke-width="1.24" stroke-linecap="round"/>
<polygon points="468.7,903.7 464.2,898.6 468.5,896.9" fill="#000"/>
<path d="M420.2 997.5C423.0 995.5 430.8 989.9 437.0 985.7C443.1 981.5 450.4 976.2 457.1 972.3C463.9 968.3 473.9 963.9 477.3 962.2" fill="none" stroke="#000" stroke-width="1.8599999999999999" stroke-linecap="round"/>
<polygon points="451.1,976.3 446.2,983.0 443.0,978.3" fill="#000"/>
<path d="M431.9 1002.5C435.0 1000.8 444.0 995.8 450.4 992.4C456.9 989.1 465.0 985.7 470.6 982.4C476.2 979.0 481.8 973.9 484.0 972.3" fill="none" stroke="#000" stroke-width="1.8599999999999999" stroke-linecap="round"/>
<polygon points="464.9,985.2 459.1,991.3 456.6,986.2" fill="#000"/>
<path d="M426.9 975.6C430.3 973.9 440.9 968.9 447.1 965.5C453.2 962.2 458.8 958.3 463.9 955.5C468.9 952.7 475.1 949.9 477.3 948.7" fill="none" stroke="#000" stroke-width="1.24" stroke-linecap="round"/>
<polygon points="458.9,958.4 454.6,963.7 452.2,959.8" fill="#000"/>
<path d="M408.4 975.6C409.8 976.8 413.2 983.5 416.8 982.4C420.4 981.2 424.6 973.4 430.3 968.9C435.9 964.4 447.1 957.7 450.4 955.5" fill="none" stroke="#000" stroke-width="0.62" stroke-linecap="round"/>
<polygon points="425.7,973.4 423.5,978.2 421.0,975.7" fill="#000"/>
<path d="M431.9 984.0C435.0 983.2 444.0 981.5 450.4 979.0C456.9 976.5 467.2 970.6 470.6 968.9" fill="none" stroke="#000" stroke-width="1.24" stroke-linecap="round"/>
<polygon points="445.0,980.5 439.5,984.4 438.3,979.9" fill="#000"/>
<path d="M112.3 766.9C115.6 766.6 126.8 762.7 132.4 765.2C138.0 767.7 142.6 776.1 145.9 782.0C149.1 787.9 150.9 797.4 151.9 800.5" fill="none" stroke="#000" stroke-width="0.744" stroke-linecap="round"/>
<polygon points="141.2,776.2 136.5,773.2 139.4,770.9" fill="#000"/>
<path d="M85.4 815.6C88.2 811.1 96.6 794.1 102.2 788.7C107.8 783.4 113.4 783.1 119.0 783.7C124.6 784.3 130.8 787.9 135.8 792.1C140.8 796.3 147.0 806.1 149.2 808.9" fill="none" stroke="#000" stroke-width="0.744" stroke-linecap="round"/>
<polygon points="113.7,785.3 109.2,788.6 108.2,785.0" fill="#000"/>
<path d="M85.4 832.4C88.2 828.5 97.1 815.1 102.2 808.9C107.2 802.7 113.4 797.7 115.6 795.5" fill="none" stroke="#000" stroke-width="0.744" stroke-linecap="round"/>
<polygon points="95.7,818.0 94.2,823.4 91.1,821.2" fill="#000"/>
<path d="M71.9 845.9C75.9 843.1 88.2 834.1 95.5 829.1C102.7 824.0 108.3 817.9 115.6 815.6C122.9 813.4 131.9 814.2 139.2 815.6C146.4 817.0 156.0 822.6 159.3 824.0" fill="none" stroke="#000" stroke-width="0.744" stroke-linecap="round"/>
<polygon points="108.3,820.5 104.9,825.0 102.9,821.9" fill="#000"/>
<path d="M71.9 869.4C75.9 866.6 88.2 857.6 95.5 852.6C102.7 847.6 108.3 842.0 115.6 839.2C122.9 836.4 133.0 834.7 139.2 835.8C145.3 836.9 150.4 844.2 152.6 845.9" fill="none" stroke="#000" stroke-width="0.744" stroke-linecap="round"/>
<polygon points="108.3,844.1 104.9,848.5 102.9,845.4" fill="#000"/>
<path d="M90.4 882.9C94.1 878.4 104.7 862.7 112.3 856.0C119.8 849.2 128.5 843.6 135.8 842.5C143.1 841.4 148.7 845.6 156.0 849.2C163.2 852.9 175.6 861.8 179.5 864.4" fill="none" stroke="#000" stroke-width="0.744" stroke-linecap="round"/>
<polygon points="126.9,847.6 123.2,851.8 121.4,848.6" fill="#000"/>
<path d="M60.2 889.6C63.8 887.9 74.5 884.0 82.0 879.5C89.6 875.0 97.1 867.2 105.5 862.7C113.9 858.2 124.0 853.7 132.4 852.6C140.8 851.5 149.2 853.7 156.0 856.0C162.7 858.2 170.0 864.4 172.8 866.1" fill="none" stroke="#000" stroke-width="0.744" stroke-linecap="round"/>
<polygon points="122.1,856.5 117.8,860.1 116.5,856.6" fill="#000"/>
<path d="M58.5 906.4C63.5 904.1 79.2 898.0 88.7 892.9C98.3 887.9 106.1 880.1 115.6 876.1C125.2 872.2 136.4 869.4 145.9 869.4C155.4 869.4 167.2 873.9 172.8 876.1C178.4 878.4 178.4 881.7 179.5 882.9" fill="none" stroke="#000" stroke-width="0.744" stroke-linecap="round"/>
<polygon points="134.0,872.1 129.2,875.0 128.4,871.4" fill="#000"/>
<path d="M58.5 923.2C63.5 921.0 78.1 915.4 88.7 909.7C99.4 904.1 111.1 894.6 122.4 889.6C133.6 884.5 146.4 880.1 156.0 879.5C165.5 878.9 175.6 885.1 179.5 886.2" fill="none" stroke="#000" stroke-width="0.744" stroke-linecap="round"/>
<polygon points="108.4,898.0 104.8,902.3 102.9,899.1" fill="#000"/>
<path d="M87.1 916.5C91.3 914.8 105.3 909.7 112.3 906.4C119.3 903.0 126.3 898.0 129.1 896.3" fill="none" stroke="#000" stroke-width="0.744" stroke-linecap="round"/>
<polygon points="102.7,910.2 98.5,913.9 97.1,910.4" fill="#000"/>
<path d="M38.3 955.1C43.9 952.6 60.7 946.4 71.9 940.0C83.1 933.6 95.5 923.2 105.5 916.5C115.6 909.7 128.0 902.5 132.4 899.7" fill="none" stroke="#000" stroke-width="0.744" stroke-linecap="round"/>
<polygon points="91.4,926.4 88.2,930.9 86.1,927.8" fill="#000"/>
<path d="M60.2 968.6C65.5 966.6 82.3 962.1 92.1 956.8C101.9 951.5 111.1 942.2 119.0 936.6C126.8 931.0 135.8 925.4 139.2 923.2" fill="none" stroke="#000" stroke-width="0.744" stroke-linecap="round"/>
<polygon points="108.2,944.8 105.1,949.4 102.9,946.4" fill="#000"/>
<path d="M115.6 943.4C119.6 940.6 131.9 931.0 139.2 926.6C146.4 922.1 152.9 918.2 159.3 916.5C165.8 914.8 174.7 916.5 177.8 916.5" fill="none" stroke="#000" stroke-width="0.744" stroke-linecap="round"/>
<polygon points="152.2,920.0 148.3,924.1 146.7,920.7" fill="#000"/>
<path d="M132.4 940.0C134.7 937.8 140.8 929.4 145.9 926.6C150.9 923.8 158.2 925.4 162.7 923.2C167.2 921.0 171.1 914.8 172.8 913.1" fill="none" stroke="#000" stroke-width="0.744" stroke-linecap="round"/>
<polygon points="157.5,924.2 152.7,927.1 152.0,923.4" fill="#000"/>
<path d="M10.1 987.1C10.6 992.1 11.2 1007.8 13.4 1017.3C15.7 1026.8 18.5 1036.9 23.5 1044.2C28.6 1051.5 37.0 1054.8 43.7 1061.0C50.4 1067.2 57.1 1073.3 63.9 1081.2C70.6 1089.0 80.7 1103.6 84.0 1108.1" fill="none" stroke="#000" stroke-width="0.806" stroke-linecap="round"/>
<polygon points="36.2,1054.8 30.8,1052.8 33.3,1049.8" fill="#000"/>
<path d="M21.8 997.1C23.2 1001.6 25.5 1016.2 30.3 1024.0C35.0 1031.9 43.1 1037.5 50.4 1044.2C57.7 1050.9 65.5 1056.5 73.9 1064.4C82.4 1072.2 92.4 1083.4 100.8 1091.3C109.2 1099.1 115.4 1105.3 124.4 1111.4C133.3 1117.6 149.6 1125.4 154.6 1128.2" fill="none" stroke="#000" stroke-width="0.806" stroke-linecap="round"/>
<polygon points="64.7,1056.5 59.4,1054.4 61.9,1051.5" fill="#000"/>
<path d="M55.5 1030.8C59.7 1033.0 73.1 1039.2 80.7 1044.2C88.2 1049.2 94.1 1054.3 100.8 1061.0C107.6 1067.7 114.3 1076.7 121.0 1084.5C127.7 1092.4 135.3 1102.7 141.2 1108.1C147.1 1113.4 153.8 1115.1 156.3 1116.5" fill="none" stroke="#000" stroke-width="0.806" stroke-linecap="round"/>
<polygon points="113.1,1075.3 108.2,1072.5 111.1,1070.0" fill="#000"/>
<path d="M82.4 1037.5C86.0 1039.2 97.8 1043.1 104.2 1047.6C110.6 1052.0 115.4 1057.6 121.0 1064.4C126.6 1071.1 132.2 1080.9 137.8 1087.9C143.4 1094.9 151.8 1103.3 154.6 1106.4" fill="none" stroke="#000" stroke-width="0.806" stroke-linecap="round"/>
<polygon points="115.0,1058.3 109.8,1055.9 112.5,1053.2" fill="#000"/>
<path d="M30.3 1029.1C31.9 1031.6 35.9 1039.4 40.3 1044.2C44.8 1049.0 51.5 1052.6 57.1 1057.6C62.7 1062.7 68.3 1067.7 73.9 1074.5C79.6 1081.2 84.6 1090.7 90.8 1098.0C96.9 1105.3 102.5 1113.4 110.9 1118.2C119.3 1122.9 136.1 1125.2 141.2 1126.6" fill="none" stroke="#000" stroke-width="0.806" stroke-linecap="round"/>
<polygon points="67.9,1068.4 62.8,1066.0 65.5,1063.3" fill="#000"/>
<path d="M84.0 1067.7C86.8 1071.1 94.7 1080.6 100.8 1087.9C107.0 1095.2 114.3 1105.3 121.0 1111.4C127.7 1117.6 137.8 1122.6 141.2 1124.9" fill="none" stroke="#000" stroke-width="0.806" stroke-linecap="round"/>
<polygon points="113.1,1102.2 108.2,1099.4 111.1,1096.9" fill="#000"/>
<path d="M58.8 1087.9C61.9 1091.8 70.9 1104.1 77.3 1111.4C83.8 1118.7 89.6 1126.0 97.5 1131.6C105.3 1137.2 119.9 1142.8 124.4 1145.0" fill="none" stroke="#000" stroke-width="0.806" stroke-linecap="round"/>
<polygon points="89.8,1123.9 84.6,1121.4 87.3,1118.7" fill="#000"/>
<path d="M77.3 1128.2C80.7 1130.5 90.2 1137.8 97.5 1141.7C104.8 1145.6 112.6 1151.2 121.0 1151.8C129.4 1152.3 140.1 1146.7 147.9 1145.0C155.7 1143.4 164.7 1142.2 168.1 1141.7" fill="none" stroke="#000" stroke-width="0.806" stroke-linecap="round"/>
<polygon points="112.3,1148.1 106.6,1147.7 108.1,1144.2" fill="#000"/>
<path d="M73.9 1138.3C76.8 1140.3 85.2 1146.7 90.8 1150.1C96.4 1153.4 102.0 1156.4 107.6 1158.5C113.2 1160.6 121.6 1161.8 124.4 1162.5" fill="none" stroke="#000" stroke-width="0.806" stroke-linecap="round"/>
<polygon points="102.2,1155.8 96.5,1155.1 98.2,1151.7" fill="#000"/>
<path d="M97.5 1030.8C102.0 1031.9 116.0 1034.1 124.4 1037.5C132.8 1040.8 141.2 1044.8 147.9 1050.9C154.6 1057.1 160.2 1066.6 164.7 1074.5C169.2 1082.3 172.5 1089.6 174.8 1098.0C177.0 1106.4 177.6 1120.4 178.2 1124.9" fill="none" stroke="#000" stroke-width="0.806" stroke-linecap="round"/>
<polygon points="158.3,1065.4 153.6,1062.2 156.7,1059.9" fill="#000"/>
<path d="M107.6 1034.1C112.0 1035.8 126.6 1039.2 134.5 1044.2C142.3 1049.2 149.0 1056.5 154.6 1064.4C160.2 1072.2 165.3 1082.9 168.1 1091.3C170.9 1099.7 170.9 1110.9 171.4 1114.8" fill="none" stroke="#000" stroke-width="0.806" stroke-linecap="round"/>
<polygon points="146.9,1056.7 141.8,1054.2 144.5,1051.5" fill="#000"/>
<path d="M473.3 821.3C473.6 825.5 473.3 838.4 475.0 846.6C476.6 854.7 479.2 862.8 483.4 870.1C487.6 877.4 497.4 886.9 500.2 890.3" fill="none" stroke="#000" stroke-width="0.744" stroke-linecap="round"/>
<polygon points="480.3,861.4 476.7,857.1 480.2,855.8" fill="#000"/>
<path d="M486.7 823.0C487.8 827.5 490.6 841.0 493.4 849.9C496.2 858.9 501.8 872.3 503.5 876.8" fill="none" stroke="#000" stroke-width="0.744" stroke-linecap="round"/>
<polygon points="490.9,839.7 487.8,835.0 491.4,834.1" fill="#000"/>
<path d="M500.2 824.7C501.8 828.3 506.9 839.0 510.3 846.6C513.6 854.1 518.7 866.2 520.3 870.1" fill="none" stroke="#000" stroke-width="0.744" stroke-linecap="round"/>
<polygon points="506.6,838.6 502.7,834.6 506.1,833.1" fill="#000"/>
<path d="M523.7 829.7C524.3 833.7 524.8 845.4 527.1 853.3C529.3 861.1 535.5 872.9 537.1 876.8" fill="none" stroke="#000" stroke-width="0.744" stroke-linecap="round"/>
<polygon points="525.8,844.8 523.3,839.8 526.9,839.3" fill="#000"/>
<path d="M543.9 826.4C545.0 830.3 548.3 842.1 550.6 849.9C552.8 857.8 556.2 869.5 557.3 873.4" fill="none" stroke="#000" stroke-width="0.744" stroke-linecap="round"/>
<polygon points="548.1,841.3 544.9,836.8 548.5,835.7" fill="#000"/>
<path d="M557.3 839.8C558.4 843.8 561.2 855.5 564.0 863.4C566.8 871.2 572.4 883.0 574.1 886.9" fill="none" stroke="#000" stroke-width="0.744" stroke-linecap="round"/>
<polygon points="561.6,854.8 558.3,850.2 561.9,849.2" fill="#000"/>
<path d="M574.1 829.7C575.8 833.7 581.4 845.4 584.2 853.3C587.0 861.1 589.8 872.9 590.9 876.8" fill="none" stroke="#000" stroke-width="0.744" stroke-linecap="round"/>
<polygon points="580.5,844.5 576.7,840.4 580.1,839.0" fill="#000"/>
<path d="M590.9 833.1C592.6 836.5 598.8 846.0 601.0 853.3C603.2 860.6 603.8 872.9 604.4 876.8" fill="none" stroke="#000" stroke-width="0.744" stroke-linecap="round"/>
<polygon points="597.4,846.1 593.4,842.3 596.7,840.6" fill="#000"/>
<path d="M511.9 818.0C515.0 817.7 522.9 817.7 530.4 816.3C538.0 814.9 548.3 810.1 557.3 809.6C566.3 809.0 576.9 811.3 584.2 812.9C591.5 814.6 596.5 815.7 601.0 819.7C605.5 823.6 608.3 829.7 611.1 836.5C613.9 843.2 616.7 856.1 617.8 860.0" fill="none" stroke="#000" stroke-width="0.744" stroke-linecap="round"/>
<polygon points="574.0,811.7 568.6,812.9 569.0,809.2" fill="#000"/>
<text x="1.2" y="754.6" font-size="38.5" fill="#231f20" font-weight="bold">D</text>
<circle cx="409.4" cy="1058.0" r="6.9" fill="#3b80c4"/>
<text x="430.3" y="1065.8" font-size="22.2" fill="#000">Non-metastatic</text>
<circle cx="409.4" cy="1083.6" r="6.9" fill="#14574a"/>
<text x="430.3" y="1091.4" font-size="22.2" fill="#000">Distant</text>
<circle cx="409.4" cy="1110.3" r="6.9" fill="#f5b529"/>
<text x="430.3" y="1118.1" font-size="22.2" fill="#000">Peritumoral</text>
<circle cx="409.4" cy="1136.3" r="6.9" fill="#d81b60"/>
<text x="430.3" y="1144.1" font-size="22.2" fill="#000">Tumor</text>
<line x1="768.3" y1="745.9" x2="768.3" y2="1150.1" stroke="#e3e3e3" stroke-width="1.0"/>
<line x1="861.7" y1="745.9" x2="861.7" y2="1150.1" stroke="#e3e3e3" stroke-width="1.0"/>
<line x1="955.1" y1="745.9" x2="955.1" y2="1150.1" stroke="#e3e3e3" stroke-width="1.0"/>
<line x1="1048.5" y1="745.9" x2="1048.5" y2="1150.1" stroke="#e3e3e3" stroke-width="1.0"/>
<line x1="703.8" y1="819.5" x2="1106.1" y2="819.5" stroke="#e3e3e3" stroke-width="1.0"/>
<line x1="703.8" y1="912.2" x2="1106.1" y2="912.2" stroke="#e3e3e3" stroke-width="1.0"/>
<line x1="703.8" y1="1005.0" x2="1106.1" y2="1005.0" stroke="#e3e3e3" stroke-width="1.0"/>
<line x1="703.8" y1="1097.7" x2="1106.1" y2="1097.7" stroke="#e3e3e3" stroke-width="1.0"/>
<line x1="721.6" y1="745.9" x2="721.6" y2="1150.1" stroke="#d6d6d6" stroke-width="1.6"/>
<line x1="721.6" y1="1150.1" x2="721.6" y2="1153.6" stroke="#9a9ea2" stroke-width="1.2"/>
<text x="721.1" y="1171.3" font-size="19" fill="#4d4d4d" text-anchor="middle">−4</text>
<line x1="815.0" y1="745.9" x2="815.0" y2="1150.1" stroke="#d6d6d6" stroke-width="1.6"/>
<line x1="815.0" y1="1150.1" x2="815.0" y2="1153.6" stroke="#9a9ea2" stroke-width="1.2"/>
<text x="814.5" y="1171.3" font-size="19" fill="#4d4d4d" text-anchor="middle">−2</text>
<line x1="908.4" y1="745.9" x2="908.4" y2="1150.1" stroke="#d6d6d6" stroke-width="1.6"/>
<line x1="908.4" y1="1150.1" x2="908.4" y2="1153.6" stroke="#9a9ea2" stroke-width="1.2"/>
<text x="909.4" y="1171.3" font-size="19" fill="#4d4d4d" text-anchor="middle">0</text>
<line x1="1001.8" y1="745.9" x2="1001.8" y2="1150.1" stroke="#d6d6d6" stroke-width="1.6"/>
<line x1="1001.8" y1="1150.1" x2="1001.8" y2="1153.6" stroke="#9a9ea2" stroke-width="1.2"/>
<text x="1002.8" y="1171.3" font-size="19" fill="#4d4d4d" text-anchor="middle">2</text>
<line x1="1095.2" y1="745.9" x2="1095.2" y2="1150.1" stroke="#d6d6d6" stroke-width="1.6"/>
<line x1="1095.2" y1="1150.1" x2="1095.2" y2="1153.6" stroke="#9a9ea2" stroke-width="1.2"/>
<text x="1096.2" y="1171.3" font-size="19" fill="#4d4d4d" text-anchor="middle">4</text>
<line x1="703.8" y1="773.1" x2="1106.1" y2="773.1" stroke="#d6d6d6" stroke-width="1.6"/>
<line x1="700.3" y1="773.1" x2="703.8" y2="773.1" stroke="#9a9ea2" stroke-width="1.2"/>
<text x="680.3" y="779.4" font-size="19" fill="#4d4d4d" text-anchor="middle">5.0</text>
<line x1="703.8" y1="865.9" x2="1106.1" y2="865.9" stroke="#d6d6d6" stroke-width="1.6"/>
<line x1="700.3" y1="865.9" x2="703.8" y2="865.9" stroke="#9a9ea2" stroke-width="1.2"/>
<text x="680.3" y="872.1" font-size="19" fill="#4d4d4d" text-anchor="middle">2.5</text>
<line x1="703.8" y1="958.6" x2="1106.1" y2="958.6" stroke="#d6d6d6" stroke-width="1.6"/>
<line x1="700.3" y1="958.6" x2="703.8" y2="958.6" stroke="#9a9ea2" stroke-width="1.2"/>
<text x="680.3" y="964.9" font-size="19" fill="#4d4d4d" text-anchor="middle">0.0</text>
<line x1="703.8" y1="1051.3" x2="1106.1" y2="1051.3" stroke="#d6d6d6" stroke-width="1.6"/>
<line x1="700.3" y1="1051.3" x2="703.8" y2="1051.3" stroke="#9a9ea2" stroke-width="1.2"/>
<text x="680.3" y="1057.6" font-size="19" fill="#4d4d4d" text-anchor="middle">−2.5</text>
<line x1="703.8" y1="1144.1" x2="1106.1" y2="1144.1" stroke="#d6d6d6" stroke-width="1.6"/>
<line x1="700.3" y1="1144.1" x2="703.8" y2="1144.1" stroke="#9a9ea2" stroke-width="1.2"/>
<text x="680.3" y="1150.4" font-size="19" fill="#4d4d4d" text-anchor="middle">−5.0</text>
<path d="M890.5 968.3h0m16.2-52.7h0m1.1 9.6h0m14 20h0m1.6-3.5h0m2.1-12.3h0m.7 2.4h0m.6 0h0m.4 10.7h0m1.1-.5h0m.1-19.5h0m.1 19.5h0m2.2 7.7h0m1.2-35.6h0m2.5 22.5h0m2.5-6.8h0m1.1-18.4h0m0-4.7h0m.6 41.4h0m2.1-14.2h0m.5-19.5h0m.4 3.1h0m.1-14.4h0m.6 1.9h0m.7 16.8h0m0-18.8h0m.7-3.9h0m.6 30.1h0m.3 14.2h0m.1-44.6h0m.1 35.4h0m.7-30.4h0m.3 13.3h0m.1-11.7h0m.4 38.9h0m0-45.1h0m.3 36.1h0m.1-31.2h0m.1 26.4h0m.1 27h0m.3-2.9h0m0-14.6h0m.1-21.1h0m.2 12.5h0m0 26.6h0m.2 0h0m.2-5.4h0m.1-42h0m.7 59.9h0m0-38h0m.1 39.3h0m0-15.7h0m.2-35.6h0m.1 30.1h0m.3 5.1h0m.5-44.6h0m0 5.2h0m.1-6.9h0m.1-1.4h0m.2 69.2h0m.3-55.8h0m.4 21.4h0m.1-24.9h0m0 18.6h0m.4-27.4h0m.1 11.2h0m.1 8.9h0m.1-27.1h0m.1 34.8h0m0 31.8h0m.1-54h0m0 26.1h0m0-8h0m.1-3.7h0m.2-21.8h0m.2-3.8h0m.4 57.1h0m.4-38.4h0m0 5.6h0m0-27.6h0m.1 74.3h0m.3-61.1h0m.2 14.1h0m.1-28.7h0m0 84.5h0m.1-24.8h0m.1-20.7h0m.5 40h0m.1-26.9h0m.1-22.7h0m0-7.2h0m.3-14.8h0m.1 68.6h0m.1-54.9h0m0 8.2h0m.1 8.5h0m0-24.4h0m0 45.9h0m.3-52.5h0m0 57.8h0m.2-11.8h0m.2-58h0m0 60.8h0m0 7.4h0m.7-43.3h0m0 14.8h0m.1-4.5h0m.4-22.5h0m.1 36.8h0m.1-39.5h0m.2 30.1h0m.4 13.5h0m.3-55.8h0m0 2.3h0m.1 7.4h0m.4 26.3h0m.1-31.7h0m.1 60h0m.1-23.6h0m.3 11.5h0m.6 17.1h0m0-26.7h0m.3-23.7h0m.1 2.4h0m0 26.3h0m.4 10.7h0m.3-22.8h0m0 15.3h0m.3 12.6h0m0-15.2h0m.1 31.7h0m.3-74h0m.1 44.9h0m.2-2.2h0m.3 9.8h0m.3-13.5h0m.5-33.9h0m.3 51.3h0m.4-21.4h0m.2 11.2h0m.3-10.2h0m.1-21.6h0m.4 11.1h0m.1 25.8h0m0-31.8h0m.2 3.8h0m.1 12.3h0m0 14.1h0m.5-44.7h0m.1 18.1h0m.5 29.3h0m.2-54.2h0m0 38.8h0m.3-29h0m.5 43.9h0m.1-26.2h0m0-23h0m.1 30.4h0m.3-3.7h0m0 10h0m.1-11.5h0m.3 9.8h0m.4 16.2h0m0-14.1h0m.2-1.5h0m.4 13.1h0m0-45.9h0m.5 35.7h0m.7-43.9h0m.4 52.9h0m.4 1h0m.3-4.7h0m.2-5.3h0m2.9-24.6h0m.8 29.4h0m17.2-11.5h0m1.3 4.8h0m1.4-1.7h0m0-4.4h0m.9 .9h0m.1-.8h0m4.2-8.5h0m.1 4.7h0m1.7-1.7h0m.8 16.2h0m1.1 .7h0m.4-5.5h0m2-12.6h0m.1 13.9h0m1 4.8h0m.3 15.4h0m0-2.5h0m.1-19.5h0m0 19.9h0m.2 6.5h0m1.1-20.9h0m.4 3.7h0m0-6.8h0m.1-8.8h0m.3 10.4h0m1.2 7.5h0m.2-19.5h0m.1-6.3h0m.2 36.2h0m.5-2.6h0m.1 3.4h0m.6-35.8h0m0 38h0m0-21.9h0m.7 17.7h0m.2 2h0m.6-15h0m.3-16h0m.1 34.3h0m.6-3.8h0m.4-7.3h0m.1 5.2h0m.2-2.6h0m0 3.7h0m0 .9h0m.8-17.3h0m.3-23.8h0m.4 19.8h0m1-3.7h0m.4 23.8h0m.1-40.5h0m.3 16.2h0m.2 15.9h0m.1-22.8h0m.4 24.4h0m.1 6.1h0m.2-.3h0m.1-11.4h0m0-4h0m.1-.6h0m.4 10.4h0m.1-11.5h0m.4-6.4h0m.1 24.5h0m.1-30.6h0m.2-6.1h0m.6 35.7h0m0-33.1h0m.7-6.7h0m.1 31.6h0m.6-24.8h0m1.1 33.5h0m.2-3.4h0m.1-35.4h0m0 33.7h0m1.8 2.3h0m.1-.1h0m.3-32.7h0m.1 33.6h0m.6-16.6h0m1.1 10.5h0m0 4.3h0m.2 1.4h0m.5-9.4h0m.4-20h0m0 25.7h0m.2 .2h0m.1-18.7h0m.3 7.8h0m.1-23.9h0m.2-.2h0m.1 36.2h0m.3-6.3h0m.6-10h0m.5 13.5h0m.3-7.4h0m.3 10.8h0m0-14.9h0m0-6.1h0m.3 23.4h0m.1-2.1h0m.2-22.7h0m.6-17.5h0m.5 38.5h0m.1 .8h0m.1-36.4h0m.3 34.6h0m.1 .3h0m.1-38h0m0 8.2h0m.2-10.6h0m.1 17.9h0m.7 15.5h0m0-12.7h0m.1 19h0m.1-6.3h0m.6-10.5h0m.4 20.4h0m.6-25.7h0m.6-13.1h0m.7-4h0m.4 24.7h0m0 16.1h0m.2-11.5h0m0-5.1h0m.1-2.9h0m.1 7.3h0m.5 15.1h0m.3-18.2h0m.2-15.3h0m0 18.4h0m.1-26.5h0m0 38.9h0m.1 1.5h0m0-17.9h0m1.3 .1h0m.3 16.9h0m0-6.2h0m.2 6.7h0m.2-21.5h0m1.3 4.9h0m.6 9.4h0m.2 8.5h0m.1-37.3h0m.1 35h0m.1-2h0m0-21.4h0m.5 20.3h0m.7-32.1h0m.1 3.7h0m.3 29.5h0m.5-2.1h0m.9-33.5h0m.1-2.8h0m.1 22.9h0m0 1.9h0m.1 8.7h0m.1 .9h0m.2-29.2h0m.4 29.1h0m.2-6.5h0m.3-1.2h0m.3-18.2h0m0-4.7h0m0 27.1h0m.1-19.1h0m.8 21.7h0m.1-7.2h0m0 8.1h0m.8-3.5h0m.3 5.5h0m0-13.7h0m.6 1.5h0m0 9.6h0m0-7.5h0m.5-23.6h0m0 17.4h0m.1 6h0m.3-44h0m2 41.7h0m.6 4.4h0m.3-4.1h0m1.2-7.9h0m19.6-63.2h0m4.3 1.1h0m2.2-12.9h0" stroke="#10b4e4" stroke-width="2.80" stroke-linecap="round" fill="none"/>
<path d="M855 1027.5h0m4.3 12.9h0m59.2-26.9h0m21.7 2.6h0m.3-1.4h0m.2 1.2h0m2.6-26.1h0m.5 25.8h0m.9 1.5h0m0 3.8h0m3.6-.1h0m1.5 1h0m.4 1.6h0m1-1.9h0m.5-.1h0m.9 1.9h0m1.4-.4h0m3.7 3.1h0m1.4 .5h0m1.6 25.4h0m.1-4.1h0m.3 .5h0m1.1-.8h0m.2 .8h0m.2-2.2h0m.1-.3h0m0 3.5h0m.5-1.4h0m.1-1.3h0m.9-3.6h0m.3-12.1h0m0 12.5h0m0 2.4h0m.5-9.1h0m.1 7.3h0m.1-13.2h0m.1 12.2h0m0-26.1h0m.1-1.3h0m.3 22.3h0m0-1.1h0m.1 4h0m.6-14.1h0m0 .3h0m.1 6h0m0 4.9h0m.2-16.4h0m.1 2.3h0m0 16h0m.1-3.5h0m.2-8.8h0m.1 8.1h0m0-12.4h0m.1-2.8h0m0 11.8h0m0-10h0m.2-3.5h0m0 18.9h0m.1-19.8h0m0 11.4h0m.1-8.3h0m0 6.4h0m.1 11.6h0m0-3.4h0m.3-21.2h0m.1 19h0m0 1.6h0m.2-17.4h0m0 2.4h0m.1 18.3h0m.8-9.8h0m.2 11.4h0m.1-10.2h0m0 1.2h0" stroke="#688cc8" stroke-width="2.80" stroke-linecap="round" fill="none"/>
<path d="M883 1103.2h0m124.9-298.5h0m3.2 3.3h0m3.2 1h0m12.9 64.6h0m1.5-39.1h0m2.9 43.4h0m.7-38.5h0m1 49.3h0m1.1-46.9h0m1-24.5h0m.5 35.5h0m.6-21.8h0m.3 8.5h0m.3-22.6h0m.2 35.1h0m.2-46.2h0m.3 54.2h0m.1-19.4h0m.2-12.2h0m0 3.6h0m.4-19.3h0m.1 9.6h0m.5-9.5h0m.3 27.1h0m0 20.5h0m.2-7h0m0-8.2h0m.1-9.3h0m.1-15.9h0m.2 24.4h0m0-.5h0m.3-26.4h0m0-.8h0m.3 10.1h0m.1-5.4h0m.6-.5h0m.1-6.7h0m.1 24.5h0m.3-4.5h0m.1 21.8h0m0 2.5h0m.4-.1h0m.2-21h0m.5-21h0m.2 8.3h0m0 2.6h0m0 27h0m.1-8.2h0m.1-2.1h0m0-19.9h0m.8 1.2h0m.4 21.2h0m.2-2.3h0m.2 15.1h0m0-23.1h0m.1-11.4h0m.1-16.3h0m.6 44.4h0m.9-30.5h0m.1-4.7h0m0 25.2h0m.1-.8h0m.2-19h0m0-12.2h0m1.4 15.3h0m.4 17.7h0m.2-23.6h0m.2 29.9h0m.2-22.2h0m0 16.5h0m0-4.8h0m.2 9.3h0m.3 6.1h0m0-23h0m.1-12.2h0m.5 9.5h0m0 28.4h0m0-30.5h0m.4 26.6h0m1-25.2h0m.2-13.3h0m1.1 40.3h0m.3-10.2h0m.5-8.5h0m.5 26.5h0m0 1.4h0m.1-36.7h0m.2 53.5h0m0-28.6h0m.1 28.1h0m0-8h0m0 14h0m.1-13.5h0m0 10.4h0m.3-21.3h0m.1 14.3h0m.1-5.8h0m0 3.3h0m.4 7.1h0m.1-1.9h0m.1-60.5h0m0 64h0m.1-60.6h0m0 53.6h0m0-1.3h0m.1-20.3h0m.2 2h0m.1 21.5h0m.3-45.9h0m.3-13.7h0m.2 8.8h0m.4 16h0m0-24.3h0m.1 33.8h0m.2-27h0m.3 21.6h0m.2-11.5h0m.8 25.7h0m.1-16.1h0m.2-22.8h0m.2 16.6h0m0 17.4h0m1 8h0m.1-38.8h0m.1 0h0m.3 44h0m.1-23.7h0m0 14.4h0m.4-25.1h0m.4 9.7h0m.4-.9h0m.2 5h0m.1-20.6h0m.3 22.1h0m.1-4.9h0m.1 3.3h0m0 11.5h0m.5-26h0m.2-9.4h0m.2 22.3h0m0-28.8h0m.2 25.5h0m0-10.5h0m.1 8.1h0m.2 2.8h0m.1-3.3h0m.4 4.6h0m.7 2.2h0m0-1.5h0m.1 5.6h0m0-12h0m.2 3.3h0m.3-2.3h0m.2 15h0m.1-9.5h0m.1-2h0m.3-23.3h0m.5 9.6h0m.2 18.8h0m0-.9h0m0-20.3h0m.1 5h0m.2 12.1h0m0 11.8h0m.1-25.1h0m.1 18.2h0m0-3.6h0m.1 12.9h0m.2-4.4h0m.1-17.3h0m.6 9.3h0m.3 3h0m0-4.5h0m.1 4h0m.4-2.6h0m.2 4.4h0m.1-13.2h0m0 16.7h0m.2-2.8h0m.1-2.9h0m.2 2.9h0m.2-4.6h0m.1 5.4h0m.2-5.3h0m.3 2.2h0m0-3.3h0m.1-8h0m.1 8.3h0m.5 18.7h0m.2-12.7h0m.5 .3h0m.1-3h0m0 1.4h0m.2 2.6h0m0 2.6h0m.1-14.4h0m.1 15.7h0m0-8.3h0m.1 .9h0m.3-2.3h0m.1-15.9h0m0 20.3h0m.6 1.8h0m.1-2.5h0m0-4.6h0m.4 6.2h0m.2-8.9h0m.1 7.2h0m.3 2.4h0m.3-18.6h0m.1 17.1h0m.1-2.5h0m.2 .1h0m.3 1.4h0m.1 1.7h0m.1-9.5h0m.6 6.8h0m.4 4.6h0m0 1h0m.9-6.2h0m.1 5.8h0m.9-1.5h0m.1 .2h0m1 4.1h0m.5-13.8h0m.3 12.4h0m.1-2.4h0m.2 3.4h0m.1-3h0m.2 1.7h0m.6-2.8h0m.1 3.4h0m.1-2h0m0 1.3h0m1.7-4.8h0m.3 7.1h0m.3-6.9h0" stroke="#e670a4" stroke-width="2.80" stroke-linecap="round" fill="none"/>
<path d="M774.9 1076h0m3.3-8.5h0m4.7 14.6h0m.9-.4h0m1.1-5.1h0m1.1-21h0m.9 29.1h0m1.3-21.5h0m.2 6.8h0m2.2-13.8h0m1.3 7.9h0m.5 1.1h0m.1 22.7h0m.3-20.8h0m.1 3.8h0m.9 2.3h0m.5 1.7h0m1.2-4.8h0m1.2 1.2h0m1 .6h0m.1-16.8h0m.3-2.2h0m.6 8.3h0m1.1 17.3h0m.2-17.8h0m.7-13.1h0m.6 .8h0m.3 6.7h0m.2 4.5h0m.1 24.4h0m.5-17.5h0m.7 9.7h0m1-20.3h0m.1 21.5h0m1.7-13.1h0m1.2-3h0m.3 .9h0m1.1 12.6h0m2.7-21.7h0m.3 6.3h0m.2 12.7h0m.8-12.2h0m.5 19.1h0m.4-29.3h0m.2 26.7h0m.6-18.2h0m.4 27.8h0m.5-6.3h0m0-4.9h0m.3 .3h0m1.1 2.3h0m.2-10h0m.1 2.2h0m.2 14.6h0m.4-27.2h0m.3 3.8h0m.5 25.3h0m.5-17.5h0m.1-17.1h0m0-2.1h0m.5 32.6h0m.2-13.8h0m.8 9.2h0m.2-25.7h0m0 15.7h0m.2-6.4h0m.6 15.2h0m1.2 .6h0m.3-6.3h0m0 5.8h0m.1-2.8h0m.1-21h0m0 4.8h0m.2 32.5h0m1.7-26h0m.3-21h0m.3 18.4h0m.5-.6h0m.3-5.1h0m0 36.3h0m.6-38.6h0m.1 29.6h0m.3-9.4h0m.6 8.7h0m.9-8.1h0m.2-19.9h0m.2-5h0m1.7-4.3h0m.2 9.3h0m.2 11h0m1.4-18.3h0m.1 43.7h0m0-29.1h0m1.4 5.5h0m.2-16.9h0m1.2 8.7h0m.2-8.2h0m.4-4h0m.2 4.1h0m.5 31.1h0m1.3-8.3h0m.3-7.4h0m.2-6.3h0m.1-1.9h0m.8 1h0m.1-8.9h0m.4 49.4h0m.2-36.4h0m.1-12.8h0m1 38.3h0m.3-15.4h0m0 33h0m.4-5.9h0m.6-22.9h0m.6-16.5h0m1.3-12h0m0 54h0m1.2-30.5h0m0 14.6h0m.1 9.6h0m.2-10.6h0m0-12.5h0m0-9.8h0m0 48.5h0m.1-38.2h0m.3 32h0m.4-21h0m.8-16.5h0m.2-1.6h0m.2 44.4h0m.5-16.6h0m.1-31.6h0m.1-.5h0m.1 23h0m.3 24.1h0m.7-55.1h0m.2 60.4h0m.2-26.2h0m.3-22.9h0m.4 14.6h0m.1-4.9h0m0-26.4h0m.4 35.9h0m.2 .5h0m0-4.1h0m.1-4.4h0m.2-5.1h0m.4 31.3h0m.2-22.8h0m.2-27.6h0m0 54.1h0m.7-3.7h0m.1-36.4h0m.1 34.1h0m.2-48.3h0m.2 64.2h0m.2-65.3h0m1.3 54.7h0m0 10.1h0m.1 13.7h0m.2-4.1h0m.5-75.7h0m0 60.8h0m.5-19.9h0m0 39h0m.3-46.8h0m.1 45h0m.2-49.2h0m.3 39h0m.1-52.3h0m0 65.5h0m.1-73.4h0m.1 73h0m.1-3h0m.6-33.2h0m0 34.2h0m0 .9h0m.1-18.7h0m.1 19.2h0m.1 1.4h0m.2-2.2h0m0-9.5h0m.1-67.9h0m.1 54.8h0m.1 .9h0m.1 6.2h0m.1 15.2h0m.4-1.1h0m.1-52.2h0m0 53.9h0m.1-.4h0m.1 3.2h0m0-4.5h0m.1-73h0m.1 59.1h0m.1-47h0m.4 63.4h0m.1-3.7h0m.2 3.4h0m0-.2h0m.1-25.7h0m.1 25.1h0m.1-40h0m0 24.5h0m.4 14.5h0m.2-17.7h0m.6 18.4h0m0-.2h0m.4-28.1h0m.8-34.8h0m.1 3.8h0m.1-7h0m.5-.8h0m.2 42.3h0m.2-53.4h0m1.1 12h0m0 30h0m.1-34.3h0m0 9.3h0m.4 38.5h0m0-58.8h0m.2 30h0m.4-19.8h0m.1 44.4h0m.4 5.2h0m.2-41.3h0m.7 1.6h0m.3 15.3h0m.3-29.2h0m.3 39.8h0m.5-12.8h0m.1 15.9h0m0-22.4h0m.4 9.1h0m1.2 2h0m.1-24.5h0m.4-9.6h0m.2 6.9h0m0 1h0m.2 48.9h0m.5-19.4h0m.5-3.5h0m.3-27.9h0m.1 20.1h0m.1-8.8h0m0-16.3h0m.3 36.7h0m.3-17.5h0m.3-20h0m.1 9.3h0m.3 18.3h0m.1-27.8h0m.5 40.8h0m.1-35.3h0m.1 28.1h0m.3-2.1h0m.1 6.2h0m.9-6.8h0m0 11.7h0m3.1-16.7h0m.4-27.2h0m.2 17.9h0m.1 2.5h0m1.1-4.9h0m.3 .6h0m.6-11.8h0m.3 16.4h0m.3 .5h0m1-9.7h0m.5 21.3h0m.5-17h0m.3 8.7h0m.1 5.2h0m.3-24.6h0m.4 9.3h0m.1-2.1h0m.7 8h0m2.3-18.6h0m.3 19.5h0m.3-1.7h0m.5 8.3h0m3.1-19.6h0" stroke="#1aa850" stroke-width="2.80" stroke-linecap="round" fill="none"/>
<path d="M776.3 1013.5h0m2 2h0m1.3 14.1h0m.9-17.3h0m.9 14.6h0m.9 .9h0m.3-18.6h0m.9 5.3h0m1.9 9.2h0m2.3-3.6h0m.3-15.8h0m.7 30h0m.1 5.3h0m.3-31.2h0m.5 24.4h0m.1 19.3h0m.4-29.5h0m.6 13.9h0m.8-24h0m0-1.2h0m.3 10.2h0m0-8.9h0m.1-8.3h0m.9 38.8h0m.3-12.3h0m.9-16.2h0m1.1 10.2h0m.1 23.5h0m.9-20.4h0m.7-4.6h0m.1-17h0m0 20h0m.2 .7h0m.2 16.7h0m.1-3.1h0m.1 8.3h0m.4-32.5h0m.2 12.1h0m.5 13.1h0m.3-18.5h0m.1 4.1h0m.1 27.3h0m.5-28.4h0m.2-5.6h0m1.6-13.8h0m.4 36.9h0m1-9.5h0m0 11.1h0m.1-26.7h0m0-7.5h0m.4 24.5h0m1.1-13.2h0m.4-7h0m.1-5.7h0m1.1 34.1h0m1.5-37.1h0m.4 2.8h0m.1 1.3h0m.2 11.6h0m.2-12.1h0m.1 13.2h0m.5 13.9h0m.5-1.5h0m.5-2.8h0m.5 12.2h0m.2-14.9h0m.5-22.3h0m.2 .5h0m.3 28.8h0m.3-31.2h0m.7 39.9h0m.3-.5h0m1.1-31.6h0m.4-1.4h0m1.3 22.5h0m1.2-13.3h0m.7-4.4h0m.2 26.7h0m.4-1.6h0m1-9.2h0m2-9.5h0m.7-5.6h0m.3 24.4h0m.9-18.6h0m.5-2h0m.3-11.2h0m.3 19.3h0m.5-17h0m1.2 14.3h0m.1-7.1h0m1.5-.6h0m1.2 18h0m.7-18.8h0m.1-4.6h0m.3 4.5h0m.8-12.4h0m.1 10.5h0m0 1.2h0m0 1.5h0m.1 20.6h0m1-23h0m.2 7.8h0m.4 10.7h0m.7-11.9h0m1.7 16.2h0m1.4-6.1h0m.9-.5h0m.7 3h0m0-17.7h0m.8 2.1h0m0 6.3h0m.6 3.9h0m0 4h0m.2 4.5h0m0-4.1h0m.8 1.5h0m1.7-14.8h0m0 20.5h0m0-2.3h0m.6-16.6h0m0 23.1h0m.1-6.1h0m.3-6.6h0m.1-6.6h0m0 15.4h0m3.6-14.6h0m.6 8.1h0m.6 5h0m.3-17.8h0m.1-5.4h0m10.8 20.3h0m.3 7.2h0m1-113.8h0m1.1 6.2h0m10.9-5.1h0m3.1-3h0m.3-2.5h0m.1 3.6h0m2.6-9h0m1.9 7.7h0m3-3.2h0m2-10.1h0m3.1 9.3h0m1-.9h0m1.6-2.7h0m.6-2.3h0m1 .5h0m2.7-4.4h0m1.1-2.5h0m.7 4.8h0m.2-5h0m.7-3.9h0m5.7-5.9h0m2.3 6.8h0m1.7 2.7h0m.9-7.2h0m1.3-2.4h0m7.4 39.2h0m19.4 19.3h0m4.3 50.6h0m4.3-35.5h0m2.2-30.1h0m15.1-101.2h0m0 159.3h0m12.9-158.2h0m23.7 65.6h0" stroke="#85a83e" stroke-width="2.80" stroke-linecap="round" fill="none"/>
<path d="M743 1032.8h0m4.4-1h0m90.2-55.5h0m1.6 6.2h0m1.6-1.3h0m.8-4.7h0m.6-7.5h0m.5 17.8h0m.5-18.3h0m.1 10.1h0m1-15.2h0m.8 4.6h0m0-1h0m2.7 1.5h0m.4 8.7h0m0-15.5h0m.2 9.4h0m0 13.1h0m1.3-8.9h0m.2-18h0m.3 18.5h0m.2-8.3h0m.2 5.1h0m.1-13.2h0m.4-4h0m.1 34.5h0m.3 6.4h0m.4-14.9h0m.4-19.1h0m0 24.7h0m.4 3.4h0m.4-34.9h0m.2 10.4h0m.5 27.8h0m.4-44.2h0m.8 11.1h0m.4 16.6h0m.2 3.3h0m.3-2.4h0m.1-34.8h0m.1 18.7h0m.3-9.5h0m.1 42.7h0m.3-12h0m.2-5.9h0m.5 23.6h0m.1-19.3h0m.4-25.6h0m0 21.9h0m1-15h0m.3 3.4h0m.5 36.2h0m.1-57.1h0m.2 12.5h0m.3 17.6h0m0 21.4h0m.2-9.1h0m.3-2.1h0m0-23.1h0m.1 5.5h0m.1-15.5h0m.2 11.6h0m0-14.1h0m.2 2.4h0m0-4.3h0m0 31.3h0m0-30.7h0m.1-4.1h0m.4 2.4h0m.1 45h0m.2-54.7h0m0 9.2h0m.3 2.6h0m.2-11.9h0m.3 44.6h0m.1-2.8h0m.1-8.6h0m.1 13h0m.7 .6h0m0-27h0m.1-9.2h0m.1-2.4h0m.1 21h0m0-21.8h0m.1 10.2h0m.1 44.3h0m0-24h0m.1-32.2h0m.1 52.3h0m.1 3h0m.1-28.7h0m.8 .1h0m.1-.6h0m.1-26.8h0m.5 21.1h0m0 5.4h0m.5-1.7h0m.2 16.7h0m0-34h0m.1 35.3h0m0 15.1h0m.3-12.2h0m.1 12.9h0m0-18.8h0m.4-5.8h0m0 15.3h0m0-29.5h0m0 8.8h0m.2 30.7h0m.5-33.3h0m.1-31.7h0m.1 29.1h0m.1 .9h0m.3 32.4h0m.5-26.6h0m.3 14.5h0m.1-27.8h0m0 4.8h0m.5-15h0m.4-4.7h0m.3 34.7h0m0 1.2h0m.2-38.8h0m.2 30h0m0 31.1h0m.2-13h0m.4 1.6h0m.3-42.8h0m.3 20.8h0m.6 14.1h0m0-14.3h0m.2-4.6h0m.1 20.2h0m0-15.8h0m0-11.7h0m.4-.8h0m.1-8.6h0m.5 2h0m.8 4.6h0m.1 8.6h0m0 10h0m.1 13.7h0m.2-25.7h0m.5 15.6h0m.5 15h0m1.4-6.7h0m.2-10h0m.2 19.1h0m.6-5.5h0m.5-5.8h0m.7 7.4h0m1-24.3h0m1 3.6h0m.4 .8h0m.4 26.8h0m.2-21h0m.5-11.8h0m0 19.6h0m1.2-7.9h0m.1 41.6h0m.1-29.1h0m.5 28.3h0m.4-45.3h0m0 33.8h0m.3-39.6h0m.1 48h0m.2-44.4h0m.1 68.2h0m.3-36.9h0m.2 13.6h0m.1-1.6h0m.6 4.9h0m.6-2.3h0m.4 15.9h0m0-34.7h0m.2-28.9h0m0 17.4h0m.2 36.3h0m.1-28.5h0m0 27h0m.1-12.9h0m0-16.3h0m.4-13.5h0m.4 42.1h0m.1-23.9h0m.2-12.2h0m.1-4h0m.4 8.2h0m.2-15.5h0m.1 42.7h0m.3 12.2h0m.2-25.6h0m.1 14.3h0m0 10.1h0m0-33.5h0m.2 14.5h0m1 11.8h0m0-16.3h0m.6 18h0m.4-3.1h0m.1 .9h0m.2-1h0m.1-23.8h0m.2 21.7h0m.3-7.4h0m.2-7h0m0-1.1h0m.1-10.9h0m0 4h0m.2 25.5h0m.1 1.8h0m0-.4h0m.1 7h0m.1-6.5h0m.3-20.1h0m.1-6.9h0m.1 7.3h0m.1 19.6h0m.2 .4h0m0-6.7h0m.1 6.5h0m.1-.7h0m.1 6.3h0m.2-58.4h0m.1 48.6h0m0 2.6h0m0 .1h0m0-.2h0m.3-29.3h0m0-8.6h0m0 8.9h0m.1 29.3h0m0-4.8h0m.1 3.8h0m.1-5.5h0m0-36.6h0m.1 37.6h0m.2-.3h0m0 3.6h0m.3 3.9h0m.7-38.5h0m.1 38.3h0m.1-45.9h0m.1 26.2h0m.1 31h0m.1-18h0m0 5.4h0m0 1.9h0m0-11.7h0m.2-32.5h0m.2-.1h0m.2 46h0m.1-23.2h0m.1 15.7h0m.2-.1h0m.1 15.7h0m.1-13.8h0m.7-26.2h0m.1 5.6h0m1-6h0m.1 74.6h0m.1-91.5h0m0 35.1h0m.2-28.6h0m.1 4h0m.4 3.5h0m.2 12.4h0m.1 1.5h0m.1-2.3h0m.7-15.5h0m.8-9.9h0m.5 9.2h0m.5 12.4h0m.2 1.6h0m.4-9h0m.1 15.7h0m.2-16.7h0m.3-13.4h0m.7 12.5h0m.2-5.7h0m.3-10.6h0m.5 3.1h0m0 13.7h0m1.1-10.6h0m.4 12.5h0m1.3-4h0m.1-12.6h0m.1 .5h0m1.9 10.4h0m.1-11.8h0m1.7 10.1h0m.6 2.8h0m.9-7.6h0m2.5 29.5h0m.1-7.5h0m3 4h0m.7-.7h0m1.6 2.9h0m.4-5.2h0m1.4-2.5h0m0 2.6h0m3.1 .4h0m1.6 2.5h0m.5-6.1h0m.3 .1h0m1.9 .6h0m.6-5.3h0m2.2-3.4h0m.2 4.5h0m2.1-2.5h0m.7-6.4h0m.5 3.7h0m1-4h0m4.7-4.5h0m.7 .9h0m.2 .9h0m.2-8.2h0m.4 .7h0m.4 0h0m2.5 3.7h0m.3-4.2h0m.3 1.3h0m.2 1.5h0" stroke="#a576a8" stroke-width="2.80" stroke-linecap="round" fill="none"/>
<path d="M729.6 1064.9h0m.1 6.5h0m.9 2h0m.1 1.1h0m.9-.4h0m.2-11.7h0m1.9 15.5h0m0-4h0m0-.5h0m.1 .7h0m.1 2.9h0m.3-21.5h0m.4 18.4h0m.1 2.5h0m.1-4.2h0m.1 1.9h0m.1-.9h0m.1 .5h0m0 2.1h0m.1 .9h0m.2-3.1h0m.3-5.9h0m.8 7.1h0m.1-19.3h0m.1 17.3h0m.2 .4h0m0 3.3h0m0-4.5h0m.2 6.3h0m.3-.4h0m.2-27.5h0m0-1.6h0m0 28.7h0m.5 .7h0m0-7.4h0m.1 6.2h0m1.1-3.8h0m.2 1.9h0m.1-18.9h0m.7-5.4h0m.6-5.4h0m.5 31.3h0m.2-20.6h0m.6-.8h0m0 24.2h0m.4-5.9h0m.1 2.5h0m.1-.6h0m0-11.4h0m.1 10.2h0m.7-.6h0m.5 1.4h0m.1-32.6h0m.2 30.8h0m1.3-9.7h0m0-5.8h0m.1 17.4h0m.1-29.2h0m.5 20h0m.5 11.8h0m.4-16.9h0m.2-12.1h0m.2 3.5h0m.2 16.2h0m.2-21.5h0m.4 4.9h0m.6-22.1h0m.1 35.8h0m.3-11.7h0m.5-16.5h0m.2 2.8h0m.1 19h0m.2-1.3h0m.2 2.3h0m.1-14.5h0m.6 9.4h0m.2 2.5h0m.1 2.1h0m.5-23.7h0m.1 11.1h0m.2-.2h0m.1 5.5h0m.1 1.4h0m.5-12.2h0m.1 2.7h0m0 14.8h0m.2 .5h0m.1 8.9h0m.2-15.8h0m.2-15.7h0m.1-5.3h0m.2 9.5h0m.2-6.3h0m0 6.9h0m0-5.7h0m.9-10.2h0m.1 32h0m.1-17h0m.1-2.4h0m.5-12.2h0m.1 34.9h0m.2-2.9h0m.5-19.9h0m0 18.7h0m0-5.5h0m.2-7.2h0m.1 8.3h0m0-12.7h0m.1-4.4h0m.5 17.5h0m0-2.2h0m.1-18.7h0m.1 1.9h0m.3-8.3h0m.1 7.3h0m.4 25.3h0m.2-6.5h0m.2-8.3h0m0-1.7h0m.4 24.3h0m.3-2.9h0m.2-6.5h0m.2-10h0m.1-2h0m.2 13.9h0m.1-9.2h0m.1-14.3h0m.4 23.5h0m.2-1.7h0m.5-26.2h0m.2 19.3h0m.3-11.7h0m.2-6h0m.2-3.8h0m.6 53.7h0m.1-51.8h0m.3 30.8h0m.2-30.3h0m.1 20.7h0m.3-20.9h0m.3 22.1h0m0-1.9h0m.4-25.3h0m.3 34.9h0m.5 8.5h0m.2-3.4h0m.2 3h0m.2-44.4h0m.1 33.6h0m.1-15.3h0m.3 10.4h0m.2 8.6h0m.6 6.8h0m.3-18.9h0m.6-.2h0m.4 4.7h0m.1-22.6h0m.3 21h0m.2-20.8h0m0 36.9h0m.7-26.7h0m.1 15.9h0m.2 4.1h0m.3-20.2h0m.1 24.5h0m.1-23.3h0m.3 25.6h0m.1-9.1h0m.2-25.3h0m.2-4.7h0m.5 33.6h0m.2-9h0m.3 10.3h0m0-5.8h0m.2 3.8h0m.1-13.7h0m1.6 4.8h0m.4 10.7h0m.1-5.6h0m0 11.2h0m.7-25.4h0m1.4 28.2h0m1-17.5h0m.6 9.4h0m.2 12.3h0m.4-26.4h0m.3 .6h0m.3 23.3h0m1.4-11.6h0m.4-2.4h0m.1 5.6h0m.5-14.4h0m0 9.2h0m1-3.5h0m.6 4.6h0m1.3-3.6h0m0-4.3h0m.1 10.8h0m.2 7.1h0m.4-.1h0m0-18.2h0m.5 6.7h0m.1-3.2h0m.4 .9h0m.5-2.8h0m15.4 18.8h0m23.7-94.7h0m12.9 35.6h0m10.8 1h0m19.4 6.5h0m10.7 0h0" stroke="#d0902c" stroke-width="2.80" stroke-linecap="round" fill="none"/>
<path d="M929 889.8h0m1.7 3.2h0m.5-2.6h0m2 1.3h0m1-2.7h0m.8 .3h0m4.4-3.1h0m.6 1.5h0m1-1.4h0m.1 3.7h0m.1-2.7h0m.8-4.4h0m1.3-1h0m1.9 4h0m2.3-18.1h0m.2 1.1h0m.1 11.5h0m0-12.8h0m1.9-2.2h0m1.3 17.1h0m.7-17.9h0m.1 2.5h0m.4-6.4h0m.4 3.5h0m.1 1.6h0m.5-3.6h0m.1 3.8h0m.2-3.2h0m0 3.6h0m.5-1.6h0m.2 2.7h0m.4 12.6h0m.1-16.9h0m.1 4.6h0m.5-2.5h0m.2-2.6h0m0 7.9h0m0-6.6h0m.1 .1h0m0-2.3h0m.1 2.9h0m.1-6h0m0 9.2h0m0 .8h0m.1-14.7h0m.4 9.3h0m.1 4.7h0m.3-5.4h0m.1 5.6h0m.2-1.1h0m.4-1.4h0m.1 1.7h0m.1-2.9h0m.1-5.3h0m.3 7.3h0m0-17.1h0m.1 3.3h0m.4 12.4h0m.9-4.4h0m.4 8.3h0m.3-6.6h0m.3-.4h0m.8 6.9h0m.7-.6h0m.8-14.8h0m0 .9h0m.1 3h0m.1-1.3h0m0 14h0m1.6-22.2h0m.5 18.6h0m1.3-102.4h0m1-1.1h0m.5 85.9h0m1.7 2h0m.3-79.8h0m1.5-2h0m.1 74.3h0m1-72.8h0m.1 1.8h0m.8-4.3h0m0 7.1h0m.3-8.2h0m.1 14.1h0m.2 2.4h0m.7-6.3h0m0 28.8h0m.1-26.9h0m.1 1.4h0m.4 53.2h0m.1-64.3h0m.3 9.6h0m0-1.4h0m0-4h0m.2 24.1h0m.1-18.1h0m.7 17.8h0m.2-15.1h0m.6 17.7h0m0-5.2h0m.1-4.8h0m.3 13.8h0m0-1h0m.1-.5h0m0-8.6h0m.3-.2h0m1.6-2h0m.5-3.6h0m.2-3.5h0m.9 6.7h0m1.6 61.1h0m.3-4.2h0m.4 1.4h0m.1 2h0m1.1-.3h0m1.2-6.4h0m.4 6.2h0m2.6-6.6h0m.4 3.9h0m.4-4.6h0m.4 .7h0m.4 2.2h0m.1 .2h0m.1-9.1h0m.2 7.9h0m.5-8.9h0m.1-2.4h0m.2 .2h0m.5-38.9h0m.2 1.9h0m.3 39h0m.2 4.3h0m.3-5.7h0m0 7.8h0m.2-11.1h0m.1 9.1h0m0-11.7h0m.3 9.7h0m.5-42.4h0m.4-.9h0m.3-1.7h0m.2 16.7h0m.1 13.7h0m.3 9.7h0m.3-4.2h0m.1 3.1h0m.1-8.7h0m.1-2.8h0m0-24.6h0m.4 37.7h0m.2-20.2h0m.1 10.1h0m.2-26.8h0m.3 .8h0m.1 16h0m0 17.3h0m.1-8.2h0m.1-9h0m.1-17.1h0m.7 16.8h0m.1 8.4h0m.3 1.3h0m.1-17.4h0m.2 5.6h0m0 9.4h0m.4-4.6h0m.3-.9h0m.6 6.4h0m.3-9.6h0m.6-13h0m.3 120.3h0m.4-6.1h0m.7-10.3h0m0 6.8h0m.2-107.4h0m.7 .8h0m.6-3.5h0m.3 2.8h0m.5 2.6h0m2.4 103.9h0m2.3-6.5h0m0 1.4h0m.2-5.4h0m.9-3.7h0m.4 7.2h0m.9-26.5h0m.2 20.2h0m.1-14.8h0m.3-4.6h0m.4 12.8h0m0 .5h0m1.5 10.2h0m.6-12.4h0m.5-.4h0m.6-.7h0m1.3-12.7h0m.2 8.9h0m.1-3.2h0m.6-1.3h0m.2 2.6h0m.1-2.1h0m0-3.2h0m.5-.1h0m0 10.3h0m.1-11.6h0m.3 5.9h0m.2-10.2h0m.3 9.6h0m0 2.4h0m0-1.8h0m.1-5.3h0m.2 6.2h0m0-4.9h0m0 .2h0m.4 1.5h0m.6-.5h0m.2-4.8h0m.3 6h0m.3 2.5h0m.4 2.4h0m0-.6h0m.2-5.2h0m0 2.8h0m.1 2.6h0m.4-4.1h0m.1 .5h0m.3-4.3h0m.2 2.3h0m.6 .1h0m.4-1.5h0m.1 5.1h0m.7-4h0m1.1 4h0m.5-6.7h0m1.5 4h0" stroke="#10a585" stroke-width="2.80" stroke-linecap="round" fill="none"/>
<path d="M721.6 819.2h0m.1-1.1h0m.6-.6h0m.3 2h0m.1-1.2h0m1 1.3h0m.3-.2h0m.9 1.8h0m.3 .4h0m.6-1.2h0m.1 1.7h0m.3-.9h0m.5 .7h0m.7 .4h0m.2-.4h0m.3 3.2h0m.3-.9h0m.6 52.5h0m.1-1.7h0m.5-50.9h0m1.2 52.1h0m.1-51.6h0m.5 1h0m.2 .6h0m.1 47.9h0m.6-48.4h0m.4 1.6h0m.4-.2h0m.7 46.9h0m.4-45.7h0m.5 46.7h0m.1-46.1h0m.4 45.8h0m.2-.8h0m.2 2.5h0m.5-1.2h0m.1-1.4h0m.3-43.5h0m.2 .4h0m.2 43h0m.6 2h0m.2-.9h0m.6-43.4h0m.1 1.3h0m.2-.1h0m.7 43.8h0m.3-42.5h0m0 .8h0m.1 .1h0m.1 41.4h0m.4-2.2h0m1.1-37.1h0m.4-.5h0m.2 40.4h0m.8-37.8h0m.1-.6h0m.5 36.8h0m.5-.9h0m0 .8h0m.6-32.1h0m1.1 29h0m.1-23.5h0m0 26.8h0m.3-1.4h0m0-26.3h0m.8 25.9h0m.2-24.9h0m.1-1h0m0 25.9h0m.1-26.9h0m.3 3.3h0m1.8 19.2h0m1.1 1.6h0m0-1.8h0m.5 1.3h0m101.2 62.6h0m6.4 2.1h0m36.6 24.3h0m17.3 11.2h0m106.5-65.6h0m5.4 5.4h0" stroke="#e8736c" stroke-width="2.80" stroke-linecap="round" fill="none"/>
<rect x="703.8" y="745.9" width="402.3" height="404.2" fill="none" stroke="#a9aeb2" stroke-width="2"/>
<text x="761.4" y="849.3" font-size="26" fill="#231f20" text-anchor="middle" font-weight="bold">1</text>
<text x="745.9" y="1086.2" font-size="26" fill="#231f20" text-anchor="middle" font-weight="bold">2</text>
<text x="790.9" y="1012.3" font-size="26" fill="#231f20" text-anchor="middle" font-weight="bold">3</text>
<text x="846.4" y="1091.6" font-size="26" fill="#231f20" text-anchor="middle" font-weight="bold">4</text>
<text x="982.1" y="834.7" font-size="26" fill="#231f20" text-anchor="middle" font-weight="bold">5</text>
<text x="1008.6" y="949.0" font-size="26" fill="#231f20" text-anchor="middle" font-weight="bold">6</text>
<text x="979.9" y="1045.9" font-size="26" fill="#231f20" text-anchor="middle" font-weight="bold">7</text>
<text x="881.5" y="963.0" font-size="26" fill="#231f20" text-anchor="middle" font-weight="bold">8</text>
<text x="1039.1" y="856.9" font-size="26" fill="#231f20" text-anchor="middle" font-weight="bold">9</text>
<text x="721.0" y="786.3" font-size="19.6" fill="#000">vascular smooth muscle cells</text>
<text x="721.0" y="809.3" font-size="19.8" fill="#000" font-style="italic">MCAM, ACTA2</text>
<text x="720.5" y="903.7" font-size="19.4" fill="#000">pericytes</text>
<text x="720.5" y="926.9" font-size="19.4" fill="#000" font-style="italic">RGS5, STEAP4</text>
<path d="M1023.0 1121.8V1135.8H1037.0" fill="none" stroke="#231f20" stroke-width="1"/>
<polygon points="1023.0,1113.6 1016.5,1125.0 1029.5,1125.0" fill="#231f20"/>
<polygon points="1047.8,1135.8 1035.9,1129.3 1035.9,1142.2" fill="#231f20"/>
<text x="1050.6" y="1140.4" font-size="12.8" fill="#000">UMAP 1</text>
<text x="1029.2" y="1111.5" font-size="12.8" fill="#000" transform="rotate(-90 1029.2 1111.5)">UMAP 2</text>
<text x="892.3" y="738.0" font-size="27.5" fill="#000" text-anchor="middle" font-weight="bold">Cluster 12 subtyping</text>
<text x="638.0" y="753.6" font-size="38.5" fill="#231f20" font-weight="bold">E</text>
<text x="1115.8" y="759.0" font-size="23.4" fill="#000" font-weight="bold">Cluster IDs</text>
<text x="1115.8" y="782.4" font-size="23.4" fill="#000" font-weight="bold">with annotation</text>
<rect x="1117.0" y="797.2" width="17.5" height="17.3" fill="#e8736c"/>
<text x="1139.9" y="808.1" font-size="19.6" fill="#000">1 - pericytes/ vascular</text>
<text x="1167.1" y="828.3" font-size="19.6" fill="#000">smooth muscle cells</text>
<rect x="1117.0" y="840.7" width="17.5" height="17.3" fill="#d0902c"/>
<text x="1139.9" y="852.8" font-size="19.6" fill="#000">2 - myofibroblasts,</text>
<text x="1167.1" y="873.0" font-size="19.6" fill="#000">tumor myCAFs</text>
<rect x="1117.0" y="880.7" width="17.5" height="17.3" fill="#85a83e"/>
<text x="1139.9" y="896.7" font-size="19.6" fill="#000">3 - tumor CAFs</text>
<rect x="1117.0" y="919.6" width="17.5" height="17.3" fill="#1aa850"/>
<text x="1139.9" y="933.6" font-size="19.6" fill="#000">4 - stress-response</text>
<text x="1167.1" y="953.0" font-size="19.6" fill="#000">tumor CAFs</text>
<rect x="1117.0" y="959.6" width="17.5" height="17.3" fill="#10a585"/>
<text x="1139.9" y="974.0" font-size="19.6" fill="#000">5 - inflammatory</text>
<text x="1167.1" y="993.5" font-size="19.6" fill="#000">CAFs I</text>
<rect x="1117.0" y="999.3" width="17.5" height="17.3" fill="#10b4e4"/>
<text x="1139.9" y="1014.5" font-size="19.6" fill="#000">6 - inflammatory</text>
<text x="1167.1" y="1034.3" font-size="19.6" fill="#000">peritumoral CAFs II</text>
<rect x="1117.0" y="1043.2" width="17.5" height="17.3" fill="#688cc8"/>
<text x="1139.9" y="1058.8" font-size="19.6" fill="#000">7 - interferon-responsive</text>
<text x="1167.1" y="1078.6" font-size="19.6" fill="#000">peritumoral CAFs</text>
<rect x="1117.0" y="1087.5" width="17.5" height="17.3" fill="#a576a8"/>
<text x="1139.9" y="1103.5" font-size="19.6" fill="#000">8 - peritumoral CAFs</text>
<rect x="1117.0" y="1123.6" width="17.5" height="17.3" fill="#e670a4"/>
<text x="1139.9" y="1139.6" font-size="19.6" fill="#000">9 - non-malignant</text>
<text x="1167.1" y="1159.8" font-size="19.6" fill="#000">fibroblasts</text>
<line x1="1475.0" y1="788.4" x2="1475.0" y2="1018.7" stroke="#d9d9d9" stroke-width="1.1"/>
<line x1="1528.3" y1="788.4" x2="1528.3" y2="1018.7" stroke="#d9d9d9" stroke-width="1.1"/>
<line x1="1581.7" y1="788.4" x2="1581.7" y2="1018.7" stroke="#d9d9d9" stroke-width="1.1"/>
<line x1="1635.0" y1="788.4" x2="1635.0" y2="1018.7" stroke="#d9d9d9" stroke-width="1.1"/>
<line x1="1437.6" y1="830.2" x2="1668.6" y2="830.2" stroke="#d9d9d9" stroke-width="1.1"/>
<line x1="1437.6" y1="883.2" x2="1668.6" y2="883.2" stroke="#d9d9d9" stroke-width="1.1"/>
<line x1="1437.6" y1="936.2" x2="1668.6" y2="936.2" stroke="#d9d9d9" stroke-width="1.1"/>
<line x1="1437.6" y1="989.2" x2="1668.6" y2="989.2" stroke="#d9d9d9" stroke-width="1.1"/>
<line x1="1448.4" y1="788.4" x2="1448.4" y2="1018.7" stroke="#cfcfcf" stroke-width="1.3"/>
<line x1="1448.4" y1="1018.7" x2="1448.4" y2="1021.7" stroke="#333" stroke-width="1"/>
<text x="1445.9" y="1041.0" font-size="19.5" fill="#1a1a1a" text-anchor="middle">−4</text>
<line x1="1501.7" y1="788.4" x2="1501.7" y2="1018.7" stroke="#cfcfcf" stroke-width="1.3"/>
<line x1="1501.7" y1="1018.7" x2="1501.7" y2="1021.7" stroke="#333" stroke-width="1"/>
<text x="1499.2" y="1041.0" font-size="19.5" fill="#1a1a1a" text-anchor="middle">−2</text>
<line x1="1555.0" y1="788.4" x2="1555.0" y2="1018.7" stroke="#cfcfcf" stroke-width="1.3"/>
<line x1="1555.0" y1="1018.7" x2="1555.0" y2="1021.7" stroke="#333" stroke-width="1"/>
<text x="1555.5" y="1041.0" font-size="19.5" fill="#1a1a1a" text-anchor="middle">0</text>
<line x1="1608.3" y1="788.4" x2="1608.3" y2="1018.7" stroke="#cfcfcf" stroke-width="1.3"/>
<line x1="1608.3" y1="1018.7" x2="1608.3" y2="1021.7" stroke="#333" stroke-width="1"/>
<text x="1608.8" y="1041.0" font-size="19.5" fill="#1a1a1a" text-anchor="middle">2</text>
<line x1="1661.6" y1="788.4" x2="1661.6" y2="1018.7" stroke="#cfcfcf" stroke-width="1.3"/>
<line x1="1661.6" y1="1018.7" x2="1661.6" y2="1021.7" stroke="#333" stroke-width="1"/>
<text x="1662.1" y="1041.0" font-size="19.5" fill="#1a1a1a" text-anchor="middle">4</text>
<line x1="1437.6" y1="803.7" x2="1668.6" y2="803.7" stroke="#cfcfcf" stroke-width="1.3"/>
<line x1="1434.6" y1="803.7" x2="1437.6" y2="803.7" stroke="#333" stroke-width="1"/>
<line x1="1437.6" y1="856.7" x2="1668.6" y2="856.7" stroke="#cfcfcf" stroke-width="1.3"/>
<line x1="1434.6" y1="856.7" x2="1437.6" y2="856.7" stroke="#333" stroke-width="1"/>
<line x1="1437.6" y1="909.7" x2="1668.6" y2="909.7" stroke="#cfcfcf" stroke-width="1.3"/>
<line x1="1434.6" y1="909.7" x2="1437.6" y2="909.7" stroke="#333" stroke-width="1"/>
<line x1="1437.6" y1="962.7" x2="1668.6" y2="962.7" stroke="#cfcfcf" stroke-width="1.3"/>
<line x1="1434.6" y1="962.7" x2="1437.6" y2="962.7" stroke="#333" stroke-width="1"/>
<line x1="1437.6" y1="1015.7" x2="1668.6" y2="1015.7" stroke="#cfcfcf" stroke-width="1.3"/>
<line x1="1434.6" y1="1015.7" x2="1437.6" y2="1015.7" stroke="#333" stroke-width="1"/>
<text x="1432.5" y="808.0" font-size="19.5" fill="#1a1a1a" text-anchor="end">5.0</text>
<text x="1432.5" y="861.0" font-size="19.5" fill="#1a1a1a" text-anchor="end">2.5</text>
<text x="1432.5" y="914.0" font-size="19.5" fill="#1a1a1a" text-anchor="end">0.0</text>
<text x="1432.5" y="967.0" font-size="19.5" fill="#1a1a1a" text-anchor="end">−2.5</text>
<text x="1432.5" y="1020.0" font-size="19.5" fill="#1a1a1a" text-anchor="end">−5.0</text>
<path d="M1451.8 831.6h0m.2 1.8h0m.5 29.5h0m1.1-29.8h0m1 1.6h0m.2-.1h0m2 1.8h0m.7 25.4h0m.9 .9h0m.1 112.5h0m.4-113.8h0m.5 97.9h0m.4-96.4h0m.6-21.9h0m0 134.4h0m.2-23.3h0m.1-90.1h0m.6-18.3h0m.1 131.5h0m.6-113.1h0m.6-1.1h0m.2 .1h0m.3 90.4h0m1.9 16.3h0m.4-2.9h0m12.2-.8h0m3.1-21.9h0m24.3 26h0m5.9-3.9h0m3.7-44.5h0m.9 3.6h0m.9-.8h0m.5-2.7h0m.3-4.3h0m.3 10.2h0m0 30.8h0m.3-41.2h0m.1 5.7h0m.5-8.7h0m.5 2.7h0m0-.6h0m.5 67.9h0m1-67h0m.3 5h0m0-8.9h0m.1 5.3h0m.2 52.2h0m.5-49.8h0m.1-10.3h0m.1 90.1h0m.1-79.5h0m0 64.5h0m.1-69.2h0m.1 2.9h0m.1-7.5h0m0 32.1h0m.2-34.4h0m0 68.5h0m0-48.8h0m.3 3.7h0m.1-36.4h0m0 27.8h0m.3 3.3h0m.2 53.2h0m0-51.3h0m.3-20h0m.2 84.4h0m.1-1.3h0m.1-61.2h0m.1 70.2h0m.1-95.5h0m.4 6.3h0m.2 9.5h0m.2 73.7h0m0-71.8h0m0 77.5h0m.2 5.6h0m0-84.5h0m0-19.9h0m.2 5.3h0m.1 24.4h0m.1-6.9h0m.1 61.7h0m.4-6.9h0m0-55.6h0m.3-14.7h0m0 12.5h0m.4 66.7h0m0 20h0m.1 .4h0m0-95.7h0m.2 95.2h0m0-50.9h0m0 45.5h0m0-38.9h0m.3 44.2h0m0-72.4h0m0-32.6h0m.1 7.1h0m.1 67.4h0m.1-57.4h0m0-24.9h0m0 37.2h0m.1 77.5h0m0-82.7h0m.2-1.2h0m0-13.2h0m0 3.1h0m.1-8.8h0m.1 6.6h0m0-8h0m0 100.9h0m.1-107.9h0m0 8.3h0m0-2.4h0m0 17.9h0m.1-17.6h0m0-2.3h0m.1 82.6h0m0 14h0m.1-95.3h0m.1 25.7h0m0 78h0m.1-103.9h0m0 93.7h0m.2-92.3h0m0-6.8h0m.2 109.6h0m.1-84.1h0m0-1.6h0m.1-4.9h0m0 74.5h0m.4-66.7h0m0-15.4h0m.1 62.2h0m0-67.5h0m0-1.4h0m.1 12h0m0-12.4h0m0 5.8h0m.1 25.3h0m0-13.7h0m0-18.4h0m.1 29.9h0m.1 1.7h0m0-16.4h0m.5 .1h0m.1-.4h0m0-15.3h0m.3 86h0m0-73.9h0m0 59.7h0m0-56.7h0m.3-1h0m0 63.2h0m.1-53.6h0m0-19.4h0m0 20.2h0m.2 41.5h0m0-39.9h0m.1-3.4h0m.2-3.3h0m0 8.7h0m0-16.8h0m0 5h0m.4-1.4h0m.1 56.7h0m.1-57.7h0m0 66.5h0m.4 6.1h0m0-69.3h0m.2 8.2h0m.1-15.8h0m0 78.6h0m.2-84.4h0m.3-2.7h0m.1 19.8h0m.1 .7h0m0-22.2h0m.2 17.2h0m0 65.2h0m.1-54.9h0m.3 39.3h0m.1-62.8h0m.2 11.8h0m.1 68.5h0m.2-60.4h0m0-8.2h0m.1-2.6h0m0 69.1h0m.1-57.6h0m0-15.7h0m.1 57.4h0m.2-62.8h0m.1 80.9h0m.1-79.7h0m0 69.7h0m.3-6.1h0m.2-76.3h0m0 15.3h0m.1 10.7h0m0 7.8h0m.1-14.7h0m.2 71h0m.1-62.1h0m.1 60.9h0m.2-52.3h0m.4 58.6h0m.4-62.4h0m.1-5.8h0m.5 7.8h0m.7 .9h0m.4 44.7h0m.1-58.5h0m.5 57.1h0m.1-55.1h0m.2 .4h0m.3 15.4h0m0-12h0m.1 54.3h0m.2-61.1h0m.1 11.2h0m.6-4.5h0m.2 7.1h0m.4-9.6h0m.2-3.4h0m.2 2.1h0m.7-24.7h0m.6 60h0m0-19.8h0m.1-6.6h0m.2 20.7h0m0-16.2h0m.1-1.3h0m.1 35.2h0m.1-42.9h0m0-4.8h0m.3 57.8h0m0-42.6h0m.1-7h0m.3 2.4h0m.1-8.9h0m.3 16.8h0m.1 8.2h0m0-13.4h0m1.3 14.2h0m0 .6h0m.1-.6h0m.1-13.6h0m.1 12.4h0m.2-4.2h0m.1-10.9h0m.1 2.3h0m.1 14.6h0m0 .7h0m.1 4.1h0m.2-19.2h0m.1 4.2h0m.1-46.5h0m.1 54h0m.1 3.4h0m.2-2h0m0 1.6h0m0-.2h0m.1-61.9h0m.1 45.2h0m0-4.9h0m0 5.1h0m.1 16.1h0m0-3.2h0m.1-20.8h0m.7 3.5h0m.3 18.1h0m0 3.1h0m0 1.1h0m.1-25.3h0m.1 0h0m.1 26.3h0m.1-13.3h0m0 9h0m.3 1h0m.3-15h0m.1 3.2h0m.6-3.4h0m.1 42.7h0m0-52.4h0m.1 3.8h0m.1 2.3h0m.2 2h0m.2 7.9h0m.4-10.2h0m.5-5.7h0m.3 5.3h0m0-37.9h0m.6 40.8h0m0 8.9h0m0-44.2h0m.2 34.7h0m.2-7.7h0m.3 7.2h0m.2-3.3h0m.1-6.1h0m.3 1.9h0m0 7.8h0m.9 1h0m.3-9.6h0m.4 7.4h0m.1-7.3h0m0 .4h0m1.1 5.9h0m0-6.8h0m1 5.8h0m.9-2.7h0m2-17.1h0m1-2.1h0m1.1-7h0m.5 1.4h0m.1 37.9h0m.2-37.9h0m.8 5.8h0m.1-11.1h0m.4-18.7h0m.9 1.8h0m0 32.4h0m.3-33.9h0m.4 13.6h0m.4 49.7h0m.3-3.5h0m0-59.1h0m.2 59.2h0m.4-60.7h0m.1 27.2h0m.6 33.9h0m.3-3h0m.6-34.8h0m.6-13.2h0m0 46h0m.2 2.6h0m.6-60.3h0m.3 .9h0m.2 73.3h0m.1-15.4h0m0 14.6h0m.3-73.3h0m.1 55.1h0m0-39.1h0m0-15.4h0m.2 17.2h0m0 39.4h0m.1-47.6h0m.2-11.6h0m.1 12.7h0m.4 9.6h0m0-10.8h0m.2 49.6h0m0-61.6h0m.2 9.8h0m.1 66.6h0m.3-49.4h0m.1 8.1h0m.1 42.1h0m0-67.6h0m.1 20.2h0m.4-17.3h0m.1 7.6h0m.1-6.7h0m.2 22.2h0m0-25.8h0m.2 20.7h0m.1-17.9h0m0 15.1h0m.1 15.5h0m.2-1.7h0m0-8.3h0m0 21.6h0m0-33.7h0m.1 22.4h0m.1 0h0m.1-50.9h0m0 6.5h0m0-7.3h0m.1 24.6h0m0 38.9h0m.1 .6h0m0 23.4h0m.1-28.1h0m.2-.6h0m0 .8h0m.1-9h0m.1-3.2h0m.1 12.4h0m.3 28.3h0m.1-63.3h0m0 3h0m.1-4.7h0m.1 39.6h0m.2-31.9h0m.2 12.2h0m.1-14.3h0m0 10.7h0m0 48.5h0m.2-64.2h0m.1 6.4h0m0 5.1h0m0-36.9h0m0 63.6h0m0-42.2h0m.1-20h0m.1 58.1h0m0-30.9h0m0 14.9h0m0-4.6h0m0 22.3h0m0-24.4h0m.1 25.2h0m.1-37.6h0m.1 38.4h0m0-40.6h0m.1-22.5h0m.1 55.1h0m.2-56.2h0m0 2.2h0m0 32.1h0m0-12.6h0m.1 42.5h0m0-63.9h0m0 2.1h0m.2 26.9h0m.1 8h0m0-35.8h0m.1 53.5h0m0-51.9h0m.1 40.1h0m.2-42.6h0m.1 50.1h0m0-47.5h0m0 34.5h0m0-4.1h0m.2-8.4h0m0-23.4h0m0 62.6h0m.1-31.4h0m0 4.7h0m.1-37.4h0m0 28.3h0m0-27.6h0m0 53.8h0m0-55h0m.1 1.7h0m0-3.5h0m0 5.3h0m0 21.5h0m.1-21.1h0m0-8.4h0m.1 55.8h0m.1 1.6h0m.3-52.5h0m0 3.3h0m.1 37.2h0m0-2.6h0m.3-12.9h0m0-23.2h0m0 1h0m0 43.3h0m.1-45h0m.1 39.5h0m.1-38.3h0m0-9.8h0m.1 1.9h0m.2 22.1h0m.1 5.5h0m.2 15.1h0m0-18.2h0m.1 74.8h0m0-40.4h0m.1-13.6h0m0-40.8h0m.2 4.8h0m.2-3.8h0m.1 56.2h0m0-15.2h0m.1-41.2h0m0 27.6h0m.1 1.4h0m0 15h0m.1 64.5h0m.1-58.4h0m.2-13h0m0 8.7h0m.2 16.6h0m.2-42.3h0m0 25.7h0m.1-1.2h0m.1 61.9h0m.1-1.3h0m0-55.1h0m.1-54.9h0m0 111.8h0m0-109.6h0m.1-.8h0m0 45.9h0m0-37.9h0m.2 100.9h0m.1-82.4h0m.1 29.3h0m.3-12.2h0m.1 63.2h0m.1-111.5h0m0 111.8h0m0 1.3h0m.3-5.2h0m0-97.2h0m.1 32.1h0m0 14.8h0m0-18.2h0m.1 72.1h0m0-69.9h0m.1 7h0m0 8h0m.1 51.4h0m.1 2.3h0m.1-79.2h0m.2 71.3h0m.1 6.2h0m0-50.4h0m.1-31h0m0 73.3h0m0-51.1h0m.2 53.2h0m0-69.8h0m0 74.5h0m.1-8.7h0m.2-40.7h0m0 39.2h0m0 6.5h0m0-73.8h0m.1 79.4h0m0-1.9h0m0-106.7h0m.2 50.2h0m0 44.3h0m0 10.9h0m0-61.8h0m.1 52.8h0m.1 11.8h0m0-59h0m.2 9.3h0m0-8.1h0m.2-.9h0m.1 7.5h0m.1-55.8h0m0 29.6h0m.3 20.4h0m.3-25.1h0m.3 30.2h0m.4-2h0m.1-3.1h0m.7-97.4h0m.9 83.3h0m.2-45.8h0m.1-36.7h0m.1 44.2h0m.1 55.1h0m.1-93.5h0m.4 10.2h0m.5 1.5h0m.2 2.2h0m.1-.9h0m0-4.9h0m.1-.1h0m1-1.2h0m.4-4h0m1.3 38.7h0m.2-2.4h0m.2 .8h0m.1 1.1h0m.6-.1h0m1-.2h0m1.5-3.7h0m.4-.4h0m.5 1.8h0m.1-5.2h0m.4-.6h0m0-1.4h0m.7 55.8h0m.1-52.1h0m.3-5.1h0m.3 4h0m.1 55.9h0m.4-80.6h0m.3 8.5h0m.1 68.6h0m.4-76.4h0m.7 .9h0m.1 19h0m.8-4.4h0m0-10h0m.1 60.6h0m.8 5.6h0m.5-70h0m.5 71.7h0m.3-8.4h0m.1-61.4h0m.1 79h0m.6 .4h0m.3-3.1h0m1.1-7.2h0m.1 7.9h0m.5 2.8h0m.2 8.8h0m0-1.4h0m.1-11.2h0m0 11.4h0m.1 3.7h0m.6-11.9h0m.2 2h0m0-3.9h0m.1-5h0m.5-19.5h0m.4 29.8h0m.1-11.2h0m0-3.6h0m.1 20.7h0m.3-1.5h0m.1 2h0m.3-20.5h0m0 21.7h0m0-12.5h0m.4 10.1h0m.1 1.2h0m.4-8.6h0m.1-9.1h0m.1 19.5h0m.1-42.3h0m.2 40.2h0m.1-40.4h0m.2 36.2h0m0 3h0m.1-1.5h0m0 2.1h0m.5-9.4h0m.2-13.6h0m.2 11.3h0m.6-34.7h0m0 32.7h0m.2 13.5h0m0-40.4h0m.1-6.7h0m.1 33.2h0m.1 9.1h0m.1-13h0m0-31.7h0m.2 45.6h0m.1 3.5h0m0-42.8h0m.1 42.7h0m.1-8.9h0m0-.3h0m.2 6h0m.1-6.6h0m.2-3.7h0m.1 14h0m.1-17.5h0m0-3.5h0m.4-20.8h0m0 41.3h0m0-19h0m.1-24h0m.3 20.2h0m.1 18.1h0m0-38.9h0m.3-1.1h0m0 25.8h0m.6 19.1h0m.2-22.1h0m0 19.2h0m1.1 1.3h0m.2-18.7h0m0 19.2h0m.3-9.5h0m.8 9.3h0m.5-16.9h0m0 14.8h0m.2-10.6h0m.2-9.2h0m.1-.1h0m.3 17.1h0m.3-5.8h0m.6 9.7h0m0-8.5h0m0-3.5h0m.2 13.3h0m.2-14.1h0m.7-8.3h0m.2 19.7h0m.1-21.5h0m0 4.7h0m.1-6.1h0m.5 22.7h0m.4-9.6h0m.6-3h0m.4-7.5h0m.4-2.3h0m.1 14.1h0m.2 2.6h0m0-2.9h0m0-1.6h0m.1 4.1h0m.2 8.7h0m.2-10.4h0m.2-8.7h0m0-4.7h0m.1 12.9h0m.7 0h0m.2 6.1h0m.1 3.9h0m.1-12.3h0m.7 2.8h0m.4 5.3h0m.1-16.4h0m.1 20h0m.1-1.1h0m0-12.3h0m.3 11.6h0m.4-18.4h0m.5 17.9h0m.5-19.2h0m.1 11.5h0m0 1h0m.1 5h0m.1-16.1h0m.3 16.6h0m.1-3.7h0m.1-.7h0m.2-10.4h0m0-2.7h0m0 15.5h0m.1-10.9h0m.5 12.9h0m.5-2h0m.1-4.7h0m.4 .9h0m.2-61.1h0m0 48.8h0m.1 9.9h0m0-28.2h0m.2 6.5h0m1.1 23.9h0m.4 2.5h0m.1-2.4h0m1.1-44.7h0m.6 4.6h0m0-22.1h0m.3 19.8h0m1.2-6.6h0m2.8 4.8h0m1.2-3.2h0m1.9-.5h0m2.8 7.3h0m.3-4.2h0m2.2 4.8h0m1.2-7.4h0" stroke="#f5b529" stroke-width="1.90" stroke-linecap="round" fill="none"/>
<path d="M1449.6 830.3h0m2.9 31.6h0m.5 108.6h0m0 3.7h0m.5 1.1h0m.1-112.7h0m0 113.3h0m.4-114.5h0m.1 114.3h0m.1-6.7h0m.2-135.2h0m.8 27.6h0m.1 116.5h0m0-2.3h0m0-.3h0m.1 .4h0m0 1.6h0m.2-12.2h0m.2-103.2h0m0 113.7h0m.1 1.4h0m0-2.4h0m.1 1.1h0m0-.5h0m.1-113.4h0m0 113.6h0m0 1.3h0m.1-115.4h0m0 115.9h0m.1-114.5h0m0 112.7h0m.2-3.4h0m.1-110h0m0-.8h0m.3 114.9h0m.1-11h0m0-103.9h0m0 113.8h0m.1 .2h0m0 1.9h0m.1-2.6h0m.1 3.6h0m.1-115.8h0m0 115.6h0m.1-15.7h0m0-.9h0m0 16.3h0m.3 .5h0m0-4.3h0m.1 3.6h0m.7-1.1h0m0-10.8h0m.1-102.9h0m.4 99.8h0m.6 14.8h0m.1-11.8h0m.3-.4h0m.1 13.8h0m.3-2h0m0-.3h0m0-6.5h0m.1 5.8h0m.3-114.3h0m0 .5h0m0 113.4h0m.3 .9h0m.1-18.7h0m.6-97.4h0m.2 109.5h0m0-108.4h0m.1 105.1h0m0 10h0m0-16.8h0m.4 11.5h0m.2 6.7h0m.3-9.7h0m.1-6.9h0m.1 2h0m.1 9.3h0m.1-12.3h0m.3 2.8h0m.2-104.5h0m.1 91.9h0m0 20.4h0m.2-6.6h0m.3-9.5h0m0-95.2h0m.1-1.1h0m0 97.9h0m.1 10.9h0m.1-.8h0m.1-107.2h0m0 100.3h0m.5 6.8h0m.1 1.2h0m.3-13.6h0m0 6.4h0m.1-.2h0m.1 3.2h0m0 .8h0m.3-6.9h0m.1 1.5h0m0 8.4h0m.1 .3h0m.1 5.1h0m.1-9h0m.1-9h0m0-3.1h0m.2 5.5h0m.1-3.6h0m0 3.9h0m0-3.2h0m.5-5.8h0m.1 18.2h0m0-9.7h0m.1-1.4h0m.3-6.9h0m0 19.9h0m.1-1.6h0m.3-11.4h0m0 10.7h0m0-3.2h0m.1-4h0m.1 4.6h0m0-7.2h0m0-2.5h0m.3 10h0m0-1.2h0m.1-10.7h0m0 1h0m.2-4.7h0m.1 4.2h0m.2 14.4h0m.1-3.7h0m.1-4.7h0m0-1h0m.2 13.9h0m.2-1.6h0m.2-3.8h0m0-5.7h0m.1-1.2h0m.1 8h0m.1-5.3h0m0-8.1h0m.2 13.4h0m.1-1h0m.3-14.9h0m.2 11h0m.2-6.7h0m.1-3.4h0m0-2.2h0m.4 30.7h0m0-29.6h0m.3 17.6h0m0-17.4h0m.1 11.9h0m.2-11.9h0m.2 12.6h0m0-1.1h0m.2-14.5h0m.2 20h0m.2 4.9h0m.2-2h0m.1 1.7h0m.1-25.4h0m0 19.3h0m.1-8.8h0m.1 6h0m.2 4.8h0m.3 3.9h0m.2-10.8h0m.4-.1h0m.1 2.7h0m.1-12.9h0m.2 12h0m.1-11.9h0m0 21.1h0m.4-15.2h0m.1 9h0m.1 2.4h0m.1-11.6h0m.1 14h0m0-13.3h0m.2 14.6h0m.1-5.2h0m.1-14.4h0m.1-2.7h0m.3 19.2h0m.3 .7h0m0-3.3h0m.1 2.2h0m.1-7.8h0m.8 15.7h0m.1-13h0m.2 6.1h0m0-3.2h0m.1 6.4h0m.3-14.5h0m.1-17.5h0m.8 33.6h0m.3-2.8h0m.3-7.2h0m.3 5.4h0m.1 7h0m.1-26.9h0m.1 11.8h0m.2 .4h0m.2 13.3h0m0-35.3h0m.5 8.4h0m.3 20.2h0m.2-1.3h0m0 3.2h0m.1-21.7h0m.1-10.6h0m.1 24.1h0m0 5.3h0m.1 12.3h0m.3-38.7h0m.2 38.5h0m0-14.2h0m.3 2.6h0m.3 8.6h0m.3-30.2h0m.2 19.6h0m0-2.4h0m0 6.1h0m.1-5.1h0m.1 9.2h0m.2-.1h0m0-10.4h0m.3 18h0m0-14.2h0m0-1.8h0m.3 .5h0m.1-21.5h0m.1 19.9h0m.1-28.9h0m.1 33.7h0m.1 3.9h0m.2-20.5h0m.1 3.1h0m.1-17.8h0m.3 13.9h0m.1 11h0m.2-16.8h0m.3 19.1h0m0-11.2h0m.5-13.7h0m0-.7h0m.1 5.9h0m.1-5.2h0m0 29.5h0m0-34.2h0m.3 34.8h0m0 13h0m.2-11.9h0m0-13.7h0m.1 15.9h0m.1-22.9h0m.4 24.2h0m.1-33.5h0m.2 34.4h0m.4-28.6h0m.1 13.5h0m.2 12.4h0m.3-24.1h0m.3 24.8h0m.1-27.4h0m.1-9.8h0m0 11.5h0m.1 .4h0m.1 9.5h0m.1-1.7h0m0 4.7h0m.1 13.2h0m.1-9.7h0m.1-22.1h0m.1 6.9h0m0 14h0m.2-6.5h0m.1 11.2h0m.1-21.7h0m.1 2.3h0m0 15.6h0m.3-16.2h0m.1 29.9h0m0-33.1h0m.2 23h0m.4-7.5h0m.3 .4h0m0-23.8h0m.2 27.6h0m0-6.5h0m.1 9.1h0m0 14h0m.3-10h0m.2-18.6h0m0 6.4h0m.1-15.3h0m0-4.3h0m.1 37.3h0m.1-23.3h0m0 21.9h0m.5-10.2h0m.1 12.3h0m.1-31.5h0m.2-4h0m0-3.3h0m.6 31.3h0m.1-11.8h0m.6 10.1h0m.1 .5h0m.1-31.8h0m.2 1.6h0m.1 .7h0m.1 6.7h0m.2-6.9h0m0 36.9h0m0-29.4h0m.3 8h0m.2-.9h0m.3-1.6h0m.4 7h0m0-8.5h0m.3 13h0m0-25.8h0m.1 .3h0m.1 29.1h0m.1-12.7h0m0 20h0m.2-37.7h0m.3 30.7h0m.1-8h0m.2-.2h0m0 19.1h0m.2-16.8h0m.1 15.3h0m.3-35.7h0m0 25.3h0m.2-26.1h0m.1 42h0m.3-3.6h0m0-2.8h0m.1 .2h0m.3-23h0m.4 24.3h0m.1-5.7h0m0 1.2h0m.1 8.4h0m0-35.7h0m.3 20.1h0m.1 2.2h0m.1-24.8h0m0 15.2h0m.2 24h0m.1-24.9h0m.2 14.9h0m0-9.7h0m.1-1.2h0m.2-9.2h0m.1 27.8h0m.1-7.9h0m.4 5.3h0m.1-14.7h0m.1 9h0m.4-25h0m0 30h0m.4-33.2h0m.2 14h0m.1 19.6h0m.1-3.7h0m.1 3.4h0m0-1.6h0m.1-12h0m0 2.7h0m.1 18.6h0m0-37.7h0m.3-1.1h0m.1-6.4h0m.2 11h0m.3-9.7h0m.1 29h0m.1-12h0m.2 10.5h0m.3-.3h0m0-19.1h0m0-4h0m.1 20.2h0m0 20.7h0m.4-22.1h0m0 17h0m.1-59.3h0m.1 53.9h0m.2-30.7h0m.2 35.7h0m.5-4.7h0m0-20.7h0m.1 9.4h0m.1-2.9h0m.2-17.3h0m.1-2.6h0m.1 2.6h0m.5-7.1h0m0 6h0m0 .6h0m0 .9h0m.1 11.8h0m0 2.7h0m.2 11.5h0m.4-27.4h0m.1 4.5h0m.2 6.1h0m.1 6.4h0m0 24.9h0m.1-16.6h0m.2-21.5h0m.6 24.7h0m0-9.7h0m.3-5.8h0m.5 10.8h0m.1-4.7h0m.2-2.3h0m.1-7.2h0m0 9.6h0m.3 17.7h0m.1-27.6h0m.4 1.7h0m.1-10.1h0m.1 31.3h0m.2-4.3h0m.1-25.8h0m0 22.3h0m0-18.7h0m.1 17.6h0m.2-15.4h0m.1 2.3h0m.1 2.6h0m0-2.4h0m0 13.4h0m.1-5h0m.1-20.2h0m.1 48.4h0m.1-35.7h0m.1 14.9h0m0-7.3h0m.6 21.9h0m.1-8.8h0m0 18.8h0m.2-48h0m0 11.7h0m0-1.3h0m.1 34.3h0m.3-43.8h0m0 13.2h0m0 17.5h0m.2-24.7h0m0-3.8h0m0 8.8h0m.2 10.2h0m.7-6.8h0m0 30.8h0m.7-17.4h0m0 8.3h0m0 5.5h0m.1-13.2h0m0-5.5h0m.1 27.7h0m0-21.9h0m.2 18.3h0m.1-44.3h0m.1 32.3h0m.2-27.7h0m.3 18.3h0m0-15.4h0m.1 14.5h0m.1 25.4h0m.1-50.1h0m0-3.1h0m.1-19.4h0m.1 63.1h0m0-18.1h0m.2 12.9h0m.1 13.7h0m.4-31.4h0m.4 6.4h0m.2 8.3h0m.1-17.9h0m.2 20.6h0m.1 .3h0m.1-2.4h0m0-2.5h0m.1-2.9h0m.2 17.9h0m.2-28.9h0m.1 31h0m.3-80.6h0m.1 57.7h0m.2-8.1h0m.2-.7h0m.8 44.9h0m.4-45.6h0m0 34.7h0m.3 10.9h0m.2-26.7h0m0 25.7h0m.3-5.8h0m.1-29.9h0m0 37.4h0m.1-41.9h0m0 41.7h0m.1-1.7h0m0-110.2h0m.3 110.7h0m0-10.1h0m.2 11.7h0m0-53.2h0m.1-41.2h0m0 45.3h0m.1 35h0m.1 .5h0m0 3.5h0m.3 8.1h0m.1 1h0m0-.3h0m.1-.7h0m0-41.7h0m.1 33.8h0m0-26.9h0m.3 36.3h0m.1-.2h0m.1-.2h0m0-14.6h0m.1 14.3h0m.3-109.7h0m.4 109.4h0m.2-83h0m.6 49.2h0m0-3.9h0m.3-.5h0m.1 24.2h0m.1-30.6h0m.6 6.9h0m.1-2.5h0m.2 27.4h0m0-33.6h0m.2-27.1h0m.2 58.3h0m.1-57.9h0m.1 60.8h0m.1-23.6h0m.1-36.8h0m.4-20.5h0m.3 19h0m0 31.3h0m.3-18.1h0m.2 33.5h0m0-66.8h0m0 63.1h0m.3 5.2h0m.6-46.3h0m.1 33.4h0m.2-73.1h0m0 33.2h0m0 34.5h0m.1 4.5h0m.1 27.9h0m.8-17.5h0m.1-5h0m0-9.3h0m.5-.5h0m.1-69.5h0m.2 85.3h0m0-15.9h0m.1-50.7h0m0-18.1h0m.2 92.1h0m0-20.2h0m.3 18.4h0m.5-3.9h0m.4-91.5h0m.3 41h0m.7-6.5h0m.1-30.1h0m.3 52.8h0m0 31.5h0m.2-15.6h0m.2 11.7h0m.8-2.5h0m.2-79.7h0m.2 73h0m.3 9.7h0m.6-5.6h0m.1-82.9h0m.1 57.6h0m0 37.5h0m.3-38h0m0 28.3h0m.2 4.9h0m0 3h0m.1-42.7h0m.1 28.6h0m.1-23.9h0m.2 13.7h0m0 15.6h0m0-1.3h0m.1-35.4h0m.1 7.7h0m.1-.8h0m.1 33.1h0m.3-30.3h0m.3-1.4h0m.2-51.4h0m.1 24.1h0m.2 29.9h0m.1-7.4h0m.3 37h0m.1-29.9h0m.1-55.3h0m.1 32.3h0m.2 56.7h0m.1-90.3h0m.1 53.9h0m.2 6.9h0m.2-.7h0m0-59.8h0m.1 49h0m.5 6.7h0m.1-9.3h0m.3 10.3h0m.1 22.1h0m.2-56.5h0m.3-24.8h0m.2 47.9h0m.1-.6h0m.2 11.7h0m.1 0h0m0-60.4h0m.2 48.9h0m.1 11.5h0m.1 .2h0m.1-60.7h0m0 60.6h0m.2 3.2h0m.1-4.1h0m.2 .1h0m0-2.8h0m.2-.3h0m.1-.2h0m0 2h0m.2 2.2h0m.4-.1h0m.1-11.2h0m.1 17.7h0m.1-12.8h0m.6 3.3h0m0 9h0m1.2-12.7h0m.1-59.5h0m.4 54.5h0m.1-.4h0m.9-50.3h0m.5 48.1h0m.1 .9h0m.4-47.4h0m.5-4.1h0m.7-1.4h0m4.2 45.4h0m.1-23h0m1.8 35.6h0m0-4.3h0m1.8 2.3h0m.4-.4h0m.9 1.6h0m1-4.4h0m.1 1.5h0m1.7 .2h0m2.3-62.5h0m1 41.4h0m2.4-41h0m.1 69.9h0m2.3-72.2h0m.1 52h0m1.2-62.4h0m.1 45.1h0m.6 14.6h0m.4-9.5h0m.1-51.6h0m.8 9.8h0m.5 31.1h0m1.2-21.8h0m.4-10.7h0m.5 32.3h0m0-41.4h0m.4 55.8h0m.4-24.7h0m.5-33.9h0m.4 3.4h0m0 16.3h0m.6 28.5h0m1.3-43h0m.5-13h0m0 91h0m1.1-40.9h0m0-12.3h0m.9-84.3h0m.6-.7h0m1.5 4.7h0m.8-1.2h0m0 42.4h0m.6-41.5h0m.1 1h0m.4 1.6h0m.2-4.7h0m.1 8.1h0m.1 1.3h0m.4-3.5h0m0 16.4h0m0-15.4h0m.1 .9h0m.4-1h0m0-.7h0m.1-2.3h0m.1 13.8h0m.6-8.9h0m.3 7.2h0m0-2.8h0m.2 7.4h0m1.4-8.5h0m.7 1.8h0m2.6 30.6h0m2 2h0m.4-2.2h0m1.2-27.9h0m.1 1.1h0m1.1-.6h0m.5-1.4h0m.7 78.5h0m0-.4h0m.3-66.5h0m.1-9.6h0m.2 9.6h0m.2 .1h0m0-9.8h0m.4 9.7h0m.4-1.3h0m.3 2.8h0m.1-.5h0m.5-1.9h0m1.7-5h0m.3-2.1h0m.2 1.6h0m.3 1.5h0m3 76.8h0m2.2-74.9h0m2.4 54.8h0m1.3 22.6h0m1.8-19.6h0m.9 24.5h0m3.8-64.9h0m1.8-12.6h0m.7 63.1h0m.1-50.5h0m1.3-15.2h0m.5 17.7h0m.9-2.9h0m.5-.8h0m.5 3.8h0m.8 .1h0m1.9 43.3h0m.2-53.6h0m.9 48.5h0" stroke="#d81b60" stroke-width="1.90" stroke-linecap="round" fill="none"/>
<path d="M1448.4 830h0m0-.6h0m.4-.3h0m.2 1.1h0m0-.7h0m.8 .6h0m.5 1.1h0m.2 .2h0m.3-.7h0m.1 1h0m.1-.5h0m.3 .4h0m.4 .2h0m.4 1.1h0m.8 0h0m1 .8h0m.1 .4h0m1.5 1.1h0m.3 .4h0m1.1 1h0m.9 .4h0m.1 .8h0m.1-.1h0m.5 .7h0m.1 .5h0m0 .1h0m.9 1.2h0m.2-.3h0m.6 1.5h0m1.7 5.4h0m.2-.5h0m.5 .5h0m.1-.5h0m0-.6h0m.2 1.9h0m115 47.2h0m.8-13.2h0m4.3-3.3h0m5.8 15.3h0m.1-2.1h0m2 12.4h0m12.5-64.8h0m.2-3.4h0m1.4 2.1h0m.9-5.4h0m2.6 51.7h0m.4-5.8h0m2.8-56.5h0m1.3 53.9h0m1.4-10.1h0m.2-2.6h0m.2 7.3h0m1.8-1.6h0m.1 40.7h0m1.2-45.4h0m.2 .3h0m.7 .4h0m1.3 .8h0m.2 1.1h0m.4-2.3h0m1 1.3h0m.4-2.3h0m1.4-24.5h0m.7 65h0m1-40.2h0m1 6.1h0m2.3 23.9h0m.3-51.3h0m.1-4.9h0m.3-11h0m0 5.4h0m.5 17.8h0m.1-10h0m.1-9.1h0m.3-1.4h0m0-.5h0m.2 5.8h0m.3-3.4h0m.3 7.6h0m.1 12.5h0m.2 1.4h0m.4-24.1h0m.1 4.8h0m.1 1.5h0m0 15.4h0m.1-17.2h0m.8 20.1h0m.1-29.1h0m1 5.3h0m.1 13.9h0m0-10.8h0m0-7h0m1.1 18.9h0m.1-13.5h0m.1 17h0m.1-5.9h0m.2 5.3h0m.1-9.7h0m.1-6.9h0m.2 5.4h0m.1 16.2h0m0-17.4h0m.2 15.2h0m.6-14.4h0m.1-7.6h0m.6 23h0m.1-5.8h0m.3-4.9h0m.3 15.1h0m0 .8h0m.2-6.7h0m.1 16.1h0m0-4.6h0m0 8h0m0-7.7h0m0 5.9h0m.2-12.2h0m.1 8.2h0m0-3.3h0m0 1.9h0m.2 4.1h0m.1-1.1h0m0-34.6h0m.1 1.9h0m0 30.7h0m0-.8h0m.2-10.4h0m.1 12.3h0m.1-26.3h0m.2-7.8h0m.1 5h0m.2 9.2h0m0-13.9h0m.2 3.8h0m.2 12.4h0m.1-6.6h0m.4 14.7h0m.1-9.2h0m.1-13h0m.1 9.5h0m.7-7.7h0m.2 25.2h0m0-13.6h0m.2-6.1h0m.3 5.6h0m.2-.6h0m.1 2.9h0m.3 .9h0m.1 5.6h0m.3-14.8h0m0-5.4h0m.2 12.7h0m0-16.4h0m.1 14.6h0m0-6.1h0m.1 4.6h0m.1-.2h0m.3 2.6h0m.3 1.3h0m.1-.9h0m0 3.2h0m0-6.8h0m.1 1.9h0m.2-1.4h0m.1 8.6h0m.1-5.4h0m0-1.2h0m.2-13.3h0m.3 5.5h0m.1 10.7h0m0-.5h0m0-11.6h0m.1 2.9h0m.1 6.9h0m0-7.6h0m.1 10.4h0m0-2.1h0m0 7.4h0m.2-2.5h0m0-9.9h0m.3 5.3h0m.2 1.7h0m.1-.2h0m.2-1.5h0m.1-5h0m.1 9.5h0m.1-1.6h0m0-1.6h0m.2 1.6h0m.1-2.6h0m0 3h0m.1-3h0m.2 1.3h0m0-1.9h0m.1 .1h0m.3 10.7h0m.1-7.2h0m.3 .2h0m.1-1.8h0m0 .8h0m.1 1.5h0m0 1.5h0m.1-8.2h0m0 8.9h0m0-4.7h0m.3-.8h0m0-9h0m0 11.5h0m.4 1.1h0m0-1.5h0m0-2.6h0m.2 3.5h0m.1-5h0m.1 4.1h0m.1 1.3h0m.2-10.6h0m.1 9.8h0m0-1.4h0m.3 .8h0m.1 1h0m0-5.4h0m.4 3.8h0m.2 2.7h0m.5-3h0m.6 2.5h0m0 .1h0m.6 2.3h0m.3-7.9h0m.2 7.1h0m0-1.3h0m.2 1.9h0m0-1.7h0m.1 .9h0m.3-1.6h0m.1 2h0m.1-1.1h0m0 .7h0m1-2.7h0m.1 4h0m.2-4h0" stroke="#3b80c4" stroke-width="1.90" stroke-linecap="round" fill="none"/>
<path d="M1523 911.8h0m1.5 37.3h0m.7-37.5h0m.5 8.8h0m.3 13.5h0m6.5-36.7h0m2.9 18.2h0m.2-7.2h0m4.9 84.1h0m8.4-78.1h0m1.3 4h0m6.4 .8h0m4.2 22.1h0m4.9-40.6h0m.8-.3h0m5.4-17.4h0m.3 20.9h0m1.2-8.1h0m0 46.9h0m1.1-19.2h0m1.2 22h0m1.6-51.1h0m.3 12h0m.5-18.3h0m.8 58.9h0m.8-1.2h0m.3-91.8h0m.2 92.9h0m.1-90h0m.3 35.4h0m.4 54.3h0m0-22.6h0m.4-3.1h0m.5-61.3h0m.2 53.1h0m.2-39.9h0m0-17.4h0m.1 2.7h0m.3-.5h0m.5 90.8h0m.2-45h0m1.5 57.5h0m.2 .3h0m0-102.6h0m.3 49.1h0m0-8.7h0m.3 61.7h0m.3-1h0m0-109.4h0m.3 110.6h0m.6-59.6h0m.1 49.9h0m.4 7.5h0m0-7.5h0m.1-8h0m.1-.7h0m.1 12.7h0m.2-67.1h0m.2 60.7h0m.1 3.6h0m.1-6.5h0m0 10.4h0m.1-2h0m.2-7.5h0m0 5.2h0m0-5.8h0m.1-2h0m0 10.8h0m.1-9.5h0m0-55.9h0m0 59.6h0m.4 4.3h0m0-8.6h0m.5 4.9h0m.1 6.5h0m.1-5.8h0m0 .6h0m12-105.2h0m.3-.7h0m.5-6.3h0m.5 1.2h0m.3 3.7h0m.2-1.2h0m1-9.5h0m.1 63.3h0m.1-57.8h0m.2-2.3h0m0-3.3h0m.1-1.6h0m.3 7.5h0m.1-5.7h0m1-1.1h0m.4-.6h0m.6 .5h0m.2 59.7h0m.5-3.9h0m3.4-5.9h0m1.3-3.7h0m0 .8h0m.6-55.2h0m.2 54.1h0m.6-15.1h0m.1 11.5h0m.4-3.5h0m.9 5.8h0m1.7-14.9h0m.1 5.1h0m0-1.9h0m.5 .8h0m.3-3.1h0m.1 23.2h0m.2-20.6h0m.3 1h0m0-1h0m0-3h0m.1 .7h0m.1 .1h0m.2 .9h0m.3-.3h0m.1-2.7h0m.2 3.4h0m.5-.5h0m.1 3.1h0m.4-4.6h0m.5 1.4h0m.2-.8h0m1.1 2.9h0m0-4.5h0m.2 45.7h0m.1-45.1h0m.8 2.3h0m.4 42.3h0m.4-4.6h0m.3 3.4h0m.2-6.2h0m.3 6.9h0m.8-1.6h0m.2-4.3h0m.3 6.3h0m.1-63.2h0m.4 40.3h0m.3 22h0m.1 .5h0m.1-56.5h0m.1 55.6h0m.2-68.1h0m.3-8.1h0m.1 72.2h0m.1-52.1h0m.1 52.1h0m0-78.5h0m.1 30.9h0m.2-18h0m.2 71.2h0m.5-64.6h0m.1 11.7h0m.1-8.7h0m.2-.4h0m.4-13.2h0m0 74.1h0m.4-78.2h0m.3 25.3h0m.2 46h0m0 7h0m.1 .9h0m.5-61h0m.4 60.4h0m.1-72.3h0m.2 12.1h0m.2-5.8h0m.1-6.5h0m.4 16h0m.4 57.6h0m.1-75.1h0m.1 11.8h0m.9 60.9h0m.6-69.4h0m0 9.4h0m.3 6.1h0m.1 51.6h0m1.3-.6h0m.1-4.1h0m.6 5.8h0m.4-1.6h0m0-4.2h0m.3-.1h0m.8-30.7h0m0-16.4h0m1-1h0m.7 42.4h0m2.2-56.2h0m.2 9.9h0m.8-.7h0m2.9 .8h0m1.3-4.1h0m2.6 6.8h0m.9 3.4h0" stroke="#14574a" stroke-width="1.90" stroke-linecap="round" fill="none"/>
<rect x="1437.6" y="788.4" width="231.0" height="230.3" fill="none" stroke="#333" stroke-width="1.2"/>
<line x1="1732.7" y1="787.4" x2="1732.7" y2="1020.0" stroke="#f2f2f2" stroke-width="1.1"/>
<line x1="1786.1" y1="787.4" x2="1786.1" y2="1020.0" stroke="#f2f2f2" stroke-width="1.1"/>
<line x1="1839.5" y1="787.4" x2="1839.5" y2="1020.0" stroke="#f2f2f2" stroke-width="1.1"/>
<line x1="1892.9" y1="787.4" x2="1892.9" y2="1020.0" stroke="#f2f2f2" stroke-width="1.1"/>
<line x1="1694.5" y1="830.7" x2="1928.0" y2="830.7" stroke="#f2f2f2" stroke-width="1.1"/>
<line x1="1694.5" y1="883.7" x2="1928.0" y2="883.7" stroke="#f2f2f2" stroke-width="1.1"/>
<line x1="1694.5" y1="936.7" x2="1928.0" y2="936.7" stroke="#f2f2f2" stroke-width="1.1"/>
<line x1="1694.5" y1="989.7" x2="1928.0" y2="989.7" stroke="#f2f2f2" stroke-width="1.1"/>
<line x1="1706.0" y1="787.4" x2="1706.0" y2="1020.0" stroke="#ebebeb" stroke-width="1.3"/>
<line x1="1706.0" y1="1020.0" x2="1706.0" y2="1023.0" stroke="#333" stroke-width="1"/>
<text x="1703.5" y="1041.0" font-size="19.5" fill="#1a1a1a" text-anchor="middle">−4</text>
<line x1="1759.4" y1="787.4" x2="1759.4" y2="1020.0" stroke="#ebebeb" stroke-width="1.3"/>
<line x1="1759.4" y1="1020.0" x2="1759.4" y2="1023.0" stroke="#333" stroke-width="1"/>
<text x="1756.9" y="1041.0" font-size="19.5" fill="#1a1a1a" text-anchor="middle">−2</text>
<line x1="1812.8" y1="787.4" x2="1812.8" y2="1020.0" stroke="#ebebeb" stroke-width="1.3"/>
<line x1="1812.8" y1="1020.0" x2="1812.8" y2="1023.0" stroke="#333" stroke-width="1"/>
<text x="1813.3" y="1041.0" font-size="19.5" fill="#1a1a1a" text-anchor="middle">0</text>
<line x1="1866.2" y1="787.4" x2="1866.2" y2="1020.0" stroke="#ebebeb" stroke-width="1.3"/>
<line x1="1866.2" y1="1020.0" x2="1866.2" y2="1023.0" stroke="#333" stroke-width="1"/>
<text x="1866.7" y="1041.0" font-size="19.5" fill="#1a1a1a" text-anchor="middle">2</text>
<line x1="1919.6" y1="787.4" x2="1919.6" y2="1020.0" stroke="#ebebeb" stroke-width="1.3"/>
<line x1="1919.6" y1="1020.0" x2="1919.6" y2="1023.0" stroke="#333" stroke-width="1"/>
<text x="1920.1" y="1041.0" font-size="19.5" fill="#1a1a1a" text-anchor="middle">4</text>
<line x1="1694.5" y1="804.2" x2="1928.0" y2="804.2" stroke="#ebebeb" stroke-width="1.3"/>
<line x1="1691.5" y1="804.2" x2="1694.5" y2="804.2" stroke="#333" stroke-width="1"/>
<line x1="1694.5" y1="857.2" x2="1928.0" y2="857.2" stroke="#ebebeb" stroke-width="1.3"/>
<line x1="1691.5" y1="857.2" x2="1694.5" y2="857.2" stroke="#333" stroke-width="1"/>
<line x1="1694.5" y1="910.2" x2="1928.0" y2="910.2" stroke="#ebebeb" stroke-width="1.3"/>
<line x1="1691.5" y1="910.2" x2="1694.5" y2="910.2" stroke="#333" stroke-width="1"/>
<line x1="1694.5" y1="963.2" x2="1928.0" y2="963.2" stroke="#ebebeb" stroke-width="1.3"/>
<line x1="1691.5" y1="963.2" x2="1694.5" y2="963.2" stroke="#333" stroke-width="1"/>
<line x1="1694.5" y1="1016.2" x2="1928.0" y2="1016.2" stroke="#ebebeb" stroke-width="1.3"/>
<line x1="1691.5" y1="1016.2" x2="1694.5" y2="1016.2" stroke="#333" stroke-width="1"/>
<path d="M1706.6 830.7h0m.6 .1h0m.2-.2h0m.5 1.1h0m.5-.5h0m.1 1h0m.1-.5h0m.3 .4h0m.8 1.3h0m.9 141.3h0m.6 1.1h0m0-142.2h0m.3 .6h0m.1 .4h0m.3 134.9h0m.1-135.2h0m1 141.9h0m.1-140.5h0m.3 .4h0m.1 141.4h0m.1-1.3h0m.2 1.5h0m.8-12.1h0m.3 13h0m.2-15.9h0m.1 15.4h0m.2-140.6h0m.8 1.9h0m.9 1.3h0m.3-.3h0m.6 1.5h0m0 134h0m.1 1.4h0m0-.3h0m.8-132.8h0m.2 131.5h0m.7-5.5h0m0-123.4h0m.6 .5h0m1.3 103.6h0m.1 20.4h0m.6-14.5h0m.1 10.1h0m.2-6.9h0m.5 8h0m.3-13.6h0m.6 4.8h0m.4-4.2h0m.3-.5h0m.6 2.7h0m.9 6.1h0m.1-4h0m1.1-.5h0m.3 12.9h0m.3-5.4h0m.3-4.2h0m.3 5.3h0m2-4.4h0m.2-14.5h0m2.3 3.3h0m.2 12h0m.2-11.9h0m1.3-1.3h0m.4 14h0m1.5 2.6h0m2.6-4.3h0m.3-22h0m.5 8.4h0m.5 18.9h0m.2-29.1h0m2.1 35.6h0m0-10.4h0m1.1 5.7h0m.3-13.5h0m.2-17.8h0m1.5 7.5h0m.6 12.3h0m.2-7h0m1.3 22.4h0m.8-36.5h0m1.2 12h0m.1 15.6h0m.4-19.4h0m1.7 14.1h0m.1-15.3h0m.1 33h0m2.5-39.8h0m1.8 13.6h0m.3 13h0m0-25.8h0m.3 16.7h0m.6 5h0m2.3 13.5h0m.6-14.6h0m2-11.6h0m.4-3.2h0m.7 41h0m.3-38.8h0m.2-6.4h0m1.1 28.5h0m0-19.1h0m.1 16.2h0m1.5-10.2h0m.6-10.8h0m.5-7.1h0m0 6h0m0 .6h0m.7-.5h0m.3 10.6h0m1.4 2.4h0m.8-3.4h0m.9-8.7h0m.1 31.3h0m.3-30.1h0m.8-3.5h0m.2 20.3h0m1-4.4h0m2.3 24.8h0m.1-6.9h0m1.1-31.8h0m1.3 27.2h0m2.6-21.8h0m.5 56.2h0m.9-26.8h0m.2 22.3h0m0-29.9h0m0 37.4h0m.6-11.5h0m.2-40.4h0m.2 42h0m.1 8.8h0m1-109.3h0m.2 86.5h0m2-22h0m2.7-16.4h0m1.5 20.6h0m1.8-3.9h0m2.6-69.5h0m1.5 99.1h0m.3-27.9h0m2.8-73.5h0m1.5-2.1h0m.3-1.3h0m8.3-5.5h0m1.5-2.5h0m16 32h0m2 31h0m.2-.8h0m.1 .8h0m1.4-15h0m.1-61.6h0m.2 76.4h0m.5 .8h0m1.7-40.2h0m.1-45.2h0m1.2 88.1h0m.8-.2h0m.2-89.6h0m.5 90.7h0m.8-.3h0m.5-91.2h0m0 2.6h0m.4-2.9h0m.1 .8h0m1.6 .6h0m.4 92.2h0m.1-94.8h0m.8 107h0m.2 .3h0m.9-1.3h0m.4 .3h0m.6-9h0m.1 8.5h0m.3-1h0m.1-7.5h0m.1-8.7h0m.1 12.7h0m.1 1.7h0m.3-8.1h0m.1 6.4h0m.2-8.1h0m.1 7.2h0m0-5.1h0m.2-3h0m.1-2h0m0 10.8h0m0-11.3h0m0 6.5h0m.1-4.7h0m0 3.7h0m.3 3.4h0m0 .9h0m.1-8.6h0m.1 10.5h0m.5 .9h0m.1-5.2h0m1.6-148.6h0m.5 2.6h0m1.3 2.1h0m4.4 39.5h0m.9 1.8h0m2.7-1.7h0m.8-6h0m.4-.6h0m2.7-22.8h0m.8 15.2h0m.8 .3h0m0-10h0m0 60.6h0m.4-54.6h0m.1-.5h0m1 59.4h0m1.2-66.3h0m2.3 .5h0m1.2 57h0m.6-55.2h0m1.9 .6h0m2.7 40.1h0m1-1.5h0m1.2 4.1h0m.7-4.8h0m.4 1.4h0m2.2-24.7h0m.3 25.2h0m1.3-.4h0m2.2-34.6h0m.6 7.8h0m.9-1.5h0m.8 6.6h0m0 11.7h0m.1-8.7h0m.2-.4h0m0-.4h0m.2-15.5h0m.2 5.8h0m.4-7.2h0m.1 14h0m.2 9.9h0m.4-10.7h0m.3-12h0m.2 15.8h0m.7 1.4h0m.3-12.3h0m.9-4.1h0m1 4.8h0m.6 1.1h0m0 9.4h0m0-2.7h0m.2 8.8h0m.1-20.1h0m.5 19.4h0m1.4 1h0m.1-5.8h0m.3-4.9h0m.5 9.2h0m0 16.1h0m0 3.4h0m0-7.7h0m.1 5.9h0m.2-12.2h0m.1 4.9h0m.3-29.7h0m0 36.6h0m.1-4h0m.2-11.2h0m0 12.3h0m.2-26.3h0m.5-7.5h0m0 19.3h0m.3-3.1h0m.6 8.1h0m.3-12.7h0m0 9.9h0m1.1-12.1h0m.6-3.9h0m.2 12.7h0m.1-1h0m.4-13.6h0m.1 12.7h0m0-16.4h0m.2 8.5h0m0 4.6h0m.2-.2h0m.6 3h0m.1 3.2h0m0-6.8h0m.2 .5h0m.2 8.6h0m.2-19.9h0m.3 5.5h0m.2-1.4h0m.2 16.5h0m0-14.3h0m.1 8.3h0m0 7.4h0m.5-7.1h0m.2 1.7h0m0-2.5h0m0 2.3h0m.4 3h0m.2-1.6h0m.2 0h0m.5-7.8h0m.4 8.2h0m.3 .2h0m0-1.8h0m.1 .8h0m.1-5.2h0m.1 4.2h0m.2 1.7h0m.4 1.1h0m0-1.5h0m.4-4.1h0m.1 4.1h0m.3 .5h0m.5-5h0m.3 3.8h0m.8-.3h0m.1 3.3h0m.5-.7h0m1.1 .2h0m.3 1.1h0m1.6 1.3h0" stroke="#3f4da0" stroke-width="2.60" stroke-linecap="round" fill="none"/>
<path d="M1706 830.5h0m2.1 1.4h0m1.2 .4h0m.1-.2h0m.2 1.8h0m.6 28.5h0m.4 108.6h0m.6 5.4h0m1.3-141.3h0m.4 141h0m.3-10.5h0m.3 9.5h0m.4-111.9h0m.9 114.4h0m.3-115.3h0m.4 112h0m.1-136.1h0m.4 25h0m.2-23.7h0m.5 123.4h0m1.5 13.4h0m.1-113.8h0m1.3-1.8h0m.3 99.4h0m.6-113.9h0m0 132.1h0m.1-130.2h0m.3 115.6h0m1.7-104h0m.9 101.1h0m.3 3.8h0m.8-12.7h0m.2 1.9h0m1-4.9h0m1 14.1h0m.8-5.2h0m1.5-6.3h0m.4 .9h0m1.6 16.1h0m1.9-6.5h0m.2 2.7h0m.9 4.5h0m3.2-27.6h0m1.8 36h0m0-26.9h0m1.6-1h0m.7-7.6h0m.2 38.5h0m.3-11.6h0m.6-21.6h0m.1 19.6h0m.7 1.1h0m.7-31.8h0m.4 17.1h0m.5 10.2h0m.2-16.8h0m.4 7.9h0m.4-13.7h0m1.5 1.2h0m1.7 7.1h0m.2 7.8h0m.3-13.9h0m.1 6.9h0m.5-3h0m1.4-9.4h0m.2 21.1h0m.1 23.1h0m.5-28.6h0m.1-13.2h0m.2 14h0m.5 11.7h0m0 12.3h0m.2-31.5h0m.8 12.2h0m1.3-12.2h0m.1-6.9h0m.1 7.5h0m.2 8h0m.3-.9h0m2.1 5.6h0m.8-18.9h0m.8 12.8h0m.4 24.3h0m.1-5.7h0m.1 9.6h0m0-35.7h0m.3 20.1h0m.2-22.6h0m.3 14.3h0m1.7 19.3h0m.6-19.2h0m1.1-7.2h0m.3-9.7h0m.7 4.1h0m2-.8h0m.8 12.2h0m2.7 10.6h0m.9-14.5h0m.4 1.7h0m.8-.8h0m.6 16h0m.3-46.7h0m1.1 34h0m.1-3.8h0m.1-3.8h0m0 8.8h0m.1 10.2h0m1.6 7.2h0m0 22.2h0m.3-47.9h0m.4 4.6h0m.7 33.3h0m.2-5.2h0m.2 13.7h0m.8-53.6h0m.6-47.4h0m.4 97.4h0m.5-78.5h0m.2 57.7h0m1.4-59.9h0m.4 73.8h0m.8-89.2h0m.5 112.3h0m.2-6.6h0m0-42.5h0m.5 48.1h0m.1-1h0m1.6-85.1h0m.1 69.6h0m.5-21.7h0m.4-53.3h0m1.3 17.5h0m.1 32.9h0m1-52.1h0m.4 3.3h0m.2-4.9h0m.5-11.2h0m.7-6.5h0m.4 20.6h0m.5 8.8h0m.1-15.7h0m.2 63.9h0m.6-79.3h0m.1-1.5h0m1.6-3h0m2.8 2.6h0m.2 28.1h0m1-33.9h0m.7 50.6h0m.1 28.6h0m.3 5.4h0m1.2-79.8h0m.1 24.1h0m.2 22.5h0m2.6 29.6h0m1-22.6h0m.1 .3h0m0-60.4h0m.3 60.4h0m.2 .1h0m.2-30.2h0m.3 7.6h0m.2 18.7h0m.1 1.8h0m1.3-.8h0m1.3-14.2h0m.1-9.7h0m.6 16h0m1.9-50h0m1.2-5.5h0m1.2 38.4h0m3.1-16h0m.6 40.6h0m6.9-68.9h0m.3-1.5h0m1.2 .7h0m.5-1.5h0m.5 .2h0m1.7 9.9h0m.4 23.7h0m.4-35.4h0m1 72.1h0m1.1-51.7h0m1 56.6h0m0-49.6h0m.6-16.4h0m1.1-14.3h0m.3 80.2h0m.3-50.4h0m.7-9.3h0m.1 61.3h0m.2-58.3h0m.2-22.3h0m.1 30.9h0m.3-9.3h0m.1 57.8h0m0-88.2h0m.2 35.4h0m.8-37.9h0m0 2.1h0m.3-.9h0m.7 .3h0m.4-6.5h0m.6 7.5h0m.3 .2h0m.1 90.6h0m0-95.3h0m.2-3.7h0m.3 27.6h0m.3-3.1h0m.6-19h0m0 56.2h0m.3-12.4h0m0 64.5h0m.3-104.6h0m.5 102.1h0m.1-61.4h0m.1 61.9h0m.1-115.9h0m0 114.4h0m.1-109.8h0m0 .4h0m0 111.4h0m0-109.6h0m.2 108.8h0m.6-2.8h0m.2 .3h0m.2-3.9h0m0-97.2h0m.3 100.8h0m0-14.9h0m.2 11.4h0m.3-155.8h0m.1 150.2h0m0 3.4h0m.1-47.6h0m.1 41.1h0m0 10.4h0m.2-2.4h0m0-7.1h0m.1-1.6h0m0 6.8h0m.2 3.8h0m.1-1.9h0m.1-62.2h0m0 50h0m.2 1.9h0m.5 6.2h0m.1-101.4h0m.1 102.1h0m.9-47h0m.1-101.9h0m.1 102.5h0m1.2-103.7h0m.1 8.1h0m.6-.3h0m.4 37.8h0m1.5-30.4h0m4.5 29.2h0m.2 3.5h0m1.6-3.7h0m.4-.4h0m.2 .4h0m.3 1.4h0m.5-7.2h0m.1 .1h0m.3-22.2h0m.6 22.6h0m.2-3.4h0m1-10.7h0m.2 13.4h0m.4 55.7h0m.8-66.8h0m0-9.8h0m.9 13.8h0m1.2-12.4h0m1.6 .3h0m.5 3.1h0m4.2 85.5h0m.4-37.5h0m0 .3h0m1.2-1.3h0m.7 40.1h0m.8-12.2h0m0-30.6h0m.1-1.9h0m.2 14.3h0m.1-15h0m.1 1.5h0m.6-.5h0m0 38.9h0m.3-37.9h0m0-1h0m.2-2.3h0m.1 36.6h0m.5-35.9h0m.6 3.2h0m.1-3h0m0 1.6h0m.1 1.5h0m1.4 19.6h0m1.1-24.6h0m3.5 35.9h0m.4-54.6h0m0 50.3h0m.7-8.3h0m.6-43.4h0m.2-12.9h0m.6 8.7h0m.2-11h0m0 5.4h0m.3-5.4h0m.4 4.1h0m.3-1.4h0m.3 76.3h0m.3-74.4h0m.3 7.6h0m.1 13.9h0m.7-17.8h0m0 10.7h0m.6-11.9h0m.4 19.5h0m0-13.2h0m.1-15.9h0m.8 7.9h0m.3 .5h0m0-7h0m1.2 5.4h0m.3 16.4h0m.5 5h0m.8-16.6h0m1.5-.3h0m.1 30.5h0m.4-2.6h0m.3 2.7h0m.1-33.8h0m.1 29.9h0m0-11.6h0m.9-6.4h0m.2-10.1h0m.2 5.8h0m.6 5.5h0m.8 11h0m.1-22.2h0m.1 25.2h0m.1-13.6h0m.7-1.1h0m.4 1h0m0 8.4h0m.3-14.8h0m.5 5.7h0m.3 .7h0m.6-1.3h0m.4 .6h0m.5 2.9h0m.5 3.3h0m.9-4.6h0m.1 2.5h0m0-7.5h0m.2 6.3h0m.3 2h0m.1-3h0m.2 1.3h0m0-1.9h0m1.1 6.5h0m.2-5.5h0m.5-.5h0m.2 3.5h0m.6-1.8h0m.1 0h0m.2 .8h0m.7 2.1h0m0 .5h0m1.1-1h0m.9-5.5h0m.4 7.7h0m0-1.7h0m.4-.7h0m.1 2h0" stroke="#4a6fb4" stroke-width="2.60" stroke-linecap="round" fill="none"/>
<path d="M1886.6 822.9h0m.2 19.9h0m1 7.3h0m.1-10h0m.5-8.3h0m1.5 1.9h0m.1-.3h0m.8 11.4h0m1.1-.7h0m2.2-7.7h0m.9-8h0m1.4 27.4h0m.6 6.4h0m1-27h0m2.1-.7h0m.3 19.8h0m.4-8.8h0m2.2 1.7h0m1.2 .4h0m0-8.7h0m.1 6.9h0m2.2 .8h0m2.2 4.3h0m.2-10.6h0m.5 10.2h0m2.3 3h0m.5-.8h0m1.8-2.9h0" stroke="#6aa5b8" stroke-width="2.60" stroke-linecap="round" fill="none"/>
<path d="M1706 829.9h0m.4-.3h0m.2 .4h0m3.5 33.4h0m.4-30h0m.7 29.7h0m.4-1.2h0m.1 114.3h0m.5-141h0m.9 142.6h0m.6-115.5h0m0 113.6h0m0 1.3h0m.1-115.4h0m.1 114.1h0m.2-3.4h0m.1-110.8h0m.2-24.8h0m.1 .2h0m.1 24.6h0m0 113.8h0m.1 .2h0m.1-.7h0m.3-13.2h0m.3 16.8h0m.1-140.3h0m0 139.6h0m.6-2.2h0m0-136.8h0m.1 137.9h0m.1-113.7h0m1 114.6h0m.1-11.8h0m.1-102.5h0m.3 115.9h0m.2-137.8h0m.1 129h0m.5-108.5h0m0 .5h0m0 113.4h0m.2 .9h0m.1-18.7h0m.7-110.8h0m0 15.3h0m.2-.8h0m0 105.1h0m0 10h0m.4-5.3h0m0-110.1h0m.2-14.7h0m.3 121.8h0m.4-7.9h0m.3 2.8h0m.5 1.2h0m.4-105.8h0m.1 108.8h0m.2 .6h0m1.1-4.5h0m.4-6.1h0m0 9.9h0m.1 .3h0m.1 5.1h0m.1-9h0m.3-6.6h0m.1 .3h0m.5-9h0m.5 20.1h0m.1-1.6h0m.4-.7h0m.1-9.8h0m.3 7.5h0m.1-11.9h0m.1 1h0m.4 13.9h0m.1-3.7h0m.8-4.1h0m.2 8h0m.1-13.4h0m.3 12.4h0m.4-3.9h0m.4-12.3h0m.4 30.7h0m0-29.6h0m.3 .2h0m.1 11.9h0m.1-11.9h0m.2 12.6h0m.8 7.3h0m.1 1.7h0m.1-25.4h0m.1 19.3h0m.2-2.8h0m.1 4.8h0m.4 3.9h0m1.1 .1h0m.4-15.2h0m0 9h0m.4 4.8h0m0-13.3h0m.2 9.4h0m.2-14.4h0m.7 13.9h0m0 2.2h0m.1-7.8h0m.9 2.7h0m.2 6.1h0m.5-11.3h0m.8 16.1h0m.4-32.5h0m.9 19.8h0m1.1 7h0m.3 1.9h0m.3-8.2h0m.6 3.2h0m.6 11.2h0m.5-13h0m0 6.1h0m.1-5.1h0m0 9.2h0m.5 7.5h0m.1-16h0m.4-21h0m.4 28.6h0m.7-21.3h0m1.1-12.3h0m.1 .7h0m.1-4.7h0m.3 47.8h0m.3-9.7h0m1.2-26.4h0m.1 13.5h0m.5-11.7h0m.3 24.8h0m.1-27.4h0m.1 1.7h0m.2 9.9h0m.1 3h0m.2 3.5h0m.4-7.7h0m.1 11.2h0m.5-20h0m.1 29.9h0m.1-10.1h0m.8-7.1h0m.1 3.8h0m.2 2.6h0m.8 8.1h0m.8-33.4h0m.1-3.3h0m.6 31.3h0m.8-1.2h0m.3-30.2h0m.1 .7h0m1.1 12.8h0m.4 7h0m.4-21h0m.2 36.4h0m.2-37.7h0m.3 30.7h0m.3 10.9h0m.3-1.5h0m.3-35.7h0m.3 41.2h0m.3-6.4h0m.1 .2h0m1.3-8.2h0m.4 14.4h0m.5-30.1h0m.2 19.9h0m.4 5.3h0m.1-14.7h0m.1 9h0m.1-3.7h0m1 9.1h0m.2-3.7h0m0 3.4h0m0-1.6h0m.1-12h0m0 2.7h0m.1-19.1h0m1.8 38.8h0m.4-64.4h0m.3 23.2h0m.7 31h0m.1-11.3h0m.1-2.9h0m.3-19.9h0m.6 3h0m.2 19.8h0m.6-16.7h0m.3 12.5h0m.1 8.3h0m.2-21.5h0m1.7 13h0m.1 2.4h0m.7-42.5h0m.6 51.2h0m0-3.5h0m.1-18.7h0m0 17.6h0m.3-15.4h0m.1 4.9h0m0-2.4h0m.4 36.6h0m0-35.7h0m.7 29.5h0m.3-38h0m.1 10.4h0m0-40.7h0m.3 31.2h0m0 13.2h0m.4-38.9h0m.7 40.1h0m0 30.8h0m.3-76.9h0m.4 67.8h0m0 5.5h0m.2-18.7h0m.4 12.1h0m.5-9.4h0m.1-57h0m0 41.6h0m0 14.5h0m.2-24.7h0m1.1 52.2h0m0-79.5h0m.1 64.5h0m.5-22.7h0m0-33.7h0m.3 54.6h0m0-2.4h0m.1-5.4h0m.2-48.4h0m.3 68.4h0m.5-3.4h0m.1-27.6h0m.1 36.6h0m.1-95.5h0m0 58.2h0m.8 37h0m0 7.9h0m.5-10.9h0m.5 9.9h0m.4 1.5h0m.1-1.7h0m.5-51.1h0m.2 7.7h0m.1 31.9h0m.1-60.1h0m.2 71.7h0m.1-29.8h0m0-82.3h0m.1 114.7h0m.1-82.7h0m0 38.4h0m.1 6.9h0m.2 36.3h0m.1-2.2h0m.1 2h0m0-.2h0m.1-.3h0m.1-8.9h0m.1-69.6h0m.1 78h0m0-109.2h0m.2 6.7h0m.2 102.8h0m.1-.1h0m0-84h0m.6 1.3h0m.1-22.5h0m.1 31.1h0m.1-13.7h0m.1 49.6h0m.9 .5h0m0-2.5h0m.3 27.4h0m.2-69.3h0m.2 9h0m.2 60.8h0m.1-78h0m.4-1.4h0m.8 64.2h0m0-69.5h0m.1 65.8h0m1.2-13.1h0m.8 19.3h0m0-66.6h0m.2 50.7h0m.1-62.8h0m.8-9.4h0m.3 71.9h0m.2-46h0m.6 60.5h0m1.7-34.3h0m1.1 24.8h0m.1-55.1h0m.1 55.4h0m1.2-2.6h0m.6 2.5h0m.2 4.9h0m2.2-13h0m.2 11.1h0m.4 3.8h0m.7-90h0m1.2 22.3h0m.4-24.8h0m.5 62.8h0m.3-15.3h0m.2-46.2h0m0 54h0m.1-56.8h0m.3 58.2h0m0 1.5h0m.1-62h0m.1 59.3h0m.1 2.2h0m1 7.9h0m.5-18.4h0m.2 17.9h0m1.3-72.2h0m.5 54.1h0m.4-8.9h0m.8-38.3h0m.6 49.7h0m.4-17.2h0m.6-2.2h0m4.5 8.1h0m2.5-21.4h0m1.6 31.6h0m.6-40.7h0m.3 42.3h0m.4-40.9h0m.2 6.1h0m.4 30.4h0m.3-30.7h0m.1 0h0m1.3 4.4h0m.7-20.3h0m1.3 12.8h0m2.1-14.3h0m.2 45.8h0m1.2-1.5h0m.2-31.5h0m.2-27.2h0m0 2.1h0m0 53h0m0-39.1h0m.3 1.8h0m0 39.4h0m.1-47.6h0m.1-11.6h0m.2 12.7h0m1.4-3.6h0m.4 44.7h0m.2-34.2h0m.3-10.3h0m.2 2.8h0m.1 15.1h0m0 15.5h0m.2-22.1h0m.1-29.2h0m0 36.4h0m.1 15.2h0m.2-3.2h0m0-23.9h0m0 38.9h0m.3-4.1h0m.1-.6h0m.1 .8h0m.2-12.2h0m.3-48.7h0m.1 26.1h0m.1-1.7h0m.6 5.6h0m.3-5h0m.1 38.2h0m.1-4.1h0m0-16h0m.2-45.7h0m0 26.6h0m.2-24.7h0m0 1h0m.3-2.1h0m.1 2.2h0m0 32.1h0m0 3.2h0m0 26.7h0m.2-34.9h0m.1 8h0m.1-16.4h0m0 34.1h0m.1-51.9h0m.2 7.1h0m.1 40.5h0m.1-17.1h0m.1-8.4h0m.2 12.5h0m0 17.1h0m.2-53.3h0m0-3.5h0m0 5.7h0m.3-3.1h0m0 2.7h0m.3 .2h0m0 28.7h0m.1 5.9h0m.2-12.9h0m0-23.2h0m.1 44.3h0m0-22.6h0m0-22.4h0m.3 1.2h0m0-9.8h0m.3 25.3h0m.3 19.3h0m.3 9.2h0m.1-42.6h0m.2 37.2h0m.5 8.9h0m.1-13h0m.1 8.7h0m.1-1.5h0m.2-40.7h0m.1 42.2h0m.3 35.8h0m.1-85h0m.1 45.9h0m.4 9.9h0m.3-5.8h0m.2-5.9h0m.4-9.4h0m.1 2.2h0m.3-10.5h0m.1 10.4h0m.4 7.9h0m.3-97.9h0m.5 92.7h0m.4 14.9h0m0-8.1h0m.5-94.8h0m.5 70.5h0m.4-29.3h0m.2 57.5h0m.2-3.1h0m.3-94.9h0m.4-2.5h0m.4 8.8h0m.3-3.5h0m.1 16.4h0m0-15.4h0m.3 31.2h0m.1-36.7h0m.1 4.7h0m0 94.6h0m.2-83.1h0m0-10.4h0m.5 1.5h0m.3 10.2h0m0-3h0m.1-2.8h0m.2 8h0m0-.6h0m.1-5.2h0m1.3-3.3h0m.1-2h0m1.4 38.7h0m.4-1.6h0m4-1.6h0m1.1-28.1h0m.2 76.8h0m.1-52.1h0m.3-5.1h0m0 5.2h0m.3-1.2h0m.5-24.7h0m.2-.9h0m.1 17.3h0m.1 63.3h0m.3-60.1h0m0-3.3h0m.1-1.6h0m.3 7.5h0m.1-11.5h0m0 5.8h0m.1-15.4h0m.2 .5h0m0 9.1h0m.6 0h0m.4-1.3h0m.7 5.9h0m.2-5.5h0m.8 57.8h0m.4-5.8h0m.1-57.5h0m.1 79h0m.8-79h0m1.2 69.1h0m.1 7.9h0m.4-16.1h0m1.1 18.3h0m.2-22h0m0 20.1h0m.1-5h0m.2 6h0m.3-25.5h0m.2 4.1h0m.2 25.7h0m.1-11.2h0m0-3.6h0m.1 20.7h0m.2-46.7h0m.2 3h0m0 44.2h0m.1-46.8h0m.2 26.3h0m0 21.7h0m0-12.5h0m.9-22.1h0m0 24.8h0m.2 10.4h0m.4-42.5h0m.2 36.2h0m.1 3h0m0-1.5h0m.1-38.1h0m.7-7.2h0m.7 1h0m.2 46.2h0m.1-46.3h0m0 5.9h0m0 17.3h0m.5-20.9h0m0 40.1h0m.1-42.8h0m0 46.3h0m.3-9.3h0m.5-38.3h0m.1 30.5h0m.2-25.7h0m.2 42.7h0m.4-43.9h0m.1 39.2h0m0-38.9h0m.1 17.4h0m.2 7.3h0m.5-26.6h0m.3 42.8h0m.2-42.2h0m.7-2.2h0m.2 45.7h0m.3 .5h0m1-.2h0m.3-5.4h0m.2 3.3h0m.2 .1h0m0-10.7h0m.4 11.4h0m.2-3.6h0m0-60.6h0m.3 54.8h0m.3-26.7h0m.2 30.2h0m.1 6.2h0m.7-22.8h0m.4 22.5h0m.1-56.5h0m.3 32.5h0m.5-33h0m0 44.8h0m0 10.9h0m.1-3.6h0m.2-47.6h0m.7 38.6h0m.4-7.5h0m.4-2.3h0m.2 14.1h0m.1-.3h0m.1-1.6h0m0 4.1h0m.6 .1h0m0-15.2h0m.1-30.8h0m0 53.9h0m.5-56.3h0m.4 55.7h0m0-3.5h0m.1 3.9h0m.9-9.5h0m0-47.4h0m.4 52.7h0m.1 4.9h0m.1-1.3h0m0-1.1h0m.1-61.4h0m.8 61.4h0m.3-60.3h0m.3 3.5h0m.3 34.8h0m0 13.1h0m.1-58.2h0m0 59.2h0m.1 5.6h0m.2-67.5h0m.2 63.7h0m.2-.7h0m.2 2.4h0m0-10.9h0m.6 8.3h0m.6 5.8h0m.3-7h0m.2-40.2h0m.1 27.9h0m.1-23.1h0m.6 3.8h0m.7-35h0m.3 68.9h0m1.2-66.5h0m1.8 15.2h0m1-2.8h0m1.3 1.4h0m1 2.2h0m.2-7.1h0m1.3 5.6h0m.8 10.2h0m.5-6.5h0m.1 1.5h0m.1-3.5h0m.2-10.3h0m2.6 17.6h0m2.6-4.3h0m.1 .7h0m1-3.2h0m.3 .5h0" stroke="#8fc8a4" stroke-width="2.60" stroke-linecap="round" fill="none"/>
<path d="M1712.9 978.4h0m0-2.6h0m.5 .3h0m.2-.4h0m.9 .9h0m.6 1.8h0m1.2-12.4h0m.7-6.2h0m.8 5.7h0m2.9-13.5h0m.1 9.7h0m.2 11.3h0m1.2-17.8h0m.8 10.2h0m.2 1.4h0m.5-6.2h0m1.7 6.3h0m.1-11.1h0m.7 0h0m.2 8.1h0m.1-9.7h0m.6-5.6h0m0 4.2h0m.9 17.3h0m.2-9.5h0m1.2-4.8h0m.8 13.1h0m1.2 4.5h0m.4-15.2h0m.8 3.9h0m1.7-4.5h0m.3 15.3h0m.6-3.1h0m.2 .7h0m1.1 6.8h0m.3-3.7h0m1.6-1.2h0m.2-7.2h0m.3 5.4h0m.7 5.6h0m1.4-7.7h0m.1 12.3h0m2.5-14h0m.3-1.6h0m1.6 .7h0m.7 4.6h0m.3 .6h0m4.7-10h0m1 10.8h0m9.3 1.1h0m.1-9.7h0m0-1.2h0m3.8 6.7h0m3.1-9.3h0m.2 11.5h0m1.7 1.1h0m1.5 8.4h0m2.8-4.9h0m1.5-62.7h0m1.2 81.4h0m1-73.4h0m.3 48.9h0m.7-60.4h0m.2 5.9h0m.2-4.6h0m.2 66.2h0m.3 5.5h0m0-50.6h0m.2-8.6h0m.4 56.5h0m.1-51.3h0m.2-20h0m1.3 12.4h0m.1 1.9h0m.5 8.4h0m.2-6.9h0m0 83.9h0m1.1-.7h0m.2 .9h0m.2-13.4h0m.5-75.1h0m.2 79.3h0m.3-92.3h0m.2 15.4h0m.5-18.8h0m1 68.2h0m.1-56.9h0m.9-13.8h0m.4 15.1h0m.2-1h0m.4 8.6h0m.3 5.4h0m0-16.8h0m0 59.4h0m.1-36.8h0m.3 37.7h0m.3-39.2h0m1.2-10.8h0m.3 46.1h0m.4-.9h0m.7-54.3h0m.3-4.7h0m0 55.1h0m.4-.5h0m.5-37.2h0m.1-14.7h0m2.6 16.6h0m2-3.6h0m1.1 18.8h0m.2-25.8h0m.8 23.5h0m.7 1.4h0m.6-14.1h0m.4 16.4h0m.2-20.7h0m.7 18.5h0m1.7-.4h0m.2-4.2h0m.2 6h0m.6 1.2h0m.4-.9h0m.5-3.3h0m.7-7.1h0m.1 7.4h0m.1 3.1h0m0-5.6h0m.2-18.6h0m.1 26.3h0m1.5-8.1h0m1.8-14.7h0m9.6-23h0m11.6-24.3h0m.3 17.2h0m.2 8.1h0m1 .5h0m.1-5.1h0m.4 2.7h0m.9 9.2h0m.3-.3h0m.5 12.4h0m.9-23.1h0m.4-19.1h0m.9 45.6h0m1.2-51.2h0m.4 22.7h0m1.3 12.8h0m.1-13.6h0m1.4 22.4h0m1.9-27.7h0m1.4 15.1h0m.1-14.9h0m.2 7.8h0m.3-1h0m.3 .3h0m18.1-7.6h0m8.6 20.6h0m.5-.6h0m.6-23h0m1.3 8.9h0m.6 6.8h0m.3 3.4h0m.3 3.7h0m4.4-2.4h0m.6-16.1h0m2.7 15.1h0m3.7-8.6h0m.1-8.7h0m.1 17.5h0m0-9.3h0m4.4 5.4h0m.9-14.3h0m0-2.7h0m.5 17h0m1-4.1h0m.6-25.3h0m2.3 19.5h0" stroke="#b8d890" stroke-width="2.60" stroke-linecap="round" fill="none"/>
<path d="M1712.8 861.9h0m.6 .5h0m.8 .1h0m.8 .3h0m1.5-.9h0m1.8 90.7h0m2.1-91h0m1.2-2.6h0m.7 1h0m24.4 112.2h0m.6 3.5h0m.3 .9h0m1.9-1.6h0m.3-10.9h0m5.1 4.8h0m.8 7.7h0m1.7-8.8h0m1.1-5.6h0m.4 4.9h0m.6 12.3h0m2.4 1.3h0m3.2-10.4h0m.1-12h0m1 5.9h0m.1 17h0m.1-5.4h0m.4 5h0m2.8 4.7h0m.9-23.1h0m.8 .3h0m2.2 4.7h0m0-5h0m1.1-42h0m.1 74h0m.2-3.3h0m.3-13.1h0m.1-51.7h0m.2-10.4h0m1.5 59.2h0m1.3 22.3h0m.1-85.4h0m.1 5.3h0m.2 52.2h0m.7-4.5h0m.4-46.8h0m.2 61.5h0m.5-1.9h0m.5-13.9h0m.4 28.9h0m.9-81.5h0m.3 83.2h0m.2-73.2h0m.3-14.6h0m0 55.8h0m.5 18.9h0m.1-47h0m.3 32.5h0m0-45.7h0m.4 66.7h0m0 20h0m.3-.1h0m.5-98h0m.1 97.9h0m.3-82h0m0-13.2h0m.2 .9h0m.1-8h0m.1 1.3h0m0-2.4h0m0 89.2h0m.1-91.2h0m.2 1.3h0m.2 93.5h0m.5-80.1h0m.5-12.9h0m.1 69.6h0m.1-65.6h0m.1-6.8h0m.1 29.9h0m0 1.7h0m.2 60.6h0m.4-76.9h0m.3-3.6h0m0 59.7h0m.3-11.6h0m.1 17.1h0m.1-73h0m.2 87.1h0m.2-72h0m.5-22.6h0m.2 83.6h0m.1-16.7h0m.2 22.8h0m.3-61.1h0m.1 62.8h0m.2-84.4h0m0 76.8h0m.5-81.2h0m.1 17.2h0m.1 17.7h0m0 47.5h0m0-54.9h0m.3 .9h0m.1-24.4h0m.4 80.3h0m.2-68.6h0m.3 62.1h0m.2 6.6h0m.2-10h0m.2-6.1h0m.2 10.5h0m0-71.5h0m.1 4.9h0m0 5.8h0m.2 68.2h0m.4-5.3h0m0 3.5h0m.2-55.8h0m.3 58.6h0m.5-68.2h0m.2 11h0m1.1 47.7h0m.2-15.6h0m.1 10.3h0m.2-58.5h0m.8 2.4h0m.2 15.4h0m.2 42.3h0m.2-61.1h0m.8 30.5h0m0 37.5h0m0-54.2h0m.5 52.4h0m.3-38h0m.1-25.3h0m.1 53.3h0m.1-35.4h0m.1 7.7h0m.2 32.3h0m.8-22.6h0m.3-21.9h0m.2-9h0m.1-4.8h0m.2 57.8h0m.1-42.6h0m.1-9.3h0m.4-4.2h0m.2 31.4h0m.1-14.6h0m.1-5.2h0m.1 8.3h0m1.4-7.7h0m.3 4.1h0m.1-.6h0m.2 11.7h0m.3-15.4h0m.1 4.2h0m.3 14.5h0m.4-20.9h0m0 16.9h0m.1-3.8h0m0-20.8h0m.9-.8h0m.7 23.2h0m.2 1.1h0m1.1 27.5h0m.2-46.3h0m1.3-6h0m.9-27.1h0m.2 34.7h0m1.1-8h0m.7 1.7h0m.2 7.1h0m.7-2.2h0m.1-7.3h0m0 .4h0m1.1-.9h0m3.3 20h0m.1-4.3h0m1.7 2.3h0m2.4-1.7h0m.2-43.3h0m.4-18.7h0m1.1 62.2h0m1.2-2.1h0m.2 .1h0m1.4-2.6h0m1.3-2h0m1.1-56.8h0m.6-.2h0m1.1 8.9h0m1.2-9.7h0m.2 10.2h0m1 42.3h0m.3-11.3h0m0-50.9h0m.6 59h0m1.7-40.1h0m.1 17.5h0m0 22.3h0m.3 1.6h0m1.3 1.9h0m.1-28.4h0m.2 26.7h0m.1-31.4h0m0-28.2h0m0-3.8h0m.1-1.2h0m.1 3.5h0m0 54.6h0m.1-6.8h0m.1 1.6h0m.3-52.5h0m.7 40.6h0m.3-24.1h0m1.1-16.8h0m.1 27.6h0m0 1.4h0m1.2 21.1h0m.2-45.5h0m.7 35.6h0m.1-48.3h0m.2 36.5h0m.3 21.1h0m.1-1h0m.9-23.8h0m.4-3h0m0 17.4h0m.1-46.6h0m.9 57h0m0-26.2h0m.3 20.4h0m2.8-14.1h0m.4-80.1h0m.6 13.6h0m.7 2.8h0m1.1-6.2h0m.9-.2h0m1.4 34.4h0m4.2-3.4h0m1-5.1h0m.3 3.7h0m.6-26.6h0m.7 76.6h0m.3-55.8h0m.2 55.9h0m.7-56.6h0m.6-5.2h0m1.2 59.6h0m.9-.9h0m.3-8.4h0m3 27.2h0m.1-1.2h0m.9-6.2h0m.1-26.3h0m1.4-1.6h0m.8 34.5h0m.1 1.2h0m.6-17.7h0m1.2 7.4h0m1-4.3h0m.3-33.6h0m.3 29.3h0m0-31.7h0m.4 6.3h0m0 42.7h0m.2-44.5h0m.2 34.7h0m.3-3.7h0m.1-30.6h0m.4 25.1h0m.4-3.8h0m.4-21.9h0m.6 2.1h0m.1 42.8h0m.1-1.9h0m.8-40.9h0m.5 22.5h0m.4 9.7h0m.6 6h0m1.2-18.7h0m.8 19.1h0m.4-10.1h0m.1 13.3h0m1.1-2.7h0m1.4 1.8h0m1.4-7.7h0m.4 8.3h0m2.8-21.5h0m.4 18.2h0m.5-16.2h0m.4 15.7h0m.6-19.2h0m.3 1.4h0m.2 16.6h0m1.1 0h0m.4-2h0m.2-4.7h0m.3 6.3h0m.3-7.8h0m0 3.5h0m1.4-1.3h0m.5 .1h0m14.4-40h0" stroke="#f0d84a" stroke-width="2.60" stroke-linecap="round" fill="none"/>
<path d="M1773.2 923.9h0m5.3 .9h0m.8-5.1h0m.7-11.3h0m4 .3h0m.6 3.9h0m.1 2h0m.7 17.5h0m.3-16.5h0m1.4 8.9h0m.4-15.1h0m.1-6.7h0m.9 13.5h0m.3 70.7h0m.7-59.9h0m2.2-5.2h0m.8 73.8h0m.5-71.4h0m.7-19.2h0m.8 77.4h0m2.1-58.6h0m.9 50.3h0m1.5 .5h0m.7-54.7h0m.8-5.9h0m.2 41.1h0m.7-11.4h0m.6-12.1h0m.1-6.6h0m.1 20.7h0m.1-.8h0m.9-18.6h0m1.3 8.4h0m.3 10.3h0m.2-1.8h0m.1 .6h0m.6-16.9h0m1.1 17h0m.2-16.5h0m.5 17.6h0m.4-22h0m0 21.9h0m.3 .4h0m.1-25.3h0m.9 8h0m.1 3.2h0m.8-9.3h0m.3 4.3h0m.1 7h0m1.5-2.6h0m.1 .9h0m1-6.2h0m.2-3.3h0m.4 3.6h0m2.8-2.2h0m1-1h0m.9-2.7h0m4.6-24.8h0m.2 37.9h0m3.4 1.7h0m1.6-3h0m.9-37.8h0m3.2 30.1h0m2.7-15.9h0m.5 14.4h0m.5-33.9h0m.1 29.6h0m.5-35.9h0m.6 19.1h0m.3-7.8h0m.2-8.3h0m.2 33.4h0m.3-7.2h0m.3-34.5h0m.5 21.5h0m.7-.7h0m0-13.9h0m.2-3.8h0m.3 32.1h0m1.1-8.3h0m1.9 4.3h0m.2-32.9h0m.9 3h0m1.1 17.4h0m.8-21.4h0m15.7 23.5h0m5.8 3.1h0m.3-3.1h0m1.7 3.5h0m.2 7.4h0m.1-11.2h0m.1 15.1h0m7.9-24.2h0m2.9 19.1h0m2.3-7.9h0m.1-13.7h0m1.5 21h0m1.1-1.3h0m0-21.7h0m0 4.7h0m.2 4.2h0m.4 8.8h0m.5-6h0m3.2 1.3h0m.3-2.3h0m1.4-1.7h0m.7-6.8h0" stroke="#f6b23c" stroke-width="2.60" stroke-linecap="round" fill="none"/>
<path d="M1776.6 915h0m4.1-2.7h0m.9 18h0m1.2-28.9h0m.6 19.5h0m.4 2.5h0m1.3-20.7h0m.9 1.9h0m.7-6.6h0m2.5 26.6h0m1.1-10.3h0m5.5 10.8h0m.5 2h0m7.1 14.8h0m.4 6.2h0m.6-4.1h0m.8-.8h0m.5-14h0m.9 15.3h0m5.8-18.1h0" stroke="#ee7a30" stroke-width="2.60" stroke-linecap="round" fill="none"/>
<rect x="1694.5" y="787.4" width="233.5" height="232.6" fill="none" stroke="#333" stroke-width="1.2"/>
<text x="1710.3" y="811.6" font-size="22.5" fill="#000" font-style="italic">RUNX1</text>
<rect x="1937.5" y="806.9" width="13.5" height="68.0" fill="url(#spec)"/>
<line x1="1946.0" y1="809.5" x2="1949.5" y2="809.5" stroke="#fff" stroke-width="0.8"/>
<line x1="1946.0" y1="833.5" x2="1949.5" y2="833.5" stroke="#fff" stroke-width="0.8"/>
<line x1="1946.0" y1="860.0" x2="1949.5" y2="860.0" stroke="#fff" stroke-width="0.8"/>
<text x="1956.3" y="811.5" font-size="19.5" fill="#000">5</text>
<text x="1956.3" y="838.0" font-size="19.5" fill="#000">3</text>
<text x="1956.3" y="865.0" font-size="19.5" fill="#000">1</text>
<text x="1380.5" y="754.5" font-size="38.5" fill="#231f20" font-weight="bold">F</text>
<text x="1511.3" y="1068.0" font-size="19.6" fill="#000" font-weight="bold">Tissue Region</text>
<rect x="1511.3" y="1072.4" width="18.7" height="18.8" fill="#3b80c4"/>
<text x="1535.5" y="1090.0" font-size="21.5" fill="#000">Non-metastatic</text>
<rect x="1511.3" y="1093.0" width="18.7" height="18.8" fill="#14574a"/>
<text x="1535.5" y="1110.6" font-size="21.5" fill="#000">Distal</text>
<rect x="1685.0" y="1072.4" width="18.7" height="18.8" fill="#f5b529"/>
<text x="1709.2" y="1090.0" font-size="21.5" fill="#000">Peritumoral</text>
<rect x="1685.0" y="1093.0" width="18.7" height="18.8" fill="#d81b60"/>
<text x="1709.2" y="1110.6" font-size="21.5" fill="#000">Tumor</text>
<text x="0.0" y="1232.4" font-size="38.5" fill="#231f20" font-weight="bold">G</text>
<text x="111.9" y="1285.1" font-size="21.6" fill="#00a9b5" text-anchor="middle">Primary tumor</text>
<text x="111.9" y="1311.1" font-size="21.6" fill="#00a9b5" text-anchor="middle">(Adnexa)</text>
<text x="261.0" y="1285.1" font-size="21.6" fill="#e0223c" text-anchor="middle">Metastasis</text>
<text x="261.0" y="1311.1" font-size="21.6" fill="#e0223c" text-anchor="middle">(Omentum)</text>
<svg x="35.0" y="1325.3" width="146.5" height="144.5" viewBox="0 0 100 100" preserveAspectRatio="none" overflow="hidden"><rect width="100" height="100" fill="#000"/><g filter="url(#b1)">
<use href="#g1a" stroke="#7a7818" stroke-width="9.8" stroke-linecap="round" stroke-linejoin="round" fill="none"/><use href="#g1b" stroke="#7a7818" stroke-width="8.2" stroke-linecap="round" stroke-linejoin="round" fill="none"/>
<use href="#g1a" stroke="#e2dc20" stroke-width="7.3" stroke-linecap="round" stroke-linejoin="round" fill="none" opacity="0.95"/><use href="#g1b" stroke="#e2dc20" stroke-width="6.1" stroke-linecap="round" stroke-linejoin="round" fill="none" opacity="0.95"/>
<use href="#g1a" stroke="#2434a0" stroke-width="5.6" stroke-linecap="round" stroke-linejoin="round" fill="none"/><use href="#g1b" stroke="#2c42b4" stroke-width="4.4" stroke-linecap="round" stroke-linejoin="round" fill="none"/><use href="#g1c" stroke="#2436a8" stroke-width="2.2" stroke-linecap="round" stroke-linejoin="round" fill="none"/>
<use href="#g1g" stroke="#22c060" stroke-width="2.2" stroke-linecap="round" stroke-linejoin="round" fill="none"/>
</g></svg>
<rect x="132.7" y="1459.3" width="42.5" height="4.0" fill="#fff"/>
<svg x="189.2" y="1325.3" width="145.8" height="144.5" viewBox="0 0 100 100" preserveAspectRatio="none" overflow="hidden"><rect width="100" height="100" fill="#000"/><g filter="url(#b1)">
<use href="#g2o" stroke="#d8d820" stroke-width="2.2" stroke-linecap="round" stroke-linejoin="round" fill="none"/><use href="#g2a" stroke="#84821c" stroke-width="9.8" stroke-linecap="round" stroke-linejoin="round" fill="none"/><use href="#g2a" stroke="#f0ee38" stroke-width="7.4" stroke-linecap="round" stroke-linejoin="round" fill="none"/>
<use href="#g2a" stroke="#2c42b4" stroke-width="5.6" stroke-linecap="round" stroke-linejoin="round" fill="none"/>
<use href="#g2b" stroke="#2e3ec0" stroke-width="2.8" stroke-linecap="round" stroke-linejoin="round" fill="none"/>
<use href="#g2r" stroke="#d8287c" stroke-width="1.7" stroke-linecap="round" stroke-linejoin="round" fill="none"/>
<use href="#g2g" stroke="#30d070" stroke-width="3.4" stroke-linecap="round" stroke-linejoin="round" fill="none"/>
</g></svg>
<rect x="285.3" y="1459.3" width="42.9" height="4.0" fill="#fff"/>
<svg x="35.0" y="1478.4" width="146.5" height="144.5" viewBox="0 0 100 100" preserveAspectRatio="none" overflow="hidden"><rect width="100" height="100" fill="#000"/><g filter="url(#b1)">
<use href="#g1a" stroke="#7a7818" stroke-width="9.8" stroke-linecap="round" stroke-linejoin="round" fill="none"/><use href="#g1b" stroke="#7a7818" stroke-width="8.2" stroke-linecap="round" stroke-linejoin="round" fill="none"/>
<use href="#g1a" stroke="#e2dc20" stroke-width="7.3" stroke-linecap="round" stroke-linejoin="round" fill="none" opacity="0.95"/><use href="#g1b" stroke="#e2dc20" stroke-width="6.1" stroke-linecap="round" stroke-linejoin="round" fill="none" opacity="0.95"/>
<use href="#g1a" stroke="#2434a0" stroke-width="5.6" stroke-linecap="round" stroke-linejoin="round" fill="none"/><use href="#g1b" stroke="#2c42b4" stroke-width="4.4" stroke-linecap="round" stroke-linejoin="round" fill="none"/><use href="#g1c" stroke="#2436a8" stroke-width="2.2" stroke-linecap="round" stroke-linejoin="round" fill="none"/>
</g></svg>
<rect x="132.7" y="1612.4" width="42.5" height="4.0" fill="#fff"/>
<svg x="189.2" y="1478.4" width="145.8" height="144.5" viewBox="0 0 100 100" preserveAspectRatio="none" overflow="hidden"><rect width="100" height="100" fill="#000"/><g filter="url(#b1)">
<use href="#g2o" stroke="#d8d820" stroke-width="2.2" stroke-linecap="round" stroke-linejoin="round" fill="none"/><use href="#g2a" stroke="#84821c" stroke-width="9.8" stroke-linecap="round" stroke-linejoin="round" fill="none"/><use href="#g2a" stroke="#f0ee38" stroke-width="7.4" stroke-linecap="round" stroke-linejoin="round" fill="none"/>
<use href="#g2a" stroke="#2c42b4" stroke-width="5.6" stroke-linecap="round" stroke-linejoin="round" fill="none"/>
<use href="#g2b" stroke="#2e3ec0" stroke-width="2.8" stroke-linecap="round" stroke-linejoin="round" fill="none"/>
</g></svg>
<rect x="285.3" y="1612.4" width="42.9" height="4.0" fill="#fff"/>
<svg x="35.0" y="1631.3" width="146.5" height="145.3" viewBox="0 0 100 100" preserveAspectRatio="none" overflow="hidden"><rect width="100" height="100" fill="#000"/><g filter="url(#b1)">
<use href="#g1a" stroke="#0c1248" stroke-width="8.5" stroke-linecap="round" stroke-linejoin="round" fill="none"/><use href="#g1b" stroke="#0c1248" stroke-width="7" stroke-linecap="round" stroke-linejoin="round" fill="none"/>
<use href="#g1a" stroke="#222e8c" stroke-width="5.6" stroke-linecap="round" stroke-linejoin="round" fill="none"/><use href="#g1b" stroke="#2a3a9e" stroke-width="4.4" stroke-linecap="round" stroke-linejoin="round" fill="none"/><use href="#g1c" stroke="#2436a8" stroke-width="2.2" stroke-linecap="round" stroke-linejoin="round" fill="none"/>
<use href="#g1g" stroke="#22c060" stroke-width="2.2" stroke-linecap="round" stroke-linejoin="round" fill="none"/>
</g></svg>
<rect x="132.7" y="1766.1" width="42.5" height="4.0" fill="#fff"/>
<svg x="189.2" y="1631.3" width="145.8" height="145.3" viewBox="0 0 100 100" preserveAspectRatio="none" overflow="hidden"><rect width="100" height="100" fill="#000"/><g filter="url(#b1)">
<use href="#g2a" stroke="#0c1248" stroke-width="8.6" stroke-linecap="round" stroke-linejoin="round" fill="none"/>
<use href="#g2o" stroke="#0e4020" stroke-width="3" stroke-linecap="round" stroke-linejoin="round" fill="none"/>
<use href="#g2a" stroke="#2a3a9e" stroke-width="5.6" stroke-linecap="round" stroke-linejoin="round" fill="none"/>
<use href="#g2b" stroke="#2e3ec0" stroke-width="2.8" stroke-linecap="round" stroke-linejoin="round" fill="none"/>
<use href="#g2g" stroke="#30d070" stroke-width="3.4" stroke-linecap="round" stroke-linejoin="round" fill="none"/>
</g></svg>
<rect x="285.3" y="1766.1" width="42.9" height="4.0" fill="#fff"/>
<svg x="35.0" y="1784.0" width="146.5" height="146.7" viewBox="0 0 100 100" preserveAspectRatio="none" overflow="hidden"><rect width="100" height="100" fill="#000"/><g filter="url(#b1)">
<use href="#g1a" stroke="#0c1248" stroke-width="8.5" stroke-linecap="round" stroke-linejoin="round" fill="none"/><use href="#g1b" stroke="#0c1248" stroke-width="7" stroke-linecap="round" stroke-linejoin="round" fill="none"/>
<use href="#g1a" stroke="#222e8c" stroke-width="5.6" stroke-linecap="round" stroke-linejoin="round" fill="none"/><use href="#g1b" stroke="#2a3a9e" stroke-width="4.4" stroke-linecap="round" stroke-linejoin="round" fill="none"/><use href="#g1c" stroke="#2436a8" stroke-width="2.2" stroke-linecap="round" stroke-linejoin="round" fill="none"/>
</g></svg>
<rect x="132.7" y="1920.2" width="42.5" height="4.0" fill="#fff"/>
<svg x="189.2" y="1784.0" width="145.8" height="146.7" viewBox="0 0 100 100" preserveAspectRatio="none" overflow="hidden"><rect width="100" height="100" fill="#000"/><g filter="url(#b1)">
<use href="#g2a" stroke="#0c1248" stroke-width="8.6" stroke-linecap="round" stroke-linejoin="round" fill="none"/>
<use href="#g2a" stroke="#2a3a9e" stroke-width="5.6" stroke-linecap="round" stroke-linejoin="round" fill="none"/>
<use href="#g2b" stroke="#2e3ec0" stroke-width="2.8" stroke-linecap="round" stroke-linejoin="round" fill="none"/>
<use href="#g2r" stroke="#d8287c" stroke-width="1.7" stroke-linecap="round" stroke-linejoin="round" fill="none"/>
</g></svg>
<rect x="285.3" y="1920.2" width="42.9" height="4.0" fill="#fff"/>
<text x="28.0" y="1393.6" font-size="21.5" fill="#000" text-anchor="middle" transform="rotate(-90 28.0 1393.6)">Merged</text>
<text x="28.0" y="1553.0" font-size="21.5" fill="#dcc21c" text-anchor="middle" transform="rotate(-90 28.0 1553.0)">EpCAM</text>
<text x="28.0" y="1704.0" font-size="21.5" fill="#00a050" text-anchor="middle" transform="rotate(-90 28.0 1704.0)">CD68</text>
<text x="28.0" y="1857.0" font-size="21.5" fill="#e0223c" text-anchor="middle" transform="rotate(-90 28.0 1857.0)">RUNX1</text>
<text x="365.5" y="1465.4" font-size="20.5" fill="#000" text-anchor="middle" font-weight="bold" transform="rotate(-90 365.5 1465.4)">Cellular Composition</text>
<text x="391.0" y="1416.8" font-size="19.5" fill="#000" text-anchor="middle" transform="rotate(-90 391.0 1416.8)">% of marker positive cells</text>
<text x="365.5" y="1732.5" font-size="20.5" fill="#000" text-anchor="middle" font-weight="bold" transform="rotate(-90 365.5 1732.5)">RUNX1 Positivity</text>
<text x="391.5" y="1714.0" font-size="19.5" fill="#000" text-anchor="middle" transform="rotate(-90 391.5 1714.0)">% of marker positive cells</text>
<text x="411.0" y="1307.8" font-size="21.6" fill="#1a1a1a">Macrophages (CD68)</text>
<text x="656.3" y="1307.8" font-size="21.6" fill="#1a1a1a">Tumor (EpCAM)</text>
<line x1="443.2" y1="1350.1" x2="630.9" y2="1350.1" stroke="#e8e8e8" stroke-width="1.3"/>
<line x1="443.2" y1="1375.3" x2="630.9" y2="1375.3" stroke="#e8e8e8" stroke-width="0.8"/>
<line x1="443.2" y1="1399.8" x2="630.9" y2="1399.8" stroke="#e8e8e8" stroke-width="1.3"/>
<line x1="443.2" y1="1424.1" x2="630.9" y2="1424.1" stroke="#e8e8e8" stroke-width="0.8"/>
<line x1="443.2" y1="1448.4" x2="630.9" y2="1448.4" stroke="#e8e8e8" stroke-width="1.3"/>
<line x1="443.2" y1="1473.0" x2="630.9" y2="1473.0" stroke="#e8e8e8" stroke-width="0.8"/>
<line x1="443.2" y1="1497.6" x2="630.9" y2="1497.6" stroke="#e8e8e8" stroke-width="1.3"/>
<line x1="443.2" y1="1522.2" x2="630.9" y2="1522.2" stroke="#e8e8e8" stroke-width="0.8"/>
<line x1="443.2" y1="1546.2" x2="630.9" y2="1546.2" stroke="#e8e8e8" stroke-width="1.3"/>
<line x1="494.9" y1="1341.4" x2="494.9" y2="1556.3" stroke="#e8e8e8" stroke-width="1.3"/>
<line x1="579.8" y1="1341.4" x2="579.8" y2="1556.3" stroke="#e8e8e8" stroke-width="1.3"/>
<line x1="643.2" y1="1350.1" x2="830.2" y2="1350.1" stroke="#e8e8e8" stroke-width="1.3"/>
<line x1="643.2" y1="1375.3" x2="830.2" y2="1375.3" stroke="#e8e8e8" stroke-width="0.8"/>
<line x1="643.2" y1="1399.8" x2="830.2" y2="1399.8" stroke="#e8e8e8" stroke-width="1.3"/>
<line x1="643.2" y1="1424.1" x2="830.2" y2="1424.1" stroke="#e8e8e8" stroke-width="0.8"/>
<line x1="643.2" y1="1448.4" x2="830.2" y2="1448.4" stroke="#e8e8e8" stroke-width="1.3"/>
<line x1="643.2" y1="1473.0" x2="830.2" y2="1473.0" stroke="#e8e8e8" stroke-width="0.8"/>
<line x1="643.2" y1="1497.6" x2="830.2" y2="1497.6" stroke="#e8e8e8" stroke-width="1.3"/>
<line x1="643.2" y1="1522.2" x2="830.2" y2="1522.2" stroke="#e8e8e8" stroke-width="0.8"/>
<line x1="643.2" y1="1546.2" x2="830.2" y2="1546.2" stroke="#e8e8e8" stroke-width="1.3"/>
<line x1="694.0" y1="1341.4" x2="694.0" y2="1556.3" stroke="#e8e8e8" stroke-width="1.3"/>
<line x1="778.9" y1="1341.4" x2="778.9" y2="1556.3" stroke="#e8e8e8" stroke-width="1.3"/>
<text x="438.3" y="1356.1" font-size="19.5" fill="#4d4d4d" text-anchor="end">1.00</text>
<text x="438.3" y="1405.8" font-size="19.5" fill="#4d4d4d" text-anchor="end">0.75</text>
<text x="438.3" y="1454.4" font-size="19.5" fill="#4d4d4d" text-anchor="end">0.50</text>
<text x="438.3" y="1503.6" font-size="19.5" fill="#4d4d4d" text-anchor="end">0.25</text>
<text x="438.3" y="1552.2" font-size="19.5" fill="#4d4d4d" text-anchor="end">0.00</text>
<line x1="494.6" y1="1506.3" x2="494.6" y2="1524.4" stroke="#3a3a3a" stroke-width="1.1"/>
<line x1="494.6" y1="1538.6" x2="494.6" y2="1545.4" stroke="#3a3a3a" stroke-width="1.1"/>
<rect x="462.4" y="1524.4" width="64.5" height="14.2" fill="#00aeb5" stroke="#3a3a3a" stroke-width="1.1"/>
<line x1="462.4" y1="1529.6" x2="526.8" y2="1529.6" stroke="#3a3a3a" stroke-width="1.2"/>
<line x1="579.5" y1="1526.3" x2="579.5" y2="1532.3" stroke="#3a3a3a" stroke-width="1.1"/>
<line x1="579.5" y1="1541.3" x2="579.5" y2="1542.7" stroke="#3a3a3a" stroke-width="1.1"/>
<rect x="547.3" y="1532.3" width="64.5" height="9.0" fill="#dc1f3a" stroke="#3a3a3a" stroke-width="1.1"/>
<line x1="547.3" y1="1536.4" x2="611.7" y2="1536.4" stroke="#3a3a3a" stroke-width="1.2"/>
<circle cx="486.1" cy="1506.3" r="3.1" fill="#8fbf78" opacity="0.8"/>
<circle cx="506.1" cy="1508.0" r="3.1" fill="#8fbf78" opacity="0.8"/>
<circle cx="499.8" cy="1524.1" r="3.1" fill="#8fbf78" opacity="0.8"/>
<circle cx="480.7" cy="1542.7" r="3.1" fill="#f08a7e" opacity="0.8"/>
<circle cx="486.1" cy="1545.4" r="3.1" fill="#f08a7e" opacity="0.8"/>
<circle cx="505.2" cy="1530.4" r="3.1" fill="#f08a7e" opacity="0.8"/>
<circle cx="501.1" cy="1529.0" r="3.1" fill="#b092c8" opacity="0.8"/>
<circle cx="503.3" cy="1537.2" r="3.1" fill="#b092c8" opacity="0.8"/>
<circle cx="506.6" cy="1538.6" r="3.1" fill="#b092c8" opacity="0.8"/>
<circle cx="565.9" cy="1530.9" r="3.1" fill="#4fc0cc" opacity="0.8"/>
<circle cx="590.2" cy="1526.3" r="3.1" fill="#4fc0cc" opacity="0.8"/>
<circle cx="584.4" cy="1535.0" r="3.1" fill="#4fc0cc" opacity="0.8"/>
<circle cx="572.1" cy="1542.9" r="3.1" fill="#f08a7e" opacity="0.8"/>
<circle cx="586.6" cy="1542.7" r="3.1" fill="#f08a7e" opacity="0.8"/>
<circle cx="585.0" cy="1537.8" r="3.1" fill="#f08a7e" opacity="0.8"/>
<line x1="494.9" y1="1484.0" x2="579.8" y2="1484.0" stroke="#111" stroke-width="1.2"/>
<text x="538.5" y="1479.0" font-size="17.7" fill="#000" text-anchor="middle">0.53</text>
<line x1="693.8" y1="1366.5" x2="693.8" y2="1390.5" stroke="#3a3a3a" stroke-width="1.1"/>
<line x1="693.8" y1="1492.7" x2="693.8" y2="1533.9" stroke="#3a3a3a" stroke-width="1.1"/>
<rect x="661.7" y="1390.5" width="64.2" height="102.1" fill="#00aeb5" stroke="#3a3a3a" stroke-width="1.1"/>
<line x1="661.7" y1="1408.0" x2="725.9" y2="1408.0" stroke="#3a3a3a" stroke-width="1.2"/>
<line x1="778.8" y1="1453.9" x2="778.8" y2="1456.1" stroke="#3a3a3a" stroke-width="1.1"/>
<line x1="778.8" y1="1478.5" x2="778.8" y2="1478.5" stroke="#3a3a3a" stroke-width="1.1"/>
<rect x="746.4" y="1456.1" width="64.7" height="22.4" fill="#dc1f3a" stroke="#3a3a3a" stroke-width="1.1"/>
<line x1="746.4" y1="1466.7" x2="811.1" y2="1466.7" stroke="#3a3a3a" stroke-width="1.2"/>
<circle cx="706.2" cy="1366.0" r="3.1" fill="#f08a7e" opacity="0.8"/>
<circle cx="687.1" cy="1380.4" r="3.1" fill="#f08a7e" opacity="0.8"/>
<circle cx="689.3" cy="1390.3" r="3.1" fill="#f08a7e" opacity="0.8"/>
<circle cx="694.2" cy="1407.8" r="3.1" fill="#8fbf78" opacity="0.8"/>
<circle cx="708.2" cy="1405.0" r="3.1" fill="#8fbf78" opacity="0.8"/>
<circle cx="677.0" cy="1448.7" r="3.1" fill="#8fbf78" opacity="0.8"/>
<circle cx="685.8" cy="1492.7" r="3.1" fill="#b092c8" opacity="0.8"/>
<circle cx="700.8" cy="1525.5" r="3.1" fill="#b092c8" opacity="0.8"/>
<circle cx="710.1" cy="1534.2" r="3.1" fill="#b092c8" opacity="0.8"/>
<circle cx="773.2" cy="1453.9" r="3.1" fill="#f08a7e" opacity="0.8"/>
<circle cx="791.2" cy="1453.4" r="3.1" fill="#f08a7e" opacity="0.8"/>
<circle cx="791.5" cy="1463.2" r="3.1" fill="#f08a7e" opacity="0.8"/>
<circle cx="786.3" cy="1470.6" r="3.1" fill="#4fc0cc" opacity="0.8"/>
<circle cx="778.6" cy="1481.2" r="3.1" fill="#4fc0cc" opacity="0.8"/>
<circle cx="788.5" cy="1512.4" r="3.1" fill="#4fc0cc" opacity="0.8"/>
<path d="M694.0 1363.0V1357.5H778.9V1363.0" fill="none" stroke="#111" stroke-width="1.2"/>
<text x="736.5" y="1354.0" font-size="17.7" fill="#000" text-anchor="middle">0.27</text>
<text x="434.2" y="1611.8" font-size="20.3" fill="#1a1a1a">RUNX1<tspan font-size="13" dy="-7">+</tspan></text>
<text x="434.2" y="1637.7" font-size="20.3" fill="#1a1a1a">macrophages</text>
<text x="604.4" y="1604.0" font-size="20.3" fill="#1a1a1a">meso</text>
<text x="604.4" y="1630.0" font-size="20.3" fill="#1a1a1a">RUNX1*</text>
<text x="734.0" y="1611.8" font-size="20.3" fill="#1a1a1a">RUNX1<tspan font-size="13" dy="-7">+</tspan></text>
<text x="734.0" y="1637.7" font-size="20.3" fill="#1a1a1a">tumor</text>
<line x1="430.1" y1="1648.6" x2="550.3" y2="1648.6" stroke="#e8e8e8" stroke-width="1.3"/>
<line x1="430.1" y1="1673.2" x2="550.3" y2="1673.2" stroke="#e8e8e8" stroke-width="0.8"/>
<line x1="430.1" y1="1697.5" x2="550.3" y2="1697.5" stroke="#e8e8e8" stroke-width="1.3"/>
<line x1="430.1" y1="1722.1" x2="550.3" y2="1722.1" stroke="#e8e8e8" stroke-width="0.8"/>
<line x1="430.1" y1="1746.7" x2="550.3" y2="1746.7" stroke="#e8e8e8" stroke-width="1.3"/>
<line x1="430.1" y1="1771.0" x2="550.3" y2="1771.0" stroke="#e8e8e8" stroke-width="0.8"/>
<line x1="430.1" y1="1795.5" x2="550.3" y2="1795.5" stroke="#e8e8e8" stroke-width="1.3"/>
<line x1="430.1" y1="1819.9" x2="550.3" y2="1819.9" stroke="#e8e8e8" stroke-width="0.8"/>
<line x1="430.1" y1="1844.4" x2="550.3" y2="1844.4" stroke="#e8e8e8" stroke-width="1.3"/>
<line x1="462.9" y1="1639.6" x2="462.9" y2="1854.0" stroke="#e8e8e8" stroke-width="1.3"/>
<line x1="517.5" y1="1639.6" x2="517.5" y2="1854.0" stroke="#e8e8e8" stroke-width="1.3"/>
<line x1="583.1" y1="1648.6" x2="702.7" y2="1648.6" stroke="#e8e8e8" stroke-width="1.3"/>
<line x1="583.1" y1="1673.2" x2="702.7" y2="1673.2" stroke="#e8e8e8" stroke-width="0.8"/>
<line x1="583.1" y1="1697.5" x2="702.7" y2="1697.5" stroke="#e8e8e8" stroke-width="1.3"/>
<line x1="583.1" y1="1722.1" x2="702.7" y2="1722.1" stroke="#e8e8e8" stroke-width="0.8"/>
<line x1="583.1" y1="1746.7" x2="702.7" y2="1746.7" stroke="#e8e8e8" stroke-width="1.3"/>
<line x1="583.1" y1="1771.0" x2="702.7" y2="1771.0" stroke="#e8e8e8" stroke-width="0.8"/>
<line x1="583.1" y1="1795.5" x2="702.7" y2="1795.5" stroke="#e8e8e8" stroke-width="1.3"/>
<line x1="583.1" y1="1819.9" x2="702.7" y2="1819.9" stroke="#e8e8e8" stroke-width="0.8"/>
<line x1="583.1" y1="1844.4" x2="702.7" y2="1844.4" stroke="#e8e8e8" stroke-width="1.3"/>
<line x1="615.6" y1="1639.6" x2="615.6" y2="1854.0" stroke="#e8e8e8" stroke-width="1.3"/>
<line x1="669.9" y1="1639.6" x2="669.9" y2="1854.0" stroke="#e8e8e8" stroke-width="1.3"/>
<line x1="718.3" y1="1648.6" x2="837.6" y2="1648.6" stroke="#e8e8e8" stroke-width="1.3"/>
<line x1="718.3" y1="1673.2" x2="837.6" y2="1673.2" stroke="#e8e8e8" stroke-width="0.8"/>
<line x1="718.3" y1="1697.5" x2="837.6" y2="1697.5" stroke="#e8e8e8" stroke-width="1.3"/>
<line x1="718.3" y1="1722.1" x2="837.6" y2="1722.1" stroke="#e8e8e8" stroke-width="0.8"/>
<line x1="718.3" y1="1746.7" x2="837.6" y2="1746.7" stroke="#e8e8e8" stroke-width="1.3"/>
<line x1="718.3" y1="1771.0" x2="837.6" y2="1771.0" stroke="#e8e8e8" stroke-width="0.8"/>
<line x1="718.3" y1="1795.5" x2="837.6" y2="1795.5" stroke="#e8e8e8" stroke-width="1.3"/>
<line x1="718.3" y1="1819.9" x2="837.6" y2="1819.9" stroke="#e8e8e8" stroke-width="0.8"/>
<line x1="718.3" y1="1844.4" x2="837.6" y2="1844.4" stroke="#e8e8e8" stroke-width="1.3"/>
<line x1="750.5" y1="1639.6" x2="750.5" y2="1854.0" stroke="#e8e8e8" stroke-width="1.3"/>
<line x1="805.4" y1="1639.6" x2="805.4" y2="1854.0" stroke="#e8e8e8" stroke-width="1.3"/>
<text x="428.8" y="1654.6" font-size="19.5" fill="#4d4d4d" text-anchor="end">0.4</text>
<text x="428.8" y="1703.5" font-size="19.5" fill="#4d4d4d" text-anchor="end">0.3</text>
<text x="428.8" y="1752.7" font-size="19.5" fill="#4d4d4d" text-anchor="end">0.2</text>
<text x="428.8" y="1801.5" font-size="19.5" fill="#4d4d4d" text-anchor="end">0.1</text>
<text x="428.8" y="1850.4" font-size="19.5" fill="#4d4d4d" text-anchor="end">0.0</text>
<line x1="463.3" y1="1840.3" x2="463.3" y2="1840.3" stroke="#3a3a3a" stroke-width="1.1"/>
<line x1="463.3" y1="1844.7" x2="463.3" y2="1844.7" stroke="#3a3a3a" stroke-width="1.1"/>
<rect x="442.4" y="1840.3" width="41.8" height="4.4" fill="#00aeb5" stroke="#3a3a3a" stroke-width="1.1"/>
<line x1="442.4" y1="1842.5" x2="484.2" y2="1842.5" stroke="#3a3a3a" stroke-width="1.2"/>
<line x1="517.8" y1="1834.9" x2="517.8" y2="1838.4" stroke="#3a3a3a" stroke-width="1.1"/>
<line x1="517.8" y1="1842.0" x2="517.8" y2="1843.9" stroke="#3a3a3a" stroke-width="1.1"/>
<rect x="497.0" y="1838.4" width="41.5" height="3.6" fill="#dc1f3a" stroke="#3a3a3a" stroke-width="1.1"/>
<line x1="497.0" y1="1840.3" x2="538.6" y2="1840.3" stroke="#3a3a3a" stroke-width="1.2"/>
<circle cx="452.8" cy="1840.3" r="3.1" fill="#8fbf78" opacity="0.8"/>
<circle cx="464.3" cy="1840.9" r="3.1" fill="#8fbf78" opacity="0.8"/>
<circle cx="472.5" cy="1830.0" r="3.1" fill="#8fbf78" opacity="0.8"/>
<circle cx="459.3" cy="1843.9" r="3.1" fill="#b092c8" opacity="0.8"/>
<circle cx="470.3" cy="1843.9" r="3.1" fill="#b092c8" opacity="0.8"/>
<circle cx="458.0" cy="1841.7" r="3.1" fill="#b092c8" opacity="0.8"/>
<circle cx="465.6" cy="1845.0" r="3.1" fill="#f08a7e" opacity="0.8"/>
<circle cx="469.2" cy="1845.0" r="3.1" fill="#f08a7e" opacity="0.8"/>
<circle cx="509.1" cy="1834.9" r="3.1" fill="#4fc0cc" opacity="0.8"/>
<circle cx="521.1" cy="1839.5" r="3.1" fill="#4fc0cc" opacity="0.8"/>
<circle cx="528.4" cy="1842.0" r="3.1" fill="#4fc0cc" opacity="0.8"/>
<circle cx="513.4" cy="1840.3" r="3.1" fill="#f08a7e" opacity="0.8"/>
<circle cx="523.0" cy="1838.2" r="3.1" fill="#f08a7e" opacity="0.8"/>
<circle cx="522.4" cy="1845.0" r="3.1" fill="#f08a7e" opacity="0.8"/>
<line x1="462.9" y1="1814.4" x2="517.5" y2="1814.4" stroke="#111" stroke-width="1.2"/>
<text x="486.0" y="1810.0" font-size="17.7" fill="#000" text-anchor="middle">0.15</text>
<line x1="615.7" y1="1767.1" x2="615.7" y2="1799.6" stroke="#3a3a3a" stroke-width="1.1"/>
<line x1="615.7" y1="1843.1" x2="615.7" y2="1843.1" stroke="#3a3a3a" stroke-width="1.1"/>
<rect x="595.1" y="1799.6" width="41.2" height="43.4" fill="#00aeb5" stroke="#3a3a3a" stroke-width="1.1"/>
<line x1="595.1" y1="1819.0" x2="636.3" y2="1819.0" stroke="#3a3a3a" stroke-width="1.2"/>
<line x1="670.2" y1="1716.1" x2="670.2" y2="1718.0" stroke="#3a3a3a" stroke-width="1.1"/>
<line x1="670.2" y1="1729.2" x2="670.2" y2="1729.2" stroke="#3a3a3a" stroke-width="1.1"/>
<rect x="649.7" y="1718.0" width="41.0" height="11.2" fill="#dc1f3a" stroke="#3a3a3a" stroke-width="1.1"/>
<line x1="649.7" y1="1727.3" x2="690.7" y2="1727.3" stroke="#3a3a3a" stroke-width="1.2"/>
<circle cx="674.3" cy="1670.2" r="3.1" fill="#f08a7e" opacity="0.8"/>
<circle cx="660.6" cy="1715.0" r="3.1" fill="#4fc0cc" opacity="0.8"/>
<circle cx="664.7" cy="1727.3" r="3.1" fill="#4fc0cc" opacity="0.8"/>
<circle cx="664.2" cy="1814.4" r="3.1" fill="#4fc0cc" opacity="0.8"/>
<circle cx="665.0" cy="1729.2" r="3.1" fill="#f08a7e" opacity="0.8"/>
<circle cx="614.8" cy="1767.1" r="3.1" fill="#8fbf78" opacity="0.8"/>
<circle cx="611.7" cy="1799.4" r="3.1" fill="#8fbf78" opacity="0.8"/>
<circle cx="612.0" cy="1798.0" r="3.1" fill="#b092c8" opacity="0.8"/>
<circle cx="619.4" cy="1819.0" r="3.1" fill="#b092c8" opacity="0.8"/>
<circle cx="615.3" cy="1842.5" r="3.1" fill="#b092c8" opacity="0.8"/>
<circle cx="610.4" cy="1843.9" r="3.1" fill="#f08a7e" opacity="0.8"/>
<circle cx="624.6" cy="1845.0" r="3.1" fill="#f08a7e" opacity="0.8"/>
<path d="M615.6 1666.4V1660.9H669.9V1666.4" fill="none" stroke="#111" stroke-width="1.2"/>
<text x="642.8" y="1657.5" font-size="17.7" fill="#000" text-anchor="middle">0.008</text>
<line x1="750.9" y1="1839.2" x2="750.9" y2="1839.2" stroke="#3a3a3a" stroke-width="1.1"/>
<line x1="750.9" y1="1845.0" x2="750.9" y2="1845.0" stroke="#3a3a3a" stroke-width="1.1"/>
<rect x="730.3" y="1839.2" width="41.2" height="5.7" fill="#00aeb5" stroke="#3a3a3a" stroke-width="1.1"/>
<line x1="730.3" y1="1843.9" x2="771.5" y2="1843.9" stroke="#3a3a3a" stroke-width="1.2"/>
<line x1="805.0" y1="1824.0" x2="805.0" y2="1827.2" stroke="#3a3a3a" stroke-width="1.1"/>
<line x1="805.0" y1="1838.2" x2="805.0" y2="1841.7" stroke="#3a3a3a" stroke-width="1.1"/>
<rect x="784.4" y="1827.2" width="41.2" height="10.9" fill="#dc1f3a" stroke="#3a3a3a" stroke-width="1.1"/>
<line x1="784.4" y1="1834.9" x2="825.6" y2="1834.9" stroke="#3a3a3a" stroke-width="1.2"/>
<circle cx="746.1" cy="1838.2" r="3.1" fill="#8fbf78" opacity="0.8"/>
<circle cx="750.2" cy="1838.2" r="3.1" fill="#8fbf78" opacity="0.8"/>
<circle cx="740.9" cy="1844.4" r="3.1" fill="#b092c8" opacity="0.8"/>
<circle cx="751.0" cy="1844.7" r="3.1" fill="#b092c8" opacity="0.8"/>
<circle cx="761.1" cy="1844.7" r="3.1" fill="#f08a7e" opacity="0.8"/>
<circle cx="800.7" cy="1825.0" r="3.1" fill="#f08a7e" opacity="0.8"/>
<circle cx="808.1" cy="1824.5" r="3.1" fill="#f08a7e" opacity="0.8"/>
<circle cx="804.8" cy="1835.4" r="3.1" fill="#f08a7e" opacity="0.8"/>
<circle cx="810.3" cy="1836.2" r="3.1" fill="#4fc0cc" opacity="0.8"/>
<circle cx="814.7" cy="1839.2" r="3.1" fill="#4fc0cc" opacity="0.8"/>
<circle cx="812.5" cy="1843.6" r="3.1" fill="#4fc0cc" opacity="0.8"/>
<line x1="750.5" y1="1809.5" x2="805.4" y2="1809.5" stroke="#111" stroke-width="1.2"/>
<text x="779.0" y="1805.0" font-size="17.7" fill="#000" text-anchor="middle">0.0089</text>
<text x="353.1" y="1899.6" font-size="20" fill="#000" font-weight="bold">Tissue</text>
<text x="353.1" y="1923.1" font-size="20" fill="#000" font-weight="bold">site</text>
<line x1="432.2" y1="1883.8" x2="432.2" y2="1904.8" stroke="#3a3a3a" stroke-width="1.1"/>
<rect x="421.4" y="1886.8" width="21.6" height="15.0" fill="#00aeb5" stroke="#3a3a3a" stroke-width="1.2"/>
<line x1="421.4" y1="1894.3" x2="443.0" y2="1894.3" stroke="#3a3a3a" stroke-width="1.2"/>
<circle cx="432.2" cy="1894.3" r="2.6" fill="#222"/>
<text x="456.1" y="1902.0" font-size="19.5" fill="#000">Primary tumor</text>
<line x1="432.2" y1="1909.2" x2="432.2" y2="1930.2" stroke="#3a3a3a" stroke-width="1.1"/>
<rect x="421.4" y="1912.2" width="21.6" height="15.0" fill="#dc1f3a" stroke="#3a3a3a" stroke-width="1.2"/>
<line x1="421.4" y1="1919.7" x2="443.0" y2="1919.7" stroke="#3a3a3a" stroke-width="1.2"/>
<circle cx="432.2" cy="1919.7" r="2.6" fill="#222"/>
<text x="456.1" y="1927.4" font-size="19.5" fill="#000">Omentum metastasis</text>
<text x="662.3" y="1916.8" font-size="20" fill="#000" font-weight="bold">Patient</text>
<circle cx="737.7" cy="1901.0" r="4.6" fill="#8fbf78" opacity="0.9"/>
<text x="750.5" y="1907.8" font-size="19.5" fill="#000">P11</text>
<circle cx="737.7" cy="1923.9" r="4.6" fill="#4fc0cc" opacity="0.9"/>
<text x="750.5" y="1930.7" font-size="19.5" fill="#000">P14</text>
<circle cx="793.4" cy="1901.0" r="4.6" fill="#b092c8" opacity="0.9"/>
<text x="806.2" y="1907.8" font-size="19.5" fill="#000">P15</text>
<circle cx="793.4" cy="1923.9" r="4.6" fill="#f08a7e" opacity="0.9"/>
<text x="806.2" y="1930.7" font-size="19.5" fill="#000">P16</text>
<text x="375.5" y="1961.0" font-size="18.05" fill="#000">*refers to non-tumor and non-macrophage RUNX1+ cells</text>
<text x="854.5" y="1232.5" font-size="38.5" fill="#231f20" font-weight="bold">H</text>
<text x="1296.2" y="1222.0" font-size="23" fill="#000" text-anchor="middle">Subcluster analysis transdifferentiating cells</text>
<rect x="1003.4" y="1230.5" width="26.4" height="39.8" fill="#e8293a"/>
<text x="996.8" y="1258.9" font-size="21.5" fill="#000" text-anchor="end">Adnexa</text>
<rect x="1003.4" y="1270.0" width="26.4" height="39.8" fill="#4aa8db"/>
<text x="996.8" y="1298.2" font-size="21.5" fill="#000" text-anchor="end">Bowel</text>
<rect x="1003.4" y="1309.5" width="26.4" height="39.8" fill="#0070b5"/>
<text x="996.8" y="1337.4" font-size="21.5" fill="#000" text-anchor="end">Omentum</text>
<rect x="1003.4" y="1349.0" width="26.4" height="39.8" fill="#b3b7ba"/>
<text x="996.8" y="1377.1" font-size="21.5" fill="#000" text-anchor="end">Other</text>
<rect x="1003.4" y="1388.6" width="26.4" height="39.8" fill="#e8e24e"/>
<text x="996.8" y="1416.3" font-size="21.5" fill="#000" text-anchor="end">Peritoneum</text>
<rect x="1003.4" y="1428.1" width="26.4" height="39.8" fill="#009a6e"/>
<text x="996.8" y="1455.6" font-size="21.5" fill="#000" text-anchor="end">UQ</text>
<rect x="1032.2" y="1470.3" width="69.6" height="21.8" fill="#e8736c"/>
<text x="1080.5" y="1505.5" font-size="19.6" fill="#000" text-anchor="end" transform="rotate(-45 1080.5 1505.5)">Cluster 1</text>
<rect x="1101.5" y="1470.3" width="69.6" height="21.8" fill="#d0902c"/>
<text x="1150.1" y="1505.5" font-size="19.6" fill="#000" text-anchor="end" transform="rotate(-45 1150.1 1505.5)">Cluster 2</text>
<rect x="1170.8" y="1470.3" width="69.6" height="21.8" fill="#85a83e"/>
<text x="1219.7" y="1505.5" font-size="19.6" fill="#000" text-anchor="end" transform="rotate(-45 1219.7 1505.5)">Cluster 3/4</text>
<rect x="1240.2" y="1470.3" width="69.6" height="21.8" fill="#0aa884"/>
<text x="1289.2" y="1505.5" font-size="19.6" fill="#000" text-anchor="end" transform="rotate(-45 1289.2 1505.5)">Cluster 5</text>
<rect x="1309.5" y="1470.3" width="69.6" height="21.8" fill="#00b7e4"/>
<text x="1358.8" y="1505.5" font-size="19.6" fill="#000" text-anchor="end" transform="rotate(-45 1358.8 1505.5)">Cluster 6</text>
<rect x="1378.8" y="1470.3" width="69.6" height="21.8" fill="#688cc8"/>
<text x="1428.4" y="1505.5" font-size="19.6" fill="#000" text-anchor="end" transform="rotate(-45 1428.4 1505.5)">Cluster 7</text>
<rect x="1448.2" y="1470.3" width="69.6" height="21.8" fill="#a576a8"/>
<text x="1498.0" y="1505.5" font-size="19.6" fill="#000" text-anchor="end" transform="rotate(-45 1498.0 1505.5)">Cluster 8</text>
<rect x="1517.5" y="1470.3" width="69.6" height="21.8" fill="#e670a4"/>
<text x="1567.9" y="1505.5" font-size="19.6" fill="#000" text-anchor="end" transform="rotate(-45 1567.9 1505.5)">Cluster 9</text>
<circle cx="1064.0" cy="1251.1" r="2.7" fill="#b5d6e8"/>
<circle cx="1203.2" cy="1251.1" r="5.8" fill="#f4b8a0"/>
<circle cx="1272.7" cy="1251.1" r="3.1" fill="#b5d6e8"/>
<circle cx="1342.3" cy="1251.1" r="2.3" fill="#fbd9c8"/>
<circle cx="1411.9" cy="1251.1" r="1.6" fill="#fbe6dc"/>
<circle cx="1481.5" cy="1251.1" r="4.7" fill="#f4b8a0"/>
<circle cx="1551.4" cy="1251.1" r="2.3" fill="#b5d6e8"/>
<circle cx="1064.0" cy="1290.4" r="5.8" fill="#c0343c"/>
<circle cx="1133.6" cy="1290.4" r="3.9" fill="#f0a890"/>
<circle cx="1272.7" cy="1290.4" r="3.9" fill="#0a68b4"/>
<circle cx="1342.3" cy="1290.4" r="5.8" fill="#b2182b"/>
<circle cx="1411.9" cy="1290.4" r="2.3" fill="#b5d6e8"/>
<circle cx="1481.5" cy="1290.4" r="4.3" fill="#7fbcdc"/>
<circle cx="1551.4" cy="1290.4" r="3.1" fill="#0a68b4"/>
<circle cx="1064.0" cy="1329.6" r="1.6" fill="#fbe6dc"/>
<circle cx="1133.6" cy="1329.6" r="3.1" fill="#fbd9c8"/>
<circle cx="1203.2" cy="1329.6" r="5.4" fill="#a0cfe6"/>
<circle cx="1272.7" cy="1329.6" r="5.8" fill="#d6604d"/>
<circle cx="1481.5" cy="1329.6" r="5.4" fill="#b2182b"/>
<circle cx="1551.4" cy="1329.6" r="3.1" fill="#0a68b4"/>
<circle cx="1064.0" cy="1369.3" r="3.1" fill="#7fbcdc"/>
<circle cx="1133.6" cy="1369.3" r="4.3" fill="#0a68b4"/>
<circle cx="1203.2" cy="1369.3" r="1.9" fill="#fbe6dc"/>
<circle cx="1272.7" cy="1369.3" r="2.7" fill="#60a8d4"/>
<circle cx="1342.3" cy="1369.3" r="3.1" fill="#0a68b4"/>
<circle cx="1411.9" cy="1369.3" r="2.7" fill="#3a90c8"/>
<circle cx="1481.5" cy="1369.3" r="5.8" fill="#0a68b4"/>
<circle cx="1551.4" cy="1369.3" r="5.8" fill="#b2182b"/>
<circle cx="1064.0" cy="1408.5" r="2.7" fill="#b5d6e8"/>
<circle cx="1133.6" cy="1408.5" r="2.3" fill="#b5d6e8"/>
<circle cx="1203.2" cy="1408.5" r="5.1" fill="#f4b8a0"/>
<circle cx="1411.9" cy="1408.5" r="2.7" fill="#f0a890"/>
<circle cx="1481.5" cy="1408.5" r="1.6" fill="#e8e8ec"/>
<circle cx="1551.4" cy="1408.5" r="4.3" fill="#b2182b"/>
<circle cx="1064.0" cy="1447.8" r="1.9" fill="#cfe2ee"/>
<circle cx="1133.6" cy="1447.8" r="5.1" fill="#d6604d"/>
<circle cx="1203.2" cy="1447.8" r="4.7" fill="#70b4d8"/>
<circle cx="1272.7" cy="1447.8" r="5.8" fill="#b2182b"/>
<circle cx="1342.3" cy="1447.8" r="2.3" fill="#7fbcdc"/>
<circle cx="1411.9" cy="1447.8" r="2.7" fill="#f0a890"/>
<circle cx="1481.5" cy="1447.8" r="5.8" fill="#d6604d"/>
<circle cx="1551.4" cy="1447.8" r="1.9" fill="#0a68b4"/>
<text x="1594.8" y="1162.5" font-size="19.6" fill="#000" font-weight="bold">Cluster IDs with annotation</text>
<rect x="1596.0" y="1177.0" width="25.6" height="25.2" fill="#e8736c"/>
<text x="1628.5" y="1195.7" font-size="19.6" fill="#000">1 - pericytes/ vascular smooth muscle cells</text>
<rect x="1596.0" y="1214.6" width="25.6" height="25.2" fill="#d0902c"/>
<text x="1628.5" y="1233.3" font-size="19.6" fill="#000">2 - myofibroblasts, tumor myCAFs</text>
<rect x="1596.0" y="1252.1" width="25.6" height="25.2" fill="#85a83e"/>
<text x="1628.5" y="1270.8" font-size="19.6" fill="#000">3/4 - (stress-response) tumor CAFs</text>
<rect x="1596.0" y="1289.7" width="25.6" height="25.2" fill="#0aa884"/>
<text x="1628.5" y="1308.4" font-size="19.6" fill="#000">5 - inflammatory CAFs I</text>
<rect x="1596.0" y="1327.2" width="25.6" height="25.2" fill="#00b7e4"/>
<text x="1628.5" y="1345.9" font-size="19.6" fill="#000">6 - inflammatory peritumoral CAFs II</text>
<rect x="1596.0" y="1364.8" width="25.6" height="25.2" fill="#688cc8"/>
<text x="1628.5" y="1383.5" font-size="19.6" fill="#000">7 - interferon-responsive peritumoral CAFs</text>
<rect x="1596.0" y="1402.4" width="25.6" height="25.2" fill="#a576a8"/>
<text x="1628.5" y="1421.1" font-size="19.6" fill="#000">8 - peritumoral CAFs</text>
<rect x="1596.0" y="1439.9" width="25.6" height="25.2" fill="#e670a4"/>
<text x="1628.5" y="1458.6" font-size="19.6" fill="#000">9 - non-malignant fibroblasts</text>
<text x="1658.2" y="1486.7" font-size="20" fill="#000" font-weight="bold">–log<tspan font-size="11" dy="4">10</tspan><tspan dy="-4"> </tspan><tspan font-style="italic">p</tspan>-value</text>
<text x="1801.0" y="1486.7" font-size="20" fill="#000" font-weight="bold">log<tspan font-size="11" dy="4">2</tspan><tspan dy="-4"> odds ratio</tspan></text>
<circle cx="1680.2" cy="1507.0" r="1.1" fill="#000"/>
<circle cx="1680.2" cy="1526.6" r="4.6" fill="#000"/>
<circle cx="1680.2" cy="1546.5" r="6.0" fill="#000"/>
<text x="1692.2" y="1511.8" font-size="19.5" fill="#000">0</text>
<text x="1692.2" y="1531.9" font-size="19.5" fill="#000">125</text>
<text x="1692.2" y="1551.9" font-size="19.5" fill="#000">250</text>
<rect x="1804.3" y="1501.7" width="14.5" height="71.2" fill="url(#rdbu)"/>
<text x="1825.8" y="1511.8" font-size="19.5" fill="#000">≥1.5</text>
<text x="1825.8" y="1541.5" font-size="16" fill="#000">0</text>
<text x="1825.8" y="1572.4" font-size="19.5" fill="#000">≤1.5</text>
<text x="889.5" y="1629.6" font-size="38.5" fill="#231f20" font-weight="bold">I</text>
<text x="941.0" y="1620.0" font-size="18.2" fill="#000" font-weight="bold">Bulk RNAseq <tspan font-style="italic">RUNX1</tspan></text>
<text x="1236.0" y="1620.0" font-size="18.2" fill="#000" font-weight="bold">Proteomics RUNX1</text>
<line x1="949.8" y1="1652.2" x2="1156.9" y2="1652.2" stroke="#e8e8e8" stroke-width="0.8"/>
<line x1="949.8" y1="1680.9" x2="1156.9" y2="1680.9" stroke="#e8e8e8" stroke-width="1.3"/>
<line x1="949.8" y1="1709.8" x2="1156.9" y2="1709.8" stroke="#e8e8e8" stroke-width="0.8"/>
<line x1="949.8" y1="1738.5" x2="1156.9" y2="1738.5" stroke="#e8e8e8" stroke-width="1.3"/>
<line x1="949.8" y1="1767.5" x2="1156.9" y2="1767.5" stroke="#e8e8e8" stroke-width="0.8"/>
<line x1="949.8" y1="1796.2" x2="1156.9" y2="1796.2" stroke="#e8e8e8" stroke-width="1.3"/>
<line x1="949.8" y1="1824.9" x2="1156.9" y2="1824.9" stroke="#e8e8e8" stroke-width="0.8"/>
<line x1="949.8" y1="1853.6" x2="1156.9" y2="1853.6" stroke="#e8e8e8" stroke-width="1.3"/>
<line x1="949.8" y1="1882.6" x2="1156.9" y2="1882.6" stroke="#e8e8e8" stroke-width="0.8"/>
<line x1="949.8" y1="1911.2" x2="1156.9" y2="1911.2" stroke="#e8e8e8" stroke-width="1.3"/>
<line x1="949.8" y1="1939.9" x2="1156.9" y2="1939.9" stroke="#e8e8e8" stroke-width="0.8"/>
<line x1="987.6" y1="1633.6" x2="987.6" y2="1960.4" stroke="#e8e8e8" stroke-width="1.3"/>
<line x1="1052.9" y1="1633.6" x2="1052.9" y2="1960.4" stroke="#e8e8e8" stroke-width="1.3"/>
<line x1="1117.8" y1="1633.6" x2="1117.8" y2="1960.4" stroke="#e8e8e8" stroke-width="1.3"/>
<text x="945.1" y="1686.1" font-size="19.5" fill="#4d4d4d" text-anchor="end">5.0</text>
<text x="945.1" y="1743.7" font-size="19.5" fill="#4d4d4d" text-anchor="end">4.5</text>
<text x="945.1" y="1801.4" font-size="19.5" fill="#4d4d4d" text-anchor="end">4.0</text>
<text x="945.1" y="1858.8" font-size="19.5" fill="#4d4d4d" text-anchor="end">3.5</text>
<text x="945.1" y="1916.4" font-size="19.5" fill="#4d4d4d" text-anchor="end">3.0</text>
<line x1="988.1" y1="1742.3" x2="988.1" y2="1791.8" stroke="#3a3a3a" stroke-width="1.2"/>
<line x1="988.1" y1="1842.5" x2="988.1" y2="1915.6" stroke="#3a3a3a" stroke-width="1.2"/>
<rect x="963.4" y="1791.8" width="49.5" height="50.7" fill="#00524a" stroke="#3a3a3a" stroke-width="1.2"/>
<line x1="963.4" y1="1825.2" x2="1012.9" y2="1825.2" stroke="#3a3a3a" stroke-width="1.2"/>
<line x1="1053.0" y1="1758.1" x2="1053.0" y2="1800.6" stroke="#3a3a3a" stroke-width="1.2"/>
<line x1="1053.0" y1="1852.0" x2="1053.0" y2="1920.4" stroke="#3a3a3a" stroke-width="1.2"/>
<rect x="1028.6" y="1800.6" width="48.8" height="51.4" fill="#00aeb5" stroke="#3a3a3a" stroke-width="1.2"/>
<line x1="1028.6" y1="1817.0" x2="1077.5" y2="1817.0" stroke="#3a3a3a" stroke-width="1.2"/>
<line x1="1118.0" y1="1728.1" x2="1118.0" y2="1765.9" stroke="#3a3a3a" stroke-width="1.2"/>
<line x1="1118.0" y1="1802.2" x2="1118.0" y2="1857.3" stroke="#3a3a3a" stroke-width="1.2"/>
<rect x="1093.5" y="1765.9" width="48.8" height="36.2" fill="#dc1f3a" stroke="#3a3a3a" stroke-width="1.2"/>
<line x1="1093.5" y1="1787.7" x2="1142.4" y2="1787.7" stroke="#3a3a3a" stroke-width="1.2"/>
<circle cx="998.6" cy="1766.0" r="2.6" fill="#6e7384" stroke="#33343c" stroke-width="0.9"/>
<circle cx="986.7" cy="1830.1" r="2.6" fill="#6e7384" stroke="#33343c" stroke-width="0.9"/>
<circle cx="979.4" cy="1761.8" r="2.6" fill="#6e7384" stroke="#33343c" stroke-width="0.9"/>
<circle cx="987.9" cy="1812.4" r="2.6" fill="#6e7384" stroke="#33343c" stroke-width="0.9"/>
<circle cx="977.0" cy="1766.4" r="2.6" fill="#6e7384" stroke="#33343c" stroke-width="0.9"/>
<circle cx="982.5" cy="1763.3" r="2.6" fill="#6e7384" stroke="#33343c" stroke-width="0.9"/>
<circle cx="992.6" cy="1876.4" r="2.6" fill="#6e7384" stroke="#33343c" stroke-width="0.9"/>
<circle cx="975.7" cy="1854.3" r="2.6" fill="#6e7384" stroke="#33343c" stroke-width="0.9"/>
<circle cx="991.6" cy="1916.0" r="2.6" fill="#6e7384" stroke="#33343c" stroke-width="0.9"/>
<circle cx="990.6" cy="1803.4" r="2.6" fill="#6e7384" stroke="#33343c" stroke-width="0.9"/>
<circle cx="988.3" cy="1818.8" r="2.6" fill="#6e7384" stroke="#33343c" stroke-width="0.9"/>
<circle cx="976.1" cy="1820.8" r="2.6" fill="#6e7384" stroke="#33343c" stroke-width="0.9"/>
<circle cx="975.4" cy="1825.9" r="2.6" fill="#6e7384" stroke="#33343c" stroke-width="0.9"/>
<circle cx="986.7" cy="1842.7" r="2.6" fill="#6e7384" stroke="#33343c" stroke-width="0.9"/>
<circle cx="988.1" cy="1743.4" r="2.6" fill="#6e7384" stroke="#33343c" stroke-width="0.9"/>
<circle cx="991.2" cy="1843.1" r="2.6" fill="#6e7384" stroke="#33343c" stroke-width="0.9"/>
<circle cx="986.5" cy="1756.0" r="2.6" fill="#6e7384" stroke="#33343c" stroke-width="0.9"/>
<circle cx="981.8" cy="1815.1" r="2.6" fill="#6e7384" stroke="#33343c" stroke-width="0.9"/>
<circle cx="996.4" cy="1916.0" r="2.6" fill="#6e7384" stroke="#33343c" stroke-width="0.9"/>
<circle cx="1059.1" cy="1820.1" r="2.6" fill="#6e7384" stroke="#33343c" stroke-width="0.9"/>
<circle cx="1046.6" cy="1810.5" r="2.6" fill="#6e7384" stroke="#33343c" stroke-width="0.9"/>
<circle cx="1040.0" cy="1848.5" r="2.6" fill="#6e7384" stroke="#33343c" stroke-width="0.9"/>
<circle cx="1063.3" cy="1826.1" r="2.6" fill="#6e7384" stroke="#33343c" stroke-width="0.9"/>
<circle cx="1049.5" cy="1781.8" r="2.6" fill="#6e7384" stroke="#33343c" stroke-width="0.9"/>
<circle cx="1037.9" cy="1896.9" r="2.6" fill="#6e7384" stroke="#33343c" stroke-width="0.9"/>
<circle cx="1044.2" cy="1801.8" r="2.6" fill="#6e7384" stroke="#33343c" stroke-width="0.9"/>
<circle cx="1067.3" cy="1860.1" r="2.6" fill="#6e7384" stroke="#33343c" stroke-width="0.9"/>
<circle cx="1049.8" cy="1797.9" r="2.6" fill="#6e7384" stroke="#33343c" stroke-width="0.9"/>
<circle cx="1061.3" cy="1872.5" r="2.6" fill="#6e7384" stroke="#33343c" stroke-width="0.9"/>
<circle cx="1046.0" cy="1847.0" r="2.6" fill="#6e7384" stroke="#33343c" stroke-width="0.9"/>
<circle cx="1066.8" cy="1852.7" r="2.6" fill="#6e7384" stroke="#33343c" stroke-width="0.9"/>
<circle cx="1060.6" cy="1840.7" r="2.6" fill="#6e7384" stroke="#33343c" stroke-width="0.9"/>
<circle cx="1040.9" cy="1844.2" r="2.6" fill="#6e7384" stroke="#33343c" stroke-width="0.9"/>
<circle cx="1039.7" cy="1842.3" r="2.6" fill="#6e7384" stroke="#33343c" stroke-width="0.9"/>
<circle cx="1054.7" cy="1829.3" r="2.6" fill="#6e7384" stroke="#33343c" stroke-width="0.9"/>
<circle cx="1051.3" cy="1798.1" r="2.6" fill="#6e7384" stroke="#33343c" stroke-width="0.9"/>
<circle cx="1041.8" cy="1845.6" r="2.6" fill="#6e7384" stroke="#33343c" stroke-width="0.9"/>
<circle cx="1057.2" cy="1882.4" r="2.6" fill="#6e7384" stroke="#33343c" stroke-width="0.9"/>
<circle cx="1044.3" cy="1853.1" r="2.6" fill="#6e7384" stroke="#33343c" stroke-width="0.9"/>
<circle cx="1046.0" cy="1849.9" r="2.6" fill="#6e7384" stroke="#33343c" stroke-width="0.9"/>
<circle cx="1047.0" cy="1892.9" r="2.6" fill="#6e7384" stroke="#33343c" stroke-width="0.9"/>
<circle cx="1064.4" cy="1808.9" r="2.6" fill="#6e7384" stroke="#33343c" stroke-width="0.9"/>
<circle cx="1063.5" cy="1831.8" r="2.6" fill="#6e7384" stroke="#33343c" stroke-width="0.9"/>
<circle cx="1057.2" cy="1860.8" r="2.6" fill="#6e7384" stroke="#33343c" stroke-width="0.9"/>
<circle cx="1044.3" cy="1919.3" r="2.6" fill="#6e7384" stroke="#33343c" stroke-width="0.9"/>
<circle cx="1045.6" cy="1893.0" r="2.6" fill="#6e7384" stroke="#33343c" stroke-width="0.9"/>
<circle cx="1046.8" cy="1827.1" r="2.6" fill="#6e7384" stroke="#33343c" stroke-width="0.9"/>
<circle cx="1040.1" cy="1786.6" r="2.6" fill="#6e7384" stroke="#33343c" stroke-width="0.9"/>
<circle cx="1045.2" cy="1866.6" r="2.6" fill="#6e7384" stroke="#33343c" stroke-width="0.9"/>
<circle cx="1055.9" cy="1850.4" r="2.6" fill="#6e7384" stroke="#33343c" stroke-width="0.9"/>
<circle cx="1066.7" cy="1791.6" r="2.6" fill="#6e7384" stroke="#33343c" stroke-width="0.9"/>
<circle cx="1052.4" cy="1853.7" r="2.6" fill="#6e7384" stroke="#33343c" stroke-width="0.9"/>
<circle cx="1043.4" cy="1758.0" r="2.6" fill="#6e7384" stroke="#33343c" stroke-width="0.9"/>
<circle cx="1042.5" cy="1785.7" r="2.6" fill="#6e7384" stroke="#33343c" stroke-width="0.9"/>
<circle cx="1045.4" cy="1883.9" r="2.6" fill="#6e7384" stroke="#33343c" stroke-width="0.9"/>
<circle cx="1043.6" cy="1781.8" r="2.6" fill="#6e7384" stroke="#33343c" stroke-width="0.9"/>
<circle cx="1043.8" cy="1815.7" r="2.6" fill="#6e7384" stroke="#33343c" stroke-width="0.9"/>
<circle cx="1066.4" cy="1758.0" r="2.6" fill="#6e7384" stroke="#33343c" stroke-width="0.9"/>
<circle cx="1050.5" cy="1862.2" r="2.6" fill="#6e7384" stroke="#33343c" stroke-width="0.9"/>
<circle cx="1041.0" cy="1785.3" r="2.6" fill="#6e7384" stroke="#33343c" stroke-width="0.9"/>
<circle cx="1045.1" cy="1921.6" r="2.6" fill="#6e7384" stroke="#33343c" stroke-width="0.9"/>
<circle cx="1059.0" cy="1846.7" r="2.6" fill="#6e7384" stroke="#33343c" stroke-width="0.9"/>
<circle cx="1055.8" cy="1818.7" r="2.6" fill="#6e7384" stroke="#33343c" stroke-width="0.9"/>
<circle cx="1046.7" cy="1896.5" r="2.6" fill="#6e7384" stroke="#33343c" stroke-width="0.9"/>
<circle cx="1040.0" cy="1850.8" r="2.6" fill="#6e7384" stroke="#33343c" stroke-width="0.9"/>
<circle cx="1044.8" cy="1879.0" r="2.6" fill="#6e7384" stroke="#33343c" stroke-width="0.9"/>
<circle cx="1056.3" cy="1758.0" r="2.6" fill="#6e7384" stroke="#33343c" stroke-width="0.9"/>
<circle cx="1046.3" cy="1793.5" r="2.6" fill="#6e7384" stroke="#33343c" stroke-width="0.9"/>
<circle cx="1038.4" cy="1845.5" r="2.6" fill="#6e7384" stroke="#33343c" stroke-width="0.9"/>
<circle cx="1046.0" cy="1808.6" r="2.6" fill="#6e7384" stroke="#33343c" stroke-width="0.9"/>
<circle cx="1043.2" cy="1808.7" r="2.6" fill="#6e7384" stroke="#33343c" stroke-width="0.9"/>
<circle cx="1114.1" cy="1789.1" r="2.6" fill="#6e7384" stroke="#33343c" stroke-width="0.9"/>
<circle cx="1113.9" cy="1768.3" r="2.6" fill="#6e7384" stroke="#33343c" stroke-width="0.9"/>
<circle cx="1128.7" cy="1776.9" r="2.6" fill="#6e7384" stroke="#33343c" stroke-width="0.9"/>
<circle cx="1123.2" cy="1835.8" r="2.6" fill="#6e7384" stroke="#33343c" stroke-width="0.9"/>
<circle cx="1120.2" cy="1778.7" r="2.6" fill="#6e7384" stroke="#33343c" stroke-width="0.9"/>
<circle cx="1104.3" cy="1790.9" r="2.6" fill="#6e7384" stroke="#33343c" stroke-width="0.9"/>
<circle cx="1129.3" cy="1792.2" r="2.6" fill="#6e7384" stroke="#33343c" stroke-width="0.9"/>
<circle cx="1104.4" cy="1757.8" r="2.6" fill="#6e7384" stroke="#33343c" stroke-width="0.9"/>
<circle cx="1121.6" cy="1699.4" r="2.6" fill="#6e7384" stroke="#33343c" stroke-width="0.9"/>
<circle cx="1112.7" cy="1728.7" r="2.6" fill="#6e7384" stroke="#33343c" stroke-width="0.9"/>
<circle cx="1131.8" cy="1791.3" r="2.6" fill="#6e7384" stroke="#33343c" stroke-width="0.9"/>
<circle cx="1124.4" cy="1824.2" r="2.6" fill="#6e7384" stroke="#33343c" stroke-width="0.9"/>
<circle cx="1129.0" cy="1805.0" r="2.6" fill="#6e7384" stroke="#33343c" stroke-width="0.9"/>
<circle cx="1126.0" cy="1780.6" r="2.6" fill="#6e7384" stroke="#33343c" stroke-width="0.9"/>
<circle cx="1129.4" cy="1730.6" r="2.6" fill="#6e7384" stroke="#33343c" stroke-width="0.9"/>
<circle cx="1129.0" cy="1753.2" r="2.6" fill="#6e7384" stroke="#33343c" stroke-width="0.9"/>
<circle cx="1128.2" cy="1827.7" r="2.6" fill="#6e7384" stroke="#33343c" stroke-width="0.9"/>
<circle cx="1128.0" cy="1731.3" r="2.6" fill="#6e7384" stroke="#33343c" stroke-width="0.9"/>
<circle cx="1119.8" cy="1815.8" r="2.6" fill="#6e7384" stroke="#33343c" stroke-width="0.9"/>
<circle cx="1120.1" cy="1760.7" r="2.6" fill="#6e7384" stroke="#33343c" stroke-width="0.9"/>
<circle cx="1120.8" cy="1760.7" r="2.6" fill="#6e7384" stroke="#33343c" stroke-width="0.9"/>
<circle cx="1131.6" cy="1828.8" r="2.6" fill="#6e7384" stroke="#33343c" stroke-width="0.9"/>
<circle cx="1128.4" cy="1809.1" r="2.6" fill="#6e7384" stroke="#33343c" stroke-width="0.9"/>
<circle cx="1124.4" cy="1780.3" r="2.6" fill="#6e7384" stroke="#33343c" stroke-width="0.9"/>
<circle cx="1120.1" cy="1750.6" r="2.6" fill="#6e7384" stroke="#33343c" stroke-width="0.9"/>
<circle cx="1106.1" cy="1722.8" r="2.6" fill="#6e7384" stroke="#33343c" stroke-width="0.9"/>
<circle cx="1124.8" cy="1809.4" r="2.6" fill="#6e7384" stroke="#33343c" stroke-width="0.9"/>
<circle cx="1117.3" cy="1831.6" r="2.6" fill="#6e7384" stroke="#33343c" stroke-width="0.9"/>
<circle cx="1110.2" cy="1793.8" r="2.6" fill="#6e7384" stroke="#33343c" stroke-width="0.9"/>
<circle cx="1121.0" cy="1771.9" r="2.6" fill="#6e7384" stroke="#33343c" stroke-width="0.9"/>
<circle cx="1129.6" cy="1746.1" r="2.6" fill="#6e7384" stroke="#33343c" stroke-width="0.9"/>
<circle cx="1112.2" cy="1784.8" r="2.6" fill="#6e7384" stroke="#33343c" stroke-width="0.9"/>
<circle cx="1122.8" cy="1790.3" r="2.6" fill="#6e7384" stroke="#33343c" stroke-width="0.9"/>
<circle cx="1129.2" cy="1791.3" r="2.6" fill="#6e7384" stroke="#33343c" stroke-width="0.9"/>
<circle cx="1122.3" cy="1805.4" r="2.6" fill="#6e7384" stroke="#33343c" stroke-width="0.9"/>
<circle cx="1113.0" cy="1716.1" r="2.6" fill="#6e7384" stroke="#33343c" stroke-width="0.9"/>
<circle cx="1122.4" cy="1811.3" r="2.6" fill="#6e7384" stroke="#33343c" stroke-width="0.9"/>
<circle cx="1126.4" cy="1796.8" r="2.6" fill="#6e7384" stroke="#33343c" stroke-width="0.9"/>
<path d="M1052.9 1655.3V1647.8H1117.8V1655.3" fill="none" stroke="#222" stroke-width="1.0"/>
<text x="1085.3" y="1644.5" font-size="17.5" fill="#000" text-anchor="middle">&lt;0.001</text>
<path d="M987.6 1685.2V1677.7H1117.8V1685.2" fill="none" stroke="#222" stroke-width="1.0"/>
<text x="1052.7" y="1674.3" font-size="17.5" fill="#000" text-anchor="middle"></text>
<text x="1060.8" y="1674.3" font-size="17.5" fill="#000" text-anchor="middle">0.009</text>
<text x="991.7" y="1978.7" font-size="19.5" fill="#000" text-anchor="middle">n = 19</text>
<text x="1057.0" y="1978.7" font-size="19.5" fill="#000" text-anchor="middle">n = 52</text>
<text x="1121.6" y="1978.7" font-size="19.5" fill="#000" text-anchor="middle">n = 38</text>
<text x="900.5" y="1784.8" font-size="19.5" fill="#000" text-anchor="middle" transform="rotate(-90 900.5 1784.8)">Bulk RNAseq Log10(Value)</text>
<line x1="1231.9" y1="1642.1" x2="1439.3" y2="1642.1" stroke="#e8e8e8" stroke-width="1.3"/>
<line x1="1231.9" y1="1680.9" x2="1439.3" y2="1680.9" stroke="#e8e8e8" stroke-width="0.8"/>
<line x1="1231.9" y1="1719.6" x2="1439.3" y2="1719.6" stroke="#e8e8e8" stroke-width="1.3"/>
<line x1="1231.9" y1="1758.7" x2="1439.3" y2="1758.7" stroke="#e8e8e8" stroke-width="0.8"/>
<line x1="1231.9" y1="1797.5" x2="1439.3" y2="1797.5" stroke="#e8e8e8" stroke-width="1.3"/>
<line x1="1231.9" y1="1836.2" x2="1439.3" y2="1836.2" stroke="#e8e8e8" stroke-width="0.8"/>
<line x1="1231.9" y1="1875.3" x2="1439.3" y2="1875.3" stroke="#e8e8e8" stroke-width="1.3"/>
<line x1="1231.9" y1="1914.1" x2="1439.3" y2="1914.1" stroke="#e8e8e8" stroke-width="0.8"/>
<line x1="1231.9" y1="1953.1" x2="1439.3" y2="1953.1" stroke="#e8e8e8" stroke-width="1.3"/>
<line x1="1270.3" y1="1640.0" x2="1270.3" y2="1960.4" stroke="#e8e8e8" stroke-width="1.3"/>
<line x1="1335.6" y1="1640.0" x2="1335.6" y2="1960.4" stroke="#e8e8e8" stroke-width="1.3"/>
<line x1="1400.5" y1="1640.0" x2="1400.5" y2="1960.4" stroke="#e8e8e8" stroke-width="1.3"/>
<text x="1227.2" y="1647.1" font-size="19.5" fill="#4d4d4d" text-anchor="end">5.5</text>
<text x="1227.2" y="1724.6" font-size="19.5" fill="#4d4d4d" text-anchor="end">5.0</text>
<text x="1227.2" y="1802.5" font-size="19.5" fill="#4d4d4d" text-anchor="end">4.5</text>
<text x="1227.2" y="1880.3" font-size="19.5" fill="#4d4d4d" text-anchor="end">4.0</text>
<text x="1227.2" y="1958.1" font-size="19.5" fill="#4d4d4d" text-anchor="end">3.5</text>
<line x1="1270.7" y1="1849.5" x2="1270.7" y2="1861.4" stroke="#3a3a3a" stroke-width="1.2"/>
<line x1="1270.7" y1="1903.4" x2="1270.7" y2="1921.9" stroke="#3a3a3a" stroke-width="1.2"/>
<rect x="1246.1" y="1861.4" width="49.2" height="41.9" fill="#00524a" stroke="#3a3a3a" stroke-width="1.2"/>
<line x1="1246.1" y1="1875.3" x2="1295.2" y2="1875.3" stroke="#3a3a3a" stroke-width="1.2"/>
<line x1="1335.6" y1="1810.1" x2="1335.6" y2="1856.7" stroke="#3a3a3a" stroke-width="1.2"/>
<line x1="1335.6" y1="1896.1" x2="1335.6" y2="1918.8" stroke="#3a3a3a" stroke-width="1.2"/>
<rect x="1311.0" y="1856.7" width="49.2" height="39.4" fill="#00aeb5" stroke="#3a3a3a" stroke-width="1.2"/>
<line x1="1311.0" y1="1874.0" x2="1360.2" y2="1874.0" stroke="#3a3a3a" stroke-width="1.2"/>
<line x1="1400.3" y1="1802.2" x2="1400.3" y2="1840.0" stroke="#3a3a3a" stroke-width="1.2"/>
<line x1="1400.3" y1="1876.2" x2="1400.3" y2="1909.3" stroke="#3a3a3a" stroke-width="1.2"/>
<rect x="1375.9" y="1840.0" width="48.8" height="36.2" fill="#dc1f3a" stroke="#3a3a3a" stroke-width="1.2"/>
<line x1="1375.9" y1="1859.5" x2="1424.8" y2="1859.5" stroke="#3a3a3a" stroke-width="1.2"/>
<circle cx="1281.1" cy="1902.1" r="2.6" fill="#6e7384" stroke="#33343c" stroke-width="0.9"/>
<circle cx="1272.5" cy="1895.8" r="2.6" fill="#6e7384" stroke="#33343c" stroke-width="0.9"/>
<circle cx="1265.5" cy="1865.2" r="2.6" fill="#6e7384" stroke="#33343c" stroke-width="0.9"/>
<circle cx="1279.1" cy="1896.9" r="2.6" fill="#6e7384" stroke="#33343c" stroke-width="0.9"/>
<circle cx="1279.4" cy="1899.5" r="2.6" fill="#6e7384" stroke="#33343c" stroke-width="0.9"/>
<circle cx="1264.5" cy="1867.0" r="2.6" fill="#6e7384" stroke="#33343c" stroke-width="0.9"/>
<circle cx="1261.7" cy="1848.0" r="2.6" fill="#6e7384" stroke="#33343c" stroke-width="0.9"/>
<circle cx="1262.9" cy="1863.2" r="2.6" fill="#6e7384" stroke="#33343c" stroke-width="0.9"/>
<circle cx="1268.1" cy="1885.4" r="2.6" fill="#6e7384" stroke="#33343c" stroke-width="0.9"/>
<circle cx="1265.5" cy="1861.9" r="2.6" fill="#6e7384" stroke="#33343c" stroke-width="0.9"/>
<circle cx="1279.1" cy="1861.8" r="2.6" fill="#6e7384" stroke="#33343c" stroke-width="0.9"/>
<circle cx="1259.2" cy="1904.0" r="2.6" fill="#6e7384" stroke="#33343c" stroke-width="0.9"/>
<circle cx="1258.1" cy="1877.3" r="2.6" fill="#6e7384" stroke="#33343c" stroke-width="0.9"/>
<circle cx="1275.7" cy="1884.5" r="2.6" fill="#6e7384" stroke="#33343c" stroke-width="0.9"/>
<circle cx="1272.1" cy="1875.4" r="2.6" fill="#6e7384" stroke="#33343c" stroke-width="0.9"/>
<circle cx="1257.8" cy="1865.9" r="2.6" fill="#6e7384" stroke="#33343c" stroke-width="0.9"/>
<circle cx="1260.8" cy="1916.3" r="2.6" fill="#6e7384" stroke="#33343c" stroke-width="0.9"/>
<circle cx="1278.9" cy="1875.3" r="2.6" fill="#6e7384" stroke="#33343c" stroke-width="0.9"/>
<circle cx="1263.5" cy="1881.4" r="2.6" fill="#6e7384" stroke="#33343c" stroke-width="0.9"/>
<circle cx="1339.5" cy="1882.9" r="2.6" fill="#6e7384" stroke="#33343c" stroke-width="0.9"/>
<circle cx="1334.0" cy="1884.0" r="2.6" fill="#6e7384" stroke="#33343c" stroke-width="0.9"/>
<circle cx="1344.8" cy="1853.0" r="2.6" fill="#6e7384" stroke="#33343c" stroke-width="0.9"/>
<circle cx="1349.4" cy="1851.4" r="2.6" fill="#6e7384" stroke="#33343c" stroke-width="0.9"/>
<circle cx="1334.9" cy="1871.3" r="2.6" fill="#6e7384" stroke="#33343c" stroke-width="0.9"/>
<circle cx="1326.0" cy="1862.7" r="2.6" fill="#6e7384" stroke="#33343c" stroke-width="0.9"/>
<circle cx="1342.0" cy="1906.2" r="2.6" fill="#6e7384" stroke="#33343c" stroke-width="0.9"/>
<circle cx="1326.0" cy="1879.9" r="2.6" fill="#6e7384" stroke="#33343c" stroke-width="0.9"/>
<circle cx="1341.5" cy="1874.8" r="2.6" fill="#6e7384" stroke="#33343c" stroke-width="0.9"/>
<circle cx="1336.2" cy="1900.8" r="2.6" fill="#6e7384" stroke="#33343c" stroke-width="0.9"/>
<circle cx="1332.4" cy="1846.4" r="2.6" fill="#6e7384" stroke="#33343c" stroke-width="0.9"/>
<circle cx="1344.4" cy="1850.3" r="2.6" fill="#6e7384" stroke="#33343c" stroke-width="0.9"/>
<circle cx="1348.6" cy="1886.9" r="2.6" fill="#6e7384" stroke="#33343c" stroke-width="0.9"/>
<circle cx="1342.3" cy="1872.1" r="2.6" fill="#6e7384" stroke="#33343c" stroke-width="0.9"/>
<circle cx="1339.4" cy="1896.8" r="2.6" fill="#6e7384" stroke="#33343c" stroke-width="0.9"/>
<circle cx="1347.9" cy="1898.0" r="2.6" fill="#6e7384" stroke="#33343c" stroke-width="0.9"/>
<circle cx="1347.0" cy="1854.8" r="2.6" fill="#6e7384" stroke="#33343c" stroke-width="0.9"/>
<circle cx="1344.5" cy="1900.7" r="2.6" fill="#6e7384" stroke="#33343c" stroke-width="0.9"/>
<circle cx="1340.1" cy="1904.2" r="2.6" fill="#6e7384" stroke="#33343c" stroke-width="0.9"/>
<circle cx="1326.7" cy="1868.4" r="2.6" fill="#6e7384" stroke="#33343c" stroke-width="0.9"/>
<circle cx="1339.8" cy="1869.9" r="2.6" fill="#6e7384" stroke="#33343c" stroke-width="0.9"/>
<circle cx="1342.1" cy="1832.5" r="2.6" fill="#6e7384" stroke="#33343c" stroke-width="0.9"/>
<circle cx="1350.0" cy="1890.3" r="2.6" fill="#6e7384" stroke="#33343c" stroke-width="0.9"/>
<circle cx="1349.9" cy="1920.0" r="2.6" fill="#6e7384" stroke="#33343c" stroke-width="0.9"/>
<circle cx="1330.2" cy="1835.0" r="2.6" fill="#6e7384" stroke="#33343c" stroke-width="0.9"/>
<circle cx="1347.9" cy="1867.8" r="2.6" fill="#6e7384" stroke="#33343c" stroke-width="0.9"/>
<circle cx="1323.1" cy="1892.3" r="2.6" fill="#6e7384" stroke="#33343c" stroke-width="0.9"/>
<circle cx="1333.8" cy="1859.8" r="2.6" fill="#6e7384" stroke="#33343c" stroke-width="0.9"/>
<circle cx="1335.2" cy="1837.4" r="2.6" fill="#6e7384" stroke="#33343c" stroke-width="0.9"/>
<circle cx="1321.5" cy="1864.7" r="2.6" fill="#6e7384" stroke="#33343c" stroke-width="0.9"/>
<circle cx="1344.6" cy="1881.3" r="2.6" fill="#6e7384" stroke="#33343c" stroke-width="0.9"/>
<circle cx="1325.8" cy="1869.5" r="2.6" fill="#6e7384" stroke="#33343c" stroke-width="0.9"/>
<circle cx="1324.8" cy="1855.6" r="2.6" fill="#6e7384" stroke="#33343c" stroke-width="0.9"/>
<circle cx="1325.1" cy="1915.9" r="2.6" fill="#6e7384" stroke="#33343c" stroke-width="0.9"/>
<circle cx="1345.8" cy="1838.1" r="2.6" fill="#6e7384" stroke="#33343c" stroke-width="0.9"/>
<circle cx="1341.3" cy="1873.8" r="2.6" fill="#6e7384" stroke="#33343c" stroke-width="0.9"/>
<circle cx="1349.1" cy="1905.4" r="2.6" fill="#6e7384" stroke="#33343c" stroke-width="0.9"/>
<circle cx="1323.2" cy="1868.3" r="2.6" fill="#6e7384" stroke="#33343c" stroke-width="0.9"/>
<circle cx="1329.3" cy="1883.5" r="2.6" fill="#6e7384" stroke="#33343c" stroke-width="0.9"/>
<circle cx="1342.5" cy="1908.1" r="2.6" fill="#6e7384" stroke="#33343c" stroke-width="0.9"/>
<circle cx="1345.9" cy="1858.5" r="2.6" fill="#6e7384" stroke="#33343c" stroke-width="0.9"/>
<circle cx="1337.4" cy="1854.7" r="2.6" fill="#6e7384" stroke="#33343c" stroke-width="0.9"/>
<circle cx="1346.0" cy="1868.7" r="2.6" fill="#6e7384" stroke="#33343c" stroke-width="0.9"/>
<circle cx="1347.6" cy="1900.7" r="2.6" fill="#6e7384" stroke="#33343c" stroke-width="0.9"/>
<circle cx="1349.7" cy="1890.6" r="2.6" fill="#6e7384" stroke="#33343c" stroke-width="0.9"/>
<circle cx="1336.3" cy="1920.0" r="2.6" fill="#6e7384" stroke="#33343c" stroke-width="0.9"/>
<circle cx="1336.7" cy="1863.0" r="2.6" fill="#6e7384" stroke="#33343c" stroke-width="0.9"/>
<circle cx="1335.7" cy="1870.6" r="2.6" fill="#6e7384" stroke="#33343c" stroke-width="0.9"/>
<circle cx="1349.7" cy="1873.3" r="2.6" fill="#6e7384" stroke="#33343c" stroke-width="0.9"/>
<circle cx="1336.1" cy="1874.4" r="2.6" fill="#6e7384" stroke="#33343c" stroke-width="0.9"/>
<circle cx="1337.5" cy="1841.6" r="2.6" fill="#6e7384" stroke="#33343c" stroke-width="0.9"/>
<circle cx="1335.3" cy="1904.3" r="2.6" fill="#6e7384" stroke="#33343c" stroke-width="0.9"/>
<circle cx="1401.6" cy="1858.7" r="2.6" fill="#6e7384" stroke="#33343c" stroke-width="0.9"/>
<circle cx="1398.1" cy="1853.4" r="2.6" fill="#6e7384" stroke="#33343c" stroke-width="0.9"/>
<circle cx="1394.0" cy="1912.0" r="2.6" fill="#6e7384" stroke="#33343c" stroke-width="0.9"/>
<circle cx="1399.7" cy="1846.8" r="2.6" fill="#6e7384" stroke="#33343c" stroke-width="0.9"/>
<circle cx="1409.3" cy="1880.6" r="2.6" fill="#6e7384" stroke="#33343c" stroke-width="0.9"/>
<circle cx="1411.7" cy="1881.1" r="2.6" fill="#6e7384" stroke="#33343c" stroke-width="0.9"/>
<circle cx="1391.9" cy="1840.4" r="2.6" fill="#6e7384" stroke="#33343c" stroke-width="0.9"/>
<circle cx="1403.8" cy="1865.2" r="2.6" fill="#6e7384" stroke="#33343c" stroke-width="0.9"/>
<circle cx="1408.3" cy="1873.7" r="2.6" fill="#6e7384" stroke="#33343c" stroke-width="0.9"/>
<circle cx="1387.1" cy="1856.0" r="2.6" fill="#6e7384" stroke="#33343c" stroke-width="0.9"/>
<circle cx="1405.7" cy="1868.2" r="2.6" fill="#6e7384" stroke="#33343c" stroke-width="0.9"/>
<circle cx="1395.5" cy="1878.9" r="2.6" fill="#6e7384" stroke="#33343c" stroke-width="0.9"/>
<circle cx="1389.4" cy="1840.6" r="2.6" fill="#6e7384" stroke="#33343c" stroke-width="0.9"/>
<circle cx="1407.0" cy="1889.4" r="2.6" fill="#6e7384" stroke="#33343c" stroke-width="0.9"/>
<circle cx="1393.5" cy="1883.4" r="2.6" fill="#6e7384" stroke="#33343c" stroke-width="0.9"/>
<circle cx="1392.0" cy="1882.8" r="2.6" fill="#6e7384" stroke="#33343c" stroke-width="0.9"/>
<circle cx="1397.0" cy="1835.7" r="2.6" fill="#6e7384" stroke="#33343c" stroke-width="0.9"/>
<circle cx="1398.1" cy="1856.9" r="2.6" fill="#6e7384" stroke="#33343c" stroke-width="0.9"/>
<circle cx="1392.2" cy="1847.5" r="2.6" fill="#6e7384" stroke="#33343c" stroke-width="0.9"/>
<circle cx="1404.2" cy="1859.3" r="2.6" fill="#6e7384" stroke="#33343c" stroke-width="0.9"/>
<circle cx="1410.3" cy="1842.2" r="2.6" fill="#6e7384" stroke="#33343c" stroke-width="0.9"/>
<circle cx="1403.6" cy="1838.5" r="2.6" fill="#6e7384" stroke="#33343c" stroke-width="0.9"/>
<circle cx="1407.2" cy="1873.3" r="2.6" fill="#6e7384" stroke="#33343c" stroke-width="0.9"/>
<circle cx="1409.2" cy="1847.7" r="2.6" fill="#6e7384" stroke="#33343c" stroke-width="0.9"/>
<circle cx="1395.3" cy="1879.8" r="2.6" fill="#6e7384" stroke="#33343c" stroke-width="0.9"/>
<circle cx="1412.3" cy="1849.5" r="2.6" fill="#6e7384" stroke="#33343c" stroke-width="0.9"/>
<circle cx="1411.4" cy="1879.8" r="2.6" fill="#6e7384" stroke="#33343c" stroke-width="0.9"/>
<circle cx="1390.3" cy="1912.0" r="2.6" fill="#6e7384" stroke="#33343c" stroke-width="0.9"/>
<circle cx="1393.8" cy="1864.7" r="2.6" fill="#6e7384" stroke="#33343c" stroke-width="0.9"/>
<circle cx="1389.2" cy="1902.2" r="2.6" fill="#6e7384" stroke="#33343c" stroke-width="0.9"/>
<circle cx="1408.6" cy="1874.9" r="2.6" fill="#6e7384" stroke="#33343c" stroke-width="0.9"/>
<circle cx="1390.0" cy="1839.2" r="2.6" fill="#6e7384" stroke="#33343c" stroke-width="0.9"/>
<circle cx="1387.0" cy="1830.9" r="2.6" fill="#6e7384" stroke="#33343c" stroke-width="0.9"/>
<circle cx="1392.1" cy="1883.8" r="2.6" fill="#6e7384" stroke="#33343c" stroke-width="0.9"/>
<circle cx="1398.9" cy="1693.8" r="2.6" fill="#6e7384" stroke="#33343c" stroke-width="0.9"/>
<circle cx="1408.1" cy="1698.2" r="2.6" fill="#6e7384" stroke="#33343c" stroke-width="0.9"/>
<circle cx="1412.2" cy="1763.4" r="2.6" fill="#6e7384" stroke="#33343c" stroke-width="0.9"/>
<circle cx="1413.4" cy="1802.2" r="2.6" fill="#6e7384" stroke="#33343c" stroke-width="0.9"/>
<path d="M1335.6 1662.5V1655.0H1400.5V1662.5" fill="none" stroke="#222" stroke-width="1.0"/>
<text x="1368.0" y="1651.8" font-size="17.5" fill="#000" text-anchor="middle">0.013</text>
<path d="M1270.3 1689.9V1682.4H1400.5V1689.9" fill="none" stroke="#222" stroke-width="1.0"/>
<text x="1335.4" y="1679.2" font-size="17.5" fill="#000" text-anchor="middle"></text>
<text x="1344.7" y="1679.2" font-size="17.5" fill="#000" text-anchor="middle">0.0058</text>
<text x="1274.5" y="1978.7" font-size="19.5" fill="#000" text-anchor="middle">n = 19</text>
<text x="1339.5" y="1978.7" font-size="19.5" fill="#000" text-anchor="middle">n = 52</text>
<text x="1404.3" y="1978.7" font-size="19.5" fill="#000" text-anchor="middle">n = 38</text>
<text x="1183.2" y="1786.4" font-size="19.5" fill="#000" text-anchor="middle" transform="rotate(-90 1183.2 1786.4)">Proteomics Log10(Value)</text>
<text x="872.6" y="2022.8" font-size="19.5" fill="#000" font-weight="bold">Tissue type</text>
<line x1="1003.4" y1="2000.9" x2="1003.4" y2="2021.7" stroke="#3a3a3a" stroke-width="1.1"/>
<rect x="992.4" y="2003.9" width="22.0" height="14.8" fill="#00524a" stroke="#3a3a3a" stroke-width="1.2"/>
<line x1="992.4" y1="2011.3" x2="1014.4" y2="2011.3" stroke="#3a3a3a" stroke-width="1.2"/>
<text x="1020.7" y="2016.5" font-size="19.5" fill="#000">distant tumor-</text>
<text x="1020.7" y="2040.8" font-size="19.5" fill="#000">free omentum</text>
<line x1="1165.4" y1="2000.9" x2="1165.4" y2="2021.7" stroke="#3a3a3a" stroke-width="1.1"/>
<rect x="1154.7" y="2003.9" width="21.4" height="14.8" fill="#00aeb5" stroke="#3a3a3a" stroke-width="1.2"/>
<line x1="1154.7" y1="2011.3" x2="1176.1" y2="2011.3" stroke="#3a3a3a" stroke-width="1.2"/>
<text x="1181.5" y="2016.5" font-size="19.5" fill="#000">Primary tumor</text>
<text x="1181.5" y="2040.8" font-size="19.5" fill="#000">(ovary)</text>
<line x1="1329.8" y1="2000.9" x2="1329.8" y2="2021.7" stroke="#3a3a3a" stroke-width="1.1"/>
<rect x="1318.9" y="2003.9" width="21.7" height="14.8" fill="#dc1f3a" stroke="#3a3a3a" stroke-width="1.2"/>
<line x1="1318.9" y1="2011.3" x2="1340.6" y2="2011.3" stroke="#3a3a3a" stroke-width="1.2"/>
<text x="1346.3" y="2016.5" font-size="19.5" fill="#000">Omentum</text>
<text x="1346.3" y="2040.8" font-size="19.5" fill="#000">metastasis</text>
<text x="1457.5" y="1629.8" font-size="38.5" fill="#231f20" font-weight="bold">J</text>
<text x="1518.5" y="1618.8" font-size="19.3" fill="#000" font-weight="bold"><tspan font-style="italic">RUNX1</tspan> expression</text>
<text x="1786.5" y="1622.0" font-size="19.6" fill="#000" font-weight="bold">Macrophages</text>
<line x1="1540.9" y1="1641.2" x2="1731.2" y2="1641.2" stroke="#e8e8e8" stroke-width="0.8"/>
<line x1="1540.9" y1="1676.5" x2="1731.2" y2="1676.5" stroke="#e8e8e8" stroke-width="1.3"/>
<line x1="1540.9" y1="1712.4" x2="1731.2" y2="1712.4" stroke="#e8e8e8" stroke-width="0.8"/>
<line x1="1540.9" y1="1748.2" x2="1731.2" y2="1748.2" stroke="#e8e8e8" stroke-width="1.3"/>
<line x1="1540.9" y1="1783.8" x2="1731.2" y2="1783.8" stroke="#e8e8e8" stroke-width="0.8"/>
<line x1="1540.9" y1="1819.7" x2="1731.2" y2="1819.7" stroke="#e8e8e8" stroke-width="1.3"/>
<line x1="1540.9" y1="1855.3" x2="1731.2" y2="1855.3" stroke="#e8e8e8" stroke-width="0.8"/>
<line x1="1540.9" y1="1890.9" x2="1731.2" y2="1890.9" stroke="#e8e8e8" stroke-width="1.3"/>
<line x1="1540.9" y1="1926.5" x2="1731.2" y2="1926.5" stroke="#e8e8e8" stroke-width="0.8"/>
<line x1="1592.4" y1="1633.8" x2="1592.4" y2="1957.4" stroke="#e8e8e8" stroke-width="1.3"/>
<line x1="1678.8" y1="1633.8" x2="1678.8" y2="1957.4" stroke="#e8e8e8" stroke-width="1.3"/>
<text x="1537.0" y="1681.3" font-size="19.5" fill="#4d4d4d" text-anchor="end">12</text>
<text x="1537.0" y="1753.0" font-size="19.5" fill="#4d4d4d" text-anchor="end">11</text>
<text x="1537.0" y="1824.5" font-size="19.5" fill="#4d4d4d" text-anchor="end">10</text>
<text x="1537.0" y="1895.7" font-size="19.5" fill="#4d4d4d" text-anchor="end">9</text>
<line x1="1592.6" y1="1690.3" x2="1592.6" y2="1784.1" stroke="#1a1a1a" stroke-width="1.1"/>
<line x1="1592.6" y1="1850.9" x2="1592.6" y2="1930.0" stroke="#1a1a1a" stroke-width="1.1"/>
<rect x="1566.5" y="1784.1" width="52.4" height="66.8" fill="#00aeb5" stroke="#1a1a1a" stroke-width="1.1"/>
<line x1="1566.5" y1="1802.6" x2="1618.8" y2="1802.6" stroke="#1a1a1a" stroke-width="1.8"/>
<line x1="1679.7" y1="1662.4" x2="1679.7" y2="1713.5" stroke="#1a1a1a" stroke-width="1.1"/>
<line x1="1679.7" y1="1800.0" x2="1679.7" y2="1911.5" stroke="#1a1a1a" stroke-width="1.1"/>
<rect x="1653.8" y="1713.5" width="51.8" height="86.5" fill="#dc1f3a" stroke="#1a1a1a" stroke-width="1.1"/>
<line x1="1653.8" y1="1755.0" x2="1705.6" y2="1755.0" stroke="#1a1a1a" stroke-width="1.8"/>
<circle cx="1587.6" cy="1690.3" r="2.3" fill="#a8dce8" stroke="#10181c" stroke-width="1.0"/>
<circle cx="1597.6" cy="1739.1" r="2.3" fill="#a8dce8" stroke="#10181c" stroke-width="1.0"/>
<circle cx="1592.4" cy="1763.5" r="2.3" fill="#a8dce8" stroke="#10181c" stroke-width="1.0"/>
<circle cx="1590.3" cy="1766.5" r="2.3" fill="#a8dce8" stroke="#10181c" stroke-width="1.0"/>
<circle cx="1603.8" cy="1780.0" r="2.3" fill="#a8dce8" stroke="#10181c" stroke-width="1.0"/>
<circle cx="1582.4" cy="1784.7" r="2.3" fill="#a8dce8" stroke="#10181c" stroke-width="1.0"/>
<circle cx="1593.2" cy="1783.2" r="2.3" fill="#a8dce8" stroke="#10181c" stroke-width="1.0"/>
<circle cx="1582.4" cy="1786.8" r="2.3" fill="#a8dce8" stroke="#10181c" stroke-width="1.0"/>
<circle cx="1589.4" cy="1791.2" r="2.3" fill="#a8dce8" stroke="#10181c" stroke-width="1.0"/>
<circle cx="1599.1" cy="1790.0" r="2.3" fill="#a8dce8" stroke="#10181c" stroke-width="1.0"/>
<circle cx="1606.8" cy="1797.4" r="2.3" fill="#a8dce8" stroke="#10181c" stroke-width="1.0"/>
<circle cx="1599.7" cy="1799.1" r="2.3" fill="#a8dce8" stroke="#10181c" stroke-width="1.0"/>
<circle cx="1603.5" cy="1805.9" r="2.3" fill="#a8dce8" stroke="#10181c" stroke-width="1.0"/>
<circle cx="1597.1" cy="1825.9" r="2.3" fill="#a8dce8" stroke="#10181c" stroke-width="1.0"/>
<circle cx="1602.4" cy="1827.4" r="2.3" fill="#a8dce8" stroke="#10181c" stroke-width="1.0"/>
<circle cx="1580.3" cy="1841.8" r="2.3" fill="#a8dce8" stroke="#10181c" stroke-width="1.0"/>
<circle cx="1582.4" cy="1844.1" r="2.3" fill="#a8dce8" stroke="#10181c" stroke-width="1.0"/>
<circle cx="1598.8" cy="1849.1" r="2.3" fill="#a8dce8" stroke="#10181c" stroke-width="1.0"/>
<circle cx="1601.8" cy="1855.6" r="2.3" fill="#a8dce8" stroke="#10181c" stroke-width="1.0"/>
<circle cx="1608.2" cy="1857.1" r="2.3" fill="#a8dce8" stroke="#10181c" stroke-width="1.0"/>
<circle cx="1609.1" cy="1861.5" r="2.3" fill="#a8dce8" stroke="#10181c" stroke-width="1.0"/>
<circle cx="1575.6" cy="1860.3" r="2.3" fill="#a8dce8" stroke="#10181c" stroke-width="1.0"/>
<circle cx="1580.6" cy="1905.6" r="2.3" fill="#a8dce8" stroke="#10181c" stroke-width="1.0"/>
<circle cx="1598.2" cy="1929.4" r="2.3" fill="#a8dce8" stroke="#10181c" stroke-width="1.0"/>
<circle cx="1665.0" cy="1662.6" r="2.3" fill="#a8dce8" stroke="#10181c" stroke-width="1.0"/>
<circle cx="1674.4" cy="1677.1" r="2.3" fill="#a8dce8" stroke="#10181c" stroke-width="1.0"/>
<circle cx="1675.6" cy="1684.4" r="2.3" fill="#a8dce8" stroke="#10181c" stroke-width="1.0"/>
<circle cx="1678.5" cy="1686.5" r="2.3" fill="#a8dce8" stroke="#10181c" stroke-width="1.0"/>
<circle cx="1685.6" cy="1702.6" r="2.3" fill="#a8dce8" stroke="#10181c" stroke-width="1.0"/>
<circle cx="1690.9" cy="1724.4" r="2.3" fill="#a8dce8" stroke="#10181c" stroke-width="1.0"/>
<circle cx="1693.5" cy="1742.6" r="2.3" fill="#a8dce8" stroke="#10181c" stroke-width="1.0"/>
<circle cx="1671.2" cy="1746.5" r="2.3" fill="#a8dce8" stroke="#10181c" stroke-width="1.0"/>
<circle cx="1690.3" cy="1752.6" r="2.3" fill="#a8dce8" stroke="#10181c" stroke-width="1.0"/>
<circle cx="1664.4" cy="1755.3" r="2.3" fill="#a8dce8" stroke="#10181c" stroke-width="1.0"/>
<circle cx="1667.6" cy="1764.4" r="2.3" fill="#a8dce8" stroke="#10181c" stroke-width="1.0"/>
<circle cx="1685.3" cy="1769.1" r="2.3" fill="#a8dce8" stroke="#10181c" stroke-width="1.0"/>
<circle cx="1674.4" cy="1781.5" r="2.3" fill="#a8dce8" stroke="#10181c" stroke-width="1.0"/>
<circle cx="1683.8" cy="1790.6" r="2.3" fill="#a8dce8" stroke="#10181c" stroke-width="1.0"/>
<circle cx="1687.6" cy="1810.0" r="2.3" fill="#a8dce8" stroke="#10181c" stroke-width="1.0"/>
<circle cx="1682.6" cy="1826.5" r="2.3" fill="#a8dce8" stroke="#10181c" stroke-width="1.0"/>
<circle cx="1684.7" cy="1839.4" r="2.3" fill="#a8dce8" stroke="#10181c" stroke-width="1.0"/>
<circle cx="1687.9" cy="1911.5" r="2.3" fill="#a8dce8" stroke="#10181c" stroke-width="1.0"/>
<circle cx="1677.9" cy="1942.6" r="2.3" fill="#a8dce8" stroke="#10181c" stroke-width="1.0"/>
<line x1="1592.4" y1="1651.5" x2="1678.8" y2="1651.5" stroke="#222" stroke-width="1.0"/>
<text x="1636.0" y="1648.2" font-size="19.5" fill="#000" text-anchor="middle">0.0076</text>
<text x="1595.3" y="1975.6" font-size="19.5" fill="#000" text-anchor="middle">n = 24</text>
<text x="1685.0" y="1975.6" font-size="19.5" fill="#000" text-anchor="middle">n = 19</text>
<text x="1506.3" y="1774.1" font-size="19.5" fill="#000" text-anchor="middle" transform="rotate(-90 1506.3 1774.1)">bkRNAseq Log10(RUNX1)</text>
<line x1="1778.2" y1="1641.2" x2="1969.4" y2="1641.2" stroke="#e8e8e8" stroke-width="1.3"/>
<line x1="1778.2" y1="1690.6" x2="1969.4" y2="1690.6" stroke="#e8e8e8" stroke-width="0.8"/>
<line x1="1778.2" y1="1740.3" x2="1969.4" y2="1740.3" stroke="#e8e8e8" stroke-width="1.3"/>
<line x1="1778.2" y1="1789.4" x2="1969.4" y2="1789.4" stroke="#e8e8e8" stroke-width="0.8"/>
<line x1="1778.2" y1="1838.8" x2="1969.4" y2="1838.8" stroke="#e8e8e8" stroke-width="1.3"/>
<line x1="1778.2" y1="1888.2" x2="1969.4" y2="1888.2" stroke="#e8e8e8" stroke-width="0.8"/>
<line x1="1778.2" y1="1937.9" x2="1969.4" y2="1937.9" stroke="#e8e8e8" stroke-width="1.3"/>
<line x1="1830.3" y1="1630.0" x2="1830.3" y2="1953.0" stroke="#e8e8e8" stroke-width="1.3"/>
<line x1="1916.5" y1="1630.0" x2="1916.5" y2="1953.0" stroke="#e8e8e8" stroke-width="1.3"/>
<text x="1778.8" y="1643.8" font-size="19.5" fill="#4d4d4d" text-anchor="end">0.3</text>
<text x="1778.8" y="1742.9" font-size="19.5" fill="#4d4d4d" text-anchor="end">0.2</text>
<text x="1778.8" y="1841.4" font-size="19.5" fill="#4d4d4d" text-anchor="end">0.1</text>
<line x1="1830.1" y1="1685.9" x2="1830.1" y2="1778.2" stroke="#1a1a1a" stroke-width="1.1"/>
<line x1="1830.1" y1="1863.8" x2="1830.1" y2="1938.8" stroke="#1a1a1a" stroke-width="1.1"/>
<rect x="1804.1" y="1778.2" width="52.1" height="85.6" fill="#00aeb5" stroke="#1a1a1a" stroke-width="1.1"/>
<line x1="1804.1" y1="1813.2" x2="1856.2" y2="1813.2" stroke="#1a1a1a" stroke-width="1.8"/>
<line x1="1916.5" y1="1657.9" x2="1916.5" y2="1740.3" stroke="#1a1a1a" stroke-width="1.1"/>
<line x1="1916.5" y1="1831.5" x2="1916.5" y2="1938.2" stroke="#1a1a1a" stroke-width="1.1"/>
<rect x="1890.6" y="1740.3" width="51.8" height="91.2" fill="#dc1f3a" stroke="#1a1a1a" stroke-width="1.1"/>
<line x1="1890.6" y1="1798.8" x2="1942.4" y2="1798.8" stroke="#1a1a1a" stroke-width="1.8"/>
<circle cx="1817.4" cy="1685.9" r="2.3" fill="#a8dce8" stroke="#10181c" stroke-width="1.0"/>
<circle cx="1845.0" cy="1716.5" r="2.3" fill="#a8dce8" stroke="#10181c" stroke-width="1.0"/>
<circle cx="1814.7" cy="1737.1" r="2.3" fill="#a8dce8" stroke="#10181c" stroke-width="1.0"/>
<circle cx="1831.2" cy="1740.0" r="2.3" fill="#a8dce8" stroke="#10181c" stroke-width="1.0"/>
<circle cx="1843.8" cy="1765.9" r="2.3" fill="#a8dce8" stroke="#10181c" stroke-width="1.0"/>
<circle cx="1843.8" cy="1774.7" r="2.3" fill="#a8dce8" stroke="#10181c" stroke-width="1.0"/>
<circle cx="1828.8" cy="1779.4" r="2.3" fill="#a8dce8" stroke="#10181c" stroke-width="1.0"/>
<circle cx="1837.1" cy="1782.1" r="2.3" fill="#a8dce8" stroke="#10181c" stroke-width="1.0"/>
<circle cx="1820.0" cy="1784.7" r="2.3" fill="#a8dce8" stroke="#10181c" stroke-width="1.0"/>
<circle cx="1831.2" cy="1792.6" r="2.3" fill="#a8dce8" stroke="#10181c" stroke-width="1.0"/>
<circle cx="1839.4" cy="1806.8" r="2.3" fill="#a8dce8" stroke="#10181c" stroke-width="1.0"/>
<circle cx="1820.9" cy="1811.5" r="2.3" fill="#a8dce8" stroke="#10181c" stroke-width="1.0"/>
<circle cx="1819.4" cy="1815.3" r="2.3" fill="#a8dce8" stroke="#10181c" stroke-width="1.0"/>
<circle cx="1838.8" cy="1835.0" r="2.3" fill="#a8dce8" stroke="#10181c" stroke-width="1.0"/>
<circle cx="1821.8" cy="1835.9" r="2.3" fill="#a8dce8" stroke="#10181c" stroke-width="1.0"/>
<circle cx="1838.5" cy="1841.2" r="2.3" fill="#a8dce8" stroke="#10181c" stroke-width="1.0"/>
<circle cx="1834.7" cy="1847.9" r="2.3" fill="#a8dce8" stroke="#10181c" stroke-width="1.0"/>
<circle cx="1815.0" cy="1860.9" r="2.3" fill="#a8dce8" stroke="#10181c" stroke-width="1.0"/>
<circle cx="1823.5" cy="1872.1" r="2.3" fill="#a8dce8" stroke="#10181c" stroke-width="1.0"/>
<circle cx="1840.9" cy="1880.0" r="2.3" fill="#a8dce8" stroke="#10181c" stroke-width="1.0"/>
<circle cx="1839.1" cy="1904.4" r="2.3" fill="#a8dce8" stroke="#10181c" stroke-width="1.0"/>
<circle cx="1820.3" cy="1931.2" r="2.3" fill="#a8dce8" stroke="#10181c" stroke-width="1.0"/>
<circle cx="1832.1" cy="1931.5" r="2.3" fill="#a8dce8" stroke="#10181c" stroke-width="1.0"/>
<circle cx="1828.5" cy="1937.9" r="2.3" fill="#a8dce8" stroke="#10181c" stroke-width="1.0"/>
<circle cx="1923.8" cy="1657.6" r="2.3" fill="#a8dce8" stroke="#10181c" stroke-width="1.0"/>
<circle cx="1900.0" cy="1707.4" r="2.3" fill="#a8dce8" stroke="#10181c" stroke-width="1.0"/>
<circle cx="1924.1" cy="1715.9" r="2.3" fill="#a8dce8" stroke="#10181c" stroke-width="1.0"/>
<circle cx="1915.6" cy="1717.6" r="2.3" fill="#a8dce8" stroke="#10181c" stroke-width="1.0"/>
<circle cx="1921.5" cy="1730.6" r="2.3" fill="#a8dce8" stroke="#10181c" stroke-width="1.0"/>
<circle cx="1921.8" cy="1749.7" r="2.3" fill="#a8dce8" stroke="#10181c" stroke-width="1.0"/>
<circle cx="1917.1" cy="1767.1" r="2.3" fill="#a8dce8" stroke="#10181c" stroke-width="1.0"/>
<circle cx="1922.9" cy="1771.2" r="2.3" fill="#a8dce8" stroke="#10181c" stroke-width="1.0"/>
<circle cx="1932.6" cy="1794.7" r="2.3" fill="#a8dce8" stroke="#10181c" stroke-width="1.0"/>
<circle cx="1900.0" cy="1798.8" r="2.3" fill="#a8dce8" stroke="#10181c" stroke-width="1.0"/>
<circle cx="1929.7" cy="1807.1" r="2.3" fill="#a8dce8" stroke="#10181c" stroke-width="1.0"/>
<circle cx="1926.8" cy="1810.0" r="2.3" fill="#a8dce8" stroke="#10181c" stroke-width="1.0"/>
<circle cx="1902.6" cy="1809.4" r="2.3" fill="#a8dce8" stroke="#10181c" stroke-width="1.0"/>
<circle cx="1917.6" cy="1825.6" r="2.3" fill="#a8dce8" stroke="#10181c" stroke-width="1.0"/>
<circle cx="1928.8" cy="1837.6" r="2.3" fill="#a8dce8" stroke="#10181c" stroke-width="1.0"/>
<circle cx="1907.4" cy="1849.7" r="2.3" fill="#a8dce8" stroke="#10181c" stroke-width="1.0"/>
<circle cx="1930.0" cy="1914.7" r="2.3" fill="#a8dce8" stroke="#10181c" stroke-width="1.0"/>
<circle cx="1913.5" cy="1937.9" r="2.3" fill="#a8dce8" stroke="#10181c" stroke-width="1.0"/>
<line x1="1830.3" y1="1650.6" x2="1916.5" y2="1650.6" stroke="#222" stroke-width="1.0"/>
<text x="1872.0" y="1647.3" font-size="19.5" fill="#000" text-anchor="middle">0.31</text>
<text x="1824.9" y="1975.6" font-size="19.5" fill="#000" text-anchor="middle">n = 24</text>
<text x="1914.5" y="1975.6" font-size="19.5" fill="#000" text-anchor="middle">n = 19</text>
<text x="1742.3" y="1791.8" font-size="19.5" fill="#000" text-anchor="middle" transform="rotate(-90 1742.3 1791.8)">Macrophages xCell score</text>
<text x="1547.4" y="2019.2" font-size="19.5" fill="#000" font-weight="bold">Tissue type</text>
<line x1="1679.8" y1="2000.5" x2="1679.8" y2="2021.8" stroke="#3a3a3a" stroke-width="1.1"/>
<rect x="1668.8" y="2003.5" width="22.1" height="15.3" fill="#00aeb5" stroke="#3a3a3a" stroke-width="1.2"/>
<line x1="1668.8" y1="2011.2" x2="1690.9" y2="2011.2" stroke="#3a3a3a" stroke-width="1.2"/>
<text x="1696.8" y="2016.5" font-size="19.5" fill="#000">Primary tumor</text>
<text x="1696.8" y="2040.0" font-size="19.5" fill="#000">(ovary)</text>
<line x1="1842.2" y1="2000.5" x2="1842.2" y2="2021.8" stroke="#3a3a3a" stroke-width="1.1"/>
<rect x="1831.2" y="2003.5" width="22.0" height="15.3" fill="#dc1f3a" stroke="#3a3a3a" stroke-width="1.2"/>
<line x1="1831.2" y1="2011.2" x2="1853.2" y2="2011.2" stroke="#3a3a3a" stroke-width="1.2"/>
<text x="1859.1" y="2016.5" font-size="19.5" fill="#000">Omentum</text>
<text x="1859.1" y="2040.0" font-size="19.5" fill="#000">metastasis</text>
</svg></body></html>
